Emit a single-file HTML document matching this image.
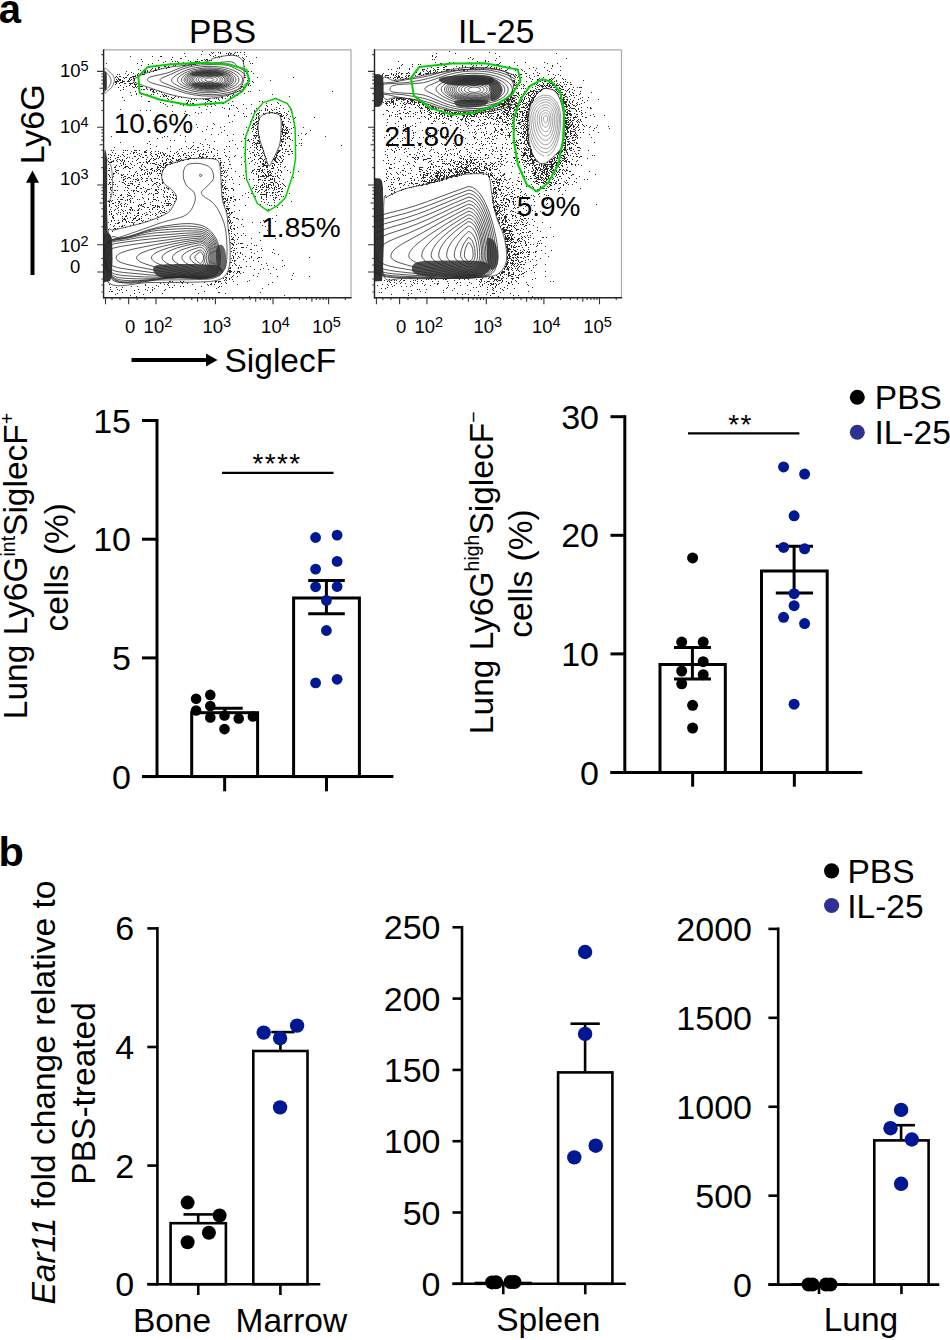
<!DOCTYPE html>
<html><head><meta charset="utf-8"><style>
html,body{margin:0;padding:0;background:#fff;}
body{width:950px;height:1340px;overflow:hidden;}
svg{display:block;font-family:"Liberation Sans", sans-serif;}
</style></head><body>
<svg width="950" height="1340" viewBox="0 0 950 1340">
<rect width="950" height="1340" fill="#fff"/>
<clipPath id="clipL"><rect x="103.6" y="49.8" width="247.4" height="248.0"/></clipPath>
<g clip-path="url(#clipL)">
<path d="M103.0,233.0L108.5,232.5L111.0,236.0L112.3,245.0L112.5,260.0L111.8,276.0L110.0,281.0L103.0,282.5Z" fill="#333" fill-opacity="1.0"/>
<path d="M104.3,73.0C104.7,70.2 106.1,71.7 106.5,73.0C106.9,74.3 106.8,78.2 106.8,81.0C106.8,83.8 106.9,88.1 106.5,89.5C106.1,90.9 104.7,92.2 104.3,89.5C103.9,86.8 103.9,75.8 104.3,73.0Z" fill="#333" fill-opacity="1.0"/>
<path d="M104.3,156.0C104.7,143.3 106.3,153.0 106.8,157.0C107.3,161.0 107.2,172.0 107.2,180.0C107.2,188.0 107.0,196.3 107.0,205.0C107.0,213.7 108.0,227.3 107.5,232.0C107.0,236.7 104.8,245.7 104.3,233.0C103.8,220.3 103.9,168.7 104.3,156.0Z" fill="#333" fill-opacity="1.0"/>
<path d="M192.0,72.5C194.3,72.0 200.7,71.6 205.0,71.5C209.3,71.4 214.8,71.6 218.0,72.0C221.2,72.4 223.7,73.3 224.0,74.0C224.3,74.7 222.7,75.8 220.0,76.2C217.3,76.6 212.0,76.5 208.0,76.5C204.0,76.5 198.8,76.5 196.0,76.2C193.2,75.9 191.7,75.1 191.0,74.5C190.3,73.9 189.7,73.0 192.0,72.5Z" fill="#333" fill-opacity="0.6"/>
<path d="M194.0,83.0C196.7,82.6 203.5,82.5 208.0,82.6C212.5,82.7 219.0,82.8 221.0,83.5C223.0,84.2 222.2,85.8 220.0,86.5C217.8,87.2 212.0,87.6 208.0,87.6C204.0,87.6 198.7,87.0 196.0,86.6C193.3,86.2 192.3,85.6 192.0,85.0C191.7,84.4 191.3,83.4 194.0,83.0Z" fill="#333" fill-opacity="0.6"/>
<path d="M155.0,266.0C159.2,263.8 176.7,264.2 185.0,264.0C193.3,263.8 199.5,264.2 205.0,264.5C210.5,264.8 215.0,264.8 218.0,266.0C221.0,267.2 223.5,270.2 223.0,272.0C222.5,273.8 220.5,276.0 215.0,277.0C209.5,278.0 199.2,277.8 190.0,277.8C180.8,277.8 165.8,279.0 160.0,277.0C154.2,275.0 150.8,268.2 155.0,266.0Z" fill="#333" fill-opacity="0.85"/>
<path d="M217.0,247.0C218.0,244.8 220.6,244.2 222.0,245.0C223.4,245.8 224.8,248.5 225.5,252.0C226.2,255.5 226.6,262.7 226.0,266.0C225.4,269.3 223.3,271.7 222.0,272.0C220.7,272.3 219.0,270.3 218.0,268.0C217.0,265.7 216.2,261.5 216.0,258.0C215.8,254.5 216.0,249.2 217.0,247.0Z" fill="#333" fill-opacity="0.75"/>
<path d="M210.9,81.3L208.4,81.4L206.4,81.0L205.1,80.3L204.9,79.8L204.9,79.3L205.4,78.8L206.5,78.3L207.9,78.0L209.4,77.9L210.9,78.0L212.3,78.3L213.3,78.8L213.8,79.3L213.9,79.8L213.4,80.4L212.4,81.0L210.9,81.3M213.4,82.4L211.4,82.7L209.4,82.8L207.4,82.7L205.0,82.3L203.4,81.7L201.9,80.8L201.5,80.3L201.4,79.8L201.4,79.3L202.2,78.3L203.0,77.8L204.1,77.3L206.1,76.8L209.9,76.5L211.9,76.7L213.9,77.0L215.4,77.6L216.6,78.3L217.0,78.8L217.3,79.8L216.9,80.7L216.1,81.3L215.2,81.8L213.4,82.4M211.9,83.8L209.4,83.9L206.5,83.8L203.9,83.4L201.9,82.8L200.4,82.1L199.2,81.3L198.5,80.3L198.4,79.3L198.9,78.5L199.5,77.8L201.4,76.8L204.6,75.8L208.4,75.4L211.9,75.5L215.4,76.0L217.9,76.9L218.9,77.5L219.7,78.3L220.2,79.3L220.1,80.3L219.4,81.3L218.8,81.8L217.4,82.5L215.9,83.1L211.9,83.8M210.4,84.8L207.4,84.8L204.4,84.4L201.4,83.8L199.4,83.0L197.9,82.3L196.8,81.3L196.2,80.3L196.1,79.8L196.3,78.8L197.1,77.8L197.9,77.2L199.4,76.3L200.9,75.7L204.9,74.8L209.4,74.5L213.9,74.8L217.9,75.7L219.4,76.3L220.9,77.2L221.6,77.8L222.3,78.8L222.4,79.8L222.1,80.8L221.3,81.8L219.7,82.8L217.9,83.6L215.4,84.2L212.9,84.6L210.4,84.8M214.9,85.3L211.4,85.6L207.4,85.6L203.9,85.3L200.4,84.6L197.4,83.5L195.3,82.3L194.8,81.8L194.0,80.8L193.9,80.3L193.8,79.3L194.3,78.3L195.2,77.3L196.6,76.3L198.4,75.4L202.4,74.3L207.4,73.6L212.4,73.7L214.9,74.0L217.4,74.4L219.4,75.0L221.3,75.8L222.9,76.8L224.0,77.8L224.5,78.8L224.7,79.3L224.6,80.3L224.1,81.3L223.1,82.3L221.6,83.3L219.9,84.0L217.4,84.8L214.9,85.3M215.4,85.9L211.4,86.2L207.4,86.2L203.4,85.9L199.4,85.0L196.0,83.8L193.6,82.3L192.4,80.8L192.3,80.3L192.3,79.3L192.7,78.3L193.5,77.3L194.8,76.3L196.9,75.2L198.9,74.5L201.4,73.8L203.9,73.4L206.9,73.1L212.4,73.1L215.4,73.4L217.9,73.9L220.4,74.6L222.1,75.3L223.9,76.3L225.1,77.3L225.8,78.3L226.2,79.8L225.6,81.3L224.8,82.3L223.4,83.3L220.9,84.5L218.4,85.3L215.4,85.9M211.9,86.8L207.4,86.8L203.4,86.5L199.6,85.8L196.3,84.8L193.2,83.3L191.4,81.8L190.7,80.3L190.8,78.8L191.8,77.3L193.0,76.3L194.7,75.3L196.9,74.4L199.4,73.6L202.4,73.0L205.4,72.6L208.4,72.4L211.4,72.4L214.4,72.6L217.4,73.1L220.3,73.8L222.4,74.5L224.4,75.5L225.9,76.5L227.1,77.8L227.6,79.3L227.4,80.8L226.4,82.3L224.4,83.8L221.9,84.9L218.9,85.8L215.4,86.5L211.9,86.8M213.4,87.3L208.9,87.5L203.9,87.2L199.4,86.4L195.4,85.3L192.2,83.8L190.2,82.3L189.2,80.8L189.0,79.8L189.2,78.8L190.2,77.3L191.3,76.3L193.4,75.0L195.9,73.9L198.9,73.0L201.9,72.4L204.9,72.0L208.4,71.8L211.9,71.8L215.4,72.1L218.4,72.6L221.4,73.4L223.9,74.3L225.9,75.3L227.4,76.4L228.6,77.8L229.1,79.3L228.9,80.8L228.0,82.3L226.1,83.8L223.9,85.0L220.9,86.0L217.4,86.8L213.4,87.3M214.4,87.8L209.4,88.1L204.4,87.8L199.4,87.1L194.9,85.9L191.4,84.4L189.0,82.8L188.1,81.8L187.5,80.8L187.4,79.8L187.6,78.8L188.5,77.3L189.9,76.1L191.9,74.8L194.4,73.7L197.4,72.7L200.4,72.0L203.9,71.5L207.9,71.2L211.4,71.2L214.9,71.5L218.4,72.0L221.4,72.6L224.4,73.6L226.8,74.8L228.4,75.8L229.8,77.3L230.5,78.8L230.6,79.8L230.4,80.8L229.6,82.3L227.9,83.8L225.4,85.2L222.4,86.3L218.9,87.2L214.4,87.8M215.4,88.3L209.9,88.7L204.4,88.4L198.9,87.7L194.4,86.5L190.2,84.8L188.5,83.8L187.2,82.8L186.4,81.8L185.9,80.8L185.7,79.8L185.9,78.8L186.8,77.3L188.5,75.8L190.9,74.3L193.4,73.2L196.4,72.3L199.9,71.4L203.9,70.9L207.9,70.6L211.9,70.6L215.4,70.9L218.9,71.4L222.4,72.2L225.4,73.2L227.9,74.3L230.0,75.8L231.4,77.3L232.0,78.8L232.1,79.8L232.0,80.8L231.5,81.8L230.7,82.8L228.9,84.3L226.0,85.8L222.9,86.9L219.4,87.7L215.4,88.3M216.4,88.8L210.4,89.2L204.4,89.0L198.4,88.2L193.4,87.0L189.2,85.3L187.4,84.3L186.0,83.3L185.0,82.3L184.3,81.3L184.0,80.3L184.2,78.8L185.1,77.3L186.7,75.8L189.0,74.3L191.9,73.0L194.9,71.9L198.9,71.0L202.9,70.4L206.9,70.0L210.9,70.0L214.9,70.2L218.9,70.7L222.9,71.6L225.9,72.5L228.7,73.8L231.1,75.3L232.6,76.8L233.2,77.8L233.6,78.8L233.6,79.8L233.5,80.8L233.0,81.8L232.3,82.8L230.6,84.3L228.0,85.8L224.9,87.0L220.9,88.1L216.4,88.8M215.9,89.8L209.9,90.1L203.4,89.9L197.4,89.0L191.9,87.6L189.4,86.7L186.9,85.6L184.9,84.5L183.2,83.3L182.3,82.3L181.6,81.3L181.3,80.3L181.6,78.8L182.5,77.3L184.7,75.3L187.4,73.7L190.9,72.1L194.4,71.0L198.4,70.1L202.9,69.4L207.4,69.1L211.9,69.1L216.9,69.5L220.9,70.1L224.9,71.0L227.9,72.0L230.9,73.4L233.4,75.1L234.9,76.8L235.5,77.8L235.8,78.8L235.9,79.8L235.7,80.8L235.3,81.8L234.7,82.8L233.7,83.8L232.4,84.9L229.4,86.5L225.4,88.0L220.9,89.1L215.9,89.8M211.9,91.3L205.4,91.2L199.4,90.6L193.4,89.5L188.4,88.0L183.4,85.9L179.9,83.8L178.4,82.3L177.7,81.3L177.4,80.3L177.5,79.3L178.0,78.3L178.7,77.3L181.0,75.3L184.4,73.2L188.4,71.4L192.9,70.0L197.4,69.0L202.4,68.3L207.4,67.9L212.9,68.0L217.9,68.3L222.4,69.0L226.9,70.1L230.9,71.6L234.2,73.3L236.8,75.3L238.3,77.3L238.7,78.3L238.9,79.8L238.6,81.3L238.1,82.3L237.0,83.8L235.9,84.8L232.9,86.7L228.4,88.6L223.4,90.0L217.4,90.9L211.9,91.3M211.4,92.8L204.4,92.7L197.9,92.0L191.9,90.9L185.9,89.1L182.9,88.0L179.4,86.5L174.5,83.8L172.6,82.3L171.8,81.3L171.5,80.3L171.7,79.3L172.3,78.3L173.3,77.3L176.9,74.8L181.9,72.0L186.4,70.1L191.4,68.6L195.9,67.6L200.9,66.9L206.9,66.4L213.4,66.4L219.4,66.9L223.9,67.5L228.4,68.6L233.4,70.4L237.1,72.3L239.8,74.3L240.9,75.4L241.9,76.8L242.3,77.8L242.6,79.3L242.5,80.8L241.9,82.3L240.9,83.8L239.4,85.3L237.9,86.4L235.9,87.6L231.4,89.5L225.4,91.2L218.4,92.3L211.4,92.8M245.9,83.5L244.8,84.8L243.8,85.8L242.4,86.9L240.4,88.2L236.4,90.1L230.9,92.0L225.9,93.1L218.9,94.2L212.4,94.6L205.4,94.5L199.4,94.1L193.4,93.2L188.4,92.1L183.4,90.7L177.4,88.5L163.4,82.8L160.8,81.3L160.1,80.3L160.1,79.8L160.3,79.3L160.7,78.8L162.3,77.8L170.9,74.3L180.4,69.9L185.4,68.1L190.9,66.6L195.4,65.7L200.4,65.0L205.9,64.7L212.4,64.5L220.9,64.7L225.4,65.1L228.4,65.6L230.9,66.5L234.4,68.0L240.4,71.0L243.6,73.3L244.9,74.5L245.9,75.8M245.9,87.5L242.4,89.6L237.9,91.6L233.4,93.1L227.4,94.5L220.9,95.5L214.9,96.0L208.4,96.1L202.4,95.9L197.9,95.4L192.4,94.6L187.4,93.6L183.4,92.5L167.7,87.3L156.2,84.3L152.4,83.1L150.3,82.3L148.5,81.3L147.5,80.3L147.3,79.8L147.3,79.3L147.6,78.8L148.0,78.3L149.4,77.5L151.0,76.8L154.6,75.8L164.2,73.8L167.8,72.8L171.9,71.3L179.9,68.0L184.4,66.5L187.9,65.6L192.4,64.6L196.4,64.0L201.4,63.4L206.4,63.1L217.0,62.8L227.4,61.7L229.4,61.7L231.4,61.9L233.0,62.3L234.4,63.0L235.2,63.8L236.8,65.8L237.9,66.8L245.9,71.7" fill="none" stroke="#2a2a2a" stroke-width="0.8" stroke-linejoin="round"/>
<path d="M200.7,263.3L200.2,263.4L199.7,263.3L198.0,262.2L196.8,261.2L195.5,259.7L195.1,258.7L194.9,257.7L195.2,256.2L196.3,254.7L198.1,253.2L199.7,252.1L200.2,252.0L201.5,252.7L202.4,253.7L203.2,255.2L203.6,257.2L203.4,259.2L202.8,261.2L201.7,262.6L200.7,263.3M200.7,265.7L199.7,265.7L198.2,265.1L195.4,263.7L193.0,262.2L191.9,261.2L191.0,260.2L190.4,259.2L190.0,257.7L190.2,256.7L190.6,255.7L191.4,254.7L192.5,253.7L195.7,251.7L199.1,250.2L200.2,249.9L201.2,250.2L202.1,250.7L203.5,252.2L204.2,253.4L204.7,254.7L205.1,257.2L204.8,260.2L203.9,262.7L203.2,263.8L202.5,264.7L201.7,265.2L200.7,265.7M201.7,268.2L200.7,268.5L199.7,268.6L195.2,267.2L189.7,265.0L187.1,263.7L185.5,262.7L183.2,260.7L182.5,259.7L182.1,258.7L181.9,257.7L182.1,256.7L182.8,255.2L184.3,253.7L186.5,252.2L189.4,250.7L193.2,249.2L199.7,247.2L200.2,247.2L201.2,247.4L202.7,248.1L204.4,249.7L205.2,250.9L205.9,252.2L206.7,255.2L206.9,258.2L206.4,261.7L205.3,264.7L203.7,266.8L202.7,267.6L201.7,268.2M201.7,270.7L200.7,271.0L199.7,271.0L192.0,269.2L185.2,267.0L179.5,264.7L175.7,262.4L174.2,261.2L173.4,260.2L172.8,259.2L172.5,258.2L172.5,257.2L172.7,256.2L173.3,255.2L174.2,254.2L177.0,252.2L180.7,250.2L184.8,248.7L191.5,246.7L199.7,244.8L201.2,245.0L202.7,245.6L204.2,246.6L205.2,247.6L206.2,248.9L207.2,250.7L207.7,252.2L208.2,254.2L208.5,256.2L208.6,258.2L208.3,260.7L207.9,262.7L207.3,264.7L206.6,266.2L205.7,267.7L204.3,269.2L203.2,270.0L201.7,270.7M201.7,272.7L199.7,272.9L187.7,270.5L179.1,268.2L172.1,265.7L166.9,263.2L164.6,261.7L163.5,260.7L162.7,259.7L162.2,258.7L162.1,257.2L162.4,256.2L163.0,255.2L164.0,254.2L166.9,252.2L171.1,250.2L177.2,247.9L184.7,245.8L193.2,243.9L199.7,242.8L200.7,242.8L202.2,243.3L203.7,244.0L205.2,245.2L206.7,246.9L207.8,248.7L208.7,250.7L209.5,253.2L209.8,255.7L209.9,258.2L209.7,260.7L209.3,263.2L208.5,265.7L207.5,267.7L206.2,269.6L204.7,271.1L203.2,272.1L201.7,272.7M200.2,274.2L190.2,272.7L180.7,270.8L171.2,268.4L163.2,265.8L158.0,263.7L155.2,262.2L153.7,261.2L152.6,260.2L151.9,259.2L151.5,258.2L151.7,256.7L152.2,255.7L153.1,254.7L154.4,253.7L157.0,252.2L162.2,249.9L169.2,247.6L179.2,244.9L189.2,242.8L199.7,241.2L200.7,241.3L202.2,241.7L204.2,242.7L206.0,244.2L207.7,246.2L208.9,248.2L209.9,250.7L210.5,253.2L210.9,256.2L210.9,259.2L210.5,262.2L209.8,265.2L208.7,267.9L207.4,270.2L205.7,272.0L204.2,273.0L202.2,273.8L200.2,274.2M201.2,275.2L199.7,275.2L192.2,274.4L178.7,272.3L166.7,269.9L155.2,267.0L146.0,264.2L142.2,262.7L140.2,261.7L137.9,260.2L137.0,259.2L136.6,258.2L136.6,257.2L137.1,256.2L138.0,255.2L139.3,254.2L142.1,252.7L148.6,250.2L157.1,247.7L170.2,244.5L183.7,241.8L190.7,240.7L199.7,239.7L201.7,240.0L203.7,240.8L205.8,242.2L207.7,244.2L209.2,246.4L210.5,249.2L211.4,252.2L211.9,255.2L212.0,258.2L211.7,261.7L211.1,264.7L210.1,267.7L208.8,270.2L207.3,272.2L205.5,273.7L203.5,274.7L201.2,275.2M203.2,275.7L200.2,276.1L197.2,275.9L184.9,274.7L172.9,273.2L157.7,270.8L136.8,266.7L126.3,264.2L123.1,263.2L120.5,262.2L118.6,261.2L116.8,259.7L116.2,258.7L116.2,257.2L116.9,255.7L117.9,254.7L119.3,253.7L121.3,252.7L127.0,250.7L135.0,248.7L154.2,244.8L179.7,240.4L192.2,238.7L199.7,238.1L201.2,238.2L203.7,239.1L205.7,240.3L207.7,242.2L209.3,244.2L210.7,246.7L211.8,249.7L212.6,252.7L213.0,256.2L213.0,259.7L212.5,263.2L211.6,266.7L210.4,269.7L208.9,272.2L207.5,273.7L205.7,274.8L203.2,275.7M202.2,276.7L199.7,276.8L194.2,276.4L158.7,273.4L127.7,269.3L121.7,268.4L117.2,267.5L114.2,266.6L112.2,265.7L110.7,264.6L109.5,263.2L108.4,261.2L107.7,259.1L107.5,256.7L107.7,254.0L108.2,252.5L109.0,251.2L109.9,250.2L111.2,249.1L112.7,248.4L114.2,247.9L120.7,246.4L135.7,244.1L182.7,237.8L190.2,237.0L197.2,236.5L200.2,236.4L201.7,236.7L204.2,237.7L206.5,239.2L208.6,241.2L210.4,243.7L211.9,246.7L213.0,249.7L213.8,253.7L214.1,257.2L213.9,261.2L213.2,265.2L212.1,268.7L210.7,271.7L209.2,273.7L207.3,275.2L205.0,276.2L202.2,276.7M203.2,277.2L199.7,277.3L177.2,276.0L159.2,275.5L151.7,275.1L124.2,272.5L118.7,271.8L115.2,271.1L112.2,269.9L110.2,268.4L108.7,266.6L107.2,263.8L106.2,260.7L105.6,257.2L105.6,253.7L106.2,250.7L106.7,249.1L107.7,247.3L108.7,246.2L109.7,245.4L111.2,244.7L112.6,244.2L117.2,243.2L140.7,240.0L181.7,235.7L188.2,235.2L194.7,234.8L199.7,234.7L201.7,235.0L204.2,236.0L206.7,237.5L209.0,239.7L210.9,242.2L212.5,245.2L213.8,248.7L214.7,252.2L215.1,256.2L215.0,260.7L214.4,264.7L213.5,268.2L212.0,271.7L210.7,273.7L209.7,274.7L208.7,275.4L206.2,276.6L203.2,277.2M202.2,277.7L199.2,277.7L182.7,276.9L174.7,276.6L167.2,276.7L153.7,277.1L144.7,276.9L135.2,276.4L124.2,275.6L119.2,275.0L115.7,274.3L113.2,273.4L111.7,272.4L110.7,271.6L108.7,269.2L107.7,267.5L106.7,265.3L105.3,260.7L104.7,256.7L104.7,252.7L105.4,249.2L106.2,246.9L107.7,244.7L109.6,243.2L111.7,242.2L116.2,241.2L125.7,239.9L139.7,237.4L150.7,236.0L184.2,233.3L191.2,233.0L198.2,232.9L200.2,233.0L202.2,233.4L205.2,234.7L207.7,236.5L210.2,239.1L212.3,242.2L214.0,245.7L215.1,249.2L216.0,253.7L216.2,257.7L215.9,262.2L215.1,266.7L214.0,270.2L212.5,273.2L210.7,275.2L208.7,276.4L206.2,277.2L202.2,277.7M149.7,278.7L143.2,278.9L136.7,278.8L128.2,278.5L122.2,278.0L118.7,277.6L116.2,277.0L114.2,276.2L112.2,274.9L110.7,273.5L109.7,272.3L107.7,269.2L106.7,267.0L105.7,264.3L104.6,259.7L104.2,255.2L104.3,251.2L104.7,249.0L105.2,247.4L106.0,245.7L107.0,244.2L108.2,242.9L109.3,242.2L110.7,241.4L113.0,240.7L116.2,240.0L126.7,238.4L140.7,235.2L146.2,234.1L151.2,233.4L157.7,232.7L185.7,230.9L192.2,230.9L199.7,231.1L202.7,231.8L205.7,233.2L208.2,235.0L210.7,237.6L212.9,240.7L214.0,242.7L215.0,245.2L216.4,249.7L217.1,254.7L217.2,260.2L216.4,265.7L215.8,268.2L215.0,270.7L214.1,272.7L213.1,274.2L212.2,275.2L210.9,276.2L209.2,276.9L207.7,277.4L205.7,277.7L202.7,277.9L199.2,278.0L181.2,277.2L173.7,277.2L165.7,277.5L149.7,278.7M137.2,280.7L131.7,280.7L125.7,280.5L121.2,280.0L118.2,279.4L115.7,278.6L113.2,277.2L111.2,275.4L109.7,273.6L107.7,270.3L105.7,265.4L104.8,262.2L104.3,259.7L103.9,255.2L104.0,251.2L104.7,247.5L105.5,245.7L106.2,244.3L107.2,243.0L108.2,242.1L110.2,240.9L113.2,239.9L127.7,237.5L132.2,236.3L144.7,232.7L151.7,231.2L157.7,230.4L164.7,229.7L177.7,228.9L186.2,228.6L192.7,228.7L199.7,229.2L202.2,229.8L204.2,230.5L207.2,232.3L210.0,234.7L212.5,237.7L214.6,241.2L216.4,245.7L217.7,250.7L218.1,253.2L218.3,256.2L218.1,261.7L217.6,265.2L217.1,267.7L215.8,271.7L215.1,273.2L214.1,274.7L213.1,275.7L211.6,276.7L210.2,277.2L208.2,277.7L205.7,278.0L202.7,278.2L199.2,278.2L180.2,277.5L169.7,277.7L162.2,278.3L146.2,280.1L137.2,280.7M132.2,282.2L127.2,282.1L122.7,281.8L119.7,281.2L116.7,280.3L114.2,279.0L112.2,277.4L110.2,275.2L108.2,272.0L106.2,267.6L104.7,262.7L104.2,260.2L103.8,257.2L103.6,252.7L104.2,248.7L105.2,245.5L106.7,243.1L107.7,242.1L109.2,241.0L111.2,240.1L114.7,239.2L123.7,237.8L129.7,236.5L134.7,235.0L146.5,231.2L154.7,229.1L161.2,228.0L168.7,227.1L178.2,226.4L185.7,226.1L192.2,226.3L198.7,227.0L201.2,227.5L204.2,228.6L207.2,230.3L208.7,231.4L210.6,233.2L213.0,236.2L215.4,240.2L216.6,242.7L217.5,245.2L218.6,249.7L219.3,255.2L219.2,260.7L219.0,263.7L218.5,266.7L217.9,269.2L217.0,271.7L216.3,273.2L215.4,274.7L214.5,275.7L213.1,276.7L211.7,277.2L209.7,277.8L207.2,278.1L204.2,278.3L198.2,278.3L179.7,277.7L174.2,277.8L169.2,278.0L161.2,278.8L142.7,281.4L137.2,281.9L132.2,282.2M131.2,283.2L126.7,283.1L122.7,282.8L119.7,282.2L116.7,281.1L114.2,279.7L112.2,278.1L110.2,275.7L108.2,272.5L106.2,268.1L104.6,262.7L103.6,257.2L103.5,252.7L103.6,250.7L104.1,248.2L105.2,245.2L106.8,242.7L108.2,241.4L109.3,240.7L111.2,239.8L113.4,239.2L124.7,237.3L130.2,236.0L135.2,234.4L147.7,230.1L152.6,228.7L157.2,227.5L164.2,226.1L171.7,225.0L180.7,223.9L186.7,223.6L191.7,223.7L197.2,224.4L201.2,225.3L204.7,226.7L208.2,228.9L211.2,231.7L214.0,235.2L216.1,238.7L218.0,243.2L219.5,248.7L220.3,254.2L220.4,259.7L220.1,263.2L219.7,266.2L219.0,269.2L218.4,271.2L217.6,273.2L216.6,274.7L215.8,275.7L214.4,276.7L212.7,277.4L210.7,277.9L208.2,278.2L205.2,278.4L197.2,278.4L185.7,278.0L178.7,277.9L173.7,278.0L168.2,278.3L160.2,279.3L141.2,282.3L135.7,282.9L131.2,283.2" fill="none" stroke="#2a2a2a" stroke-width="0.8" stroke-linejoin="round"/>
<path d="M104.3,69.5C105.1,66.1 107.5,70.4 109.0,71.5C110.5,72.6 112.6,74.4 113.5,76.0C114.4,77.6 114.5,79.2 114.3,81.0C114.0,82.8 113.0,85.4 112.0,87.0C111.0,88.6 109.3,89.7 108.0,90.5C106.7,91.3 104.9,95.3 104.3,91.8C103.7,88.3 103.5,72.9 104.3,69.5Z" fill="none" stroke="#555" stroke-width="0.8"/>
<path d="M104.3,72.0C104.8,69.5 106.5,73.0 107.5,74.0C108.5,75.0 109.9,76.7 110.5,78.0C111.1,79.3 111.2,80.6 111.0,82.0C110.8,83.4 110.1,85.3 109.0,86.5C107.9,87.7 105.1,91.4 104.3,89.0C103.5,86.6 103.8,74.5 104.3,72.0Z" fill="none" stroke="#555" stroke-width="0.8"/>
<path d="M104.3,159.0C104.9,152.2 106.8,159.5 108.0,161.0C109.2,162.5 110.8,164.0 111.5,168.0C112.2,172.0 112.6,180.0 112.5,185.0C112.4,190.0 111.9,195.2 111.0,198.0C110.1,200.8 108.1,200.8 107.0,201.5C105.9,202.2 104.8,209.1 104.3,202.0C103.8,194.9 103.7,165.8 104.3,159.0Z" fill="none" stroke="#555" stroke-width="0.8"/>
<path d="M133.9,79.4C135.5,77.8 140.2,75.2 145.5,73.3C150.8,71.4 159.2,69.2 166.0,67.8C172.8,66.4 179.8,66.1 186.6,65.1C193.4,64.1 202.5,62.8 207.1,61.6C211.7,60.5 210.5,59.2 213.9,58.2C217.3,57.2 223.7,55.8 227.6,55.5C231.5,55.2 234.7,55.3 237.2,56.2C239.7,57.1 241.6,59.0 242.7,60.9C243.8,62.8 243.8,65.0 244.0,67.8C244.2,70.5 244.4,74.4 244.0,77.4C243.6,80.4 243.4,82.9 241.3,85.6C239.2,88.3 236.3,91.8 231.7,93.8C227.1,95.8 220.3,97.1 213.9,97.9C207.5,98.7 200.2,99.0 193.4,98.6C186.6,98.1 178.6,96.5 172.9,95.2C167.2,93.9 163.8,92.5 159.2,91.0C154.6,89.5 149.4,87.7 145.5,86.3C141.6,84.9 137.9,83.9 136.0,82.8C134.1,81.7 132.3,81.0 133.9,79.4Z" fill="none" stroke="#333" stroke-width="0.8"/>
<path d="M259.0,119.5C260.0,117.0 262.1,115.3 264.2,114.2C266.3,113.1 269.2,112.6 271.6,112.7C274.1,112.8 277.3,113.7 278.9,114.8C280.5,115.9 280.6,116.6 281.0,119.5C281.4,122.4 281.2,128.0 281.0,132.0C280.8,136.0 280.6,140.2 279.9,143.5C279.2,146.8 277.9,149.2 276.8,151.8C275.7,154.4 274.3,156.8 273.1,159.2C271.9,161.6 270.6,165.8 269.5,166.0C268.4,166.2 267.4,162.9 266.3,160.2C265.2,157.5 264.3,153.3 263.2,149.8C262.1,146.3 260.4,142.8 259.5,139.3C258.6,135.8 258.1,132.2 258.0,128.9C257.9,125.6 258.0,122.0 259.0,119.5Z" fill="none" stroke="#333" stroke-width="0.9"/>
<path d="M108.0,282.0C115.0,290.2 134.7,282.5 150.0,282.5C165.3,282.5 188.7,282.4 200.0,282.0C211.3,281.6 213.7,281.2 218.0,280.0C222.3,278.8 224.1,277.2 226.0,274.5C227.9,271.8 229.0,268.9 229.7,264.0C230.4,259.1 230.2,250.9 230.0,245.0C229.8,239.1 228.8,233.6 228.2,228.4C227.6,223.2 227.7,218.6 226.7,213.7C225.7,208.8 223.3,205.2 222.3,199.0C221.3,192.8 221.3,182.6 220.8,176.8C220.3,171.0 220.5,166.9 219.5,164.0C218.5,161.1 218.2,160.1 214.9,159.2C211.7,158.2 204.4,158.4 200.0,158.3C195.6,158.2 192.3,158.3 188.4,158.9C184.5,159.5 180.3,160.9 176.6,162.1C172.9,163.2 168.8,163.8 166.3,165.8C163.9,167.8 162.4,171.1 161.9,173.9C161.4,176.7 161.7,180.0 163.4,182.7C165.1,185.4 169.8,187.6 172.0,190.0C174.2,192.4 176.4,194.3 176.6,197.0C176.8,199.7 174.7,203.2 173.0,206.0C171.3,208.8 171.1,210.9 166.3,213.7C161.5,216.4 152.8,219.8 144.2,222.5C135.6,225.2 120.7,228.2 114.7,229.9C108.7,231.7 109.1,224.3 108.0,233.0C106.9,241.7 101.0,273.8 108.0,282.0Z" fill="none" stroke="#333" stroke-width="0.8"/>
<path d="M184.0,169.5C184.8,167.2 185.7,165.3 188.4,164.3C191.1,163.3 196.5,163.0 200.2,163.6C203.9,164.2 208.3,165.6 210.5,168.0C212.7,170.4 214.2,175.1 213.5,178.3C212.8,181.5 208.1,185.0 206.1,187.2C204.1,189.4 202.2,190.1 201.7,191.6C201.2,193.1 201.0,193.8 203.2,196.0C205.4,198.2 211.5,200.4 214.9,204.8C218.3,209.2 221.8,216.6 223.8,222.5C225.8,228.4 226.2,233.6 226.7,240.2C227.1,246.8 227.3,256.5 226.5,262.0C225.7,267.5 224.1,270.3 222.0,273.0C219.9,275.7 217.7,276.9 214.0,278.0C210.3,279.1 210.7,279.2 200.0,279.5C189.3,279.8 164.7,280.0 150.0,280.0C135.3,280.0 118.5,286.2 112.0,279.5C105.5,272.8 109.8,247.0 111.0,240.0C112.2,233.0 114.9,238.7 119.2,237.3C123.5,235.9 129.7,233.9 136.8,231.4C143.9,228.9 153.8,225.2 161.9,222.5C170.0,219.8 180.1,218.4 185.5,215.2C190.9,212.0 192.8,207.1 194.3,203.4C195.8,199.7 195.5,195.9 194.3,193.0C193.1,190.1 188.8,188.5 187.0,186.0C185.2,183.5 184.0,180.8 183.5,178.0C183.0,175.2 183.2,171.8 184.0,169.5Z" fill="none" stroke="#333" stroke-width="0.8"/>
<path d="M200.0,174.2C200.4,174.2 202.2,175.0 202.2,175.4C202.2,175.8 200.4,176.6 200.0,176.6C199.6,176.6 199.6,175.8 199.6,175.4C199.6,175.0 199.6,174.2 200.0,174.2Z" fill="none" stroke="#333" stroke-width="0.8"/>
<path fill="#2a2a2a" d="M113,215h1.0v1.0h-1.0zM170,205h1.0v1.0h-1.0zM301,133h1.0v1.0h-1.0zM147,89h1.0v1.0h-1.0zM110,224h1.0v1.0h-1.0zM229,233h1.0v1.0h-1.0zM212,53h1.0v1.0h-1.0zM162,182h1.0v1.0h-1.0zM257,149h1.0v1.0h-1.0zM121,209h1.0v1.0h-1.0zM226,277h1.0v1.0h-1.0zM137,86h1.0v1.0h-1.0zM221,283h1.0v1.0h-1.0zM172,111h1.0v1.0h-1.0zM281,162h1.0v1.0h-1.0zM232,121h1.0v1.0h-1.0zM182,151h1.0v1.0h-1.0zM132,83h1.0v1.0h-1.0zM263,153h1.0v1.0h-1.0zM218,281h1.0v1.0h-1.0zM126,216h1.0v1.0h-1.0zM229,271h1.0v1.0h-1.0zM230,197h1.0v1.0h-1.0zM227,199h1.0v1.0h-1.0zM141,89h1.0v1.0h-1.0zM230,53h1.0v1.0h-1.0zM256,145h1.0v1.0h-1.0zM136,160h1.0v1.0h-1.0zM257,128h1.0v1.0h-1.0zM180,156h1.0v1.0h-1.0zM127,154h1.0v1.0h-1.0zM257,143h1.0v1.0h-1.0zM263,175h1.0v1.0h-1.0zM161,215h1.0v1.0h-1.0zM115,81h1.0v1.0h-1.0zM148,218h1.0v1.0h-1.0zM272,94h1.0v1.0h-1.0zM259,142h1.0v1.0h-1.0zM114,190h1.0v1.0h-1.0zM268,176h1.0v1.0h-1.0zM255,125h1.0v1.0h-1.0zM233,134h1.0v1.0h-1.0zM260,194h1.0v1.0h-1.0zM182,160h1.0v1.0h-1.0zM291,133h1.0v1.0h-1.0zM255,191h1.0v1.0h-1.0zM145,167h1.0v1.0h-1.0zM277,192h1.0v1.0h-1.0zM234,261h1.0v1.0h-1.0zM161,65h1.0v1.0h-1.0zM115,190h1.0v1.0h-1.0zM287,114h1.0v1.0h-1.0zM152,201h1.0v1.0h-1.0zM276,195h1.0v1.0h-1.0zM225,188h1.0v1.0h-1.0zM243,58h1.0v1.0h-1.0zM229,161h1.0v1.0h-1.0zM114,228h1.0v1.0h-1.0zM149,211h1.0v1.0h-1.0zM253,117h1.0v1.0h-1.0zM250,147h1.0v1.0h-1.0zM197,59h1.0v1.0h-1.0zM289,145h1.0v1.0h-1.0zM125,187h1.0v1.0h-1.0zM281,196h1.0v1.0h-1.0zM157,155h1.0v1.0h-1.0zM245,193h1.0v1.0h-1.0zM210,104h1.0v1.0h-1.0zM265,226h1.0v1.0h-1.0zM256,124h1.0v1.0h-1.0zM283,132h1.0v1.0h-1.0zM122,199h1.0v1.0h-1.0zM232,222h1.0v1.0h-1.0zM152,170h1.0v1.0h-1.0zM127,194h1.0v1.0h-1.0zM113,218h1.0v1.0h-1.0zM245,171h1.0v1.0h-1.0zM114,155h1.0v1.0h-1.0zM223,192h1.0v1.0h-1.0zM257,77h1.0v1.0h-1.0zM265,178h1.0v1.0h-1.0zM156,146h1.0v1.0h-1.0zM235,155h1.0v1.0h-1.0zM125,178h1.0v1.0h-1.0zM191,62h1.0v1.0h-1.0zM263,151h1.0v1.0h-1.0zM124,218h1.0v1.0h-1.0zM243,134h1.0v1.0h-1.0zM172,287h1.0v1.0h-1.0zM253,82h1.0v1.0h-1.0zM256,118h1.0v1.0h-1.0zM276,157h1.0v1.0h-1.0zM129,81h1.0v1.0h-1.0zM144,89h1.0v1.0h-1.0zM149,189h1.0v1.0h-1.0zM250,91h1.0v1.0h-1.0zM113,150h1.0v1.0h-1.0zM230,96h1.0v1.0h-1.0zM138,73h1.0v1.0h-1.0zM257,152h1.0v1.0h-1.0zM230,220h1.0v1.0h-1.0zM156,200h1.0v1.0h-1.0zM152,63h1.0v1.0h-1.0zM135,218h1.0v1.0h-1.0zM250,157h1.0v1.0h-1.0zM224,176h1.0v1.0h-1.0zM160,184h1.0v1.0h-1.0zM267,192h1.0v1.0h-1.0zM199,154h1.0v1.0h-1.0zM165,165h1.0v1.0h-1.0zM172,158h1.0v1.0h-1.0zM171,97h1.0v1.0h-1.0zM110,162h1.0v1.0h-1.0zM242,57h1.0v1.0h-1.0zM206,152h1.0v1.0h-1.0zM210,101h1.0v1.0h-1.0zM258,120h1.0v1.0h-1.0zM248,197h1.0v1.0h-1.0zM267,165h1.0v1.0h-1.0zM275,197h1.0v1.0h-1.0zM262,189h1.0v1.0h-1.0zM145,289h1.0v1.0h-1.0zM247,80h1.0v1.0h-1.0zM197,61h1.0v1.0h-1.0zM228,229h1.0v1.0h-1.0zM125,83h1.0v1.0h-1.0zM136,84h1.0v1.0h-1.0zM144,174h1.0v1.0h-1.0zM157,197h1.0v1.0h-1.0zM180,158h1.0v1.0h-1.0zM265,162h1.0v1.0h-1.0zM163,165h1.0v1.0h-1.0zM157,168h1.0v1.0h-1.0zM203,99h1.0v1.0h-1.0zM228,217h1.0v1.0h-1.0zM265,109h1.0v1.0h-1.0zM160,173h1.0v1.0h-1.0zM131,208h1.0v1.0h-1.0zM170,146h1.0v1.0h-1.0zM216,288h1.0v1.0h-1.0zM118,203h1.0v1.0h-1.0zM234,248h1.0v1.0h-1.0zM214,141h1.0v1.0h-1.0zM158,200h1.0v1.0h-1.0zM231,53h1.0v1.0h-1.0zM180,135h1.0v1.0h-1.0zM224,201h1.0v1.0h-1.0zM279,108h1.0v1.0h-1.0zM260,157h1.0v1.0h-1.0zM130,217h1.0v1.0h-1.0zM233,54h1.0v1.0h-1.0zM269,172h1.0v1.0h-1.0zM127,150h1.0v1.0h-1.0zM175,96h1.0v1.0h-1.0zM158,158h1.0v1.0h-1.0zM261,153h1.0v1.0h-1.0zM177,130h1.0v1.0h-1.0zM221,97h1.0v1.0h-1.0zM157,186h1.0v1.0h-1.0zM175,198h1.0v1.0h-1.0zM224,202h1.0v1.0h-1.0zM271,182h1.0v1.0h-1.0zM238,268h1.0v1.0h-1.0zM279,150h1.0v1.0h-1.0zM193,154h1.0v1.0h-1.0zM231,239h1.0v1.0h-1.0zM285,134h1.0v1.0h-1.0zM231,243h1.0v1.0h-1.0zM165,166h1.0v1.0h-1.0zM284,145h1.0v1.0h-1.0zM218,52h1.0v1.0h-1.0zM263,113h1.0v1.0h-1.0zM232,101h1.0v1.0h-1.0zM169,156h1.0v1.0h-1.0zM176,282h1.0v1.0h-1.0zM258,182h1.0v1.0h-1.0zM188,100h1.0v1.0h-1.0zM248,140h1.0v1.0h-1.0zM164,192h1.0v1.0h-1.0zM182,282h1.0v1.0h-1.0zM257,126h1.0v1.0h-1.0zM254,159h1.0v1.0h-1.0zM219,100h1.0v1.0h-1.0zM267,110h1.0v1.0h-1.0zM254,169h1.0v1.0h-1.0zM262,101h1.0v1.0h-1.0zM228,100h1.0v1.0h-1.0zM260,158h1.0v1.0h-1.0zM217,150h1.0v1.0h-1.0zM283,126h1.0v1.0h-1.0zM131,79h1.0v1.0h-1.0zM205,102h1.0v1.0h-1.0zM118,210h1.0v1.0h-1.0zM220,52h1.0v1.0h-1.0zM261,198h1.0v1.0h-1.0zM129,83h1.0v1.0h-1.0zM130,77h1.0v1.0h-1.0zM233,190h1.0v1.0h-1.0zM226,210h1.0v1.0h-1.0zM290,109h1.0v1.0h-1.0zM116,165h1.0v1.0h-1.0zM274,188h1.0v1.0h-1.0zM269,175h1.0v1.0h-1.0zM127,174h1.0v1.0h-1.0zM118,173h1.0v1.0h-1.0zM271,173h1.0v1.0h-1.0zM228,159h1.0v1.0h-1.0zM232,265h1.0v1.0h-1.0zM237,284h1.0v1.0h-1.0zM260,146h1.0v1.0h-1.0zM126,222h1.0v1.0h-1.0zM164,66h1.0v1.0h-1.0zM251,139h1.0v1.0h-1.0zM278,152h1.0v1.0h-1.0zM128,161h1.0v1.0h-1.0zM278,188h1.0v1.0h-1.0zM165,200h1.0v1.0h-1.0zM215,281h1.0v1.0h-1.0zM213,52h1.0v1.0h-1.0zM207,150h1.0v1.0h-1.0zM263,165h1.0v1.0h-1.0zM126,166h1.0v1.0h-1.0zM210,112h1.0v1.0h-1.0zM120,212h1.0v1.0h-1.0zM123,77h1.0v1.0h-1.0zM271,179h1.0v1.0h-1.0zM272,179h1.0v1.0h-1.0zM130,202h1.0v1.0h-1.0zM131,77h1.0v1.0h-1.0zM279,188h1.0v1.0h-1.0zM136,171h1.0v1.0h-1.0zM235,264h1.0v1.0h-1.0zM287,170h1.0v1.0h-1.0zM282,128h1.0v1.0h-1.0zM158,286h1.0v1.0h-1.0zM129,85h1.0v1.0h-1.0zM281,146h1.0v1.0h-1.0zM217,153h1.0v1.0h-1.0zM118,79h1.0v1.0h-1.0zM159,91h1.0v1.0h-1.0zM136,93h1.0v1.0h-1.0zM197,147h1.0v1.0h-1.0zM156,131h1.0v1.0h-1.0zM150,204h1.0v1.0h-1.0zM112,203h1.0v1.0h-1.0zM151,151h1.0v1.0h-1.0zM282,161h1.0v1.0h-1.0zM231,277h1.0v1.0h-1.0zM188,159h1.0v1.0h-1.0zM193,158h1.0v1.0h-1.0zM150,219h1.0v1.0h-1.0zM240,88h1.0v1.0h-1.0zM243,63h1.0v1.0h-1.0zM274,181h1.0v1.0h-1.0zM163,182h1.0v1.0h-1.0zM262,185h1.0v1.0h-1.0zM271,175h1.0v1.0h-1.0zM266,177h1.0v1.0h-1.0zM266,175h1.0v1.0h-1.0zM176,63h1.0v1.0h-1.0zM178,97h1.0v1.0h-1.0zM150,66h1.0v1.0h-1.0zM134,196h1.0v1.0h-1.0zM245,77h1.0v1.0h-1.0zM120,142h1.0v1.0h-1.0zM280,184h1.0v1.0h-1.0zM117,170h1.0v1.0h-1.0zM259,136h1.0v1.0h-1.0zM131,286h1.0v1.0h-1.0zM126,158h1.0v1.0h-1.0zM130,209h1.0v1.0h-1.0zM263,160h1.0v1.0h-1.0zM196,100h1.0v1.0h-1.0zM155,215h1.0v1.0h-1.0zM160,102h1.0v1.0h-1.0zM263,164h1.0v1.0h-1.0zM256,108h1.0v1.0h-1.0zM122,154h1.0v1.0h-1.0zM166,187h1.0v1.0h-1.0zM275,221h1.0v1.0h-1.0zM252,63h1.0v1.0h-1.0zM256,148h1.0v1.0h-1.0zM277,155h1.0v1.0h-1.0zM267,167h1.0v1.0h-1.0zM211,106h1.0v1.0h-1.0zM133,202h1.0v1.0h-1.0zM138,191h1.0v1.0h-1.0zM268,269h1.0v1.0h-1.0zM124,160h1.0v1.0h-1.0zM289,96h1.0v1.0h-1.0zM261,172h1.0v1.0h-1.0zM138,210h1.0v1.0h-1.0zM108,201h1.0v1.0h-1.0zM115,223h1.0v1.0h-1.0zM220,163h1.0v1.0h-1.0zM219,292h1.0v1.0h-1.0zM179,159h1.0v1.0h-1.0zM124,167h1.0v1.0h-1.0zM111,136h1.0v1.0h-1.0zM118,223h1.0v1.0h-1.0zM290,139h1.0v1.0h-1.0zM232,260h1.0v1.0h-1.0zM259,119h1.0v1.0h-1.0zM150,215h1.0v1.0h-1.0zM167,284h1.0v1.0h-1.0zM275,160h1.0v1.0h-1.0zM124,83h1.0v1.0h-1.0zM262,176h1.0v1.0h-1.0zM124,225h1.0v1.0h-1.0zM223,198h1.0v1.0h-1.0zM110,154h1.0v1.0h-1.0zM274,187h1.0v1.0h-1.0zM230,268h1.0v1.0h-1.0zM232,212h1.0v1.0h-1.0zM119,181h1.0v1.0h-1.0zM127,75h1.0v1.0h-1.0zM125,210h1.0v1.0h-1.0zM226,176h1.0v1.0h-1.0zM227,170h1.0v1.0h-1.0zM193,149h1.0v1.0h-1.0zM283,124h1.0v1.0h-1.0zM135,86h1.0v1.0h-1.0zM264,176h1.0v1.0h-1.0zM283,127h1.0v1.0h-1.0zM163,163h1.0v1.0h-1.0zM190,148h1.0v1.0h-1.0zM135,217h1.0v1.0h-1.0zM191,152h1.0v1.0h-1.0zM213,103h1.0v1.0h-1.0zM252,131h1.0v1.0h-1.0zM212,158h1.0v1.0h-1.0zM238,243h1.0v1.0h-1.0zM278,170h1.0v1.0h-1.0zM114,147h1.0v1.0h-1.0zM145,155h1.0v1.0h-1.0zM157,191h1.0v1.0h-1.0zM255,162h1.0v1.0h-1.0zM187,63h1.0v1.0h-1.0zM228,213h1.0v1.0h-1.0zM116,81h1.0v1.0h-1.0zM129,199h1.0v1.0h-1.0zM218,98h1.0v1.0h-1.0zM168,283h1.0v1.0h-1.0zM216,98h1.0v1.0h-1.0zM164,203h1.0v1.0h-1.0zM240,91h1.0v1.0h-1.0zM273,190h1.0v1.0h-1.0zM168,66h1.0v1.0h-1.0zM264,191h1.0v1.0h-1.0zM155,183h1.0v1.0h-1.0zM172,192h1.0v1.0h-1.0zM137,199h1.0v1.0h-1.0zM246,116h1.0v1.0h-1.0zM177,162h1.0v1.0h-1.0zM154,171h1.0v1.0h-1.0zM115,202h1.0v1.0h-1.0zM286,132h1.0v1.0h-1.0zM110,188h1.0v1.0h-1.0zM123,163h1.0v1.0h-1.0zM137,154h1.0v1.0h-1.0zM273,163h1.0v1.0h-1.0zM251,256h1.0v1.0h-1.0zM147,173h1.0v1.0h-1.0zM263,194h1.0v1.0h-1.0zM277,158h1.0v1.0h-1.0zM286,127h1.0v1.0h-1.0zM167,98h1.0v1.0h-1.0zM222,98h1.0v1.0h-1.0zM151,172h1.0v1.0h-1.0zM152,156h1.0v1.0h-1.0zM213,56h1.0v1.0h-1.0zM258,118h1.0v1.0h-1.0zM117,77h1.0v1.0h-1.0zM256,147h1.0v1.0h-1.0zM230,242h1.0v1.0h-1.0zM219,286h1.0v1.0h-1.0zM237,239h1.0v1.0h-1.0zM173,198h1.0v1.0h-1.0zM230,228h1.0v1.0h-1.0zM260,179h1.0v1.0h-1.0zM116,170h1.0v1.0h-1.0zM132,220h1.0v1.0h-1.0zM241,141h1.0v1.0h-1.0zM162,180h1.0v1.0h-1.0zM229,208h1.0v1.0h-1.0zM309,276h1.0v1.0h-1.0zM252,188h1.0v1.0h-1.0zM109,192h1.0v1.0h-1.0zM156,65h1.0v1.0h-1.0zM132,76h1.0v1.0h-1.0zM195,149h1.0v1.0h-1.0zM194,105h1.0v1.0h-1.0zM255,143h1.0v1.0h-1.0zM264,184h1.0v1.0h-1.0zM167,148h1.0v1.0h-1.0zM131,83h1.0v1.0h-1.0zM149,209h1.0v1.0h-1.0zM110,189h1.0v1.0h-1.0zM153,160h1.0v1.0h-1.0zM144,173h1.0v1.0h-1.0zM260,145h1.0v1.0h-1.0zM122,287h1.0v1.0h-1.0zM248,84h1.0v1.0h-1.0zM215,282h1.0v1.0h-1.0zM145,181h1.0v1.0h-1.0zM155,213h1.0v1.0h-1.0zM167,197h1.0v1.0h-1.0zM262,180h1.0v1.0h-1.0zM254,185h1.0v1.0h-1.0zM246,266h1.0v1.0h-1.0zM223,193h1.0v1.0h-1.0zM277,162h1.0v1.0h-1.0zM252,127h1.0v1.0h-1.0zM170,203h1.0v1.0h-1.0zM134,78h1.0v1.0h-1.0zM237,218h1.0v1.0h-1.0zM195,64h1.0v1.0h-1.0zM229,108h1.0v1.0h-1.0zM195,61h1.0v1.0h-1.0zM259,169h1.0v1.0h-1.0zM130,153h1.0v1.0h-1.0zM221,183h1.0v1.0h-1.0zM162,160h1.0v1.0h-1.0zM233,228h1.0v1.0h-1.0zM262,187h1.0v1.0h-1.0zM264,164h1.0v1.0h-1.0zM183,105h1.0v1.0h-1.0zM117,214h1.0v1.0h-1.0zM258,176h1.0v1.0h-1.0zM133,87h1.0v1.0h-1.0zM180,281h1.0v1.0h-1.0zM256,114h1.0v1.0h-1.0zM168,204h1.0v1.0h-1.0zM138,205h1.0v1.0h-1.0zM256,154h1.0v1.0h-1.0zM108,164h1.0v1.0h-1.0zM125,227h1.0v1.0h-1.0zM208,100h1.0v1.0h-1.0zM259,150h1.0v1.0h-1.0zM154,89h1.0v1.0h-1.0zM139,208h1.0v1.0h-1.0zM152,289h1.0v1.0h-1.0zM256,131h1.0v1.0h-1.0zM225,279h1.0v1.0h-1.0zM124,176h1.0v1.0h-1.0zM109,201h1.0v1.0h-1.0zM235,144h1.0v1.0h-1.0zM169,203h1.0v1.0h-1.0zM249,61h1.0v1.0h-1.0zM269,170h1.0v1.0h-1.0zM293,77h1.0v1.0h-1.0zM184,153h1.0v1.0h-1.0zM125,77h1.0v1.0h-1.0zM109,202h1.0v1.0h-1.0zM154,70h1.0v1.0h-1.0zM186,155h1.0v1.0h-1.0zM253,179h1.0v1.0h-1.0zM256,143h1.0v1.0h-1.0zM222,179h1.0v1.0h-1.0zM254,136h1.0v1.0h-1.0zM257,251h1.0v1.0h-1.0zM207,60h1.0v1.0h-1.0zM138,212h1.0v1.0h-1.0zM125,167h1.0v1.0h-1.0zM257,146h1.0v1.0h-1.0zM139,199h1.0v1.0h-1.0zM237,91h1.0v1.0h-1.0zM150,169h1.0v1.0h-1.0zM292,140h1.0v1.0h-1.0zM289,136h1.0v1.0h-1.0zM243,175h1.0v1.0h-1.0zM232,244h1.0v1.0h-1.0zM224,162h1.0v1.0h-1.0zM231,271h1.0v1.0h-1.0zM291,151h1.0v1.0h-1.0zM272,165h1.0v1.0h-1.0zM139,219h1.0v1.0h-1.0zM138,215h1.0v1.0h-1.0zM148,194h1.0v1.0h-1.0zM233,244h1.0v1.0h-1.0zM253,260h1.0v1.0h-1.0zM117,159h1.0v1.0h-1.0zM233,245h1.0v1.0h-1.0zM279,181h1.0v1.0h-1.0zM214,98h1.0v1.0h-1.0zM223,173h1.0v1.0h-1.0zM264,155h1.0v1.0h-1.0zM260,187h1.0v1.0h-1.0zM124,179h1.0v1.0h-1.0zM148,64h1.0v1.0h-1.0zM141,177h1.0v1.0h-1.0zM139,153h1.0v1.0h-1.0zM170,94h1.0v1.0h-1.0zM172,163h1.0v1.0h-1.0zM264,180h1.0v1.0h-1.0zM230,271h1.0v1.0h-1.0zM111,211h1.0v1.0h-1.0zM177,151h1.0v1.0h-1.0zM122,182h1.0v1.0h-1.0zM135,181h1.0v1.0h-1.0zM133,176h1.0v1.0h-1.0zM124,190h1.0v1.0h-1.0zM289,138h1.0v1.0h-1.0zM153,195h1.0v1.0h-1.0zM144,201h1.0v1.0h-1.0zM164,136h1.0v1.0h-1.0zM140,86h1.0v1.0h-1.0zM147,189h1.0v1.0h-1.0zM272,163h1.0v1.0h-1.0zM265,161h1.0v1.0h-1.0zM117,199h1.0v1.0h-1.0zM128,74h1.0v1.0h-1.0zM139,150h1.0v1.0h-1.0zM146,152h1.0v1.0h-1.0zM272,171h1.0v1.0h-1.0zM229,268h1.0v1.0h-1.0zM285,166h1.0v1.0h-1.0zM134,83h1.0v1.0h-1.0zM287,129h1.0v1.0h-1.0zM277,276h1.0v1.0h-1.0zM188,64h1.0v1.0h-1.0zM275,176h1.0v1.0h-1.0zM276,189h1.0v1.0h-1.0zM223,103h1.0v1.0h-1.0zM115,82h1.0v1.0h-1.0zM127,200h1.0v1.0h-1.0zM153,207h1.0v1.0h-1.0zM265,175h1.0v1.0h-1.0zM253,187h1.0v1.0h-1.0zM273,168h1.0v1.0h-1.0zM289,146h1.0v1.0h-1.0zM249,78h1.0v1.0h-1.0zM123,162h1.0v1.0h-1.0zM209,54h1.0v1.0h-1.0zM296,145h1.0v1.0h-1.0zM127,185h1.0v1.0h-1.0zM287,138h1.0v1.0h-1.0zM149,173h1.0v1.0h-1.0zM253,129h1.0v1.0h-1.0zM291,112h1.0v1.0h-1.0zM244,66h1.0v1.0h-1.0zM253,138h1.0v1.0h-1.0zM122,160h1.0v1.0h-1.0zM168,101h1.0v1.0h-1.0zM170,197h1.0v1.0h-1.0zM228,221h1.0v1.0h-1.0zM160,167h1.0v1.0h-1.0zM150,174h1.0v1.0h-1.0zM242,195h1.0v1.0h-1.0zM111,179h1.0v1.0h-1.0zM163,212h1.0v1.0h-1.0zM153,184h1.0v1.0h-1.0zM284,295h1.0v1.0h-1.0zM289,154h1.0v1.0h-1.0zM237,276h1.0v1.0h-1.0zM158,175h1.0v1.0h-1.0zM156,214h1.0v1.0h-1.0zM211,152h1.0v1.0h-1.0zM253,142h1.0v1.0h-1.0zM266,165h1.0v1.0h-1.0zM170,194h1.0v1.0h-1.0zM252,222h1.0v1.0h-1.0zM263,161h1.0v1.0h-1.0zM234,250h1.0v1.0h-1.0zM165,163h1.0v1.0h-1.0zM160,96h1.0v1.0h-1.0zM137,178h1.0v1.0h-1.0zM150,70h1.0v1.0h-1.0zM151,193h1.0v1.0h-1.0zM194,63h1.0v1.0h-1.0zM109,162h1.0v1.0h-1.0zM110,159h1.0v1.0h-1.0zM162,167h1.0v1.0h-1.0zM203,153h1.0v1.0h-1.0zM120,204h1.0v1.0h-1.0zM219,57h1.0v1.0h-1.0zM226,211h1.0v1.0h-1.0zM109,183h1.0v1.0h-1.0zM231,258h1.0v1.0h-1.0zM292,151h1.0v1.0h-1.0zM152,290h1.0v1.0h-1.0zM278,103h1.0v1.0h-1.0zM283,136h1.0v1.0h-1.0zM148,161h1.0v1.0h-1.0zM139,167h1.0v1.0h-1.0zM224,187h1.0v1.0h-1.0zM244,54h1.0v1.0h-1.0zM150,90h1.0v1.0h-1.0zM228,54h1.0v1.0h-1.0zM125,181h1.0v1.0h-1.0zM211,284h1.0v1.0h-1.0zM150,154h1.0v1.0h-1.0zM254,110h1.0v1.0h-1.0zM282,139h1.0v1.0h-1.0zM224,198h1.0v1.0h-1.0zM274,205h1.0v1.0h-1.0zM133,153h1.0v1.0h-1.0zM137,159h1.0v1.0h-1.0zM220,162h1.0v1.0h-1.0zM281,131h1.0v1.0h-1.0zM193,145h1.0v1.0h-1.0zM145,70h1.0v1.0h-1.0zM147,169h1.0v1.0h-1.0zM243,87h1.0v1.0h-1.0zM139,223h1.0v1.0h-1.0zM269,188h1.0v1.0h-1.0zM221,173h1.0v1.0h-1.0zM143,220h1.0v1.0h-1.0zM153,197h1.0v1.0h-1.0zM271,185h1.0v1.0h-1.0zM274,178h1.0v1.0h-1.0zM134,193h1.0v1.0h-1.0zM261,257h1.0v1.0h-1.0zM258,177h1.0v1.0h-1.0zM219,158h1.0v1.0h-1.0zM121,205h1.0v1.0h-1.0zM117,208h1.0v1.0h-1.0zM235,171h1.0v1.0h-1.0zM108,170h1.0v1.0h-1.0zM150,178h1.0v1.0h-1.0zM134,290h1.0v1.0h-1.0zM262,171h1.0v1.0h-1.0zM159,185h1.0v1.0h-1.0zM332,91h1.0v1.0h-1.0zM231,177h1.0v1.0h-1.0zM246,135h1.0v1.0h-1.0zM151,94h1.0v1.0h-1.0zM229,141h1.0v1.0h-1.0zM171,162h1.0v1.0h-1.0zM131,95h1.0v1.0h-1.0zM238,55h1.0v1.0h-1.0zM226,188h1.0v1.0h-1.0zM232,179h1.0v1.0h-1.0zM141,154h1.0v1.0h-1.0zM146,87h1.0v1.0h-1.0zM270,174h1.0v1.0h-1.0zM273,199h1.0v1.0h-1.0zM158,217h1.0v1.0h-1.0zM274,253h1.0v1.0h-1.0zM251,257h1.0v1.0h-1.0zM173,195h1.0v1.0h-1.0zM169,209h1.0v1.0h-1.0zM266,189h1.0v1.0h-1.0zM184,113h1.0v1.0h-1.0zM121,82h1.0v1.0h-1.0zM224,130h1.0v1.0h-1.0zM248,91h1.0v1.0h-1.0zM140,73h1.0v1.0h-1.0zM141,218h1.0v1.0h-1.0zM178,153h1.0v1.0h-1.0zM170,140h1.0v1.0h-1.0zM130,195h1.0v1.0h-1.0zM121,194h1.0v1.0h-1.0zM173,158h1.0v1.0h-1.0zM140,70h1.0v1.0h-1.0zM184,65h1.0v1.0h-1.0zM242,90h1.0v1.0h-1.0zM281,145h1.0v1.0h-1.0zM120,82h1.0v1.0h-1.0zM250,85h1.0v1.0h-1.0zM150,95h1.0v1.0h-1.0zM161,211h1.0v1.0h-1.0zM153,199h1.0v1.0h-1.0zM135,84h1.0v1.0h-1.0zM145,188h1.0v1.0h-1.0zM188,158h1.0v1.0h-1.0zM224,280h1.0v1.0h-1.0zM129,171h1.0v1.0h-1.0zM285,132h1.0v1.0h-1.0zM282,125h1.0v1.0h-1.0zM137,191h1.0v1.0h-1.0zM176,199h1.0v1.0h-1.0zM116,213h1.0v1.0h-1.0zM145,71h1.0v1.0h-1.0zM251,252h1.0v1.0h-1.0zM255,196h1.0v1.0h-1.0zM178,156h1.0v1.0h-1.0zM116,82h1.0v1.0h-1.0zM119,83h1.0v1.0h-1.0zM236,107h1.0v1.0h-1.0zM281,140h1.0v1.0h-1.0zM189,115h1.0v1.0h-1.0zM137,75h1.0v1.0h-1.0zM142,181h1.0v1.0h-1.0zM219,281h1.0v1.0h-1.0zM274,109h1.0v1.0h-1.0zM242,254h1.0v1.0h-1.0zM279,113h1.0v1.0h-1.0zM144,151h1.0v1.0h-1.0zM135,82h1.0v1.0h-1.0zM222,175h1.0v1.0h-1.0zM285,133h1.0v1.0h-1.0zM140,223h1.0v1.0h-1.0zM191,155h1.0v1.0h-1.0zM284,135h1.0v1.0h-1.0zM233,256h1.0v1.0h-1.0zM233,183h1.0v1.0h-1.0zM124,219h1.0v1.0h-1.0zM122,226h1.0v1.0h-1.0zM269,184h1.0v1.0h-1.0zM260,162h1.0v1.0h-1.0zM245,235h1.0v1.0h-1.0zM261,170h1.0v1.0h-1.0zM283,125h1.0v1.0h-1.0zM261,110h1.0v1.0h-1.0zM109,212h1.0v1.0h-1.0zM112,152h1.0v1.0h-1.0zM110,194h1.0v1.0h-1.0zM240,252h1.0v1.0h-1.0zM284,153h1.0v1.0h-1.0zM282,155h1.0v1.0h-1.0zM127,218h1.0v1.0h-1.0zM268,173h1.0v1.0h-1.0zM230,164h1.0v1.0h-1.0zM267,169h1.0v1.0h-1.0zM141,179h1.0v1.0h-1.0zM274,200h1.0v1.0h-1.0zM234,242h1.0v1.0h-1.0zM266,162h1.0v1.0h-1.0zM266,166h1.0v1.0h-1.0zM168,205h1.0v1.0h-1.0zM283,156h1.0v1.0h-1.0zM137,215h1.0v1.0h-1.0zM155,190h1.0v1.0h-1.0zM145,285h1.0v1.0h-1.0zM190,158h1.0v1.0h-1.0zM139,162h1.0v1.0h-1.0zM128,80h1.0v1.0h-1.0zM281,141h1.0v1.0h-1.0zM185,141h1.0v1.0h-1.0zM156,182h1.0v1.0h-1.0zM159,165h1.0v1.0h-1.0zM172,61h1.0v1.0h-1.0zM116,83h1.0v1.0h-1.0zM210,55h1.0v1.0h-1.0zM225,177h1.0v1.0h-1.0zM229,217h1.0v1.0h-1.0zM279,160h1.0v1.0h-1.0zM111,150h1.0v1.0h-1.0zM240,267h1.0v1.0h-1.0zM117,190h1.0v1.0h-1.0zM229,274h1.0v1.0h-1.0zM156,158h1.0v1.0h-1.0zM133,77h1.0v1.0h-1.0zM254,124h1.0v1.0h-1.0zM186,146h1.0v1.0h-1.0zM268,209h1.0v1.0h-1.0zM133,179h1.0v1.0h-1.0zM120,199h1.0v1.0h-1.0zM280,164h1.0v1.0h-1.0zM180,58h1.0v1.0h-1.0zM284,117h1.0v1.0h-1.0zM161,68h1.0v1.0h-1.0zM281,172h1.0v1.0h-1.0zM117,81h1.0v1.0h-1.0zM135,91h1.0v1.0h-1.0zM166,96h1.0v1.0h-1.0zM278,254h1.0v1.0h-1.0zM130,295h1.0v1.0h-1.0zM226,206h1.0v1.0h-1.0zM196,61h1.0v1.0h-1.0zM118,87h1.0v1.0h-1.0zM119,80h1.0v1.0h-1.0zM158,206h1.0v1.0h-1.0zM223,199h1.0v1.0h-1.0zM181,282h1.0v1.0h-1.0zM231,105h1.0v1.0h-1.0zM172,105h1.0v1.0h-1.0zM175,61h1.0v1.0h-1.0zM276,161h1.0v1.0h-1.0zM119,290h1.0v1.0h-1.0zM274,189h1.0v1.0h-1.0zM207,101h1.0v1.0h-1.0zM247,74h1.0v1.0h-1.0zM259,141h1.0v1.0h-1.0zM239,271h1.0v1.0h-1.0zM152,205h1.0v1.0h-1.0zM126,215h1.0v1.0h-1.0zM109,176h1.0v1.0h-1.0zM115,205h1.0v1.0h-1.0zM260,240h1.0v1.0h-1.0zM130,198h1.0v1.0h-1.0zM147,70h1.0v1.0h-1.0zM278,184h1.0v1.0h-1.0zM244,93h1.0v1.0h-1.0zM223,189h1.0v1.0h-1.0zM167,158h1.0v1.0h-1.0zM221,167h1.0v1.0h-1.0zM206,59h1.0v1.0h-1.0zM229,179h1.0v1.0h-1.0zM131,151h1.0v1.0h-1.0zM280,170h1.0v1.0h-1.0zM257,258h1.0v1.0h-1.0zM141,65h1.0v1.0h-1.0zM160,152h1.0v1.0h-1.0zM260,204h1.0v1.0h-1.0zM230,226h1.0v1.0h-1.0zM113,226h1.0v1.0h-1.0zM182,283h1.0v1.0h-1.0zM226,146h1.0v1.0h-1.0zM275,161h1.0v1.0h-1.0zM129,222h1.0v1.0h-1.0zM201,286h1.0v1.0h-1.0zM252,143h1.0v1.0h-1.0zM115,228h1.0v1.0h-1.0zM261,176h1.0v1.0h-1.0zM275,159h1.0v1.0h-1.0zM133,218h1.0v1.0h-1.0zM265,163h1.0v1.0h-1.0zM282,134h1.0v1.0h-1.0zM123,152h1.0v1.0h-1.0zM239,265h1.0v1.0h-1.0zM262,159h1.0v1.0h-1.0zM246,83h1.0v1.0h-1.0zM131,183h1.0v1.0h-1.0zM235,200h1.0v1.0h-1.0zM166,203h1.0v1.0h-1.0zM222,197h1.0v1.0h-1.0zM122,210h1.0v1.0h-1.0zM236,244h1.0v1.0h-1.0zM150,163h1.0v1.0h-1.0zM266,221h1.0v1.0h-1.0zM154,163h1.0v1.0h-1.0zM175,162h1.0v1.0h-1.0zM110,287h1.0v1.0h-1.0zM164,212h1.0v1.0h-1.0zM291,201h1.0v1.0h-1.0zM156,193h1.0v1.0h-1.0zM262,225h1.0v1.0h-1.0zM262,288h1.0v1.0h-1.0zM224,184h1.0v1.0h-1.0zM131,164h1.0v1.0h-1.0zM284,167h1.0v1.0h-1.0zM162,205h1.0v1.0h-1.0zM266,192h1.0v1.0h-1.0zM165,201h1.0v1.0h-1.0zM229,212h1.0v1.0h-1.0zM142,61h1.0v1.0h-1.0zM253,194h1.0v1.0h-1.0zM249,179h1.0v1.0h-1.0zM247,71h1.0v1.0h-1.0zM141,94h1.0v1.0h-1.0zM276,197h1.0v1.0h-1.0zM148,207h1.0v1.0h-1.0zM224,152h1.0v1.0h-1.0zM225,182h1.0v1.0h-1.0zM117,80h1.0v1.0h-1.0zM280,115h1.0v1.0h-1.0zM122,218h1.0v1.0h-1.0zM134,150h1.0v1.0h-1.0zM139,204h1.0v1.0h-1.0zM135,179h1.0v1.0h-1.0zM237,52h1.0v1.0h-1.0zM215,101h1.0v1.0h-1.0zM257,169h1.0v1.0h-1.0zM228,95h1.0v1.0h-1.0zM117,289h1.0v1.0h-1.0zM123,197h1.0v1.0h-1.0zM122,97h1.0v1.0h-1.0zM288,121h1.0v1.0h-1.0zM247,281h1.0v1.0h-1.0zM162,137h1.0v1.0h-1.0zM132,209h1.0v1.0h-1.0zM205,60h1.0v1.0h-1.0zM201,60h1.0v1.0h-1.0zM136,150h1.0v1.0h-1.0zM280,150h1.0v1.0h-1.0zM207,99h1.0v1.0h-1.0zM148,198h1.0v1.0h-1.0zM262,147h1.0v1.0h-1.0zM118,201h1.0v1.0h-1.0zM227,188h1.0v1.0h-1.0zM162,179h1.0v1.0h-1.0zM230,200h1.0v1.0h-1.0zM262,169h1.0v1.0h-1.0zM259,158h1.0v1.0h-1.0zM164,284h1.0v1.0h-1.0zM257,123h1.0v1.0h-1.0zM285,149h1.0v1.0h-1.0zM198,62h1.0v1.0h-1.0zM253,124h1.0v1.0h-1.0zM253,275h1.0v1.0h-1.0zM190,101h1.0v1.0h-1.0zM265,165h1.0v1.0h-1.0zM134,84h1.0v1.0h-1.0zM153,91h1.0v1.0h-1.0zM282,160h1.0v1.0h-1.0zM205,154h1.0v1.0h-1.0zM153,120h1.0v1.0h-1.0zM221,184h1.0v1.0h-1.0zM116,79h1.0v1.0h-1.0zM251,172h1.0v1.0h-1.0zM252,191h1.0v1.0h-1.0zM280,145h1.0v1.0h-1.0zM282,132h1.0v1.0h-1.0zM257,142h1.0v1.0h-1.0zM234,55h1.0v1.0h-1.0zM187,159h1.0v1.0h-1.0zM260,186h1.0v1.0h-1.0zM119,202h1.0v1.0h-1.0zM145,151h1.0v1.0h-1.0zM162,171h1.0v1.0h-1.0zM223,165h1.0v1.0h-1.0zM262,250h1.0v1.0h-1.0zM194,99h1.0v1.0h-1.0zM199,107h1.0v1.0h-1.0zM130,210h1.0v1.0h-1.0zM258,186h1.0v1.0h-1.0zM273,185h1.0v1.0h-1.0zM131,207h1.0v1.0h-1.0zM149,72h1.0v1.0h-1.0zM169,196h1.0v1.0h-1.0zM220,281h1.0v1.0h-1.0zM282,129h1.0v1.0h-1.0zM113,160h1.0v1.0h-1.0zM252,81h1.0v1.0h-1.0zM228,53h1.0v1.0h-1.0zM165,95h1.0v1.0h-1.0zM163,153h1.0v1.0h-1.0zM258,140h1.0v1.0h-1.0zM225,199h1.0v1.0h-1.0zM252,125h1.0v1.0h-1.0zM235,254h1.0v1.0h-1.0zM254,144h1.0v1.0h-1.0zM222,171h1.0v1.0h-1.0zM142,214h1.0v1.0h-1.0zM232,239h1.0v1.0h-1.0zM259,90h1.0v1.0h-1.0zM164,290h1.0v1.0h-1.0zM266,190h1.0v1.0h-1.0zM149,161h1.0v1.0h-1.0zM124,206h1.0v1.0h-1.0zM224,172h1.0v1.0h-1.0zM259,115h1.0v1.0h-1.0zM235,52h1.0v1.0h-1.0zM234,260h1.0v1.0h-1.0zM188,152h1.0v1.0h-1.0zM264,178h1.0v1.0h-1.0zM123,174h1.0v1.0h-1.0zM249,163h1.0v1.0h-1.0zM112,231h1.0v1.0h-1.0zM272,110h1.0v1.0h-1.0zM266,186h1.0v1.0h-1.0zM183,281h1.0v1.0h-1.0zM130,213h1.0v1.0h-1.0zM225,192h1.0v1.0h-1.0zM160,171h1.0v1.0h-1.0zM163,169h1.0v1.0h-1.0zM130,84h1.0v1.0h-1.0zM174,140h1.0v1.0h-1.0zM133,146h1.0v1.0h-1.0zM257,113h1.0v1.0h-1.0zM251,113h1.0v1.0h-1.0zM230,222h1.0v1.0h-1.0zM295,140h1.0v1.0h-1.0zM141,165h1.0v1.0h-1.0zM156,189h1.0v1.0h-1.0zM220,158h1.0v1.0h-1.0zM271,104h1.0v1.0h-1.0zM109,291h1.0v1.0h-1.0zM164,96h1.0v1.0h-1.0zM282,205h1.0v1.0h-1.0zM171,59h1.0v1.0h-1.0zM231,225h1.0v1.0h-1.0zM161,175h1.0v1.0h-1.0zM202,60h1.0v1.0h-1.0zM264,183h1.0v1.0h-1.0zM275,194h1.0v1.0h-1.0zM112,177h1.0v1.0h-1.0zM121,226h1.0v1.0h-1.0zM113,161h1.0v1.0h-1.0zM178,62h1.0v1.0h-1.0zM123,87h1.0v1.0h-1.0zM188,148h1.0v1.0h-1.0zM167,67h1.0v1.0h-1.0zM250,153h1.0v1.0h-1.0zM231,248h1.0v1.0h-1.0zM157,99h1.0v1.0h-1.0zM263,176h1.0v1.0h-1.0zM151,188h1.0v1.0h-1.0zM232,140h1.0v1.0h-1.0zM147,95h1.0v1.0h-1.0zM241,267h1.0v1.0h-1.0zM234,217h1.0v1.0h-1.0zM283,138h1.0v1.0h-1.0zM172,98h1.0v1.0h-1.0zM266,185h1.0v1.0h-1.0zM146,150h1.0v1.0h-1.0zM293,121h1.0v1.0h-1.0zM115,294h1.0v1.0h-1.0zM258,169h1.0v1.0h-1.0zM225,186h1.0v1.0h-1.0zM229,219h1.0v1.0h-1.0zM252,171h1.0v1.0h-1.0zM191,147h1.0v1.0h-1.0zM188,60h1.0v1.0h-1.0zM209,147h1.0v1.0h-1.0zM152,168h1.0v1.0h-1.0zM237,252h1.0v1.0h-1.0zM157,170h1.0v1.0h-1.0zM256,121h1.0v1.0h-1.0zM246,73h1.0v1.0h-1.0zM221,132h1.0v1.0h-1.0zM286,113h1.0v1.0h-1.0zM224,205h1.0v1.0h-1.0zM170,161h1.0v1.0h-1.0zM209,100h1.0v1.0h-1.0zM218,56h1.0v1.0h-1.0zM251,104h1.0v1.0h-1.0zM125,73h1.0v1.0h-1.0zM176,159h1.0v1.0h-1.0zM223,167h1.0v1.0h-1.0zM169,67h1.0v1.0h-1.0zM146,155h1.0v1.0h-1.0zM188,155h1.0v1.0h-1.0zM261,192h1.0v1.0h-1.0zM205,139h1.0v1.0h-1.0zM144,74h1.0v1.0h-1.0zM229,55h1.0v1.0h-1.0zM221,175h1.0v1.0h-1.0zM183,65h1.0v1.0h-1.0zM111,291h1.0v1.0h-1.0zM120,80h1.0v1.0h-1.0zM282,116h1.0v1.0h-1.0zM111,213h1.0v1.0h-1.0zM134,210h1.0v1.0h-1.0zM282,133h1.0v1.0h-1.0zM270,273h1.0v1.0h-1.0zM191,99h1.0v1.0h-1.0zM261,189h1.0v1.0h-1.0zM164,210h1.0v1.0h-1.0zM200,143h1.0v1.0h-1.0zM260,292h1.0v1.0h-1.0zM265,194h1.0v1.0h-1.0zM227,206h1.0v1.0h-1.0zM270,182h1.0v1.0h-1.0zM271,112h1.0v1.0h-1.0zM166,95h1.0v1.0h-1.0zM243,113h1.0v1.0h-1.0zM227,198h1.0v1.0h-1.0zM278,164h1.0v1.0h-1.0zM301,145h1.0v1.0h-1.0zM125,166h1.0v1.0h-1.0zM133,223h1.0v1.0h-1.0zM232,238h1.0v1.0h-1.0zM192,103h1.0v1.0h-1.0zM206,129h1.0v1.0h-1.0zM146,190h1.0v1.0h-1.0zM228,210h1.0v1.0h-1.0zM154,183h1.0v1.0h-1.0zM127,190h1.0v1.0h-1.0zM164,94h1.0v1.0h-1.0zM144,207h1.0v1.0h-1.0zM150,144h1.0v1.0h-1.0zM281,114h1.0v1.0h-1.0zM117,223h1.0v1.0h-1.0zM295,117h1.0v1.0h-1.0zM142,169h1.0v1.0h-1.0zM228,115h1.0v1.0h-1.0zM128,183h1.0v1.0h-1.0zM274,202h1.0v1.0h-1.0zM128,195h1.0v1.0h-1.0zM141,220h1.0v1.0h-1.0zM138,69h1.0v1.0h-1.0zM287,127h1.0v1.0h-1.0zM230,198h1.0v1.0h-1.0zM253,170h1.0v1.0h-1.0zM243,233h1.0v1.0h-1.0zM123,168h1.0v1.0h-1.0zM187,103h1.0v1.0h-1.0zM150,202h1.0v1.0h-1.0zM138,85h1.0v1.0h-1.0zM249,296h1.0v1.0h-1.0zM157,178h1.0v1.0h-1.0zM136,179h1.0v1.0h-1.0zM152,89h1.0v1.0h-1.0zM197,127h1.0v1.0h-1.0zM159,69h1.0v1.0h-1.0zM244,138h1.0v1.0h-1.0zM196,158h1.0v1.0h-1.0zM237,271h1.0v1.0h-1.0zM121,175h1.0v1.0h-1.0zM282,142h1.0v1.0h-1.0zM113,229h1.0v1.0h-1.0zM258,191h1.0v1.0h-1.0zM134,190h1.0v1.0h-1.0zM229,230h1.0v1.0h-1.0zM224,126h1.0v1.0h-1.0zM274,165h1.0v1.0h-1.0zM168,67h1.0v1.0h-1.0zM163,190h1.0v1.0h-1.0zM144,152h1.0v1.0h-1.0zM146,178h1.0v1.0h-1.0zM129,177h1.0v1.0h-1.0zM256,133h1.0v1.0h-1.0zM279,178h1.0v1.0h-1.0zM130,200h1.0v1.0h-1.0zM256,174h1.0v1.0h-1.0zM163,194h1.0v1.0h-1.0zM229,52h1.0v1.0h-1.0zM191,63h1.0v1.0h-1.0zM146,169h1.0v1.0h-1.0zM138,158h1.0v1.0h-1.0zM288,111h1.0v1.0h-1.0zM165,61h1.0v1.0h-1.0zM259,101h1.0v1.0h-1.0zM134,156h1.0v1.0h-1.0zM202,156h1.0v1.0h-1.0zM263,268h1.0v1.0h-1.0zM245,256h1.0v1.0h-1.0zM266,158h1.0v1.0h-1.0zM164,197h1.0v1.0h-1.0zM229,213h1.0v1.0h-1.0zM227,274h1.0v1.0h-1.0zM256,189h1.0v1.0h-1.0zM109,206h1.0v1.0h-1.0zM193,103h1.0v1.0h-1.0zM263,150h1.0v1.0h-1.0zM261,197h1.0v1.0h-1.0zM113,184h1.0v1.0h-1.0zM165,289h1.0v1.0h-1.0zM211,283h1.0v1.0h-1.0zM277,112h1.0v1.0h-1.0zM243,60h1.0v1.0h-1.0zM231,251h1.0v1.0h-1.0zM235,199h1.0v1.0h-1.0zM218,103h1.0v1.0h-1.0zM277,152h1.0v1.0h-1.0zM231,236h1.0v1.0h-1.0zM155,178h1.0v1.0h-1.0zM123,177h1.0v1.0h-1.0zM256,144h1.0v1.0h-1.0zM272,176h1.0v1.0h-1.0zM255,122h1.0v1.0h-1.0zM229,164h1.0v1.0h-1.0zM239,184h1.0v1.0h-1.0zM205,99h1.0v1.0h-1.0zM121,289h1.0v1.0h-1.0zM292,275h1.0v1.0h-1.0zM269,235h1.0v1.0h-1.0zM108,229h1.0v1.0h-1.0zM253,120h1.0v1.0h-1.0zM256,185h1.0v1.0h-1.0zM275,198h1.0v1.0h-1.0zM265,174h1.0v1.0h-1.0zM254,155h1.0v1.0h-1.0zM121,195h1.0v1.0h-1.0zM165,213h1.0v1.0h-1.0zM126,221h1.0v1.0h-1.0zM120,76h1.0v1.0h-1.0zM158,67h1.0v1.0h-1.0zM272,252h1.0v1.0h-1.0zM211,151h1.0v1.0h-1.0zM141,188h1.0v1.0h-1.0zM141,216h1.0v1.0h-1.0zM116,206h1.0v1.0h-1.0zM272,193h1.0v1.0h-1.0zM244,75h1.0v1.0h-1.0zM228,216h1.0v1.0h-1.0zM172,157h1.0v1.0h-1.0zM265,110h1.0v1.0h-1.0zM163,96h1.0v1.0h-1.0zM147,178h1.0v1.0h-1.0zM223,202h1.0v1.0h-1.0zM273,159h1.0v1.0h-1.0zM140,93h1.0v1.0h-1.0zM165,153h1.0v1.0h-1.0zM284,132h1.0v1.0h-1.0zM227,208h1.0v1.0h-1.0zM134,79h1.0v1.0h-1.0zM167,196h1.0v1.0h-1.0zM115,77h1.0v1.0h-1.0zM165,66h1.0v1.0h-1.0zM135,85h1.0v1.0h-1.0zM267,176h1.0v1.0h-1.0zM240,273h1.0v1.0h-1.0zM163,154h1.0v1.0h-1.0zM293,273h1.0v1.0h-1.0zM279,151h1.0v1.0h-1.0zM148,189h1.0v1.0h-1.0zM141,170h1.0v1.0h-1.0zM138,289h1.0v1.0h-1.0zM117,74h1.0v1.0h-1.0zM285,186h1.0v1.0h-1.0zM266,193h1.0v1.0h-1.0zM325,136h1.0v1.0h-1.0zM282,183h1.0v1.0h-1.0zM284,185h1.0v1.0h-1.0zM282,260h1.0v1.0h-1.0zM286,128h1.0v1.0h-1.0zM118,157h1.0v1.0h-1.0zM196,63h1.0v1.0h-1.0zM214,284h1.0v1.0h-1.0zM151,179h1.0v1.0h-1.0zM162,114h1.0v1.0h-1.0zM225,189h1.0v1.0h-1.0zM234,156h1.0v1.0h-1.0zM115,167h1.0v1.0h-1.0zM150,110h1.0v1.0h-1.0zM261,201h1.0v1.0h-1.0zM237,148h1.0v1.0h-1.0zM133,219h1.0v1.0h-1.0zM223,185h1.0v1.0h-1.0zM281,191h1.0v1.0h-1.0zM274,180h1.0v1.0h-1.0zM173,64h1.0v1.0h-1.0zM263,182h1.0v1.0h-1.0zM277,183h1.0v1.0h-1.0zM185,111h1.0v1.0h-1.0zM268,174h1.0v1.0h-1.0zM227,175h1.0v1.0h-1.0zM224,203h1.0v1.0h-1.0zM255,128h1.0v1.0h-1.0zM120,109h1.0v1.0h-1.0zM165,104h1.0v1.0h-1.0zM231,233h1.0v1.0h-1.0zM254,245h1.0v1.0h-1.0zM226,280h1.0v1.0h-1.0zM163,282h1.0v1.0h-1.0zM168,201h1.0v1.0h-1.0zM173,98h1.0v1.0h-1.0zM166,159h1.0v1.0h-1.0zM270,175h1.0v1.0h-1.0zM133,175h1.0v1.0h-1.0zM145,172h1.0v1.0h-1.0zM267,204h1.0v1.0h-1.0zM167,136h1.0v1.0h-1.0zM220,102h1.0v1.0h-1.0zM283,115h1.0v1.0h-1.0zM158,151h1.0v1.0h-1.0zM156,70h1.0v1.0h-1.0zM138,184h1.0v1.0h-1.0zM155,154h1.0v1.0h-1.0zM125,220h1.0v1.0h-1.0zM183,62h1.0v1.0h-1.0zM241,86h1.0v1.0h-1.0zM241,224h1.0v1.0h-1.0zM267,109h1.0v1.0h-1.0zM146,161h1.0v1.0h-1.0zM190,157h1.0v1.0h-1.0zM146,212h1.0v1.0h-1.0zM175,65h1.0v1.0h-1.0zM285,142h1.0v1.0h-1.0zM265,190h1.0v1.0h-1.0zM248,192h1.0v1.0h-1.0zM154,199h1.0v1.0h-1.0zM192,284h1.0v1.0h-1.0zM282,131h1.0v1.0h-1.0zM163,206h1.0v1.0h-1.0zM119,222h1.0v1.0h-1.0zM209,145h1.0v1.0h-1.0zM190,61h1.0v1.0h-1.0zM138,179h1.0v1.0h-1.0zM124,204h1.0v1.0h-1.0zM214,124h1.0v1.0h-1.0zM239,90h1.0v1.0h-1.0zM254,111h1.0v1.0h-1.0zM248,71h1.0v1.0h-1.0zM261,194h1.0v1.0h-1.0zM167,188h1.0v1.0h-1.0zM233,189h1.0v1.0h-1.0zM263,199h1.0v1.0h-1.0zM203,149h1.0v1.0h-1.0zM165,167h1.0v1.0h-1.0zM237,95h1.0v1.0h-1.0zM232,279h1.0v1.0h-1.0zM283,196h1.0v1.0h-1.0zM282,149h1.0v1.0h-1.0zM271,205h1.0v1.0h-1.0zM234,199h1.0v1.0h-1.0zM233,281h1.0v1.0h-1.0zM152,68h1.0v1.0h-1.0zM136,187h1.0v1.0h-1.0zM226,208h1.0v1.0h-1.0zM166,211h1.0v1.0h-1.0zM213,156h1.0v1.0h-1.0zM163,164h1.0v1.0h-1.0zM208,285h1.0v1.0h-1.0zM240,52h1.0v1.0h-1.0zM170,151h1.0v1.0h-1.0zM231,213h1.0v1.0h-1.0zM118,205h1.0v1.0h-1.0zM135,76h1.0v1.0h-1.0zM146,191h1.0v1.0h-1.0zM141,166h1.0v1.0h-1.0zM259,170h1.0v1.0h-1.0zM277,102h1.0v1.0h-1.0zM144,72h1.0v1.0h-1.0zM275,157h1.0v1.0h-1.0zM124,100h1.0v1.0h-1.0zM234,95h1.0v1.0h-1.0zM183,155h1.0v1.0h-1.0zM152,209h1.0v1.0h-1.0zM140,110h1.0v1.0h-1.0zM267,106h1.0v1.0h-1.0zM142,174h1.0v1.0h-1.0zM228,208h1.0v1.0h-1.0zM207,284h1.0v1.0h-1.0zM282,152h1.0v1.0h-1.0zM156,285h1.0v1.0h-1.0zM169,162h1.0v1.0h-1.0zM266,183h1.0v1.0h-1.0zM240,253h1.0v1.0h-1.0zM115,171h1.0v1.0h-1.0zM124,156h1.0v1.0h-1.0zM138,213h1.0v1.0h-1.0zM225,293h1.0v1.0h-1.0zM228,209h1.0v1.0h-1.0zM258,153h1.0v1.0h-1.0zM282,191h1.0v1.0h-1.0zM132,184h1.0v1.0h-1.0zM166,196h1.0v1.0h-1.0zM284,130h1.0v1.0h-1.0zM257,121h1.0v1.0h-1.0zM272,182h1.0v1.0h-1.0zM110,200h1.0v1.0h-1.0zM158,192h1.0v1.0h-1.0zM183,160h1.0v1.0h-1.0zM258,180h1.0v1.0h-1.0zM267,171h1.0v1.0h-1.0zM158,189h1.0v1.0h-1.0zM140,175h1.0v1.0h-1.0zM133,191h1.0v1.0h-1.0zM230,97h1.0v1.0h-1.0zM234,53h1.0v1.0h-1.0zM264,159h1.0v1.0h-1.0zM276,156h1.0v1.0h-1.0zM254,147h1.0v1.0h-1.0zM111,187h1.0v1.0h-1.0zM282,130h1.0v1.0h-1.0zM310,130h1.0v1.0h-1.0zM178,159h1.0v1.0h-1.0zM148,199h1.0v1.0h-1.0zM229,157h1.0v1.0h-1.0zM236,55h1.0v1.0h-1.0zM109,284h1.0v1.0h-1.0zM168,99h1.0v1.0h-1.0zM222,187h1.0v1.0h-1.0zM275,158h1.0v1.0h-1.0zM218,134h1.0v1.0h-1.0zM141,192h1.0v1.0h-1.0zM273,184h1.0v1.0h-1.0zM148,184h1.0v1.0h-1.0zM172,161h1.0v1.0h-1.0zM257,129h1.0v1.0h-1.0zM235,260h1.0v1.0h-1.0zM152,181h1.0v1.0h-1.0zM153,205h1.0v1.0h-1.0zM181,58h1.0v1.0h-1.0zM262,164h1.0v1.0h-1.0zM305,134h1.0v1.0h-1.0zM177,160h1.0v1.0h-1.0zM138,206h1.0v1.0h-1.0zM127,196h1.0v1.0h-1.0zM277,153h1.0v1.0h-1.0zM268,185h1.0v1.0h-1.0zM163,95h1.0v1.0h-1.0zM259,257h1.0v1.0h-1.0zM130,178h1.0v1.0h-1.0zM162,170h1.0v1.0h-1.0zM143,206h1.0v1.0h-1.0zM110,184h1.0v1.0h-1.0zM266,103h1.0v1.0h-1.0zM163,196h1.0v1.0h-1.0zM155,68h1.0v1.0h-1.0zM277,207h1.0v1.0h-1.0zM228,204h1.0v1.0h-1.0zM282,121h1.0v1.0h-1.0zM161,202h1.0v1.0h-1.0zM253,126h1.0v1.0h-1.0zM258,141h1.0v1.0h-1.0zM264,169h1.0v1.0h-1.0zM205,105h1.0v1.0h-1.0zM158,68h1.0v1.0h-1.0zM112,217h1.0v1.0h-1.0zM257,192h1.0v1.0h-1.0zM168,159h1.0v1.0h-1.0zM274,113h1.0v1.0h-1.0zM181,64h1.0v1.0h-1.0zM141,204h1.0v1.0h-1.0zM241,87h1.0v1.0h-1.0zM231,168h1.0v1.0h-1.0zM269,113h1.0v1.0h-1.0zM129,195h1.0v1.0h-1.0zM198,113h1.0v1.0h-1.0zM147,171h1.0v1.0h-1.0zM154,159h1.0v1.0h-1.0zM253,173h1.0v1.0h-1.0zM220,53h1.0v1.0h-1.0zM225,282h1.0v1.0h-1.0zM199,61h1.0v1.0h-1.0zM160,210h1.0v1.0h-1.0zM157,205h1.0v1.0h-1.0zM185,56h1.0v1.0h-1.0zM268,225h1.0v1.0h-1.0zM147,207h1.0v1.0h-1.0zM152,214h1.0v1.0h-1.0zM252,170h1.0v1.0h-1.0zM233,239h1.0v1.0h-1.0zM123,164h1.0v1.0h-1.0zM229,151h1.0v1.0h-1.0zM211,134h1.0v1.0h-1.0zM144,69h1.0v1.0h-1.0zM137,213h1.0v1.0h-1.0zM125,219h1.0v1.0h-1.0zM130,163h1.0v1.0h-1.0zM233,217h1.0v1.0h-1.0zM168,189h1.0v1.0h-1.0zM223,170h1.0v1.0h-1.0zM195,289h1.0v1.0h-1.0zM224,171h1.0v1.0h-1.0zM157,138h1.0v1.0h-1.0zM166,164h1.0v1.0h-1.0zM213,148h1.0v1.0h-1.0zM136,188h1.0v1.0h-1.0zM267,172h1.0v1.0h-1.0zM132,86h1.0v1.0h-1.0zM262,163h1.0v1.0h-1.0zM158,212h1.0v1.0h-1.0zM303,127h1.0v1.0h-1.0zM113,182h1.0v1.0h-1.0zM122,292h1.0v1.0h-1.0zM159,169h1.0v1.0h-1.0zM229,270h1.0v1.0h-1.0zM164,208h1.0v1.0h-1.0zM172,57h1.0v1.0h-1.0zM228,220h1.0v1.0h-1.0zM268,202h1.0v1.0h-1.0zM114,167h1.0v1.0h-1.0zM165,162h1.0v1.0h-1.0zM255,137h1.0v1.0h-1.0zM234,234h1.0v1.0h-1.0zM284,124h1.0v1.0h-1.0zM136,296h1.0v1.0h-1.0zM142,74h1.0v1.0h-1.0zM130,201h1.0v1.0h-1.0zM218,158h1.0v1.0h-1.0zM233,93h1.0v1.0h-1.0zM110,157h1.0v1.0h-1.0zM288,154h1.0v1.0h-1.0zM144,71h1.0v1.0h-1.0zM286,234h1.0v1.0h-1.0zM137,63h1.0v1.0h-1.0zM134,80h1.0v1.0h-1.0zM160,163h1.0v1.0h-1.0zM151,89h1.0v1.0h-1.0zM254,164h1.0v1.0h-1.0zM266,194h1.0v1.0h-1.0zM243,147h1.0v1.0h-1.0zM171,160h1.0v1.0h-1.0zM201,150h1.0v1.0h-1.0zM242,84h1.0v1.0h-1.0zM160,153h1.0v1.0h-1.0zM147,157h1.0v1.0h-1.0zM159,157h1.0v1.0h-1.0zM257,135h1.0v1.0h-1.0zM199,155h1.0v1.0h-1.0zM111,161h1.0v1.0h-1.0zM258,273h1.0v1.0h-1.0zM139,184h1.0v1.0h-1.0zM193,142h1.0v1.0h-1.0zM258,171h1.0v1.0h-1.0zM273,167h1.0v1.0h-1.0zM290,172h1.0v1.0h-1.0zM121,203h1.0v1.0h-1.0zM274,160h1.0v1.0h-1.0zM140,156h1.0v1.0h-1.0zM231,223h1.0v1.0h-1.0zM149,160h1.0v1.0h-1.0zM268,180h1.0v1.0h-1.0zM128,167h1.0v1.0h-1.0zM145,192h1.0v1.0h-1.0zM150,152h1.0v1.0h-1.0zM278,186h1.0v1.0h-1.0zM143,198h1.0v1.0h-1.0zM284,265h1.0v1.0h-1.0zM111,201h1.0v1.0h-1.0zM152,219h1.0v1.0h-1.0zM109,170h1.0v1.0h-1.0zM144,170h1.0v1.0h-1.0zM134,174h1.0v1.0h-1.0zM134,76h1.0v1.0h-1.0zM147,163h1.0v1.0h-1.0zM198,157h1.0v1.0h-1.0zM261,158h1.0v1.0h-1.0zM206,109h1.0v1.0h-1.0zM148,176h1.0v1.0h-1.0zM207,156h1.0v1.0h-1.0zM243,104h1.0v1.0h-1.0zM223,278h1.0v1.0h-1.0zM137,175h1.0v1.0h-1.0zM233,275h1.0v1.0h-1.0zM129,78h1.0v1.0h-1.0zM145,72h1.0v1.0h-1.0zM238,219h1.0v1.0h-1.0zM140,188h1.0v1.0h-1.0zM221,162h1.0v1.0h-1.0zM260,222h1.0v1.0h-1.0zM134,152h1.0v1.0h-1.0zM120,160h1.0v1.0h-1.0zM156,184h1.0v1.0h-1.0zM170,63h1.0v1.0h-1.0zM154,170h1.0v1.0h-1.0zM242,243h1.0v1.0h-1.0zM148,287h1.0v1.0h-1.0zM222,196h1.0v1.0h-1.0zM270,195h1.0v1.0h-1.0zM129,168h1.0v1.0h-1.0zM260,149h1.0v1.0h-1.0zM127,178h1.0v1.0h-1.0zM142,206h1.0v1.0h-1.0zM132,161h1.0v1.0h-1.0zM150,148h1.0v1.0h-1.0zM287,130h1.0v1.0h-1.0zM118,81h1.0v1.0h-1.0zM136,216h1.0v1.0h-1.0zM156,154h1.0v1.0h-1.0zM258,116h1.0v1.0h-1.0zM279,199h1.0v1.0h-1.0zM241,247h1.0v1.0h-1.0zM142,197h1.0v1.0h-1.0zM121,174h1.0v1.0h-1.0zM198,293h1.0v1.0h-1.0zM118,78h1.0v1.0h-1.0zM158,164h1.0v1.0h-1.0zM168,188h1.0v1.0h-1.0zM238,256h1.0v1.0h-1.0zM256,245h1.0v1.0h-1.0zM123,213h1.0v1.0h-1.0zM271,187h1.0v1.0h-1.0zM237,258h1.0v1.0h-1.0zM218,287h1.0v1.0h-1.0zM146,180h1.0v1.0h-1.0zM248,158h1.0v1.0h-1.0zM258,117h1.0v1.0h-1.0zM220,165h1.0v1.0h-1.0zM158,153h1.0v1.0h-1.0zM269,111h1.0v1.0h-1.0zM273,267h1.0v1.0h-1.0zM254,269h1.0v1.0h-1.0zM281,136h1.0v1.0h-1.0zM215,57h1.0v1.0h-1.0zM115,169h1.0v1.0h-1.0zM164,191h1.0v1.0h-1.0zM231,231h1.0v1.0h-1.0zM278,159h1.0v1.0h-1.0zM255,135h1.0v1.0h-1.0zM280,187h1.0v1.0h-1.0zM258,143h1.0v1.0h-1.0zM152,56h1.0v1.0h-1.0zM115,195h1.0v1.0h-1.0zM108,184h1.0v1.0h-1.0zM222,182h1.0v1.0h-1.0zM286,115h1.0v1.0h-1.0zM242,247h1.0v1.0h-1.0zM230,272h1.0v1.0h-1.0zM137,173h1.0v1.0h-1.0zM218,99h1.0v1.0h-1.0zM225,201h1.0v1.0h-1.0zM270,178h1.0v1.0h-1.0zM143,294h1.0v1.0h-1.0zM232,276h1.0v1.0h-1.0zM209,98h1.0v1.0h-1.0zM116,287h1.0v1.0h-1.0zM185,64h1.0v1.0h-1.0zM111,214h1.0v1.0h-1.0zM253,73h1.0v1.0h-1.0zM158,167h1.0v1.0h-1.0zM147,143h1.0v1.0h-1.0zM146,110h1.0v1.0h-1.0zM159,206h1.0v1.0h-1.0zM278,151h1.0v1.0h-1.0zM124,78h1.0v1.0h-1.0zM155,70h1.0v1.0h-1.0zM113,174h1.0v1.0h-1.0zM272,168h1.0v1.0h-1.0zM120,85h1.0v1.0h-1.0zM214,149h1.0v1.0h-1.0zM129,212h1.0v1.0h-1.0zM231,262h1.0v1.0h-1.0zM144,191h1.0v1.0h-1.0zM137,286h1.0v1.0h-1.0zM231,212h1.0v1.0h-1.0zM283,179h1.0v1.0h-1.0zM259,179h1.0v1.0h-1.0zM278,195h1.0v1.0h-1.0zM152,163h1.0v1.0h-1.0zM159,211h1.0v1.0h-1.0zM109,214h1.0v1.0h-1.0zM120,163h1.0v1.0h-1.0zM147,162h1.0v1.0h-1.0zM108,158h1.0v1.0h-1.0zM156,169h1.0v1.0h-1.0zM115,153h1.0v1.0h-1.0zM141,96h1.0v1.0h-1.0zM162,293h1.0v1.0h-1.0zM266,263h1.0v1.0h-1.0zM129,79h1.0v1.0h-1.0zM247,140h1.0v1.0h-1.0zM282,122h1.0v1.0h-1.0zM160,133h1.0v1.0h-1.0zM222,186h1.0v1.0h-1.0zM161,155h1.0v1.0h-1.0zM213,123h1.0v1.0h-1.0zM276,269h1.0v1.0h-1.0zM276,155h1.0v1.0h-1.0zM262,184h1.0v1.0h-1.0zM262,194h1.0v1.0h-1.0zM168,203h1.0v1.0h-1.0zM266,195h1.0v1.0h-1.0zM132,198h1.0v1.0h-1.0zM270,80h1.0v1.0h-1.0zM153,194h1.0v1.0h-1.0zM159,183h1.0v1.0h-1.0zM218,282h1.0v1.0h-1.0zM132,222h1.0v1.0h-1.0zM115,166h1.0v1.0h-1.0zM119,201h1.0v1.0h-1.0zM244,77h1.0v1.0h-1.0zM244,59h1.0v1.0h-1.0zM245,205h1.0v1.0h-1.0zM211,101h1.0v1.0h-1.0zM119,79h1.0v1.0h-1.0zM155,69h1.0v1.0h-1.0zM267,265h1.0v1.0h-1.0zM177,103h1.0v1.0h-1.0zM276,162h1.0v1.0h-1.0zM125,150h1.0v1.0h-1.0zM272,195h1.0v1.0h-1.0zM278,185h1.0v1.0h-1.0zM256,171h1.0v1.0h-1.0zM135,156h1.0v1.0h-1.0zM161,189h1.0v1.0h-1.0zM207,126h1.0v1.0h-1.0zM274,164h1.0v1.0h-1.0zM256,122h1.0v1.0h-1.0zM133,190h1.0v1.0h-1.0zM223,196h1.0v1.0h-1.0zM130,92h1.0v1.0h-1.0zM121,206h1.0v1.0h-1.0zM280,175h1.0v1.0h-1.0zM180,286h1.0v1.0h-1.0zM281,158h1.0v1.0h-1.0zM157,167h1.0v1.0h-1.0zM117,161h1.0v1.0h-1.0zM251,161h1.0v1.0h-1.0zM248,130h1.0v1.0h-1.0zM201,112h1.0v1.0h-1.0zM218,292h1.0v1.0h-1.0zM123,81h1.0v1.0h-1.0zM241,157h1.0v1.0h-1.0zM229,222h1.0v1.0h-1.0zM155,159h1.0v1.0h-1.0zM278,191h1.0v1.0h-1.0zM152,287h1.0v1.0h-1.0zM166,165h1.0v1.0h-1.0zM228,271h1.0v1.0h-1.0zM272,192h1.0v1.0h-1.0zM268,171h1.0v1.0h-1.0zM271,109h1.0v1.0h-1.0zM280,166h1.0v1.0h-1.0zM256,135h1.0v1.0h-1.0zM118,207h1.0v1.0h-1.0zM163,103h1.0v1.0h-1.0zM162,152h1.0v1.0h-1.0zM156,171h1.0v1.0h-1.0zM259,190h1.0v1.0h-1.0zM234,228h1.0v1.0h-1.0zM120,79h1.0v1.0h-1.0zM126,86h1.0v1.0h-1.0zM247,149h1.0v1.0h-1.0zM155,193h1.0v1.0h-1.0zM270,179h1.0v1.0h-1.0zM222,97h1.0v1.0h-1.0zM141,73h1.0v1.0h-1.0zM200,156h1.0v1.0h-1.0zM139,182h1.0v1.0h-1.0zM113,217h1.0v1.0h-1.0zM131,222h1.0v1.0h-1.0zM262,155h1.0v1.0h-1.0zM150,159h1.0v1.0h-1.0zM258,166h1.0v1.0h-1.0zM252,152h1.0v1.0h-1.0zM185,157h1.0v1.0h-1.0zM301,143h1.0v1.0h-1.0zM253,140h1.0v1.0h-1.0zM226,283h1.0v1.0h-1.0zM159,67h1.0v1.0h-1.0zM266,167h1.0v1.0h-1.0zM153,158h1.0v1.0h-1.0zM141,59h1.0v1.0h-1.0zM129,209h1.0v1.0h-1.0zM273,192h1.0v1.0h-1.0zM274,179h1.0v1.0h-1.0zM166,156h1.0v1.0h-1.0zM259,155h1.0v1.0h-1.0zM259,232h1.0v1.0h-1.0zM255,156h1.0v1.0h-1.0zM154,207h1.0v1.0h-1.0zM166,68h1.0v1.0h-1.0zM125,216h1.0v1.0h-1.0zM153,71h1.0v1.0h-1.0zM146,214h1.0v1.0h-1.0zM255,111h1.0v1.0h-1.0zM156,190h1.0v1.0h-1.0zM154,288h1.0v1.0h-1.0zM129,185h1.0v1.0h-1.0zM117,293h1.0v1.0h-1.0zM265,156h1.0v1.0h-1.0zM137,74h1.0v1.0h-1.0zM144,166h1.0v1.0h-1.0zM189,158h1.0v1.0h-1.0zM157,173h1.0v1.0h-1.0zM151,155h1.0v1.0h-1.0zM234,225h1.0v1.0h-1.0zM135,172h1.0v1.0h-1.0zM267,163h1.0v1.0h-1.0zM283,184h1.0v1.0h-1.0zM266,199h1.0v1.0h-1.0zM258,137h1.0v1.0h-1.0zM153,94h1.0v1.0h-1.0zM111,190h1.0v1.0h-1.0zM160,213h1.0v1.0h-1.0zM222,192h1.0v1.0h-1.0zM251,243h1.0v1.0h-1.0zM228,103h1.0v1.0h-1.0zM202,51h1.0v1.0h-1.0zM230,270h1.0v1.0h-1.0zM150,89h1.0v1.0h-1.0zM253,135h1.0v1.0h-1.0zM152,91h1.0v1.0h-1.0zM147,221h1.0v1.0h-1.0zM179,161h1.0v1.0h-1.0zM125,203h1.0v1.0h-1.0zM144,203h1.0v1.0h-1.0zM285,136h1.0v1.0h-1.0zM128,188h1.0v1.0h-1.0zM111,220h1.0v1.0h-1.0zM236,94h1.0v1.0h-1.0zM276,109h1.0v1.0h-1.0zM228,168h1.0v1.0h-1.0zM136,152h1.0v1.0h-1.0zM250,121h1.0v1.0h-1.0zM260,161h1.0v1.0h-1.0zM255,138h1.0v1.0h-1.0zM280,157h1.0v1.0h-1.0zM145,152h1.0v1.0h-1.0zM272,218h1.0v1.0h-1.0zM134,293h1.0v1.0h-1.0zM258,133h1.0v1.0h-1.0zM225,98h1.0v1.0h-1.0zM141,209h1.0v1.0h-1.0zM250,63h1.0v1.0h-1.0zM147,71h1.0v1.0h-1.0zM108,222h1.0v1.0h-1.0zM239,176h1.0v1.0h-1.0zM211,52h1.0v1.0h-1.0zM142,194h1.0v1.0h-1.0zM220,160h1.0v1.0h-1.0zM157,209h1.0v1.0h-1.0zM206,99h1.0v1.0h-1.0zM167,203h1.0v1.0h-1.0zM162,183h1.0v1.0h-1.0zM231,229h1.0v1.0h-1.0zM164,155h1.0v1.0h-1.0zM231,198h1.0v1.0h-1.0zM221,56h1.0v1.0h-1.0zM133,76h1.0v1.0h-1.0zM233,105h1.0v1.0h-1.0zM241,243h1.0v1.0h-1.0zM249,280h1.0v1.0h-1.0zM207,106h1.0v1.0h-1.0zM162,94h1.0v1.0h-1.0zM306,133h1.0v1.0h-1.0zM281,189h1.0v1.0h-1.0zM123,155h1.0v1.0h-1.0zM142,86h1.0v1.0h-1.0zM122,159h1.0v1.0h-1.0zM114,210h1.0v1.0h-1.0zM267,187h1.0v1.0h-1.0zM258,113h1.0v1.0h-1.0zM259,112h1.0v1.0h-1.0zM188,101h1.0v1.0h-1.0zM268,175h1.0v1.0h-1.0zM277,175h1.0v1.0h-1.0zM115,229h1.0v1.0h-1.0zM233,196h1.0v1.0h-1.0zM261,147h1.0v1.0h-1.0zM154,92h1.0v1.0h-1.0zM283,159h1.0v1.0h-1.0zM130,225h1.0v1.0h-1.0zM181,148h1.0v1.0h-1.0zM134,185h1.0v1.0h-1.0zM185,153h1.0v1.0h-1.0zM185,136h1.0v1.0h-1.0zM143,204h1.0v1.0h-1.0zM227,135h1.0v1.0h-1.0zM264,173h1.0v1.0h-1.0zM293,177h1.0v1.0h-1.0zM170,156h1.0v1.0h-1.0zM260,176h1.0v1.0h-1.0zM309,257h1.0v1.0h-1.0zM183,286h1.0v1.0h-1.0zM109,205h1.0v1.0h-1.0zM230,221h1.0v1.0h-1.0zM151,168h1.0v1.0h-1.0zM229,223h1.0v1.0h-1.0zM278,150h1.0v1.0h-1.0zM233,272h1.0v1.0h-1.0zM266,187h1.0v1.0h-1.0zM277,176h1.0v1.0h-1.0zM250,249h1.0v1.0h-1.0zM231,197h1.0v1.0h-1.0zM118,222h1.0v1.0h-1.0zM187,283h1.0v1.0h-1.0zM171,163h1.0v1.0h-1.0zM235,235h1.0v1.0h-1.0zM237,233h1.0v1.0h-1.0zM132,183h1.0v1.0h-1.0zM155,199h1.0v1.0h-1.0zM166,162h1.0v1.0h-1.0zM160,170h1.0v1.0h-1.0zM258,179h1.0v1.0h-1.0zM258,114h1.0v1.0h-1.0zM233,257h1.0v1.0h-1.0zM287,151h1.0v1.0h-1.0zM232,243h1.0v1.0h-1.0zM294,122h1.0v1.0h-1.0zM232,255h1.0v1.0h-1.0zM131,72h1.0v1.0h-1.0zM289,129h1.0v1.0h-1.0zM264,194h1.0v1.0h-1.0zM108,282h1.0v1.0h-1.0zM167,164h1.0v1.0h-1.0zM242,219h1.0v1.0h-1.0zM109,182h1.0v1.0h-1.0zM268,186h1.0v1.0h-1.0zM208,99h1.0v1.0h-1.0zM135,75h1.0v1.0h-1.0zM125,164h1.0v1.0h-1.0zM277,172h1.0v1.0h-1.0zM236,218h1.0v1.0h-1.0zM228,116h1.0v1.0h-1.0zM183,154h1.0v1.0h-1.0zM204,282h1.0v1.0h-1.0zM156,91h1.0v1.0h-1.0zM200,153h1.0v1.0h-1.0zM117,157h1.0v1.0h-1.0zM132,181h1.0v1.0h-1.0zM226,194h1.0v1.0h-1.0zM161,92h1.0v1.0h-1.0zM164,188h1.0v1.0h-1.0zM161,166h1.0v1.0h-1.0zM141,205h1.0v1.0h-1.0zM176,152h1.0v1.0h-1.0zM278,169h1.0v1.0h-1.0zM264,165h1.0v1.0h-1.0zM170,164h1.0v1.0h-1.0zM224,149h1.0v1.0h-1.0zM127,157h1.0v1.0h-1.0zM266,176h1.0v1.0h-1.0zM291,279h1.0v1.0h-1.0zM221,171h1.0v1.0h-1.0zM237,227h1.0v1.0h-1.0zM163,167h1.0v1.0h-1.0zM280,116h1.0v1.0h-1.0zM282,123h1.0v1.0h-1.0zM152,185h1.0v1.0h-1.0zM136,190h1.0v1.0h-1.0zM163,62h1.0v1.0h-1.0zM117,228h1.0v1.0h-1.0zM239,272h1.0v1.0h-1.0zM227,213h1.0v1.0h-1.0zM290,122h1.0v1.0h-1.0zM256,173h1.0v1.0h-1.0zM258,155h1.0v1.0h-1.0zM149,193h1.0v1.0h-1.0zM145,203h1.0v1.0h-1.0zM130,80h1.0v1.0h-1.0zM285,151h1.0v1.0h-1.0zM110,187h1.0v1.0h-1.0zM149,67h1.0v1.0h-1.0zM255,189h1.0v1.0h-1.0zM116,76h1.0v1.0h-1.0zM280,105h1.0v1.0h-1.0zM206,156h1.0v1.0h-1.0zM256,117h1.0v1.0h-1.0zM228,196h1.0v1.0h-1.0zM261,248h1.0v1.0h-1.0zM234,263h1.0v1.0h-1.0zM279,156h1.0v1.0h-1.0zM272,188h1.0v1.0h-1.0zM259,171h1.0v1.0h-1.0zM123,89h1.0v1.0h-1.0zM266,197h1.0v1.0h-1.0zM120,156h1.0v1.0h-1.0zM254,253h1.0v1.0h-1.0zM242,86h1.0v1.0h-1.0zM179,149h1.0v1.0h-1.0zM208,152h1.0v1.0h-1.0zM225,180h1.0v1.0h-1.0zM111,207h1.0v1.0h-1.0zM285,139h1.0v1.0h-1.0zM145,215h1.0v1.0h-1.0zM256,115h1.0v1.0h-1.0zM133,152h1.0v1.0h-1.0zM137,163h1.0v1.0h-1.0zM220,164h1.0v1.0h-1.0zM138,209h1.0v1.0h-1.0zM128,221h1.0v1.0h-1.0zM246,261h1.0v1.0h-1.0zM121,165h1.0v1.0h-1.0zM267,166h1.0v1.0h-1.0zM276,154h1.0v1.0h-1.0zM129,157h1.0v1.0h-1.0zM116,172h1.0v1.0h-1.0zM235,253h1.0v1.0h-1.0zM246,127h1.0v1.0h-1.0zM186,157h1.0v1.0h-1.0zM130,168h1.0v1.0h-1.0zM118,220h1.0v1.0h-1.0zM243,259h1.0v1.0h-1.0zM229,202h1.0v1.0h-1.0zM126,71h1.0v1.0h-1.0zM145,284h1.0v1.0h-1.0zM257,276h1.0v1.0h-1.0zM136,87h1.0v1.0h-1.0zM134,87h1.0v1.0h-1.0zM249,258h1.0v1.0h-1.0zM203,146h1.0v1.0h-1.0zM249,141h1.0v1.0h-1.0zM254,123h1.0v1.0h-1.0zM226,200h1.0v1.0h-1.0zM170,159h1.0v1.0h-1.0zM150,212h1.0v1.0h-1.0zM239,257h1.0v1.0h-1.0zM236,248h1.0v1.0h-1.0zM259,137h1.0v1.0h-1.0zM272,282h1.0v1.0h-1.0zM137,210h1.0v1.0h-1.0zM122,80h1.0v1.0h-1.0zM283,135h1.0v1.0h-1.0zM177,154h1.0v1.0h-1.0zM276,206h1.0v1.0h-1.0zM180,160h1.0v1.0h-1.0zM155,189h1.0v1.0h-1.0zM266,105h1.0v1.0h-1.0zM261,264h1.0v1.0h-1.0zM211,60h1.0v1.0h-1.0zM196,124h1.0v1.0h-1.0zM157,207h1.0v1.0h-1.0zM268,184h1.0v1.0h-1.0zM263,220h1.0v1.0h-1.0zM238,111h1.0v1.0h-1.0zM227,209h1.0v1.0h-1.0zM248,139h1.0v1.0h-1.0zM245,137h1.0v1.0h-1.0zM246,247h1.0v1.0h-1.0zM275,173h1.0v1.0h-1.0zM281,119h1.0v1.0h-1.0zM157,206h1.0v1.0h-1.0zM247,245h1.0v1.0h-1.0zM164,154h1.0v1.0h-1.0zM288,131h1.0v1.0h-1.0zM123,150h1.0v1.0h-1.0zM280,194h1.0v1.0h-1.0zM286,149h1.0v1.0h-1.0zM229,122h1.0v1.0h-1.0zM230,267h1.0v1.0h-1.0zM174,97h1.0v1.0h-1.0zM136,220h1.0v1.0h-1.0zM113,173h1.0v1.0h-1.0zM112,200h1.0v1.0h-1.0zM121,177h1.0v1.0h-1.0zM278,113h1.0v1.0h-1.0zM118,197h1.0v1.0h-1.0zM158,169h1.0v1.0h-1.0zM276,112h1.0v1.0h-1.0zM137,180h1.0v1.0h-1.0zM295,153h1.0v1.0h-1.0zM127,187h1.0v1.0h-1.0zM133,82h1.0v1.0h-1.0zM149,172h1.0v1.0h-1.0zM131,196h1.0v1.0h-1.0zM272,178h1.0v1.0h-1.0zM268,189h1.0v1.0h-1.0zM202,144h1.0v1.0h-1.0zM109,179h1.0v1.0h-1.0zM114,225h1.0v1.0h-1.0zM124,161h1.0v1.0h-1.0zM276,182h1.0v1.0h-1.0zM164,187h1.0v1.0h-1.0zM119,74h1.0v1.0h-1.0zM285,126h1.0v1.0h-1.0zM223,180h1.0v1.0h-1.0zM134,165h1.0v1.0h-1.0zM139,218h1.0v1.0h-1.0zM123,219h1.0v1.0h-1.0zM266,196h1.0v1.0h-1.0zM135,150h1.0v1.0h-1.0zM138,180h1.0v1.0h-1.0zM201,157h1.0v1.0h-1.0zM139,292h1.0v1.0h-1.0zM193,64h1.0v1.0h-1.0zM121,161h1.0v1.0h-1.0zM142,72h1.0v1.0h-1.0zM123,180h1.0v1.0h-1.0zM289,193h1.0v1.0h-1.0zM155,205h1.0v1.0h-1.0zM241,164h1.0v1.0h-1.0zM258,159h1.0v1.0h-1.0zM155,164h1.0v1.0h-1.0zM282,141h1.0v1.0h-1.0zM207,144h1.0v1.0h-1.0zM256,187h1.0v1.0h-1.0zM131,175h1.0v1.0h-1.0zM281,115h1.0v1.0h-1.0zM258,131h1.0v1.0h-1.0zM287,133h1.0v1.0h-1.0zM127,81h1.0v1.0h-1.0zM238,267h1.0v1.0h-1.0zM234,115h1.0v1.0h-1.0zM176,160h1.0v1.0h-1.0zM238,271h1.0v1.0h-1.0zM109,175h1.0v1.0h-1.0zM244,178h1.0v1.0h-1.0zM140,162h1.0v1.0h-1.0zM151,69h1.0v1.0h-1.0zM314,117h1.0v1.0h-1.0zM232,247h1.0v1.0h-1.0zM280,156h1.0v1.0h-1.0zM258,134h1.0v1.0h-1.0zM270,171h1.0v1.0h-1.0zM293,127h1.0v1.0h-1.0zM226,156h1.0v1.0h-1.0zM225,170h1.0v1.0h-1.0zM225,277h1.0v1.0h-1.0zM108,174h1.0v1.0h-1.0zM112,161h1.0v1.0h-1.0zM123,179h1.0v1.0h-1.0zM130,183h1.0v1.0h-1.0zM162,161h1.0v1.0h-1.0zM123,182h1.0v1.0h-1.0zM269,205h1.0v1.0h-1.0zM232,95h1.0v1.0h-1.0zM151,153h1.0v1.0h-1.0zM113,176h1.0v1.0h-1.0zM281,171h1.0v1.0h-1.0zM119,76h1.0v1.0h-1.0zM202,154h1.0v1.0h-1.0zM162,207h1.0v1.0h-1.0zM181,159h1.0v1.0h-1.0zM198,150h1.0v1.0h-1.0zM220,127h1.0v1.0h-1.0zM294,118h1.0v1.0h-1.0zM160,56h1.0v1.0h-1.0zM273,197h1.0v1.0h-1.0zM202,157h1.0v1.0h-1.0zM191,65h1.0v1.0h-1.0zM166,205h1.0v1.0h-1.0zM159,156h1.0v1.0h-1.0zM146,162h1.0v1.0h-1.0zM261,196h1.0v1.0h-1.0zM283,139h1.0v1.0h-1.0zM186,103h1.0v1.0h-1.0zM146,159h1.0v1.0h-1.0zM122,220h1.0v1.0h-1.0zM115,209h1.0v1.0h-1.0zM121,199h1.0v1.0h-1.0zM120,195h1.0v1.0h-1.0zM143,187h1.0v1.0h-1.0zM148,101h1.0v1.0h-1.0zM127,166h1.0v1.0h-1.0zM252,160h1.0v1.0h-1.0zM277,167h1.0v1.0h-1.0zM169,281h1.0v1.0h-1.0zM269,112h1.0v1.0h-1.0zM175,195h1.0v1.0h-1.0zM215,158h1.0v1.0h-1.0zM171,204h1.0v1.0h-1.0zM246,108h1.0v1.0h-1.0zM115,84h1.0v1.0h-1.0zM147,214h1.0v1.0h-1.0zM147,94h1.0v1.0h-1.0zM251,71h1.0v1.0h-1.0zM125,200h1.0v1.0h-1.0zM113,203h1.0v1.0h-1.0zM160,283h1.0v1.0h-1.0zM245,71h1.0v1.0h-1.0zM257,163h1.0v1.0h-1.0zM262,166h1.0v1.0h-1.0zM269,192h1.0v1.0h-1.0zM144,213h1.0v1.0h-1.0zM278,177h1.0v1.0h-1.0zM155,206h1.0v1.0h-1.0zM178,160h1.0v1.0h-1.0zM228,230h1.0v1.0h-1.0zM216,281h1.0v1.0h-1.0zM253,127h1.0v1.0h-1.0zM140,205h1.0v1.0h-1.0zM112,216h1.0v1.0h-1.0zM153,92h1.0v1.0h-1.0zM198,147h1.0v1.0h-1.0zM268,284h1.0v1.0h-1.0zM156,164h1.0v1.0h-1.0zM110,177h1.0v1.0h-1.0zM142,178h1.0v1.0h-1.0zM275,113h1.0v1.0h-1.0zM204,59h1.0v1.0h-1.0zM195,104h1.0v1.0h-1.0zM244,153h1.0v1.0h-1.0zM215,105h1.0v1.0h-1.0zM236,265h1.0v1.0h-1.0zM120,214h1.0v1.0h-1.0zM133,73h1.0v1.0h-1.0zM230,227h1.0v1.0h-1.0zM264,114h1.0v1.0h-1.0zM168,96h1.0v1.0h-1.0zM230,214h1.0v1.0h-1.0zM288,118h1.0v1.0h-1.0zM291,128h1.0v1.0h-1.0zM122,221h1.0v1.0h-1.0zM229,146h1.0v1.0h-1.0zM254,154h1.0v1.0h-1.0zM290,149h1.0v1.0h-1.0zM275,186h1.0v1.0h-1.0zM166,160h1.0v1.0h-1.0zM164,163h1.0v1.0h-1.0zM253,123h1.0v1.0h-1.0zM174,285h1.0v1.0h-1.0zM127,199h1.0v1.0h-1.0zM153,163h1.0v1.0h-1.0zM259,143h1.0v1.0h-1.0zM174,153h1.0v1.0h-1.0zM132,167h1.0v1.0h-1.0zM201,54h1.0v1.0h-1.0zM111,155h1.0v1.0h-1.0zM224,108h1.0v1.0h-1.0zM147,290h1.0v1.0h-1.0zM197,151h1.0v1.0h-1.0zM260,147h1.0v1.0h-1.0zM243,247h1.0v1.0h-1.0zM118,155h1.0v1.0h-1.0zM139,155h1.0v1.0h-1.0zM217,155h1.0v1.0h-1.0zM237,108h1.0v1.0h-1.0zM169,199h1.0v1.0h-1.0zM199,156h1.0v1.0h-1.0zM171,99h1.0v1.0h-1.0zM260,168h1.0v1.0h-1.0zM256,129h1.0v1.0h-1.0zM281,139h1.0v1.0h-1.0zM157,166h1.0v1.0h-1.0zM209,158h1.0v1.0h-1.0zM265,180h1.0v1.0h-1.0zM195,112h1.0v1.0h-1.0zM272,112h1.0v1.0h-1.0zM285,129h1.0v1.0h-1.0zM234,205h1.0v1.0h-1.0zM201,158h1.0v1.0h-1.0zM230,262h1.0v1.0h-1.0zM106,63h1.0v1.0h-1.0zM234,211h1.0v1.0h-1.0zM226,172h1.0v1.0h-1.0zM249,151h1.0v1.0h-1.0zM222,107h1.0v1.0h-1.0zM142,221h1.0v1.0h-1.0zM341,145h1.0v1.0h-1.0zM127,212h1.0v1.0h-1.0zM133,78h1.0v1.0h-1.0zM127,204h1.0v1.0h-1.0zM264,202h1.0v1.0h-1.0zM138,88h1.0v1.0h-1.0zM174,201h1.0v1.0h-1.0zM136,94h1.0v1.0h-1.0zM229,278h1.0v1.0h-1.0zM273,176h1.0v1.0h-1.0zM229,272h1.0v1.0h-1.0zM149,141h1.0v1.0h-1.0zM233,258h1.0v1.0h-1.0zM243,226h1.0v1.0h-1.0zM260,269h1.0v1.0h-1.0zM109,168h1.0v1.0h-1.0zM202,131h1.0v1.0h-1.0zM271,168h1.0v1.0h-1.0zM151,173h1.0v1.0h-1.0zM134,215h1.0v1.0h-1.0zM298,135h1.0v1.0h-1.0zM250,266h1.0v1.0h-1.0zM233,252h1.0v1.0h-1.0zM230,54h1.0v1.0h-1.0zM239,199h1.0v1.0h-1.0zM115,158h1.0v1.0h-1.0zM255,119h1.0v1.0h-1.0zM257,140h1.0v1.0h-1.0zM157,193h1.0v1.0h-1.0zM149,101h1.0v1.0h-1.0zM270,184h1.0v1.0h-1.0zM285,143h1.0v1.0h-1.0zM232,188h1.0v1.0h-1.0zM113,194h1.0v1.0h-1.0zM192,146h1.0v1.0h-1.0zM157,182h1.0v1.0h-1.0zM237,272h1.0v1.0h-1.0zM207,59h1.0v1.0h-1.0zM143,89h1.0v1.0h-1.0zM125,176h1.0v1.0h-1.0zM252,145h1.0v1.0h-1.0zM179,155h1.0v1.0h-1.0zM263,187h1.0v1.0h-1.0zM113,192h1.0v1.0h-1.0zM226,278h1.0v1.0h-1.0zM125,184h1.0v1.0h-1.0zM214,155h1.0v1.0h-1.0zM283,121h1.0v1.0h-1.0zM140,168h1.0v1.0h-1.0zM286,130h1.0v1.0h-1.0zM283,141h1.0v1.0h-1.0zM275,182h1.0v1.0h-1.0zM204,291h1.0v1.0h-1.0zM142,157h1.0v1.0h-1.0zM221,168h1.0v1.0h-1.0zM267,230h1.0v1.0h-1.0zM261,156h1.0v1.0h-1.0zM127,213h1.0v1.0h-1.0zM186,100h1.0v1.0h-1.0zM274,158h1.0v1.0h-1.0zM151,169h1.0v1.0h-1.0zM298,171h1.0v1.0h-1.0zM301,139h1.0v1.0h-1.0zM172,197h1.0v1.0h-1.0zM222,103h1.0v1.0h-1.0zM287,137h1.0v1.0h-1.0zM128,185h1.0v1.0h-1.0zM170,162h1.0v1.0h-1.0zM246,56h1.0v1.0h-1.0zM262,175h1.0v1.0h-1.0zM292,153h1.0v1.0h-1.0zM137,186h1.0v1.0h-1.0zM258,257h1.0v1.0h-1.0zM234,271h1.0v1.0h-1.0zM262,170h1.0v1.0h-1.0zM258,123h1.0v1.0h-1.0zM264,186h1.0v1.0h-1.0zM240,243h1.0v1.0h-1.0zM231,188h1.0v1.0h-1.0zM251,249h1.0v1.0h-1.0zM110,209h1.0v1.0h-1.0zM282,188h1.0v1.0h-1.0zM114,173h1.0v1.0h-1.0zM161,56h1.0v1.0h-1.0zM262,207h1.0v1.0h-1.0zM243,61h1.0v1.0h-1.0zM157,156h1.0v1.0h-1.0zM253,152h1.0v1.0h-1.0zM124,81h1.0v1.0h-1.0zM270,172h1.0v1.0h-1.0zM119,166h1.0v1.0h-1.0zM286,133h1.0v1.0h-1.0zM158,60h1.0v1.0h-1.0zM162,157h1.0v1.0h-1.0zM146,88h1.0v1.0h-1.0zM282,266h1.0v1.0h-1.0zM167,205h1.0v1.0h-1.0zM145,221h1.0v1.0h-1.0zM262,148h1.0v1.0h-1.0zM167,199h1.0v1.0h-1.0zM130,207h1.0v1.0h-1.0zM111,221h1.0v1.0h-1.0zM122,81h1.0v1.0h-1.0zM227,96h1.0v1.0h-1.0zM280,113h1.0v1.0h-1.0zM143,162h1.0v1.0h-1.0zM177,61h1.0v1.0h-1.0zM279,111h1.0v1.0h-1.0zM109,211h1.0v1.0h-1.0zM221,286h1.0v1.0h-1.0zM263,163h1.0v1.0h-1.0zM133,224h1.0v1.0h-1.0zM126,290h1.0v1.0h-1.0zM284,112h1.0v1.0h-1.0zM222,180h1.0v1.0h-1.0zM249,83h1.0v1.0h-1.0zM275,192h1.0v1.0h-1.0zM288,136h1.0v1.0h-1.0zM128,81h1.0v1.0h-1.0zM138,186h1.0v1.0h-1.0zM194,158h1.0v1.0h-1.0zM209,60h1.0v1.0h-1.0zM110,182h1.0v1.0h-1.0zM214,104h1.0v1.0h-1.0zM172,281h1.0v1.0h-1.0zM143,74h1.0v1.0h-1.0zM154,178h1.0v1.0h-1.0zM167,155h1.0v1.0h-1.0zM188,129h1.0v1.0h-1.0zM299,143h1.0v1.0h-1.0zM213,158h1.0v1.0h-1.0zM185,104h1.0v1.0h-1.0zM143,157h1.0v1.0h-1.0zM126,206h1.0v1.0h-1.0zM259,166h1.0v1.0h-1.0zM256,57h1.0v1.0h-1.0zM282,148h1.0v1.0h-1.0zM227,200h1.0v1.0h-1.0zM123,211h1.0v1.0h-1.0zM141,86h1.0v1.0h-1.0zM130,56h1.0v1.0h-1.0zM159,173h1.0v1.0h-1.0zM111,162h1.0v1.0h-1.0zM251,193h1.0v1.0h-1.0zM288,151h1.0v1.0h-1.0zM131,190h1.0v1.0h-1.0zM157,219h1.0v1.0h-1.0zM263,172h1.0v1.0h-1.0zM129,193h1.0v1.0h-1.0zM272,166h1.0v1.0h-1.0zM187,102h1.0v1.0h-1.0zM254,135h1.0v1.0h-1.0zM128,177h1.0v1.0h-1.0zM150,292h1.0v1.0h-1.0zM120,90h1.0v1.0h-1.0zM225,155h1.0v1.0h-1.0zM157,93h1.0v1.0h-1.0zM194,152h1.0v1.0h-1.0zM173,65h1.0v1.0h-1.0zM276,187h1.0v1.0h-1.0zM244,161h1.0v1.0h-1.0zM118,170h1.0v1.0h-1.0zM259,110h1.0v1.0h-1.0zM173,155h1.0v1.0h-1.0zM257,127h1.0v1.0h-1.0zM273,249h1.0v1.0h-1.0zM169,287h1.0v1.0h-1.0zM226,53h1.0v1.0h-1.0zM126,77h1.0v1.0h-1.0zM290,116h1.0v1.0h-1.0zM243,272h1.0v1.0h-1.0zM128,192h1.0v1.0h-1.0zM222,185h1.0v1.0h-1.0zM281,116h1.0v1.0h-1.0zM167,106h1.0v1.0h-1.0zM234,240h1.0v1.0h-1.0zM189,156h1.0v1.0h-1.0zM142,73h1.0v1.0h-1.0zM122,175h1.0v1.0h-1.0zM233,94h1.0v1.0h-1.0zM229,279h1.0v1.0h-1.0zM151,158h1.0v1.0h-1.0zM275,238h1.0v1.0h-1.0zM130,181h1.0v1.0h-1.0zM157,216h1.0v1.0h-1.0zM283,129h1.0v1.0h-1.0zM151,180h1.0v1.0h-1.0zM119,226h1.0v1.0h-1.0zM162,212h1.0v1.0h-1.0zM280,162h1.0v1.0h-1.0zM229,215h1.0v1.0h-1.0zM138,219h1.0v1.0h-1.0zM233,237h1.0v1.0h-1.0zM248,85h1.0v1.0h-1.0zM228,190h1.0v1.0h-1.0zM238,237h1.0v1.0h-1.0zM225,198h1.0v1.0h-1.0zM132,210h1.0v1.0h-1.0zM227,273h1.0v1.0h-1.0zM112,291h1.0v1.0h-1.0zM119,159h1.0v1.0h-1.0zM147,180h1.0v1.0h-1.0zM224,188h1.0v1.0h-1.0zM258,261h1.0v1.0h-1.0zM155,151h1.0v1.0h-1.0zM180,104h1.0v1.0h-1.0zM109,204h1.0v1.0h-1.0zM116,160h1.0v1.0h-1.0zM156,162h1.0v1.0h-1.0zM132,158h1.0v1.0h-1.0zM137,220h1.0v1.0h-1.0zM122,216h1.0v1.0h-1.0zM211,104h1.0v1.0h-1.0zM233,250h1.0v1.0h-1.0zM254,150h1.0v1.0h-1.0zM173,194h1.0v1.0h-1.0zM261,185h1.0v1.0h-1.0zM233,201h1.0v1.0h-1.0zM114,220h1.0v1.0h-1.0zM258,175h1.0v1.0h-1.0zM212,128h1.0v1.0h-1.0zM117,186h1.0v1.0h-1.0zM161,174h1.0v1.0h-1.0zM169,155h1.0v1.0h-1.0zM263,166h1.0v1.0h-1.0zM110,196h1.0v1.0h-1.0zM288,132h1.0v1.0h-1.0zM153,90h1.0v1.0h-1.0zM108,154h1.0v1.0h-1.0zM170,281h1.0v1.0h-1.0zM134,222h1.0v1.0h-1.0zM141,169h1.0v1.0h-1.0zM190,103h1.0v1.0h-1.0zM227,202h1.0v1.0h-1.0zM292,116h1.0v1.0h-1.0zM115,184h1.0v1.0h-1.0zM124,183h1.0v1.0h-1.0zM265,113h1.0v1.0h-1.0zM284,118h1.0v1.0h-1.0zM255,132h1.0v1.0h-1.0zM130,83h1.0v1.0h-1.0zM282,124h1.0v1.0h-1.0zM269,180h1.0v1.0h-1.0zM276,107h1.0v1.0h-1.0zM268,187h1.0v1.0h-1.0zM122,225h1.0v1.0h-1.0zM244,116h1.0v1.0h-1.0zM152,208h1.0v1.0h-1.0zM181,97h1.0v1.0h-1.0zM279,191h1.0v1.0h-1.0zM159,179h1.0v1.0h-1.0zM210,284h1.0v1.0h-1.0zM241,235h1.0v1.0h-1.0zM276,215h1.0v1.0h-1.0zM236,273h1.0v1.0h-1.0zM251,238h1.0v1.0h-1.0zM122,82h1.0v1.0h-1.0zM142,164h1.0v1.0h-1.0zM158,187h1.0v1.0h-1.0zM160,165h1.0v1.0h-1.0zM254,142h1.0v1.0h-1.0zM108,161h1.0v1.0h-1.0zM265,108h1.0v1.0h-1.0zM251,128h1.0v1.0h-1.0zM234,229h1.0v1.0h-1.0zM134,218h1.0v1.0h-1.0zM215,55h1.0v1.0h-1.0zM110,289h1.0v1.0h-1.0zM168,285h1.0v1.0h-1.0zM203,157h1.0v1.0h-1.0zM256,136h1.0v1.0h-1.0zM239,210h1.0v1.0h-1.0zM274,159h1.0v1.0h-1.0zM206,157h1.0v1.0h-1.0zM147,174h1.0v1.0h-1.0zM262,152h1.0v1.0h-1.0zM229,109h1.0v1.0h-1.0zM273,183h1.0v1.0h-1.0zM281,144h1.0v1.0h-1.0zM268,220h1.0v1.0h-1.0zM184,53h1.0v1.0h-1.0zM159,207h1.0v1.0h-1.0zM167,192h1.0v1.0h-1.0zM203,154h1.0v1.0h-1.0zM244,52h1.0v1.0h-1.0zM159,99h1.0v1.0h-1.0zM289,119h1.0v1.0h-1.0zM283,108h1.0v1.0h-1.0zM118,212h1.0v1.0h-1.0z"/>
</g>
<clipPath id="clipR"><rect x="374.5" y="49.8" width="247.0" height="248.0"/></clipPath>
<g clip-path="url(#clipR)">
<path d="M374.0,74.0L379.5,74.3L381.8,75.5L383.0,78.0L383.6,84.0L383.6,96.0L382.8,102.0L381.5,105.0L379.0,106.8L374.0,107.0Z" fill="#333" fill-opacity="1.0"/>
<path d="M374.0,178.0L380.0,178.5L382.0,181.0L383.0,188.0L383.3,230.0L383.0,270.0L382.0,281.0L374.0,281.5Z" fill="#333" fill-opacity="1.0"/>
<path d="M440.0,78.0C442.3,76.9 449.2,76.0 455.0,75.5C460.8,75.0 469.2,74.8 475.0,75.0C480.8,75.2 486.8,75.7 490.0,76.5C493.2,77.3 494.3,78.7 494.0,80.0C493.7,81.3 492.0,83.6 488.0,84.5C484.0,85.4 476.0,85.4 470.0,85.5C464.0,85.6 456.8,85.6 452.0,85.0C447.2,84.4 443.0,83.2 441.0,82.0C439.0,80.8 437.7,79.1 440.0,78.0Z" fill="#333" fill-opacity="0.85"/>
<path d="M455.0,101.0C457.0,99.9 464.7,100.1 470.0,100.0C475.3,99.9 484.5,99.7 487.0,100.5C489.5,101.3 487.5,103.8 485.0,105.0C482.5,106.2 476.5,107.2 472.0,107.5C467.5,107.8 460.8,107.6 458.0,106.5C455.2,105.4 453.0,102.1 455.0,101.0Z" fill="#333" fill-opacity="0.8"/>
<path d="M489.0,79.0C490.2,77.3 494.8,78.5 497.0,80.0C499.2,81.5 501.5,85.2 502.0,88.0C502.5,90.8 501.7,94.8 500.0,97.0C498.3,99.2 493.7,102.2 492.0,101.0C490.3,99.8 490.5,93.7 490.0,90.0C489.5,86.3 487.8,80.7 489.0,79.0Z" fill="#333" fill-opacity="0.7"/>
<path d="M418.0,262.0C424.3,260.4 440.0,260.7 450.0,260.5C460.0,260.3 471.7,260.4 478.0,261.0C484.3,261.6 486.2,262.3 488.0,264.0C489.8,265.7 491.0,268.9 489.0,271.0C487.0,273.1 484.2,275.3 476.0,276.3C467.8,277.3 449.3,276.9 440.0,276.8C430.7,276.7 424.7,276.6 420.0,275.5C415.3,274.4 412.3,272.2 412.0,270.0C411.7,267.8 411.7,263.6 418.0,262.0Z" fill="#333" fill-opacity="0.85"/>
<path d="M488.0,238.0C489.2,236.8 492.3,238.7 494.0,241.0C495.7,243.3 497.4,248.2 498.0,252.0C498.6,255.8 498.5,261.0 497.5,264.0C496.5,267.0 493.7,270.2 492.0,270.0C490.3,269.8 488.3,266.7 487.5,263.0C486.7,259.3 486.9,252.2 487.0,248.0C487.1,243.8 486.8,239.2 488.0,238.0Z" fill="#333" fill-opacity="0.8"/>
<path d="M476.6,92.2L475.1,92.4L473.1,92.3L471.6,92.1L470.1,91.7L469.0,91.2L468.5,90.7L468.1,90.1L468.0,89.7L468.1,89.2L469.1,88.2L470.2,87.7L472.1,87.2L473.6,87.0L475.6,87.1L477.6,87.4L479.1,88.0L480.0,88.7L480.4,89.2L480.5,89.7L480.5,90.2L480.2,90.7L479.6,91.2L478.6,91.7L476.6,92.2M477.6,93.7L475.1,93.9L472.6,93.8L470.1,93.5L468.1,92.9L466.4,92.2L465.1,91.2L464.5,90.2L464.5,89.2L465.1,88.2L465.7,87.7L467.5,86.7L470.1,85.9L473.1,85.5L476.6,85.6L479.5,86.2L482.0,87.2L483.3,88.2L483.7,88.7L484.0,89.7L483.8,90.7L483.1,91.5L482.3,92.2L481.1,92.7L479.6,93.2L477.6,93.7M477.1,95.2L473.6,95.3L470.6,95.0L467.6,94.4L465.2,93.7L463.3,92.7L461.7,91.2L461.3,90.2L461.3,89.2L461.4,88.7L462.1,87.7L462.6,87.2L464.1,86.2L465.6,85.5L469.1,84.6L473.6,84.2L477.6,84.3L481.7,85.2L483.6,85.9L485.1,86.7L486.7,88.2L487.1,89.2L487.1,90.2L487.0,90.7L486.4,91.7L485.3,92.7L483.6,93.6L482.1,94.2L479.6,94.8L477.1,95.2M477.6,96.2L473.6,96.3L470.1,96.1L466.6,95.4L463.6,94.4L461.1,93.2L459.4,91.7L458.7,90.2L458.8,88.7L459.4,87.7L460.4,86.7L461.9,85.7L463.6,84.9L465.9,84.2L468.1,83.6L473.1,83.1L478.1,83.3L482.6,84.2L484.6,84.8L486.4,85.7L487.9,86.7L488.9,87.7L489.6,89.2L489.5,90.7L488.6,92.1L487.4,93.2L485.6,94.2L483.2,95.2L480.6,95.8L477.6,96.2M479.1,97.2L475.1,97.4L470.6,97.2L466.6,96.6L462.6,95.5L459.6,94.1L458.2,93.2L457.1,92.2L456.2,90.7L456.0,89.7L456.2,88.7L457.0,87.2L458.1,86.2L459.6,85.2L461.7,84.2L464.1,83.4L466.6,82.8L469.6,82.3L472.6,82.1L478.1,82.2L481.1,82.6L483.6,83.2L486.1,84.0L488.1,84.9L490.1,86.2L491.1,87.2L491.9,88.7L492.1,90.2L491.5,91.7L490.3,93.2L488.1,94.6L485.7,95.7L482.6,96.6L479.1,97.2M475.1,98.2L470.6,98.0L466.6,97.4L462.6,96.4L459.4,95.2L456.9,93.7L455.7,92.7L454.9,91.7L454.4,90.7L454.2,89.7L454.5,88.2L455.6,86.7L456.7,85.7L458.6,84.5L461.1,83.4L464.1,82.5L467.1,81.9L470.1,81.5L473.6,81.3L477.1,81.4L480.1,81.7L483.1,82.2L486.1,83.0L488.6,84.0L490.7,85.2L492.1,86.3L493.2,87.7L493.7,89.2L493.7,90.2L493.5,91.2L493.0,92.2L492.1,93.2L490.1,94.7L487.1,96.1L483.6,97.2L479.6,97.9L475.1,98.2M479.1,98.7L474.1,98.9L468.6,98.5L463.9,97.7L459.6,96.3L456.3,94.7L454.9,93.7L453.8,92.7L453.1,91.7L452.5,90.2L452.4,89.2L452.7,88.2L453.6,86.7L455.1,85.3L457.0,84.2L459.6,83.0L462.6,82.0L465.6,81.4L469.1,80.9L472.6,80.6L476.1,80.6L479.6,80.9L482.6,81.3L485.6,82.0L488.6,83.0L491.1,84.2L492.6,85.2L494.2,86.7L494.9,87.7L495.3,88.7L495.4,89.7L495.3,90.7L495.0,91.7L494.3,92.7L492.8,94.2L490.5,95.7L487.1,97.0L483.1,98.1L479.1,98.7M481.1,99.2L475.6,99.6L469.6,99.4L464.1,98.5L459.3,97.2L456.9,96.2L455.1,95.2L453.6,94.2L452.1,92.9L451.2,91.7L450.7,90.7L450.5,89.2L450.8,88.2L451.7,86.7L453.3,85.2L455.6,83.7L458.1,82.6L461.1,81.6L464.6,80.8L468.1,80.2L472.1,79.9L475.6,79.9L479.1,80.1L482.6,80.5L486.1,81.3L489.1,82.2L491.6,83.3L493.9,84.7L495.6,86.2L496.3,87.2L496.8,88.2L497.1,89.2L497.1,90.2L496.9,91.2L496.4,92.2L495.7,93.2L494.7,94.2L492.1,95.9L489.1,97.3L485.1,98.5L481.1,99.2M479.1,100.2L473.6,100.4L467.6,99.9L462.1,98.9L457.6,97.5L453.6,95.6L452.1,94.6L450.4,93.2L449.3,91.7L448.8,90.7L448.6,89.2L448.8,88.2L449.7,86.7L451.6,84.8L454.1,83.3L457.1,82.0L460.6,80.9L464.6,80.0L468.6,79.4L472.6,79.1L476.6,79.2L480.6,79.5L484.6,80.1L488.1,80.9L491.5,82.2L494.1,83.5L496.4,85.2L497.8,86.7L498.3,87.7L498.7,88.7L498.8,90.2L498.6,91.2L498.2,92.2L497.5,93.2L495.4,95.2L492.6,96.8L488.6,98.4L484.1,99.5L479.1,100.2M481.6,100.7L475.6,101.1L469.1,100.9L465.6,100.4L462.6,99.8L457.1,98.3L454.4,97.2L452.1,95.9L450.2,94.7L448.5,93.2L447.3,91.7L446.8,90.7L446.6,89.2L446.8,88.2L447.3,87.2L448.0,86.2L449.7,84.7L452.1,83.2L455.4,81.7L459.1,80.4L463.1,79.5L467.1,78.8L471.6,78.5L476.1,78.4L480.1,78.7L484.1,79.2L488.1,80.1L491.6,81.2L494.6,82.5L497.1,84.1L498.8,85.7L500.1,87.7L500.4,88.7L500.5,90.2L500.3,91.2L499.6,92.7L497.9,94.7L495.1,96.7L491.1,98.5L486.6,99.8L481.6,100.7M479.1,101.7L472.6,101.8L466.1,101.3L460.1,100.1L454.6,98.3L452.1,97.2L450.1,96.0L448.1,94.7L446.4,93.2L445.2,91.7L444.6,90.2L444.6,89.2L444.9,87.7L445.5,86.7L446.4,85.7L448.2,84.2L451.6,82.2L455.1,80.8L459.1,79.5L463.6,78.6L468.1,78.0L472.6,77.7L477.1,77.7L481.6,78.1L486.1,78.8L490.1,79.8L493.6,81.0L496.9,82.7L499.1,84.2L501.0,86.2L501.6,87.2L502.1,88.7L502.2,89.7L502.0,91.2L501.4,92.7L500.7,93.7L499.2,95.2L498.0,96.2L496.1,97.3L494.1,98.3L489.6,99.9L484.6,101.0L479.1,101.7M480.6,102.7L473.6,103.0L466.6,102.5L460.1,101.4L456.6,100.4L453.6,99.4L450.6,98.1L447.9,96.7L445.6,95.2L443.3,93.2L442.0,91.7L441.3,90.2L441.3,88.7L441.6,87.7L442.1,86.7L443.0,85.7L445.1,84.0L448.6,82.0L453.1,80.0L458.1,78.5L462.6,77.6L467.1,76.9L472.1,76.6L477.1,76.6L482.1,77.0L487.1,77.8L491.6,78.9L495.6,80.3L498.6,81.8L501.3,83.7L503.3,85.7L503.9,86.7L504.5,88.2L504.7,89.7L504.6,91.2L504.0,92.7L503.4,93.7L502.0,95.2L500.6,96.4L498.7,97.7L496.8,98.7L492.1,100.5L486.6,101.9L480.6,102.7M481.1,104.2L473.6,104.4L466.1,104.0L459.1,102.8L452.6,101.0L449.1,99.6L445.6,97.9L442.7,96.2L439.2,93.7L437.5,92.2L436.4,90.7L436.0,89.2L436.1,88.2L436.6,87.2L437.4,86.2L439.9,84.2L444.6,81.5L449.6,79.4L454.6,77.7L460.1,76.4L465.6,75.6L471.1,75.2L476.6,75.1L482.1,75.5L487.6,76.2L492.6,77.4L497.1,78.9L501.1,80.8L504.1,82.8L506.5,85.2L507.4,86.7L508.0,88.2L508.1,89.7L508.0,91.2L507.4,92.7L506.5,94.2L505.2,95.7L503.5,97.2L501.6,98.4L499.1,99.7L496.6,100.8L493.6,101.8L487.6,103.3L481.1,104.2M479.6,106.2L472.6,106.3L465.1,105.8L458.6,104.8L451.6,103.0L447.6,101.5L443.6,99.8L439.4,97.7L433.3,94.2L427.6,91.7L425.5,90.2L424.9,89.2L424.9,88.7L425.0,88.2L426.0,87.2L428.4,85.7L434.6,83.1L442.6,79.5L448.1,77.5L453.6,75.8L459.6,74.5L465.1,73.7L471.1,73.3L477.6,73.3L484.1,73.8L490.6,74.8L495.6,76.0L500.6,77.8L505.1,80.0L506.9,81.2L508.6,82.5L509.8,83.7L511.0,85.2L511.8,86.7L512.3,88.7L512.3,90.7L512.0,92.2L511.0,94.2L509.8,95.7L508.3,97.2L506.1,98.8L503.6,100.3L501.1,101.5L497.6,102.9L494.6,103.8L490.6,104.7L487.1,105.4L479.6,106.2M515.6,95.2L514.4,96.7L512.9,98.2L511.1,99.5L509.1,100.8L504.1,103.4L498.1,105.5L492.1,106.9L485.1,108.0L477.6,108.5L470.1,108.5L464.6,108.0L460.1,107.4L455.1,106.5L450.6,105.4L443.6,103.0L429.6,97.0L425.6,95.6L422.2,94.7L416.6,93.9L399.1,92.8L393.9,92.2L391.9,91.7L390.9,91.2L390.4,90.7L390.1,90.2L390.0,89.2L390.4,87.7L391.1,86.7L391.7,86.2L392.7,85.7L394.4,85.2L399.1,84.5L417.1,83.4L423.5,82.7L429.1,81.2L444.1,75.9L451.6,73.8L456.1,72.8L461.1,71.9L465.6,71.4L470.6,71.1L477.6,71.0L484.6,71.5L491.1,72.4L498.1,74.1L503.6,75.9L508.6,78.3L510.8,79.7L512.8,81.2L514.4,82.7L515.6,84.1M379.6,85.0L381.1,84.6L385.1,84.0L405.1,82.7L409.7,82.2L412.7,81.7L423.1,79.7L427.6,78.6L433.0,77.2L445.1,73.3L452.6,71.4L457.6,70.5L461.6,69.9L470.1,69.2L476.6,69.2L483.1,69.5L490.1,70.3L496.1,71.4L501.6,72.9L507.1,74.8L511.6,77.0L515.6,79.5M515.6,99.9L511.6,102.5L506.6,104.9L501.1,106.8L495.6,108.3L489.6,109.4L483.1,110.1L476.1,110.4L469.1,110.3L464.1,109.9L459.6,109.3L454.6,108.5L450.1,107.4L443.1,105.2L432.7,101.2L428.6,99.7L425.0,98.7L420.6,97.7L403.2,94.7L385.1,93.2L379.6,92.3M379.6,83.3L393.8,82.2L405.1,79.9L422.4,77.2L429.4,75.7L444.1,71.4L450.6,69.8L459.1,68.3L468.6,67.4L475.1,67.3L481.6,67.5L487.6,68.0L494.1,69.0L500.6,70.4L505.6,71.8L511.1,73.9L515.6,76.2M515.6,103.3L510.6,105.8L505.1,107.9L499.6,109.4L493.1,110.8L486.1,111.7L479.6,112.2L473.1,112.3L466.6,112.0L461.1,111.5L457.1,110.9L449.1,109.3L441.1,106.9L429.5,102.7L426.2,101.7L422.1,100.7L417.6,99.9L400.6,97.6L395.1,96.5L390.1,95.2L387.3,94.7L379.6,93.9" fill="none" stroke="#2a2a2a" stroke-width="0.8" stroke-linejoin="round"/>
<path d="M546.3,122.9L545.8,123.0L545.3,122.9L544.5,122.2L543.8,120.7L543.6,119.2L543.6,117.7L544.0,116.7L544.8,115.8L545.8,115.5L546.3,115.6L547.0,116.2L547.5,117.2L547.6,118.2L547.3,121.0L546.8,122.3L546.3,122.9M546.3,127.3L545.3,127.3L544.3,126.9L543.6,126.2L542.9,125.2L542.3,123.9L541.8,122.3L541.4,119.2L541.6,116.7L541.9,115.7L542.5,114.7L543.8,113.4L544.8,113.0L545.8,112.8L546.8,113.1L547.3,113.4L548.3,114.4L549.1,116.2L549.4,118.2L549.2,121.2L548.5,124.2L547.6,126.2L546.8,127.0L546.3,127.3M545.8,131.7L544.3,131.4L543.3,130.7L542.3,129.7L541.1,127.7L540.3,125.7L539.7,123.2L539.4,120.7L539.3,118.2L539.4,116.7L539.8,115.0L540.4,113.7L541.3,112.4L542.3,111.4L543.3,110.8L544.3,110.4L545.8,110.1L546.8,110.3L547.8,110.8L548.8,111.6L549.7,112.7L550.7,115.2L551.1,118.2L550.8,123.2L550.3,125.4L549.6,127.7L548.8,129.4L547.8,130.7L546.8,131.5L545.8,131.7M546.8,135.9L545.3,136.0L544.3,135.8L543.3,135.3L541.8,134.1L540.3,132.1L539.2,129.7L538.2,126.7L537.5,123.7L537.2,120.2L537.2,117.7L537.4,115.7L538.0,113.7L538.9,111.7L540.3,109.9L541.8,108.7L543.3,107.9L545.3,107.5L546.8,107.6L548.3,108.2L549.3,108.9L550.5,110.2L551.4,111.7L552.2,113.7L552.7,115.7L552.9,117.7L552.8,121.2L552.5,124.2L551.9,127.2L551.2,129.7L550.3,132.0L549.3,133.7L548.3,134.9L546.8,135.9M546.8,140.3L545.8,140.4L544.8,140.3L542.8,139.6L540.8,137.9L538.8,135.2L537.3,132.0L536.1,128.2L535.4,124.2L535.0,120.2L535.0,117.2L535.4,114.7L536.2,112.2L537.5,109.7L539.1,107.7L540.8,106.3L542.8,105.3L545.3,104.8L547.3,105.0L548.8,105.6L550.3,106.7L551.7,108.2L552.8,110.2L553.7,112.2L554.3,114.7L554.6,117.7L554.5,121.7L554.1,125.7L553.5,129.2L552.5,132.7L551.3,135.5L549.8,138.0L548.3,139.5L546.8,140.3M545.8,144.8L544.3,144.6L543.3,144.3L541.8,143.5L540.8,142.7L538.6,140.2L536.5,136.7L535.0,132.7L533.8,128.2L533.1,123.2L532.9,118.2L533.2,114.7L534.0,111.7L535.1,109.2L536.8,106.7L538.7,104.7L540.8,103.3L543.3,102.4L545.8,102.1L547.8,102.4L549.8,103.3L551.6,104.7L553.2,106.7L554.5,109.2L555.6,112.2L556.1,115.2L556.3,118.2L556.2,123.2L555.6,128.2L554.6,132.7L553.3,136.8L551.7,140.2L549.8,142.7L548.8,143.6L547.8,144.3L546.8,144.6L545.8,144.8M546.3,148.8L544.8,148.7L543.3,148.4L542.3,147.9L540.8,147.0L539.3,145.8L538.0,144.2L535.7,140.7L533.7,136.2L532.2,130.7L531.2,124.7L530.9,119.2L531.1,115.2L531.9,111.7L533.3,108.2L535.2,105.2L537.3,102.9L539.8,101.2L541.3,100.4L542.8,100.0L545.8,99.6L548.3,100.0L550.3,100.9L552.5,102.7L554.5,105.2L556.0,108.2L557.0,111.2L557.7,114.7L558.0,118.2L557.7,124.2L557.1,129.7L556.1,134.7L554.7,139.2L552.8,143.2L550.8,146.1L548.8,147.8L547.8,148.4L546.3,148.8M547.3,152.3L545.8,152.5L544.3,152.4L542.8,152.0L540.8,151.0L539.3,149.8L537.7,148.2L536.3,146.5L534.9,144.2L533.6,141.7L532.6,139.2L531.0,134.2L529.7,127.7L529.1,120.7L529.2,116.2L529.5,113.7L529.9,111.7L531.1,108.2L533.1,104.7L535.5,101.7L538.3,99.5L540.3,98.4L541.8,97.9L543.3,97.5L545.3,97.3L547.8,97.5L550.3,98.5L552.8,100.3L554.9,102.7L556.7,105.7L558.1,109.2L559.0,113.2L559.4,117.2L559.3,123.7L558.7,129.7L557.6,135.7L556.1,140.7L554.2,145.2L552.0,148.7L549.8,151.0L548.3,151.9L547.3,152.3M544.0,155.7L542.3,155.2L540.8,154.5L538.8,153.1L537.3,151.7L536.1,150.2L534.6,148.2L533.2,145.7L532.0,143.2L530.0,137.7L528.5,131.2L527.6,124.2L527.4,117.2L528.0,112.7L529.1,108.7L530.6,105.2L533.0,101.7L535.8,98.9L538.8,96.9L540.8,96.0L542.3,95.6L543.8,95.3L545.8,95.2L548.3,95.5L549.8,96.0L551.3,96.8L553.8,98.8L556.3,101.7L558.2,105.2L559.6,109.2L560.5,113.7L560.8,117.7L560.6,124.2L560.0,130.7L558.7,137.7L557.1,143.2L555.2,147.7L554.1,149.7L552.7,151.7L551.3,153.3L549.8,154.5L548.3,155.4L547.3,155.7" fill="none" stroke="#808080" stroke-width="0.75" stroke-linejoin="round"/>
<path d="M468.5,261.6L468.0,261.4L467.1,260.6L465.5,258.6L464.7,257.1L464.3,255.1L464.7,251.6L465.4,248.6L467.1,244.6L468.0,243.0L468.5,242.6L469.5,243.0L470.5,244.1L471.9,246.6L472.5,248.6L472.9,250.6L473.2,255.1L472.8,257.6L471.8,259.6L471.0,260.5L470.1,261.1L468.5,261.6M468.5,264.2L467.4,263.6L465.2,262.1L462.5,259.6L461.2,257.6L460.8,256.6L460.6,255.1L460.7,253.1L461.2,250.6L461.8,248.6L462.8,246.1L464.0,243.6L465.6,241.1L468.0,237.9L468.5,237.6L470.0,238.3L471.0,239.2L472.1,240.6L473.2,243.1L474.0,245.7L474.7,248.6L475.0,251.8L475.2,255.1L474.8,258.1L474.3,259.6L473.4,261.1L472.5,262.2L471.0,263.4L470.0,263.9L468.5,264.2M469.5,267.1L468.5,267.3L468.0,267.2L465.0,265.8L461.0,263.6L458.2,261.6L456.5,260.1L455.4,258.6L454.6,257.1L454.2,255.1L454.5,252.6L455.1,249.6L456.3,246.6L457.9,243.6L459.9,240.6L462.7,237.1L466.6,233.1L468.0,231.8L468.5,231.5L469.5,231.8L470.5,232.3L472.0,233.6L473.5,235.8L474.7,238.1L475.9,241.6L476.7,245.1L477.3,249.1L477.6,253.6L477.6,256.1L477.2,258.6L476.6,260.6L475.6,262.6L474.5,264.1L473.0,265.5L471.5,266.5L469.5,267.1M470.5,269.6L468.5,270.0L465.5,269.0L459.0,266.4L453.6,263.6L450.7,261.6L448.5,259.6L447.2,257.6L446.7,255.6L446.7,254.1L447.0,252.1L448.0,248.6L449.7,245.1L452.0,241.6L455.3,237.6L459.3,233.6L464.4,229.1L468.0,226.3L468.5,226.1L469.5,226.3L470.5,226.7L471.5,227.4L472.5,228.3L474.5,231.0L476.0,234.0L477.3,237.6L478.5,242.1L479.3,247.1L479.7,252.1L479.8,255.6L479.5,258.6L478.8,261.1L477.7,263.6L476.4,265.6L474.5,267.6L472.5,268.9L470.5,269.6M471.0,271.6L468.5,272.0L464.0,270.9L455.8,268.1L448.8,265.1L444.3,262.6L441.1,260.1L439.5,258.1L439.1,257.1L438.7,255.6L438.8,254.1L439.1,252.1L439.7,250.1L440.5,248.1L442.9,244.1L446.4,239.6L450.8,235.1L455.9,230.6L463.2,225.1L468.0,221.8L468.5,221.6L470.0,221.9L471.0,222.4L473.0,224.0L475.1,226.6L477.2,230.6L478.8,235.1L480.2,240.6L481.0,246.1L481.5,251.6L481.6,255.6L481.3,258.6L480.6,261.6L479.4,264.6L477.8,267.1L475.9,269.1L473.5,270.7L471.0,271.6M470.5,273.2L468.0,273.4L459.0,271.3L450.6,268.6L443.0,265.6L438.0,263.1L434.3,260.6L432.8,259.1L432.0,258.1L431.6,257.1L431.2,255.6L431.4,253.6L431.9,251.6L432.6,249.6L433.7,247.6L436.4,243.6L440.4,239.1L445.8,234.1L453.0,228.4L461.5,222.5L468.0,218.4L468.5,218.2L470.0,218.5L471.0,218.9L472.5,219.9L473.5,220.8L474.7,222.1L476.0,224.1L478.1,228.1L479.9,233.1L481.4,239.1L482.4,245.6L482.9,252.1L483.0,256.1L482.6,259.6L481.6,263.1L480.2,266.1L478.5,268.6L477.5,269.7L476.0,270.9L473.5,272.3L470.5,273.2M472.0,274.2L470.0,274.5L468.0,274.6L459.0,273.0L448.5,270.4L438.0,266.9L431.2,264.1L428.2,262.6L425.7,261.1L423.8,259.6L422.9,258.6L422.0,257.1L421.8,255.6L422.0,253.6L422.6,251.6L423.6,249.6L424.8,247.6L428.1,243.6L433.3,238.6L440.7,232.6L449.8,226.1L460.0,219.6L467.0,215.5L468.5,214.8L470.0,215.0L471.5,215.7L472.9,216.6L474.0,217.6L475.3,219.1L476.5,220.9L478.8,225.1L480.8,230.6L482.4,236.6L483.6,243.6L484.3,250.1L484.4,255.6L484.1,259.1L483.4,262.6L481.9,266.1L480.0,269.2L478.7,270.6L477.6,271.6L475.0,273.2L472.0,274.2M472.5,275.1L470.0,275.5L468.0,275.6L460.5,274.8L453.5,273.6L446.8,272.1L439.5,270.3L431.8,268.1L425.0,266.0L420.0,264.1L416.4,262.6L413.4,261.1L411.1,259.6L409.6,258.1L409.1,257.1L408.8,255.6L409.2,253.6L410.1,251.6L411.5,249.6L413.2,247.6L415.2,245.6L421.3,240.6L430.4,234.1L445.5,224.3L459.5,216.0L468.0,211.4L469.0,211.3L470.5,211.7L472.0,212.4L473.5,213.5L476.0,216.2L478.5,220.2L480.9,225.6L482.8,231.6L484.4,238.6L485.4,245.6L485.9,252.6L485.8,257.1L485.3,261.1L484.3,264.6L482.6,268.1L480.8,270.6L478.5,272.7L475.9,274.1L472.5,275.1M471.0,276.2L468.0,276.4L460.0,275.8L453.5,275.1L446.0,274.0L438.0,272.4L428.5,270.4L417.0,267.6L407.2,265.1L399.1,262.6L396.0,261.4L393.7,260.1L392.4,259.1L391.2,257.6L390.9,256.1L391.1,254.6L391.7,253.1L392.5,251.8L394.9,249.1L398.1,246.6L402.8,243.6L423.5,232.2L446.0,219.4L455.5,214.3L468.0,207.9L468.5,207.8L470.0,208.0L472.0,208.8L473.5,209.8L475.0,211.2L476.5,213.0L478.0,215.2L479.4,217.6L481.8,223.1L484.2,230.6L485.8,238.1L486.9,246.1L487.4,254.1L487.2,258.6L486.4,263.1L484.9,267.1L483.0,270.2L480.8,272.6L478.5,274.2L477.0,274.9L475.0,275.5L471.0,276.2M472.0,276.7L468.0,276.9L459.4,276.6L451.5,276.1L443.0,275.1L431.0,273.4L405.4,269.1L396.9,267.6L391.0,266.4L387.0,265.3L383.8,264.1L380.9,262.6L378.9,261.1L377.5,259.6L377.0,258.6L376.6,257.6L376.5,255.6L376.8,253.6L377.5,251.6L378.2,250.1L379.2,248.6L380.5,247.1L382.1,245.6L384.0,244.1L388.0,241.7L393.5,239.2L409.5,232.8L420.0,228.1L430.0,223.3L454.5,210.8L468.0,204.4L468.5,204.3L470.0,204.5L472.0,205.2L473.5,206.2L475.0,207.4L476.6,209.1L478.4,211.6L479.9,214.1L481.3,217.1L482.6,220.1L483.9,223.6L485.2,228.1L487.2,236.6L488.4,244.6L488.9,253.1L488.9,258.1L488.1,262.6L487.4,265.1L486.6,267.1L484.7,270.6L483.4,272.1L482.4,273.1L480.0,274.7L478.5,275.3L476.5,275.9L472.0,276.7M471.5,277.2L468.0,277.4L456.5,277.2L448.0,276.8L439.5,276.1L397.0,271.5L389.5,270.4L384.0,269.2L380.0,268.0L376.5,266.3L373.5,264.2L371.5,262.1L369.8,259.6L368.9,257.1L368.6,254.1L368.8,252.1L369.0,250.6L369.7,248.6L370.6,246.6L371.9,244.6L373.5,242.6L375.1,241.1L377.0,239.6L379.3,238.1L382.0,236.6L388.5,233.9L406.5,228.0L417.0,224.0L428.5,219.1L453.5,207.3L466.5,201.5L468.5,200.7L470.0,200.9L471.5,201.4L473.5,202.5L475.5,204.2L477.3,206.1L479.0,208.6L480.8,211.6L482.3,214.6L483.7,218.1L486.4,226.1L487.8,231.6L488.7,236.1L490.0,244.6L490.4,249.1L490.6,254.1L490.4,259.1L490.0,261.6L489.4,264.1L488.8,266.1L487.7,268.6L486.9,270.1L485.5,272.0L484.4,273.1L483.2,274.1L481.5,275.1L480.1,275.6L476.0,276.6L471.5,277.2M468.5,277.7L459.5,277.7L450.5,277.6L440.5,277.2L430.0,276.5L394.0,273.9L387.0,273.0L381.5,271.7L377.5,270.1L375.5,269.1L373.5,267.7L371.6,266.1L370.0,264.5L367.5,261.1L366.5,259.3L365.6,257.1L364.6,253.1L364.3,249.1L364.5,247.1L364.9,245.1L365.7,243.1L366.8,241.1L368.3,239.1L370.0,237.3L371.9,235.6L374.0,234.1L376.5,232.6L379.5,231.2L386.5,228.6L405.0,223.1L415.4,219.6L429.2,214.1L454.5,203.0L468.0,197.3L469.0,197.2L471.0,197.6L473.0,198.6L475.0,200.0L476.8,201.6L478.5,203.8L480.4,206.6L482.0,209.6L483.7,213.1L485.3,217.1L486.8,221.6L488.4,227.1L489.7,232.6L490.6,237.6L491.3,242.1L491.9,247.1L492.2,252.1L492.3,256.6L491.8,261.6L491.2,264.1L490.4,266.6L489.3,269.1L488.5,270.6L487.4,272.1L485.9,273.6L483.6,275.1L480.0,276.3L475.4,277.1L468.5,277.7M472.5,277.6L460.5,278.0L446.0,278.0L434.5,277.6L399.4,276.1L392.5,275.7L388.0,275.2L385.0,274.6L381.5,273.6L378.9,272.6L376.5,271.5L374.4,270.1L372.5,268.7L370.5,266.9L368.5,264.6L367.0,262.6L365.5,260.1L364.1,257.1L363.0,254.2L361.8,249.1L361.6,246.6L361.6,244.1L361.9,241.6L362.4,239.6L363.3,237.6L364.5,235.6L366.0,233.7L367.5,232.3L369.5,230.7L372.0,229.0L374.5,227.6L377.5,226.3L384.5,223.8L405.2,218.1L417.4,214.1L429.2,209.6L455.0,198.9L468.0,193.7L469.5,193.7L471.5,194.2L473.5,195.2L475.5,196.7L477.5,198.7L479.5,201.1L481.1,203.6L482.8,206.6L484.4,210.1L486.2,214.6L487.8,219.1L489.3,224.1L490.7,229.6L491.9,235.1L492.8,240.1L493.5,245.1L493.9,250.1L494.1,255.1L493.9,260.1L493.4,262.6L492.8,265.1L491.9,267.6L491.0,269.6L489.8,271.6L488.5,273.1L487.3,274.1L486.0,275.0L483.1,276.1L478.5,277.1L472.5,277.6M464.5,278.2L452.5,278.3L441.0,278.3L395.5,277.1L390.5,276.7L386.5,276.1L382.5,275.1L379.5,274.0L377.0,272.8L374.5,271.3L372.4,269.6L370.3,267.6L368.5,265.6L366.5,263.0L365.0,260.6L363.5,257.6L362.0,253.9L361.0,250.7L360.5,248.1L359.9,244.6L359.7,241.1L359.8,238.6L360.2,236.1L361.0,233.6L362.0,231.7L363.1,230.1L364.5,228.6L366.5,226.8L368.5,225.4L371.0,223.9L376.5,221.4L380.5,220.0L384.5,218.8L406.2,213.1L417.2,209.6L428.1,205.6L454.0,195.5L468.0,190.2L468.5,190.1L470.0,190.2L472.0,190.8L474.0,191.9L476.5,193.8L478.7,196.1L480.9,199.1L482.7,202.1L484.7,206.1L486.4,210.1L488.3,215.1L490.2,221.1L491.7,226.6L493.3,233.1L494.3,238.6L495.3,244.6L495.8,249.6L496.0,255.1L495.9,259.1L495.5,262.1L494.9,264.6L494.3,266.6L493.2,269.1L491.4,272.1L490.0,273.6L488.7,274.6L487.0,275.5L485.2,276.1L480.5,277.1L474.0,277.7L464.5,278.2M468.0,278.2L454.0,278.5L442.5,278.6L395.5,277.8L390.5,277.4L386.0,276.7L382.0,275.7L379.4,274.6L376.5,273.2L374.2,271.6L372.0,269.9L369.5,267.5L367.5,265.1L365.5,262.2L364.0,259.6L362.5,256.5L361.1,252.6L360.0,249.1L359.0,244.6L358.5,240.7L358.4,237.6L358.5,234.1L359.0,231.2L360.0,228.3L361.0,226.5L362.1,225.1L363.5,223.6L365.5,222.0L367.5,220.6L370.0,219.3L375.5,216.9L383.5,214.4L404.3,209.1L415.8,205.6L427.3,201.6L453.5,191.8L468.0,186.6L468.5,186.5L470.0,186.7L472.5,187.4L475.0,188.9L477.0,190.5L479.0,192.7L481.3,195.6L483.4,199.1L485.2,202.6L487.2,207.1L488.9,211.6L490.8,217.1L492.9,224.1L494.4,230.1L495.8,236.6L496.9,242.6L497.6,248.6L497.9,253.6L497.9,258.1L497.7,260.6L497.3,263.1L496.6,265.6L495.7,268.1L494.8,270.1L493.4,272.1L492.0,273.6L490.6,274.6L489.0,275.5L487.5,276.0L483.5,276.9L475.5,277.8L468.0,278.2" fill="none" stroke="#2a2a2a" stroke-width="0.8" stroke-linejoin="round"/>
<path d="M383.9,77.1C385.8,75.5 389.3,80.3 393.7,80.4C398.1,80.5 403.8,79.0 410.1,77.9C416.4,76.8 423.8,75.0 431.5,73.8C439.2,72.6 447.9,71.3 456.1,70.5C464.3,69.7 473.6,69.0 480.7,68.9C487.8,68.8 494.1,68.8 498.8,69.7C503.5,70.7 506.1,71.9 508.6,74.6C511.1,77.3 513.6,82.5 513.6,86.1C513.6,89.7 511.6,93.0 508.6,96.0C505.6,99.0 501.5,101.7 495.5,104.2C489.5,106.7 480.4,109.8 472.5,110.8C464.6,111.8 455.3,111.1 447.9,110.0C440.5,108.9 434.2,106.0 428.2,104.2C422.2,102.4 417.3,100.4 411.8,99.3C406.3,98.2 399.7,97.6 395.3,97.6C390.9,97.6 387.7,100.6 385.5,99.3C383.3,98.0 382.3,93.7 382.0,90.0C381.7,86.3 381.9,78.7 383.9,77.1Z" fill="none" stroke="#333" stroke-width="0.8"/>
<path d="M546.3,88.4C548.6,88.6 552.4,89.2 554.7,91.0C557.0,92.8 558.6,96.0 560.0,99.5C561.4,103.0 562.5,107.4 563.2,112.1C563.9,116.8 564.2,122.6 564.2,127.9C564.2,133.2 564.1,139.8 563.2,143.7C562.3,147.5 561.1,148.4 559.0,151.0C556.9,153.6 553.0,157.4 550.5,159.5C548.0,161.6 546.1,163.2 544.2,163.7C542.3,164.2 540.9,164.2 539.0,162.6C537.1,161.0 534.4,158.2 532.6,154.2C530.8,150.2 529.2,144.0 528.4,138.4C527.6,132.8 527.5,126.1 527.9,120.5C528.2,114.9 529.2,108.9 530.5,104.7C531.8,100.5 534.0,97.8 535.8,95.3C537.6,92.8 539.4,91.2 541.1,90.0C542.9,88.8 544.0,88.2 546.3,88.4Z" fill="none" stroke="#333" stroke-width="0.9"/>
<path d="M384.0,200.0C384.6,192.8 384.1,198.5 387.3,196.7C390.6,194.9 397.1,191.4 403.5,189.3C409.9,187.2 418.2,186.0 425.6,184.2C433.0,182.4 441.6,179.9 447.7,178.3C453.8,176.7 456.5,175.3 462.4,174.6C468.3,173.8 478.6,173.4 483.0,173.8C487.4,174.2 487.5,173.4 489.0,176.8C490.5,180.2 490.7,187.9 491.9,194.5C493.1,201.1 494.3,209.7 496.3,216.6C498.3,223.5 502.0,229.6 503.7,235.7C505.4,241.8 506.4,248.5 506.6,253.4C506.9,258.3 506.7,261.8 505.2,265.2C503.7,268.6 501.2,272.0 497.8,274.0C494.4,276.0 492.9,276.2 484.5,277.0C476.1,277.8 461.2,278.2 447.7,278.5C434.2,278.8 414.1,278.8 403.5,278.5C392.9,278.2 387.6,283.4 384.3,277.0C381.0,270.6 383.6,252.8 383.5,240.0C383.4,227.2 383.4,207.2 384.0,200.0Z" fill="none" stroke="#333" stroke-width="0.8"/>
<path fill="#2a2a2a" d="M498,126h1.0v1.0h-1.0zM566,105h1.0v1.0h-1.0zM450,176h1.0v1.0h-1.0zM492,149h1.0v1.0h-1.0zM460,285h1.0v1.0h-1.0zM509,109h1.0v1.0h-1.0zM476,113h1.0v1.0h-1.0zM494,157h1.0v1.0h-1.0zM517,114h1.0v1.0h-1.0zM486,116h1.0v1.0h-1.0zM518,188h1.0v1.0h-1.0zM411,104h1.0v1.0h-1.0zM514,98h1.0v1.0h-1.0zM531,171h1.0v1.0h-1.0zM565,101h1.0v1.0h-1.0zM517,249h1.0v1.0h-1.0zM429,110h1.0v1.0h-1.0zM556,85h1.0v1.0h-1.0zM393,187h1.0v1.0h-1.0zM538,85h1.0v1.0h-1.0zM464,169h1.0v1.0h-1.0zM529,156h1.0v1.0h-1.0zM495,119h1.0v1.0h-1.0zM514,158h1.0v1.0h-1.0zM534,173h1.0v1.0h-1.0zM512,238h1.0v1.0h-1.0zM536,164h1.0v1.0h-1.0zM553,169h1.0v1.0h-1.0zM425,117h1.0v1.0h-1.0zM570,99h1.0v1.0h-1.0zM397,146h1.0v1.0h-1.0zM449,112h1.0v1.0h-1.0zM412,102h1.0v1.0h-1.0zM507,222h1.0v1.0h-1.0zM519,238h1.0v1.0h-1.0zM549,86h1.0v1.0h-1.0zM502,210h1.0v1.0h-1.0zM529,92h1.0v1.0h-1.0zM494,106h1.0v1.0h-1.0zM572,108h1.0v1.0h-1.0zM506,237h1.0v1.0h-1.0zM522,253h1.0v1.0h-1.0zM525,115h1.0v1.0h-1.0zM446,110h1.0v1.0h-1.0zM432,108h1.0v1.0h-1.0zM506,238h1.0v1.0h-1.0zM442,163h1.0v1.0h-1.0zM511,259h1.0v1.0h-1.0zM445,136h1.0v1.0h-1.0zM518,140h1.0v1.0h-1.0zM404,280h1.0v1.0h-1.0zM511,242h1.0v1.0h-1.0zM418,102h1.0v1.0h-1.0zM516,230h1.0v1.0h-1.0zM524,71h1.0v1.0h-1.0zM478,166h1.0v1.0h-1.0zM528,120h1.0v1.0h-1.0zM524,176h1.0v1.0h-1.0zM533,95h1.0v1.0h-1.0zM393,104h1.0v1.0h-1.0zM500,159h1.0v1.0h-1.0zM567,127h1.0v1.0h-1.0zM499,218h1.0v1.0h-1.0zM565,79h1.0v1.0h-1.0zM512,126h1.0v1.0h-1.0zM399,281h1.0v1.0h-1.0zM529,95h1.0v1.0h-1.0zM497,208h1.0v1.0h-1.0zM506,269h1.0v1.0h-1.0zM567,136h1.0v1.0h-1.0zM497,212h1.0v1.0h-1.0zM513,123h1.0v1.0h-1.0zM488,115h1.0v1.0h-1.0zM518,222h1.0v1.0h-1.0zM507,99h1.0v1.0h-1.0zM532,155h1.0v1.0h-1.0zM532,91h1.0v1.0h-1.0zM429,161h1.0v1.0h-1.0zM523,128h1.0v1.0h-1.0zM514,107h1.0v1.0h-1.0zM478,67h1.0v1.0h-1.0zM517,116h1.0v1.0h-1.0zM488,107h1.0v1.0h-1.0zM509,99h1.0v1.0h-1.0zM487,168h1.0v1.0h-1.0zM392,99h1.0v1.0h-1.0zM388,111h1.0v1.0h-1.0zM428,72h1.0v1.0h-1.0zM538,173h1.0v1.0h-1.0zM512,239h1.0v1.0h-1.0zM522,224h1.0v1.0h-1.0zM452,290h1.0v1.0h-1.0zM517,123h1.0v1.0h-1.0zM422,177h1.0v1.0h-1.0zM565,135h1.0v1.0h-1.0zM492,277h1.0v1.0h-1.0zM428,119h1.0v1.0h-1.0zM465,144h1.0v1.0h-1.0zM563,184h1.0v1.0h-1.0zM519,162h1.0v1.0h-1.0zM517,253h1.0v1.0h-1.0zM423,69h1.0v1.0h-1.0zM486,148h1.0v1.0h-1.0zM399,113h1.0v1.0h-1.0zM496,106h1.0v1.0h-1.0zM524,201h1.0v1.0h-1.0zM577,156h1.0v1.0h-1.0zM494,187h1.0v1.0h-1.0zM402,99h1.0v1.0h-1.0zM506,139h1.0v1.0h-1.0zM392,143h1.0v1.0h-1.0zM446,175h1.0v1.0h-1.0zM527,199h1.0v1.0h-1.0zM530,237h1.0v1.0h-1.0zM543,178h1.0v1.0h-1.0zM388,77h1.0v1.0h-1.0zM530,160h1.0v1.0h-1.0zM558,180h1.0v1.0h-1.0zM394,179h1.0v1.0h-1.0zM520,136h1.0v1.0h-1.0zM386,75h1.0v1.0h-1.0zM539,165h1.0v1.0h-1.0zM570,82h1.0v1.0h-1.0zM441,65h1.0v1.0h-1.0zM523,148h1.0v1.0h-1.0zM522,117h1.0v1.0h-1.0zM416,155h1.0v1.0h-1.0zM438,161h1.0v1.0h-1.0zM495,192h1.0v1.0h-1.0zM495,187h1.0v1.0h-1.0zM413,113h1.0v1.0h-1.0zM500,194h1.0v1.0h-1.0zM527,107h1.0v1.0h-1.0zM553,163h1.0v1.0h-1.0zM487,287h1.0v1.0h-1.0zM476,67h1.0v1.0h-1.0zM563,160h1.0v1.0h-1.0zM559,170h1.0v1.0h-1.0zM512,216h1.0v1.0h-1.0zM470,173h1.0v1.0h-1.0zM556,183h1.0v1.0h-1.0zM507,226h1.0v1.0h-1.0zM524,110h1.0v1.0h-1.0zM381,292h1.0v1.0h-1.0zM534,178h1.0v1.0h-1.0zM501,107h1.0v1.0h-1.0zM532,167h1.0v1.0h-1.0zM396,100h1.0v1.0h-1.0zM526,244h1.0v1.0h-1.0zM509,66h1.0v1.0h-1.0zM466,124h1.0v1.0h-1.0zM432,123h1.0v1.0h-1.0zM514,76h1.0v1.0h-1.0zM424,110h1.0v1.0h-1.0zM545,164h1.0v1.0h-1.0zM486,133h1.0v1.0h-1.0zM517,96h1.0v1.0h-1.0zM428,104h1.0v1.0h-1.0zM525,73h1.0v1.0h-1.0zM530,159h1.0v1.0h-1.0zM389,105h1.0v1.0h-1.0zM528,152h1.0v1.0h-1.0zM436,108h1.0v1.0h-1.0zM556,163h1.0v1.0h-1.0zM507,250h1.0v1.0h-1.0zM480,116h1.0v1.0h-1.0zM566,123h1.0v1.0h-1.0zM515,255h1.0v1.0h-1.0zM517,134h1.0v1.0h-1.0zM540,231h1.0v1.0h-1.0zM387,281h1.0v1.0h-1.0zM462,66h1.0v1.0h-1.0zM432,281h1.0v1.0h-1.0zM465,121h1.0v1.0h-1.0zM447,154h1.0v1.0h-1.0zM436,173h1.0v1.0h-1.0zM548,175h1.0v1.0h-1.0zM496,202h1.0v1.0h-1.0zM531,149h1.0v1.0h-1.0zM419,169h1.0v1.0h-1.0zM415,123h1.0v1.0h-1.0zM487,158h1.0v1.0h-1.0zM514,140h1.0v1.0h-1.0zM444,65h1.0v1.0h-1.0zM412,66h1.0v1.0h-1.0zM510,75h1.0v1.0h-1.0zM490,175h1.0v1.0h-1.0zM414,104h1.0v1.0h-1.0zM510,293h1.0v1.0h-1.0zM401,282h1.0v1.0h-1.0zM565,106h1.0v1.0h-1.0zM471,170h1.0v1.0h-1.0zM495,193h1.0v1.0h-1.0zM481,166h1.0v1.0h-1.0zM451,160h1.0v1.0h-1.0zM526,205h1.0v1.0h-1.0zM515,254h1.0v1.0h-1.0zM397,114h1.0v1.0h-1.0zM456,166h1.0v1.0h-1.0zM424,177h1.0v1.0h-1.0zM501,110h1.0v1.0h-1.0zM539,78h1.0v1.0h-1.0zM506,117h1.0v1.0h-1.0zM540,187h1.0v1.0h-1.0zM496,178h1.0v1.0h-1.0zM514,147h1.0v1.0h-1.0zM519,234h1.0v1.0h-1.0zM504,173h1.0v1.0h-1.0zM562,86h1.0v1.0h-1.0zM449,111h1.0v1.0h-1.0zM528,144h1.0v1.0h-1.0zM509,232h1.0v1.0h-1.0zM565,125h1.0v1.0h-1.0zM399,110h1.0v1.0h-1.0zM483,172h1.0v1.0h-1.0zM550,166h1.0v1.0h-1.0zM516,158h1.0v1.0h-1.0zM475,68h1.0v1.0h-1.0zM532,259h1.0v1.0h-1.0zM492,284h1.0v1.0h-1.0zM541,187h1.0v1.0h-1.0zM404,104h1.0v1.0h-1.0zM474,159h1.0v1.0h-1.0zM508,248h1.0v1.0h-1.0zM387,110h1.0v1.0h-1.0zM498,276h1.0v1.0h-1.0zM459,170h1.0v1.0h-1.0zM393,182h1.0v1.0h-1.0zM461,69h1.0v1.0h-1.0zM470,155h1.0v1.0h-1.0zM495,169h1.0v1.0h-1.0zM512,260h1.0v1.0h-1.0zM511,246h1.0v1.0h-1.0zM455,172h1.0v1.0h-1.0zM525,237h1.0v1.0h-1.0zM497,218h1.0v1.0h-1.0zM496,64h1.0v1.0h-1.0zM518,120h1.0v1.0h-1.0zM430,117h1.0v1.0h-1.0zM491,146h1.0v1.0h-1.0zM526,214h1.0v1.0h-1.0zM563,101h1.0v1.0h-1.0zM507,285h1.0v1.0h-1.0zM411,100h1.0v1.0h-1.0zM505,222h1.0v1.0h-1.0zM537,181h1.0v1.0h-1.0zM527,284h1.0v1.0h-1.0zM487,138h1.0v1.0h-1.0zM396,98h1.0v1.0h-1.0zM485,119h1.0v1.0h-1.0zM566,129h1.0v1.0h-1.0zM566,118h1.0v1.0h-1.0zM439,178h1.0v1.0h-1.0zM498,217h1.0v1.0h-1.0zM435,114h1.0v1.0h-1.0zM439,179h1.0v1.0h-1.0zM523,86h1.0v1.0h-1.0zM568,125h1.0v1.0h-1.0zM455,146h1.0v1.0h-1.0zM510,76h1.0v1.0h-1.0zM470,159h1.0v1.0h-1.0zM439,159h1.0v1.0h-1.0zM523,268h1.0v1.0h-1.0zM525,160h1.0v1.0h-1.0zM564,170h1.0v1.0h-1.0zM569,124h1.0v1.0h-1.0zM515,215h1.0v1.0h-1.0zM496,213h1.0v1.0h-1.0zM558,171h1.0v1.0h-1.0zM469,114h1.0v1.0h-1.0zM504,109h1.0v1.0h-1.0zM423,281h1.0v1.0h-1.0zM570,133h1.0v1.0h-1.0zM511,97h1.0v1.0h-1.0zM449,113h1.0v1.0h-1.0zM551,189h1.0v1.0h-1.0zM494,280h1.0v1.0h-1.0zM469,62h1.0v1.0h-1.0zM461,158h1.0v1.0h-1.0zM554,157h1.0v1.0h-1.0zM500,118h1.0v1.0h-1.0zM468,112h1.0v1.0h-1.0zM496,130h1.0v1.0h-1.0zM528,218h1.0v1.0h-1.0zM561,99h1.0v1.0h-1.0zM499,217h1.0v1.0h-1.0zM502,130h1.0v1.0h-1.0zM502,281h1.0v1.0h-1.0zM520,262h1.0v1.0h-1.0zM502,144h1.0v1.0h-1.0zM392,184h1.0v1.0h-1.0zM507,263h1.0v1.0h-1.0zM563,149h1.0v1.0h-1.0zM459,152h1.0v1.0h-1.0zM572,122h1.0v1.0h-1.0zM477,157h1.0v1.0h-1.0zM395,157h1.0v1.0h-1.0zM479,150h1.0v1.0h-1.0zM524,264h1.0v1.0h-1.0zM517,142h1.0v1.0h-1.0zM400,141h1.0v1.0h-1.0zM494,194h1.0v1.0h-1.0zM410,278h1.0v1.0h-1.0zM530,155h1.0v1.0h-1.0zM484,168h1.0v1.0h-1.0zM512,99h1.0v1.0h-1.0zM492,278h1.0v1.0h-1.0zM502,148h1.0v1.0h-1.0zM574,105h1.0v1.0h-1.0zM501,279h1.0v1.0h-1.0zM525,153h1.0v1.0h-1.0zM515,85h1.0v1.0h-1.0zM475,131h1.0v1.0h-1.0zM545,165h1.0v1.0h-1.0zM530,78h1.0v1.0h-1.0zM448,119h1.0v1.0h-1.0zM517,145h1.0v1.0h-1.0zM460,169h1.0v1.0h-1.0zM456,174h1.0v1.0h-1.0zM495,106h1.0v1.0h-1.0zM500,133h1.0v1.0h-1.0zM563,107h1.0v1.0h-1.0zM493,193h1.0v1.0h-1.0zM490,169h1.0v1.0h-1.0zM543,188h1.0v1.0h-1.0zM527,116h1.0v1.0h-1.0zM508,269h1.0v1.0h-1.0zM563,158h1.0v1.0h-1.0zM514,109h1.0v1.0h-1.0zM562,160h1.0v1.0h-1.0zM534,165h1.0v1.0h-1.0zM518,239h1.0v1.0h-1.0zM518,123h1.0v1.0h-1.0zM413,132h1.0v1.0h-1.0zM565,149h1.0v1.0h-1.0zM400,103h1.0v1.0h-1.0zM441,110h1.0v1.0h-1.0zM530,151h1.0v1.0h-1.0zM428,118h1.0v1.0h-1.0zM514,125h1.0v1.0h-1.0zM511,237h1.0v1.0h-1.0zM486,164h1.0v1.0h-1.0zM515,251h1.0v1.0h-1.0zM559,88h1.0v1.0h-1.0zM384,137h1.0v1.0h-1.0zM507,246h1.0v1.0h-1.0zM493,278h1.0v1.0h-1.0zM512,234h1.0v1.0h-1.0zM593,114h1.0v1.0h-1.0zM501,116h1.0v1.0h-1.0zM548,256h1.0v1.0h-1.0zM476,65h1.0v1.0h-1.0zM495,128h1.0v1.0h-1.0zM509,273h1.0v1.0h-1.0zM472,112h1.0v1.0h-1.0zM465,159h1.0v1.0h-1.0zM528,150h1.0v1.0h-1.0zM520,111h1.0v1.0h-1.0zM544,171h1.0v1.0h-1.0zM503,220h1.0v1.0h-1.0zM515,220h1.0v1.0h-1.0zM531,184h1.0v1.0h-1.0zM518,241h1.0v1.0h-1.0zM424,180h1.0v1.0h-1.0zM568,105h1.0v1.0h-1.0zM569,88h1.0v1.0h-1.0zM516,103h1.0v1.0h-1.0zM476,116h1.0v1.0h-1.0zM508,273h1.0v1.0h-1.0zM383,102h1.0v1.0h-1.0zM408,72h1.0v1.0h-1.0zM566,101h1.0v1.0h-1.0zM567,144h1.0v1.0h-1.0zM494,67h1.0v1.0h-1.0zM435,180h1.0v1.0h-1.0zM525,88h1.0v1.0h-1.0zM527,136h1.0v1.0h-1.0zM533,238h1.0v1.0h-1.0zM492,200h1.0v1.0h-1.0zM457,176h1.0v1.0h-1.0zM427,175h1.0v1.0h-1.0zM487,289h1.0v1.0h-1.0zM458,117h1.0v1.0h-1.0zM499,210h1.0v1.0h-1.0zM522,111h1.0v1.0h-1.0zM567,106h1.0v1.0h-1.0zM420,151h1.0v1.0h-1.0zM534,175h1.0v1.0h-1.0zM438,281h1.0v1.0h-1.0zM535,278h1.0v1.0h-1.0zM479,112h1.0v1.0h-1.0zM391,73h1.0v1.0h-1.0zM563,109h1.0v1.0h-1.0zM555,91h1.0v1.0h-1.0zM460,282h1.0v1.0h-1.0zM456,171h1.0v1.0h-1.0zM474,63h1.0v1.0h-1.0zM501,200h1.0v1.0h-1.0zM524,153h1.0v1.0h-1.0zM382,75h1.0v1.0h-1.0zM526,144h1.0v1.0h-1.0zM425,103h1.0v1.0h-1.0zM424,285h1.0v1.0h-1.0zM451,115h1.0v1.0h-1.0zM531,94h1.0v1.0h-1.0zM538,194h1.0v1.0h-1.0zM503,113h1.0v1.0h-1.0zM528,97h1.0v1.0h-1.0zM542,89h1.0v1.0h-1.0zM545,166h1.0v1.0h-1.0zM439,181h1.0v1.0h-1.0zM441,157h1.0v1.0h-1.0zM435,179h1.0v1.0h-1.0zM498,173h1.0v1.0h-1.0zM457,172h1.0v1.0h-1.0zM521,77h1.0v1.0h-1.0zM514,288h1.0v1.0h-1.0zM420,291h1.0v1.0h-1.0zM461,161h1.0v1.0h-1.0zM397,98h1.0v1.0h-1.0zM511,131h1.0v1.0h-1.0zM500,213h1.0v1.0h-1.0zM524,112h1.0v1.0h-1.0zM567,152h1.0v1.0h-1.0zM562,155h1.0v1.0h-1.0zM447,113h1.0v1.0h-1.0zM465,112h1.0v1.0h-1.0zM514,197h1.0v1.0h-1.0zM554,174h1.0v1.0h-1.0zM517,113h1.0v1.0h-1.0zM559,152h1.0v1.0h-1.0zM454,70h1.0v1.0h-1.0zM394,106h1.0v1.0h-1.0zM546,179h1.0v1.0h-1.0zM408,116h1.0v1.0h-1.0zM495,162h1.0v1.0h-1.0zM527,138h1.0v1.0h-1.0zM575,116h1.0v1.0h-1.0zM488,111h1.0v1.0h-1.0zM405,171h1.0v1.0h-1.0zM397,77h1.0v1.0h-1.0zM535,91h1.0v1.0h-1.0zM442,156h1.0v1.0h-1.0zM479,110h1.0v1.0h-1.0zM530,235h1.0v1.0h-1.0zM404,149h1.0v1.0h-1.0zM435,144h1.0v1.0h-1.0zM499,219h1.0v1.0h-1.0zM577,87h1.0v1.0h-1.0zM547,169h1.0v1.0h-1.0zM457,164h1.0v1.0h-1.0zM564,111h1.0v1.0h-1.0zM495,179h1.0v1.0h-1.0zM385,77h1.0v1.0h-1.0zM558,152h1.0v1.0h-1.0zM395,148h1.0v1.0h-1.0zM548,176h1.0v1.0h-1.0zM508,200h1.0v1.0h-1.0zM515,116h1.0v1.0h-1.0zM465,63h1.0v1.0h-1.0zM519,240h1.0v1.0h-1.0zM429,106h1.0v1.0h-1.0zM556,53h1.0v1.0h-1.0zM407,112h1.0v1.0h-1.0zM492,293h1.0v1.0h-1.0zM443,177h1.0v1.0h-1.0zM455,112h1.0v1.0h-1.0zM432,109h1.0v1.0h-1.0zM446,178h1.0v1.0h-1.0zM541,171h1.0v1.0h-1.0zM594,128h1.0v1.0h-1.0zM462,168h1.0v1.0h-1.0zM540,90h1.0v1.0h-1.0zM525,121h1.0v1.0h-1.0zM442,115h1.0v1.0h-1.0zM514,80h1.0v1.0h-1.0zM506,214h1.0v1.0h-1.0zM565,118h1.0v1.0h-1.0zM439,169h1.0v1.0h-1.0zM511,251h1.0v1.0h-1.0zM508,258h1.0v1.0h-1.0zM498,186h1.0v1.0h-1.0zM534,196h1.0v1.0h-1.0zM417,283h1.0v1.0h-1.0zM444,112h1.0v1.0h-1.0zM529,100h1.0v1.0h-1.0zM422,104h1.0v1.0h-1.0zM564,150h1.0v1.0h-1.0zM492,151h1.0v1.0h-1.0zM513,208h1.0v1.0h-1.0zM444,117h1.0v1.0h-1.0zM513,91h1.0v1.0h-1.0zM442,123h1.0v1.0h-1.0zM518,207h1.0v1.0h-1.0zM528,128h1.0v1.0h-1.0zM417,279h1.0v1.0h-1.0zM451,177h1.0v1.0h-1.0zM393,102h1.0v1.0h-1.0zM496,279h1.0v1.0h-1.0zM425,292h1.0v1.0h-1.0zM555,176h1.0v1.0h-1.0zM467,169h1.0v1.0h-1.0zM524,107h1.0v1.0h-1.0zM408,75h1.0v1.0h-1.0zM514,152h1.0v1.0h-1.0zM455,168h1.0v1.0h-1.0zM426,107h1.0v1.0h-1.0zM409,107h1.0v1.0h-1.0zM444,67h1.0v1.0h-1.0zM483,116h1.0v1.0h-1.0zM494,132h1.0v1.0h-1.0zM446,127h1.0v1.0h-1.0zM470,57h1.0v1.0h-1.0zM510,196h1.0v1.0h-1.0zM465,164h1.0v1.0h-1.0zM500,280h1.0v1.0h-1.0zM572,104h1.0v1.0h-1.0zM526,112h1.0v1.0h-1.0zM567,112h1.0v1.0h-1.0zM489,169h1.0v1.0h-1.0zM490,174h1.0v1.0h-1.0zM525,180h1.0v1.0h-1.0zM556,89h1.0v1.0h-1.0zM598,99h1.0v1.0h-1.0zM530,90h1.0v1.0h-1.0zM444,154h1.0v1.0h-1.0zM512,117h1.0v1.0h-1.0zM570,148h1.0v1.0h-1.0zM564,115h1.0v1.0h-1.0zM551,168h1.0v1.0h-1.0zM514,118h1.0v1.0h-1.0zM429,158h1.0v1.0h-1.0zM462,114h1.0v1.0h-1.0zM398,126h1.0v1.0h-1.0zM553,158h1.0v1.0h-1.0zM542,86h1.0v1.0h-1.0zM493,203h1.0v1.0h-1.0zM522,247h1.0v1.0h-1.0zM522,121h1.0v1.0h-1.0zM503,181h1.0v1.0h-1.0zM493,183h1.0v1.0h-1.0zM562,165h1.0v1.0h-1.0zM484,135h1.0v1.0h-1.0zM427,173h1.0v1.0h-1.0zM516,270h1.0v1.0h-1.0zM540,85h1.0v1.0h-1.0zM512,278h1.0v1.0h-1.0zM501,273h1.0v1.0h-1.0zM482,170h1.0v1.0h-1.0zM453,173h1.0v1.0h-1.0zM455,161h1.0v1.0h-1.0zM553,83h1.0v1.0h-1.0zM542,85h1.0v1.0h-1.0zM552,167h1.0v1.0h-1.0zM518,134h1.0v1.0h-1.0zM524,117h1.0v1.0h-1.0zM473,168h1.0v1.0h-1.0zM567,145h1.0v1.0h-1.0zM433,108h1.0v1.0h-1.0zM463,115h1.0v1.0h-1.0zM437,176h1.0v1.0h-1.0zM460,125h1.0v1.0h-1.0zM516,130h1.0v1.0h-1.0zM513,80h1.0v1.0h-1.0zM524,152h1.0v1.0h-1.0zM524,127h1.0v1.0h-1.0zM435,108h1.0v1.0h-1.0zM487,141h1.0v1.0h-1.0zM535,86h1.0v1.0h-1.0zM490,134h1.0v1.0h-1.0zM510,94h1.0v1.0h-1.0zM566,157h1.0v1.0h-1.0zM462,136h1.0v1.0h-1.0zM495,201h1.0v1.0h-1.0zM496,68h1.0v1.0h-1.0zM388,163h1.0v1.0h-1.0zM420,167h1.0v1.0h-1.0zM478,295h1.0v1.0h-1.0zM518,84h1.0v1.0h-1.0zM528,249h1.0v1.0h-1.0zM444,176h1.0v1.0h-1.0zM510,109h1.0v1.0h-1.0zM449,169h1.0v1.0h-1.0zM524,143h1.0v1.0h-1.0zM485,111h1.0v1.0h-1.0zM528,101h1.0v1.0h-1.0zM559,188h1.0v1.0h-1.0zM564,147h1.0v1.0h-1.0zM509,237h1.0v1.0h-1.0zM538,179h1.0v1.0h-1.0zM570,107h1.0v1.0h-1.0zM491,118h1.0v1.0h-1.0zM502,207h1.0v1.0h-1.0zM509,230h1.0v1.0h-1.0zM561,148h1.0v1.0h-1.0zM569,120h1.0v1.0h-1.0zM429,183h1.0v1.0h-1.0zM521,84h1.0v1.0h-1.0zM546,175h1.0v1.0h-1.0zM533,100h1.0v1.0h-1.0zM490,107h1.0v1.0h-1.0zM527,150h1.0v1.0h-1.0zM505,218h1.0v1.0h-1.0zM404,184h1.0v1.0h-1.0zM502,276h1.0v1.0h-1.0zM463,162h1.0v1.0h-1.0zM566,137h1.0v1.0h-1.0zM580,98h1.0v1.0h-1.0zM506,281h1.0v1.0h-1.0zM442,178h1.0v1.0h-1.0zM563,108h1.0v1.0h-1.0zM433,113h1.0v1.0h-1.0zM447,112h1.0v1.0h-1.0zM498,213h1.0v1.0h-1.0zM465,167h1.0v1.0h-1.0zM571,95h1.0v1.0h-1.0zM573,149h1.0v1.0h-1.0zM496,215h1.0v1.0h-1.0zM488,65h1.0v1.0h-1.0zM467,172h1.0v1.0h-1.0zM492,176h1.0v1.0h-1.0zM496,169h1.0v1.0h-1.0zM454,139h1.0v1.0h-1.0zM433,167h1.0v1.0h-1.0zM541,165h1.0v1.0h-1.0zM572,124h1.0v1.0h-1.0zM564,103h1.0v1.0h-1.0zM523,160h1.0v1.0h-1.0zM503,231h1.0v1.0h-1.0zM503,199h1.0v1.0h-1.0zM571,84h1.0v1.0h-1.0zM556,168h1.0v1.0h-1.0zM451,112h1.0v1.0h-1.0zM476,279h1.0v1.0h-1.0zM435,112h1.0v1.0h-1.0zM496,138h1.0v1.0h-1.0zM523,106h1.0v1.0h-1.0zM549,184h1.0v1.0h-1.0zM532,160h1.0v1.0h-1.0zM401,147h1.0v1.0h-1.0zM563,156h1.0v1.0h-1.0zM537,93h1.0v1.0h-1.0zM458,113h1.0v1.0h-1.0zM447,115h1.0v1.0h-1.0zM484,166h1.0v1.0h-1.0zM574,129h1.0v1.0h-1.0zM540,186h1.0v1.0h-1.0zM409,111h1.0v1.0h-1.0zM577,102h1.0v1.0h-1.0zM464,173h1.0v1.0h-1.0zM492,173h1.0v1.0h-1.0zM579,157h1.0v1.0h-1.0zM573,131h1.0v1.0h-1.0zM448,174h1.0v1.0h-1.0zM537,243h1.0v1.0h-1.0zM562,103h1.0v1.0h-1.0zM389,168h1.0v1.0h-1.0zM474,129h1.0v1.0h-1.0zM499,189h1.0v1.0h-1.0zM526,149h1.0v1.0h-1.0zM518,181h1.0v1.0h-1.0zM468,119h1.0v1.0h-1.0zM511,223h1.0v1.0h-1.0zM504,274h1.0v1.0h-1.0zM497,185h1.0v1.0h-1.0zM464,116h1.0v1.0h-1.0zM521,69h1.0v1.0h-1.0zM492,163h1.0v1.0h-1.0zM454,162h1.0v1.0h-1.0zM478,150h1.0v1.0h-1.0zM514,129h1.0v1.0h-1.0zM460,172h1.0v1.0h-1.0zM573,126h1.0v1.0h-1.0zM401,65h1.0v1.0h-1.0zM416,72h1.0v1.0h-1.0zM559,183h1.0v1.0h-1.0zM451,116h1.0v1.0h-1.0zM473,172h1.0v1.0h-1.0zM576,121h1.0v1.0h-1.0zM474,132h1.0v1.0h-1.0zM496,275h1.0v1.0h-1.0zM409,75h1.0v1.0h-1.0zM516,113h1.0v1.0h-1.0zM533,195h1.0v1.0h-1.0zM505,104h1.0v1.0h-1.0zM589,127h1.0v1.0h-1.0zM588,150h1.0v1.0h-1.0zM508,225h1.0v1.0h-1.0zM497,214h1.0v1.0h-1.0zM426,183h1.0v1.0h-1.0zM431,116h1.0v1.0h-1.0zM414,154h1.0v1.0h-1.0zM465,293h1.0v1.0h-1.0zM407,102h1.0v1.0h-1.0zM398,73h1.0v1.0h-1.0zM510,135h1.0v1.0h-1.0zM497,118h1.0v1.0h-1.0zM427,139h1.0v1.0h-1.0zM532,79h1.0v1.0h-1.0zM525,105h1.0v1.0h-1.0zM443,113h1.0v1.0h-1.0zM502,175h1.0v1.0h-1.0zM561,94h1.0v1.0h-1.0zM476,162h1.0v1.0h-1.0zM539,89h1.0v1.0h-1.0zM508,111h1.0v1.0h-1.0zM523,113h1.0v1.0h-1.0zM552,66h1.0v1.0h-1.0zM565,141h1.0v1.0h-1.0zM520,250h1.0v1.0h-1.0zM501,128h1.0v1.0h-1.0zM516,260h1.0v1.0h-1.0zM566,121h1.0v1.0h-1.0zM498,188h1.0v1.0h-1.0zM512,262h1.0v1.0h-1.0zM446,163h1.0v1.0h-1.0zM482,284h1.0v1.0h-1.0zM464,171h1.0v1.0h-1.0zM428,108h1.0v1.0h-1.0zM460,162h1.0v1.0h-1.0zM521,148h1.0v1.0h-1.0zM441,63h1.0v1.0h-1.0zM514,157h1.0v1.0h-1.0zM579,87h1.0v1.0h-1.0zM587,179h1.0v1.0h-1.0zM426,129h1.0v1.0h-1.0zM552,89h1.0v1.0h-1.0zM557,158h1.0v1.0h-1.0zM534,201h1.0v1.0h-1.0zM531,151h1.0v1.0h-1.0zM594,155h1.0v1.0h-1.0zM489,138h1.0v1.0h-1.0zM547,171h1.0v1.0h-1.0zM501,202h1.0v1.0h-1.0zM377,285h1.0v1.0h-1.0zM505,112h1.0v1.0h-1.0zM535,178h1.0v1.0h-1.0zM512,93h1.0v1.0h-1.0zM564,110h1.0v1.0h-1.0zM448,168h1.0v1.0h-1.0zM508,105h1.0v1.0h-1.0zM444,161h1.0v1.0h-1.0zM536,172h1.0v1.0h-1.0zM507,125h1.0v1.0h-1.0zM455,123h1.0v1.0h-1.0zM468,170h1.0v1.0h-1.0zM458,69h1.0v1.0h-1.0zM527,112h1.0v1.0h-1.0zM452,175h1.0v1.0h-1.0zM496,124h1.0v1.0h-1.0zM510,99h1.0v1.0h-1.0zM418,149h1.0v1.0h-1.0zM511,118h1.0v1.0h-1.0zM576,182h1.0v1.0h-1.0zM538,182h1.0v1.0h-1.0zM473,114h1.0v1.0h-1.0zM488,281h1.0v1.0h-1.0zM524,150h1.0v1.0h-1.0zM443,69h1.0v1.0h-1.0zM515,160h1.0v1.0h-1.0zM513,273h1.0v1.0h-1.0zM402,77h1.0v1.0h-1.0zM506,266h1.0v1.0h-1.0zM534,97h1.0v1.0h-1.0zM537,245h1.0v1.0h-1.0zM571,147h1.0v1.0h-1.0zM486,168h1.0v1.0h-1.0zM569,108h1.0v1.0h-1.0zM406,113h1.0v1.0h-1.0zM578,147h1.0v1.0h-1.0zM496,147h1.0v1.0h-1.0zM433,149h1.0v1.0h-1.0zM450,171h1.0v1.0h-1.0zM499,184h1.0v1.0h-1.0zM575,124h1.0v1.0h-1.0zM450,177h1.0v1.0h-1.0zM497,112h1.0v1.0h-1.0zM581,107h1.0v1.0h-1.0zM520,97h1.0v1.0h-1.0zM535,256h1.0v1.0h-1.0zM505,220h1.0v1.0h-1.0zM501,156h1.0v1.0h-1.0zM550,161h1.0v1.0h-1.0zM466,117h1.0v1.0h-1.0zM386,163h1.0v1.0h-1.0zM493,111h1.0v1.0h-1.0zM524,155h1.0v1.0h-1.0zM546,172h1.0v1.0h-1.0zM479,172h1.0v1.0h-1.0zM564,152h1.0v1.0h-1.0zM549,170h1.0v1.0h-1.0zM483,110h1.0v1.0h-1.0zM511,225h1.0v1.0h-1.0zM438,113h1.0v1.0h-1.0zM498,280h1.0v1.0h-1.0zM494,192h1.0v1.0h-1.0zM411,99h1.0v1.0h-1.0zM420,110h1.0v1.0h-1.0zM510,258h1.0v1.0h-1.0zM567,153h1.0v1.0h-1.0zM430,285h1.0v1.0h-1.0zM509,255h1.0v1.0h-1.0zM523,136h1.0v1.0h-1.0zM526,252h1.0v1.0h-1.0zM387,155h1.0v1.0h-1.0zM402,79h1.0v1.0h-1.0zM416,174h1.0v1.0h-1.0zM410,168h1.0v1.0h-1.0zM574,134h1.0v1.0h-1.0zM406,98h1.0v1.0h-1.0zM511,93h1.0v1.0h-1.0zM565,158h1.0v1.0h-1.0zM569,126h1.0v1.0h-1.0zM470,169h1.0v1.0h-1.0zM496,105h1.0v1.0h-1.0zM522,251h1.0v1.0h-1.0zM608,126h1.0v1.0h-1.0zM559,172h1.0v1.0h-1.0zM462,164h1.0v1.0h-1.0zM420,74h1.0v1.0h-1.0zM429,112h1.0v1.0h-1.0zM578,108h1.0v1.0h-1.0zM570,114h1.0v1.0h-1.0zM541,90h1.0v1.0h-1.0zM448,118h1.0v1.0h-1.0zM565,117h1.0v1.0h-1.0zM511,229h1.0v1.0h-1.0zM566,164h1.0v1.0h-1.0zM527,142h1.0v1.0h-1.0zM514,254h1.0v1.0h-1.0zM529,268h1.0v1.0h-1.0zM529,77h1.0v1.0h-1.0zM511,214h1.0v1.0h-1.0zM553,281h1.0v1.0h-1.0zM530,96h1.0v1.0h-1.0zM511,74h1.0v1.0h-1.0zM456,176h1.0v1.0h-1.0zM506,114h1.0v1.0h-1.0zM518,246h1.0v1.0h-1.0zM504,224h1.0v1.0h-1.0zM510,132h1.0v1.0h-1.0zM535,172h1.0v1.0h-1.0zM480,279h1.0v1.0h-1.0zM436,139h1.0v1.0h-1.0zM509,179h1.0v1.0h-1.0zM532,102h1.0v1.0h-1.0zM536,92h1.0v1.0h-1.0zM527,141h1.0v1.0h-1.0zM514,190h1.0v1.0h-1.0zM509,202h1.0v1.0h-1.0zM508,102h1.0v1.0h-1.0zM527,143h1.0v1.0h-1.0zM388,69h1.0v1.0h-1.0zM510,211h1.0v1.0h-1.0zM556,174h1.0v1.0h-1.0zM513,272h1.0v1.0h-1.0zM433,70h1.0v1.0h-1.0zM521,128h1.0v1.0h-1.0zM557,172h1.0v1.0h-1.0zM498,221h1.0v1.0h-1.0zM442,166h1.0v1.0h-1.0zM576,136h1.0v1.0h-1.0zM578,109h1.0v1.0h-1.0zM548,195h1.0v1.0h-1.0zM391,174h1.0v1.0h-1.0zM408,101h1.0v1.0h-1.0zM403,165h1.0v1.0h-1.0zM413,186h1.0v1.0h-1.0zM443,178h1.0v1.0h-1.0zM532,156h1.0v1.0h-1.0zM505,122h1.0v1.0h-1.0zM411,101h1.0v1.0h-1.0zM502,272h1.0v1.0h-1.0zM507,98h1.0v1.0h-1.0zM482,148h1.0v1.0h-1.0zM391,193h1.0v1.0h-1.0zM523,164h1.0v1.0h-1.0zM594,116h1.0v1.0h-1.0zM519,114h1.0v1.0h-1.0zM562,89h1.0v1.0h-1.0zM463,130h1.0v1.0h-1.0zM523,264h1.0v1.0h-1.0zM527,130h1.0v1.0h-1.0zM507,108h1.0v1.0h-1.0zM513,95h1.0v1.0h-1.0zM415,107h1.0v1.0h-1.0zM469,112h1.0v1.0h-1.0zM395,116h1.0v1.0h-1.0zM532,168h1.0v1.0h-1.0zM386,125h1.0v1.0h-1.0zM494,68h1.0v1.0h-1.0zM507,214h1.0v1.0h-1.0zM496,117h1.0v1.0h-1.0zM440,175h1.0v1.0h-1.0zM419,171h1.0v1.0h-1.0zM466,170h1.0v1.0h-1.0zM515,157h1.0v1.0h-1.0zM466,162h1.0v1.0h-1.0zM507,239h1.0v1.0h-1.0zM578,121h1.0v1.0h-1.0zM460,166h1.0v1.0h-1.0zM527,140h1.0v1.0h-1.0zM509,245h1.0v1.0h-1.0zM448,175h1.0v1.0h-1.0zM530,176h1.0v1.0h-1.0zM527,131h1.0v1.0h-1.0zM536,180h1.0v1.0h-1.0zM565,147h1.0v1.0h-1.0zM474,295h1.0v1.0h-1.0zM527,114h1.0v1.0h-1.0zM462,115h1.0v1.0h-1.0zM521,121h1.0v1.0h-1.0zM567,167h1.0v1.0h-1.0zM485,110h1.0v1.0h-1.0zM435,175h1.0v1.0h-1.0zM503,271h1.0v1.0h-1.0zM545,169h1.0v1.0h-1.0zM551,182h1.0v1.0h-1.0zM498,161h1.0v1.0h-1.0zM387,105h1.0v1.0h-1.0zM481,163h1.0v1.0h-1.0zM479,171h1.0v1.0h-1.0zM389,115h1.0v1.0h-1.0zM479,281h1.0v1.0h-1.0zM442,121h1.0v1.0h-1.0zM539,164h1.0v1.0h-1.0zM570,142h1.0v1.0h-1.0zM564,102h1.0v1.0h-1.0zM450,165h1.0v1.0h-1.0zM461,167h1.0v1.0h-1.0zM491,278h1.0v1.0h-1.0zM527,103h1.0v1.0h-1.0zM529,160h1.0v1.0h-1.0zM509,194h1.0v1.0h-1.0zM511,276h1.0v1.0h-1.0zM401,97h1.0v1.0h-1.0zM511,252h1.0v1.0h-1.0zM482,145h1.0v1.0h-1.0zM564,84h1.0v1.0h-1.0zM512,276h1.0v1.0h-1.0zM549,162h1.0v1.0h-1.0zM414,180h1.0v1.0h-1.0zM467,285h1.0v1.0h-1.0zM500,189h1.0v1.0h-1.0zM488,174h1.0v1.0h-1.0zM445,111h1.0v1.0h-1.0zM528,116h1.0v1.0h-1.0zM530,102h1.0v1.0h-1.0zM550,79h1.0v1.0h-1.0zM418,106h1.0v1.0h-1.0zM545,253h1.0v1.0h-1.0zM516,141h1.0v1.0h-1.0zM508,235h1.0v1.0h-1.0zM522,232h1.0v1.0h-1.0zM519,262h1.0v1.0h-1.0zM431,160h1.0v1.0h-1.0zM489,277h1.0v1.0h-1.0zM421,116h1.0v1.0h-1.0zM383,160h1.0v1.0h-1.0zM561,178h1.0v1.0h-1.0zM519,149h1.0v1.0h-1.0zM501,176h1.0v1.0h-1.0zM508,135h1.0v1.0h-1.0zM556,158h1.0v1.0h-1.0zM476,149h1.0v1.0h-1.0zM530,86h1.0v1.0h-1.0zM550,162h1.0v1.0h-1.0zM516,254h1.0v1.0h-1.0zM452,112h1.0v1.0h-1.0zM534,174h1.0v1.0h-1.0zM476,169h1.0v1.0h-1.0zM389,279h1.0v1.0h-1.0zM515,201h1.0v1.0h-1.0zM508,103h1.0v1.0h-1.0zM526,140h1.0v1.0h-1.0zM424,181h1.0v1.0h-1.0zM546,166h1.0v1.0h-1.0zM507,112h1.0v1.0h-1.0zM483,132h1.0v1.0h-1.0zM483,170h1.0v1.0h-1.0zM417,177h1.0v1.0h-1.0zM429,180h1.0v1.0h-1.0zM501,151h1.0v1.0h-1.0zM449,176h1.0v1.0h-1.0zM513,198h1.0v1.0h-1.0zM485,116h1.0v1.0h-1.0zM559,169h1.0v1.0h-1.0zM551,169h1.0v1.0h-1.0zM522,70h1.0v1.0h-1.0zM433,166h1.0v1.0h-1.0zM519,266h1.0v1.0h-1.0zM470,157h1.0v1.0h-1.0zM403,170h1.0v1.0h-1.0zM517,131h1.0v1.0h-1.0zM579,147h1.0v1.0h-1.0zM554,83h1.0v1.0h-1.0zM526,232h1.0v1.0h-1.0zM546,180h1.0v1.0h-1.0zM541,173h1.0v1.0h-1.0zM387,122h1.0v1.0h-1.0zM506,107h1.0v1.0h-1.0zM528,92h1.0v1.0h-1.0zM524,138h1.0v1.0h-1.0zM391,101h1.0v1.0h-1.0zM532,154h1.0v1.0h-1.0zM509,267h1.0v1.0h-1.0zM539,167h1.0v1.0h-1.0zM430,161h1.0v1.0h-1.0zM386,180h1.0v1.0h-1.0zM578,164h1.0v1.0h-1.0zM563,185h1.0v1.0h-1.0zM459,70h1.0v1.0h-1.0zM456,164h1.0v1.0h-1.0zM503,232h1.0v1.0h-1.0zM506,113h1.0v1.0h-1.0zM570,120h1.0v1.0h-1.0zM423,174h1.0v1.0h-1.0zM490,283h1.0v1.0h-1.0zM465,169h1.0v1.0h-1.0zM521,184h1.0v1.0h-1.0zM429,109h1.0v1.0h-1.0zM506,221h1.0v1.0h-1.0zM442,144h1.0v1.0h-1.0zM490,285h1.0v1.0h-1.0zM496,58h1.0v1.0h-1.0zM392,286h1.0v1.0h-1.0zM469,161h1.0v1.0h-1.0zM554,81h1.0v1.0h-1.0zM543,166h1.0v1.0h-1.0zM609,128h1.0v1.0h-1.0zM516,69h1.0v1.0h-1.0zM535,191h1.0v1.0h-1.0zM431,279h1.0v1.0h-1.0zM428,110h1.0v1.0h-1.0zM504,174h1.0v1.0h-1.0zM471,162h1.0v1.0h-1.0zM465,119h1.0v1.0h-1.0zM515,142h1.0v1.0h-1.0zM495,135h1.0v1.0h-1.0zM434,180h1.0v1.0h-1.0zM529,254h1.0v1.0h-1.0zM509,254h1.0v1.0h-1.0zM526,104h1.0v1.0h-1.0zM434,178h1.0v1.0h-1.0zM507,100h1.0v1.0h-1.0zM533,160h1.0v1.0h-1.0zM527,155h1.0v1.0h-1.0zM569,92h1.0v1.0h-1.0zM517,188h1.0v1.0h-1.0zM400,78h1.0v1.0h-1.0zM475,164h1.0v1.0h-1.0zM506,99h1.0v1.0h-1.0zM516,102h1.0v1.0h-1.0zM497,104h1.0v1.0h-1.0zM534,162h1.0v1.0h-1.0zM502,186h1.0v1.0h-1.0zM523,208h1.0v1.0h-1.0zM538,184h1.0v1.0h-1.0zM394,282h1.0v1.0h-1.0zM515,197h1.0v1.0h-1.0zM423,74h1.0v1.0h-1.0zM456,112h1.0v1.0h-1.0zM490,116h1.0v1.0h-1.0zM390,168h1.0v1.0h-1.0zM512,270h1.0v1.0h-1.0zM418,101h1.0v1.0h-1.0zM442,159h1.0v1.0h-1.0zM422,130h1.0v1.0h-1.0zM447,155h1.0v1.0h-1.0zM577,143h1.0v1.0h-1.0zM399,178h1.0v1.0h-1.0zM506,233h1.0v1.0h-1.0zM525,132h1.0v1.0h-1.0zM533,175h1.0v1.0h-1.0zM445,138h1.0v1.0h-1.0zM433,68h1.0v1.0h-1.0zM507,236h1.0v1.0h-1.0zM517,239h1.0v1.0h-1.0zM502,205h1.0v1.0h-1.0zM474,163h1.0v1.0h-1.0zM527,156h1.0v1.0h-1.0zM431,179h1.0v1.0h-1.0zM562,194h1.0v1.0h-1.0zM567,124h1.0v1.0h-1.0zM536,178h1.0v1.0h-1.0zM524,135h1.0v1.0h-1.0zM545,190h1.0v1.0h-1.0zM412,157h1.0v1.0h-1.0zM555,173h1.0v1.0h-1.0zM514,81h1.0v1.0h-1.0zM542,213h1.0v1.0h-1.0zM443,67h1.0v1.0h-1.0zM493,206h1.0v1.0h-1.0zM521,159h1.0v1.0h-1.0zM466,167h1.0v1.0h-1.0zM492,68h1.0v1.0h-1.0zM583,129h1.0v1.0h-1.0zM499,179h1.0v1.0h-1.0zM574,108h1.0v1.0h-1.0zM457,174h1.0v1.0h-1.0zM491,174h1.0v1.0h-1.0zM497,115h1.0v1.0h-1.0zM487,281h1.0v1.0h-1.0zM496,195h1.0v1.0h-1.0zM430,169h1.0v1.0h-1.0zM449,172h1.0v1.0h-1.0zM569,105h1.0v1.0h-1.0zM533,173h1.0v1.0h-1.0zM511,124h1.0v1.0h-1.0zM518,257h1.0v1.0h-1.0zM434,72h1.0v1.0h-1.0zM403,112h1.0v1.0h-1.0zM387,103h1.0v1.0h-1.0zM562,92h1.0v1.0h-1.0zM402,105h1.0v1.0h-1.0zM403,189h1.0v1.0h-1.0zM511,210h1.0v1.0h-1.0zM539,86h1.0v1.0h-1.0zM576,111h1.0v1.0h-1.0zM543,86h1.0v1.0h-1.0zM480,282h1.0v1.0h-1.0zM576,178h1.0v1.0h-1.0zM509,244h1.0v1.0h-1.0zM565,121h1.0v1.0h-1.0zM513,295h1.0v1.0h-1.0zM519,122h1.0v1.0h-1.0zM485,67h1.0v1.0h-1.0zM550,227h1.0v1.0h-1.0zM542,173h1.0v1.0h-1.0zM504,196h1.0v1.0h-1.0zM531,163h1.0v1.0h-1.0zM532,93h1.0v1.0h-1.0zM494,293h1.0v1.0h-1.0zM568,177h1.0v1.0h-1.0zM498,204h1.0v1.0h-1.0zM469,282h1.0v1.0h-1.0zM432,106h1.0v1.0h-1.0zM420,64h1.0v1.0h-1.0zM413,100h1.0v1.0h-1.0zM522,102h1.0v1.0h-1.0zM503,290h1.0v1.0h-1.0zM533,90h1.0v1.0h-1.0zM454,112h1.0v1.0h-1.0zM401,118h1.0v1.0h-1.0zM506,220h1.0v1.0h-1.0zM554,163h1.0v1.0h-1.0zM524,103h1.0v1.0h-1.0zM541,169h1.0v1.0h-1.0zM510,234h1.0v1.0h-1.0zM396,74h1.0v1.0h-1.0zM408,162h1.0v1.0h-1.0zM515,263h1.0v1.0h-1.0zM524,141h1.0v1.0h-1.0zM564,101h1.0v1.0h-1.0zM499,222h1.0v1.0h-1.0zM541,177h1.0v1.0h-1.0zM516,229h1.0v1.0h-1.0zM507,261h1.0v1.0h-1.0zM492,109h1.0v1.0h-1.0zM566,127h1.0v1.0h-1.0zM483,112h1.0v1.0h-1.0zM484,119h1.0v1.0h-1.0zM499,273h1.0v1.0h-1.0zM527,118h1.0v1.0h-1.0zM506,195h1.0v1.0h-1.0zM465,66h1.0v1.0h-1.0zM536,177h1.0v1.0h-1.0zM515,88h1.0v1.0h-1.0zM564,145h1.0v1.0h-1.0zM526,119h1.0v1.0h-1.0zM456,124h1.0v1.0h-1.0zM481,111h1.0v1.0h-1.0zM536,84h1.0v1.0h-1.0zM518,109h1.0v1.0h-1.0zM498,277h1.0v1.0h-1.0zM428,158h1.0v1.0h-1.0zM583,80h1.0v1.0h-1.0zM543,180h1.0v1.0h-1.0zM506,129h1.0v1.0h-1.0zM550,182h1.0v1.0h-1.0zM505,101h1.0v1.0h-1.0zM570,103h1.0v1.0h-1.0zM561,96h1.0v1.0h-1.0zM522,96h1.0v1.0h-1.0zM402,133h1.0v1.0h-1.0zM535,160h1.0v1.0h-1.0zM522,113h1.0v1.0h-1.0zM454,145h1.0v1.0h-1.0zM534,205h1.0v1.0h-1.0zM398,76h1.0v1.0h-1.0zM509,108h1.0v1.0h-1.0zM568,121h1.0v1.0h-1.0zM524,250h1.0v1.0h-1.0zM568,119h1.0v1.0h-1.0zM419,102h1.0v1.0h-1.0zM494,206h1.0v1.0h-1.0zM568,104h1.0v1.0h-1.0zM428,106h1.0v1.0h-1.0zM505,233h1.0v1.0h-1.0zM571,124h1.0v1.0h-1.0zM547,83h1.0v1.0h-1.0zM450,149h1.0v1.0h-1.0zM565,133h1.0v1.0h-1.0zM406,103h1.0v1.0h-1.0zM509,238h1.0v1.0h-1.0zM556,171h1.0v1.0h-1.0zM528,104h1.0v1.0h-1.0zM489,110h1.0v1.0h-1.0zM417,118h1.0v1.0h-1.0zM470,68h1.0v1.0h-1.0zM419,107h1.0v1.0h-1.0zM488,165h1.0v1.0h-1.0zM551,163h1.0v1.0h-1.0zM481,137h1.0v1.0h-1.0zM529,148h1.0v1.0h-1.0zM565,81h1.0v1.0h-1.0zM506,187h1.0v1.0h-1.0zM439,118h1.0v1.0h-1.0zM563,174h1.0v1.0h-1.0zM393,279h1.0v1.0h-1.0zM468,166h1.0v1.0h-1.0zM509,101h1.0v1.0h-1.0zM559,84h1.0v1.0h-1.0zM415,102h1.0v1.0h-1.0zM552,179h1.0v1.0h-1.0zM456,175h1.0v1.0h-1.0zM571,150h1.0v1.0h-1.0zM404,109h1.0v1.0h-1.0zM395,77h1.0v1.0h-1.0zM471,157h1.0v1.0h-1.0zM426,73h1.0v1.0h-1.0zM476,142h1.0v1.0h-1.0zM497,182h1.0v1.0h-1.0zM564,142h1.0v1.0h-1.0zM511,126h1.0v1.0h-1.0zM507,135h1.0v1.0h-1.0zM435,109h1.0v1.0h-1.0zM498,197h1.0v1.0h-1.0zM511,226h1.0v1.0h-1.0zM540,211h1.0v1.0h-1.0zM507,97h1.0v1.0h-1.0zM452,115h1.0v1.0h-1.0zM507,257h1.0v1.0h-1.0zM522,155h1.0v1.0h-1.0zM480,125h1.0v1.0h-1.0zM558,85h1.0v1.0h-1.0zM457,166h1.0v1.0h-1.0zM515,115h1.0v1.0h-1.0zM532,162h1.0v1.0h-1.0zM407,101h1.0v1.0h-1.0zM503,198h1.0v1.0h-1.0zM430,172h1.0v1.0h-1.0zM417,157h1.0v1.0h-1.0zM517,197h1.0v1.0h-1.0zM465,67h1.0v1.0h-1.0zM464,69h1.0v1.0h-1.0zM443,123h1.0v1.0h-1.0zM476,159h1.0v1.0h-1.0zM485,112h1.0v1.0h-1.0zM546,87h1.0v1.0h-1.0zM566,183h1.0v1.0h-1.0zM571,115h1.0v1.0h-1.0zM504,231h1.0v1.0h-1.0zM550,184h1.0v1.0h-1.0zM516,258h1.0v1.0h-1.0zM554,85h1.0v1.0h-1.0zM531,195h1.0v1.0h-1.0zM510,108h1.0v1.0h-1.0zM437,174h1.0v1.0h-1.0zM533,163h1.0v1.0h-1.0zM450,111h1.0v1.0h-1.0zM559,161h1.0v1.0h-1.0zM507,258h1.0v1.0h-1.0zM556,167h1.0v1.0h-1.0zM525,125h1.0v1.0h-1.0zM443,163h1.0v1.0h-1.0zM505,121h1.0v1.0h-1.0zM422,70h1.0v1.0h-1.0zM524,160h1.0v1.0h-1.0zM485,114h1.0v1.0h-1.0zM478,122h1.0v1.0h-1.0zM390,144h1.0v1.0h-1.0zM498,206h1.0v1.0h-1.0zM403,125h1.0v1.0h-1.0zM428,73h1.0v1.0h-1.0zM547,88h1.0v1.0h-1.0zM445,66h1.0v1.0h-1.0zM546,176h1.0v1.0h-1.0zM519,220h1.0v1.0h-1.0zM411,290h1.0v1.0h-1.0zM465,173h1.0v1.0h-1.0zM525,260h1.0v1.0h-1.0zM512,191h1.0v1.0h-1.0zM524,134h1.0v1.0h-1.0zM563,102h1.0v1.0h-1.0zM396,99h1.0v1.0h-1.0zM511,282h1.0v1.0h-1.0zM395,104h1.0v1.0h-1.0zM461,175h1.0v1.0h-1.0zM527,157h1.0v1.0h-1.0zM408,293h1.0v1.0h-1.0zM543,237h1.0v1.0h-1.0zM528,237h1.0v1.0h-1.0zM495,209h1.0v1.0h-1.0zM440,170h1.0v1.0h-1.0zM493,119h1.0v1.0h-1.0zM514,90h1.0v1.0h-1.0zM504,177h1.0v1.0h-1.0zM570,126h1.0v1.0h-1.0zM491,133h1.0v1.0h-1.0zM485,61h1.0v1.0h-1.0zM485,167h1.0v1.0h-1.0zM507,113h1.0v1.0h-1.0zM486,172h1.0v1.0h-1.0zM493,277h1.0v1.0h-1.0zM557,156h1.0v1.0h-1.0zM560,160h1.0v1.0h-1.0zM532,165h1.0v1.0h-1.0zM410,102h1.0v1.0h-1.0zM518,277h1.0v1.0h-1.0zM420,73h1.0v1.0h-1.0zM533,252h1.0v1.0h-1.0zM566,134h1.0v1.0h-1.0zM525,110h1.0v1.0h-1.0zM506,278h1.0v1.0h-1.0zM509,251h1.0v1.0h-1.0zM516,281h1.0v1.0h-1.0zM524,218h1.0v1.0h-1.0zM454,174h1.0v1.0h-1.0zM472,132h1.0v1.0h-1.0zM513,257h1.0v1.0h-1.0zM581,156h1.0v1.0h-1.0zM576,142h1.0v1.0h-1.0zM563,99h1.0v1.0h-1.0zM500,129h1.0v1.0h-1.0zM513,111h1.0v1.0h-1.0zM511,265h1.0v1.0h-1.0zM542,222h1.0v1.0h-1.0zM422,69h1.0v1.0h-1.0zM518,93h1.0v1.0h-1.0zM553,170h1.0v1.0h-1.0zM496,181h1.0v1.0h-1.0zM561,157h1.0v1.0h-1.0zM431,180h1.0v1.0h-1.0zM469,132h1.0v1.0h-1.0zM451,120h1.0v1.0h-1.0zM398,174h1.0v1.0h-1.0zM517,147h1.0v1.0h-1.0zM501,106h1.0v1.0h-1.0zM533,170h1.0v1.0h-1.0zM560,82h1.0v1.0h-1.0zM526,129h1.0v1.0h-1.0zM532,161h1.0v1.0h-1.0zM558,74h1.0v1.0h-1.0zM570,132h1.0v1.0h-1.0zM453,114h1.0v1.0h-1.0zM528,163h1.0v1.0h-1.0zM477,111h1.0v1.0h-1.0zM432,180h1.0v1.0h-1.0zM438,108h1.0v1.0h-1.0zM502,121h1.0v1.0h-1.0zM408,99h1.0v1.0h-1.0zM518,132h1.0v1.0h-1.0zM563,89h1.0v1.0h-1.0zM568,113h1.0v1.0h-1.0zM516,99h1.0v1.0h-1.0zM508,132h1.0v1.0h-1.0zM397,68h1.0v1.0h-1.0zM420,169h1.0v1.0h-1.0zM512,251h1.0v1.0h-1.0zM564,114h1.0v1.0h-1.0zM500,178h1.0v1.0h-1.0zM459,151h1.0v1.0h-1.0zM520,139h1.0v1.0h-1.0zM576,143h1.0v1.0h-1.0zM405,283h1.0v1.0h-1.0zM435,176h1.0v1.0h-1.0zM474,172h1.0v1.0h-1.0zM528,140h1.0v1.0h-1.0zM512,268h1.0v1.0h-1.0zM408,148h1.0v1.0h-1.0zM512,274h1.0v1.0h-1.0zM500,274h1.0v1.0h-1.0zM528,285h1.0v1.0h-1.0zM551,172h1.0v1.0h-1.0zM537,85h1.0v1.0h-1.0zM410,116h1.0v1.0h-1.0zM501,164h1.0v1.0h-1.0zM545,177h1.0v1.0h-1.0zM491,175h1.0v1.0h-1.0zM529,164h1.0v1.0h-1.0zM435,62h1.0v1.0h-1.0zM409,183h1.0v1.0h-1.0zM562,172h1.0v1.0h-1.0zM564,157h1.0v1.0h-1.0zM544,181h1.0v1.0h-1.0zM503,204h1.0v1.0h-1.0zM508,97h1.0v1.0h-1.0zM437,152h1.0v1.0h-1.0zM389,195h1.0v1.0h-1.0zM467,159h1.0v1.0h-1.0zM509,225h1.0v1.0h-1.0zM465,168h1.0v1.0h-1.0zM436,112h1.0v1.0h-1.0zM556,160h1.0v1.0h-1.0zM421,113h1.0v1.0h-1.0zM413,116h1.0v1.0h-1.0zM510,111h1.0v1.0h-1.0zM387,119h1.0v1.0h-1.0zM392,194h1.0v1.0h-1.0zM552,161h1.0v1.0h-1.0zM572,153h1.0v1.0h-1.0zM519,75h1.0v1.0h-1.0zM493,185h1.0v1.0h-1.0zM537,72h1.0v1.0h-1.0zM552,168h1.0v1.0h-1.0zM467,170h1.0v1.0h-1.0zM566,99h1.0v1.0h-1.0zM385,288h1.0v1.0h-1.0zM488,175h1.0v1.0h-1.0zM454,113h1.0v1.0h-1.0zM502,103h1.0v1.0h-1.0zM508,260h1.0v1.0h-1.0zM482,123h1.0v1.0h-1.0zM535,168h1.0v1.0h-1.0zM548,187h1.0v1.0h-1.0zM522,99h1.0v1.0h-1.0zM543,88h1.0v1.0h-1.0zM523,258h1.0v1.0h-1.0zM496,205h1.0v1.0h-1.0zM560,93h1.0v1.0h-1.0zM427,158h1.0v1.0h-1.0zM519,139h1.0v1.0h-1.0zM545,81h1.0v1.0h-1.0zM540,179h1.0v1.0h-1.0zM594,142h1.0v1.0h-1.0zM441,113h1.0v1.0h-1.0zM515,257h1.0v1.0h-1.0zM503,103h1.0v1.0h-1.0zM520,102h1.0v1.0h-1.0zM383,114h1.0v1.0h-1.0zM389,167h1.0v1.0h-1.0zM498,211h1.0v1.0h-1.0zM525,128h1.0v1.0h-1.0zM570,130h1.0v1.0h-1.0zM429,182h1.0v1.0h-1.0zM569,91h1.0v1.0h-1.0zM565,90h1.0v1.0h-1.0zM438,171h1.0v1.0h-1.0zM490,123h1.0v1.0h-1.0zM544,188h1.0v1.0h-1.0zM532,101h1.0v1.0h-1.0zM392,101h1.0v1.0h-1.0zM513,215h1.0v1.0h-1.0zM438,178h1.0v1.0h-1.0zM537,189h1.0v1.0h-1.0zM505,217h1.0v1.0h-1.0zM587,107h1.0v1.0h-1.0zM521,238h1.0v1.0h-1.0zM545,271h1.0v1.0h-1.0zM461,166h1.0v1.0h-1.0zM554,159h1.0v1.0h-1.0zM528,252h1.0v1.0h-1.0zM445,279h1.0v1.0h-1.0zM462,167h1.0v1.0h-1.0zM514,225h1.0v1.0h-1.0zM511,113h1.0v1.0h-1.0zM412,101h1.0v1.0h-1.0zM439,112h1.0v1.0h-1.0zM418,68h1.0v1.0h-1.0zM493,150h1.0v1.0h-1.0zM550,167h1.0v1.0h-1.0zM528,139h1.0v1.0h-1.0zM426,181h1.0v1.0h-1.0zM439,111h1.0v1.0h-1.0zM539,179h1.0v1.0h-1.0zM574,90h1.0v1.0h-1.0zM499,212h1.0v1.0h-1.0zM455,171h1.0v1.0h-1.0zM500,106h1.0v1.0h-1.0zM524,162h1.0v1.0h-1.0zM424,69h1.0v1.0h-1.0zM517,240h1.0v1.0h-1.0zM459,113h1.0v1.0h-1.0zM566,106h1.0v1.0h-1.0zM443,128h1.0v1.0h-1.0zM408,103h1.0v1.0h-1.0zM517,268h1.0v1.0h-1.0zM430,166h1.0v1.0h-1.0zM437,71h1.0v1.0h-1.0zM438,119h1.0v1.0h-1.0zM575,128h1.0v1.0h-1.0zM565,139h1.0v1.0h-1.0zM566,133h1.0v1.0h-1.0zM514,84h1.0v1.0h-1.0zM455,175h1.0v1.0h-1.0zM514,242h1.0v1.0h-1.0zM544,194h1.0v1.0h-1.0zM446,66h1.0v1.0h-1.0zM508,268h1.0v1.0h-1.0zM535,174h1.0v1.0h-1.0zM533,225h1.0v1.0h-1.0zM389,281h1.0v1.0h-1.0zM459,162h1.0v1.0h-1.0zM476,168h1.0v1.0h-1.0zM574,151h1.0v1.0h-1.0zM437,181h1.0v1.0h-1.0zM519,199h1.0v1.0h-1.0zM574,135h1.0v1.0h-1.0zM518,92h1.0v1.0h-1.0zM566,170h1.0v1.0h-1.0zM413,282h1.0v1.0h-1.0zM528,239h1.0v1.0h-1.0zM483,123h1.0v1.0h-1.0zM506,180h1.0v1.0h-1.0zM494,208h1.0v1.0h-1.0zM573,125h1.0v1.0h-1.0zM485,144h1.0v1.0h-1.0zM467,143h1.0v1.0h-1.0zM564,159h1.0v1.0h-1.0zM414,161h1.0v1.0h-1.0zM528,135h1.0v1.0h-1.0zM430,115h1.0v1.0h-1.0zM468,114h1.0v1.0h-1.0zM470,170h1.0v1.0h-1.0zM504,114h1.0v1.0h-1.0zM560,98h1.0v1.0h-1.0zM499,283h1.0v1.0h-1.0zM565,94h1.0v1.0h-1.0zM492,175h1.0v1.0h-1.0zM394,192h1.0v1.0h-1.0zM548,168h1.0v1.0h-1.0zM507,103h1.0v1.0h-1.0zM499,278h1.0v1.0h-1.0zM572,164h1.0v1.0h-1.0zM504,287h1.0v1.0h-1.0zM497,120h1.0v1.0h-1.0zM526,126h1.0v1.0h-1.0zM529,251h1.0v1.0h-1.0zM505,70h1.0v1.0h-1.0zM484,124h1.0v1.0h-1.0zM480,63h1.0v1.0h-1.0zM552,160h1.0v1.0h-1.0zM507,230h1.0v1.0h-1.0zM509,201h1.0v1.0h-1.0zM394,191h1.0v1.0h-1.0zM513,107h1.0v1.0h-1.0zM518,267h1.0v1.0h-1.0zM422,108h1.0v1.0h-1.0zM385,75h1.0v1.0h-1.0zM565,86h1.0v1.0h-1.0zM430,113h1.0v1.0h-1.0zM428,167h1.0v1.0h-1.0zM532,219h1.0v1.0h-1.0zM525,152h1.0v1.0h-1.0zM464,167h1.0v1.0h-1.0zM450,153h1.0v1.0h-1.0zM542,169h1.0v1.0h-1.0zM581,165h1.0v1.0h-1.0zM413,157h1.0v1.0h-1.0zM511,231h1.0v1.0h-1.0zM508,249h1.0v1.0h-1.0zM566,115h1.0v1.0h-1.0zM553,236h1.0v1.0h-1.0zM442,161h1.0v1.0h-1.0zM568,131h1.0v1.0h-1.0zM512,211h1.0v1.0h-1.0zM585,117h1.0v1.0h-1.0zM526,105h1.0v1.0h-1.0zM433,107h1.0v1.0h-1.0zM502,215h1.0v1.0h-1.0zM436,117h1.0v1.0h-1.0zM526,197h1.0v1.0h-1.0zM405,126h1.0v1.0h-1.0zM535,167h1.0v1.0h-1.0zM527,158h1.0v1.0h-1.0zM456,283h1.0v1.0h-1.0zM518,238h1.0v1.0h-1.0zM513,260h1.0v1.0h-1.0zM524,154h1.0v1.0h-1.0zM423,177h1.0v1.0h-1.0zM515,95h1.0v1.0h-1.0zM407,100h1.0v1.0h-1.0zM478,161h1.0v1.0h-1.0zM536,91h1.0v1.0h-1.0zM518,260h1.0v1.0h-1.0zM458,144h1.0v1.0h-1.0zM503,228h1.0v1.0h-1.0zM504,234h1.0v1.0h-1.0zM565,102h1.0v1.0h-1.0zM508,274h1.0v1.0h-1.0zM492,196h1.0v1.0h-1.0zM514,130h1.0v1.0h-1.0zM405,113h1.0v1.0h-1.0zM516,116h1.0v1.0h-1.0zM489,143h1.0v1.0h-1.0zM581,114h1.0v1.0h-1.0zM562,150h1.0v1.0h-1.0zM549,175h1.0v1.0h-1.0zM568,132h1.0v1.0h-1.0zM423,184h1.0v1.0h-1.0zM523,203h1.0v1.0h-1.0zM442,113h1.0v1.0h-1.0zM502,147h1.0v1.0h-1.0zM479,165h1.0v1.0h-1.0zM498,219h1.0v1.0h-1.0zM413,133h1.0v1.0h-1.0zM440,130h1.0v1.0h-1.0zM515,89h1.0v1.0h-1.0zM510,235h1.0v1.0h-1.0zM505,221h1.0v1.0h-1.0zM475,170h1.0v1.0h-1.0zM427,182h1.0v1.0h-1.0zM573,174h1.0v1.0h-1.0zM505,216h1.0v1.0h-1.0zM452,172h1.0v1.0h-1.0zM563,113h1.0v1.0h-1.0zM569,101h1.0v1.0h-1.0zM516,128h1.0v1.0h-1.0zM504,103h1.0v1.0h-1.0zM390,282h1.0v1.0h-1.0zM491,109h1.0v1.0h-1.0zM486,131h1.0v1.0h-1.0zM408,295h1.0v1.0h-1.0zM436,172h1.0v1.0h-1.0zM546,174h1.0v1.0h-1.0zM520,124h1.0v1.0h-1.0zM518,97h1.0v1.0h-1.0zM545,79h1.0v1.0h-1.0zM520,216h1.0v1.0h-1.0zM508,107h1.0v1.0h-1.0zM515,70h1.0v1.0h-1.0zM459,161h1.0v1.0h-1.0zM458,112h1.0v1.0h-1.0zM506,100h1.0v1.0h-1.0zM410,286h1.0v1.0h-1.0zM552,172h1.0v1.0h-1.0zM552,177h1.0v1.0h-1.0zM469,152h1.0v1.0h-1.0zM449,51h1.0v1.0h-1.0zM505,151h1.0v1.0h-1.0zM540,81h1.0v1.0h-1.0zM527,109h1.0v1.0h-1.0zM590,115h1.0v1.0h-1.0zM472,116h1.0v1.0h-1.0zM447,111h1.0v1.0h-1.0zM441,172h1.0v1.0h-1.0zM495,130h1.0v1.0h-1.0zM524,99h1.0v1.0h-1.0zM483,113h1.0v1.0h-1.0zM491,277h1.0v1.0h-1.0zM524,168h1.0v1.0h-1.0zM508,188h1.0v1.0h-1.0zM532,210h1.0v1.0h-1.0zM511,162h1.0v1.0h-1.0zM499,118h1.0v1.0h-1.0zM501,103h1.0v1.0h-1.0zM437,177h1.0v1.0h-1.0zM536,251h1.0v1.0h-1.0zM421,107h1.0v1.0h-1.0zM459,173h1.0v1.0h-1.0zM390,164h1.0v1.0h-1.0zM506,67h1.0v1.0h-1.0zM566,104h1.0v1.0h-1.0zM536,260h1.0v1.0h-1.0zM534,76h1.0v1.0h-1.0zM571,108h1.0v1.0h-1.0zM388,75h1.0v1.0h-1.0zM514,104h1.0v1.0h-1.0zM507,120h1.0v1.0h-1.0zM574,142h1.0v1.0h-1.0zM446,279h1.0v1.0h-1.0zM496,193h1.0v1.0h-1.0zM500,150h1.0v1.0h-1.0zM504,230h1.0v1.0h-1.0zM507,227h1.0v1.0h-1.0zM440,133h1.0v1.0h-1.0zM481,279h1.0v1.0h-1.0zM559,90h1.0v1.0h-1.0zM582,116h1.0v1.0h-1.0zM573,87h1.0v1.0h-1.0zM537,75h1.0v1.0h-1.0zM518,229h1.0v1.0h-1.0zM481,170h1.0v1.0h-1.0zM483,144h1.0v1.0h-1.0zM443,118h1.0v1.0h-1.0zM526,136h1.0v1.0h-1.0zM496,196h1.0v1.0h-1.0zM577,126h1.0v1.0h-1.0zM391,179h1.0v1.0h-1.0zM525,133h1.0v1.0h-1.0zM504,268h1.0v1.0h-1.0zM422,283h1.0v1.0h-1.0zM519,161h1.0v1.0h-1.0zM516,126h1.0v1.0h-1.0zM564,156h1.0v1.0h-1.0zM573,117h1.0v1.0h-1.0zM454,155h1.0v1.0h-1.0zM452,113h1.0v1.0h-1.0zM547,63h1.0v1.0h-1.0zM530,103h1.0v1.0h-1.0zM533,199h1.0v1.0h-1.0zM549,82h1.0v1.0h-1.0zM521,155h1.0v1.0h-1.0zM415,75h1.0v1.0h-1.0zM517,277h1.0v1.0h-1.0zM394,167h1.0v1.0h-1.0zM403,280h1.0v1.0h-1.0zM536,169h1.0v1.0h-1.0zM557,153h1.0v1.0h-1.0zM502,280h1.0v1.0h-1.0zM388,101h1.0v1.0h-1.0zM521,221h1.0v1.0h-1.0zM504,116h1.0v1.0h-1.0zM484,161h1.0v1.0h-1.0zM528,138h1.0v1.0h-1.0zM522,120h1.0v1.0h-1.0zM546,167h1.0v1.0h-1.0zM515,77h1.0v1.0h-1.0zM530,149h1.0v1.0h-1.0zM566,136h1.0v1.0h-1.0zM575,165h1.0v1.0h-1.0zM476,112h1.0v1.0h-1.0zM525,225h1.0v1.0h-1.0zM392,102h1.0v1.0h-1.0zM399,77h1.0v1.0h-1.0zM569,161h1.0v1.0h-1.0zM435,70h1.0v1.0h-1.0zM568,124h1.0v1.0h-1.0zM574,131h1.0v1.0h-1.0zM506,116h1.0v1.0h-1.0zM447,177h1.0v1.0h-1.0zM521,107h1.0v1.0h-1.0zM448,177h1.0v1.0h-1.0zM436,175h1.0v1.0h-1.0zM561,95h1.0v1.0h-1.0zM491,115h1.0v1.0h-1.0zM387,171h1.0v1.0h-1.0zM517,257h1.0v1.0h-1.0zM507,240h1.0v1.0h-1.0zM430,173h1.0v1.0h-1.0zM528,109h1.0v1.0h-1.0zM575,133h1.0v1.0h-1.0zM569,147h1.0v1.0h-1.0zM453,162h1.0v1.0h-1.0zM556,165h1.0v1.0h-1.0zM435,141h1.0v1.0h-1.0zM523,216h1.0v1.0h-1.0zM519,105h1.0v1.0h-1.0zM460,132h1.0v1.0h-1.0zM430,72h1.0v1.0h-1.0zM560,162h1.0v1.0h-1.0zM575,139h1.0v1.0h-1.0zM494,279h1.0v1.0h-1.0zM444,169h1.0v1.0h-1.0zM517,109h1.0v1.0h-1.0zM572,123h1.0v1.0h-1.0zM450,125h1.0v1.0h-1.0zM416,183h1.0v1.0h-1.0zM483,68h1.0v1.0h-1.0zM577,122h1.0v1.0h-1.0zM522,119h1.0v1.0h-1.0zM510,243h1.0v1.0h-1.0zM511,245h1.0v1.0h-1.0zM391,74h1.0v1.0h-1.0zM505,109h1.0v1.0h-1.0zM554,162h1.0v1.0h-1.0zM557,155h1.0v1.0h-1.0zM492,165h1.0v1.0h-1.0zM572,102h1.0v1.0h-1.0zM400,159h1.0v1.0h-1.0zM516,75h1.0v1.0h-1.0zM486,163h1.0v1.0h-1.0zM500,190h1.0v1.0h-1.0zM520,143h1.0v1.0h-1.0zM462,67h1.0v1.0h-1.0zM519,102h1.0v1.0h-1.0zM489,113h1.0v1.0h-1.0zM425,159h1.0v1.0h-1.0zM405,138h1.0v1.0h-1.0zM439,172h1.0v1.0h-1.0zM533,92h1.0v1.0h-1.0zM503,107h1.0v1.0h-1.0zM443,179h1.0v1.0h-1.0zM523,133h1.0v1.0h-1.0zM504,229h1.0v1.0h-1.0zM478,112h1.0v1.0h-1.0zM575,153h1.0v1.0h-1.0zM478,154h1.0v1.0h-1.0zM397,138h1.0v1.0h-1.0zM515,102h1.0v1.0h-1.0zM454,133h1.0v1.0h-1.0zM468,294h1.0v1.0h-1.0zM526,139h1.0v1.0h-1.0zM508,254h1.0v1.0h-1.0zM450,116h1.0v1.0h-1.0zM517,148h1.0v1.0h-1.0zM515,97h1.0v1.0h-1.0zM520,112h1.0v1.0h-1.0zM521,98h1.0v1.0h-1.0zM568,110h1.0v1.0h-1.0zM487,169h1.0v1.0h-1.0zM521,142h1.0v1.0h-1.0zM533,187h1.0v1.0h-1.0zM386,110h1.0v1.0h-1.0zM561,100h1.0v1.0h-1.0zM580,156h1.0v1.0h-1.0zM509,110h1.0v1.0h-1.0zM432,107h1.0v1.0h-1.0zM520,74h1.0v1.0h-1.0zM544,186h1.0v1.0h-1.0zM527,129h1.0v1.0h-1.0zM495,60h1.0v1.0h-1.0zM563,100h1.0v1.0h-1.0zM468,58h1.0v1.0h-1.0zM565,120h1.0v1.0h-1.0zM438,166h1.0v1.0h-1.0zM527,163h1.0v1.0h-1.0zM544,164h1.0v1.0h-1.0zM502,119h1.0v1.0h-1.0zM480,152h1.0v1.0h-1.0zM566,91h1.0v1.0h-1.0zM505,230h1.0v1.0h-1.0zM513,81h1.0v1.0h-1.0zM539,73h1.0v1.0h-1.0zM556,90h1.0v1.0h-1.0zM475,167h1.0v1.0h-1.0zM491,68h1.0v1.0h-1.0zM485,155h1.0v1.0h-1.0zM537,170h1.0v1.0h-1.0zM496,104h1.0v1.0h-1.0zM402,170h1.0v1.0h-1.0zM505,231h1.0v1.0h-1.0zM477,166h1.0v1.0h-1.0zM527,160h1.0v1.0h-1.0zM575,164h1.0v1.0h-1.0zM508,230h1.0v1.0h-1.0zM523,229h1.0v1.0h-1.0zM426,104h1.0v1.0h-1.0zM473,113h1.0v1.0h-1.0zM509,275h1.0v1.0h-1.0zM560,149h1.0v1.0h-1.0zM569,113h1.0v1.0h-1.0zM572,131h1.0v1.0h-1.0zM408,78h1.0v1.0h-1.0zM421,75h1.0v1.0h-1.0zM511,189h1.0v1.0h-1.0zM581,112h1.0v1.0h-1.0zM525,161h1.0v1.0h-1.0zM529,165h1.0v1.0h-1.0zM391,100h1.0v1.0h-1.0zM511,260h1.0v1.0h-1.0zM514,245h1.0v1.0h-1.0zM489,281h1.0v1.0h-1.0zM485,163h1.0v1.0h-1.0zM571,133h1.0v1.0h-1.0zM463,117h1.0v1.0h-1.0zM459,279h1.0v1.0h-1.0zM427,111h1.0v1.0h-1.0zM591,108h1.0v1.0h-1.0zM573,127h1.0v1.0h-1.0zM433,121h1.0v1.0h-1.0zM388,176h1.0v1.0h-1.0zM532,159h1.0v1.0h-1.0zM568,139h1.0v1.0h-1.0zM493,190h1.0v1.0h-1.0zM495,129h1.0v1.0h-1.0zM433,174h1.0v1.0h-1.0zM505,239h1.0v1.0h-1.0zM569,114h1.0v1.0h-1.0zM568,142h1.0v1.0h-1.0zM560,157h1.0v1.0h-1.0zM496,67h1.0v1.0h-1.0zM487,123h1.0v1.0h-1.0zM529,109h1.0v1.0h-1.0zM516,222h1.0v1.0h-1.0zM388,146h1.0v1.0h-1.0zM522,104h1.0v1.0h-1.0zM444,174h1.0v1.0h-1.0zM578,119h1.0v1.0h-1.0zM528,145h1.0v1.0h-1.0zM518,275h1.0v1.0h-1.0zM569,123h1.0v1.0h-1.0zM504,198h1.0v1.0h-1.0zM518,143h1.0v1.0h-1.0zM542,177h1.0v1.0h-1.0zM403,175h1.0v1.0h-1.0zM578,124h1.0v1.0h-1.0zM506,265h1.0v1.0h-1.0zM513,187h1.0v1.0h-1.0zM505,195h1.0v1.0h-1.0zM499,182h1.0v1.0h-1.0zM553,164h1.0v1.0h-1.0zM572,137h1.0v1.0h-1.0zM545,174h1.0v1.0h-1.0zM501,158h1.0v1.0h-1.0zM431,112h1.0v1.0h-1.0zM565,142h1.0v1.0h-1.0zM489,177h1.0v1.0h-1.0zM506,103h1.0v1.0h-1.0zM459,175h1.0v1.0h-1.0zM391,284h1.0v1.0h-1.0zM389,102h1.0v1.0h-1.0zM415,157h1.0v1.0h-1.0zM530,244h1.0v1.0h-1.0zM565,171h1.0v1.0h-1.0zM418,158h1.0v1.0h-1.0zM504,100h1.0v1.0h-1.0zM459,67h1.0v1.0h-1.0zM501,211h1.0v1.0h-1.0zM494,110h1.0v1.0h-1.0zM515,104h1.0v1.0h-1.0zM445,123h1.0v1.0h-1.0zM411,284h1.0v1.0h-1.0zM570,94h1.0v1.0h-1.0zM404,102h1.0v1.0h-1.0zM567,141h1.0v1.0h-1.0zM526,81h1.0v1.0h-1.0zM523,101h1.0v1.0h-1.0zM496,118h1.0v1.0h-1.0zM490,67h1.0v1.0h-1.0zM516,107h1.0v1.0h-1.0zM513,204h1.0v1.0h-1.0zM504,165h1.0v1.0h-1.0zM507,251h1.0v1.0h-1.0zM492,139h1.0v1.0h-1.0zM513,239h1.0v1.0h-1.0zM433,162h1.0v1.0h-1.0zM550,83h1.0v1.0h-1.0zM512,263h1.0v1.0h-1.0zM506,264h1.0v1.0h-1.0zM504,102h1.0v1.0h-1.0zM574,97h1.0v1.0h-1.0zM451,175h1.0v1.0h-1.0zM565,160h1.0v1.0h-1.0zM511,236h1.0v1.0h-1.0zM508,250h1.0v1.0h-1.0zM550,169h1.0v1.0h-1.0zM503,174h1.0v1.0h-1.0zM444,163h1.0v1.0h-1.0zM512,101h1.0v1.0h-1.0zM467,165h1.0v1.0h-1.0zM457,135h1.0v1.0h-1.0zM442,180h1.0v1.0h-1.0zM497,64h1.0v1.0h-1.0zM412,100h1.0v1.0h-1.0zM379,292h1.0v1.0h-1.0zM472,66h1.0v1.0h-1.0zM476,287h1.0v1.0h-1.0zM482,110h1.0v1.0h-1.0zM535,83h1.0v1.0h-1.0zM571,135h1.0v1.0h-1.0zM394,159h1.0v1.0h-1.0zM502,289h1.0v1.0h-1.0zM553,166h1.0v1.0h-1.0zM385,154h1.0v1.0h-1.0zM399,98h1.0v1.0h-1.0zM399,67h1.0v1.0h-1.0zM478,125h1.0v1.0h-1.0zM508,275h1.0v1.0h-1.0zM502,273h1.0v1.0h-1.0zM507,118h1.0v1.0h-1.0zM422,170h1.0v1.0h-1.0zM537,183h1.0v1.0h-1.0zM526,153h1.0v1.0h-1.0zM540,168h1.0v1.0h-1.0zM501,180h1.0v1.0h-1.0zM531,100h1.0v1.0h-1.0zM499,190h1.0v1.0h-1.0zM382,76h1.0v1.0h-1.0zM484,110h1.0v1.0h-1.0zM494,178h1.0v1.0h-1.0zM475,143h1.0v1.0h-1.0zM556,80h1.0v1.0h-1.0zM548,172h1.0v1.0h-1.0zM537,161h1.0v1.0h-1.0zM525,118h1.0v1.0h-1.0zM567,111h1.0v1.0h-1.0zM494,188h1.0v1.0h-1.0zM557,91h1.0v1.0h-1.0zM469,144h1.0v1.0h-1.0zM538,75h1.0v1.0h-1.0zM528,259h1.0v1.0h-1.0zM501,196h1.0v1.0h-1.0zM479,62h1.0v1.0h-1.0zM397,100h1.0v1.0h-1.0zM577,135h1.0v1.0h-1.0zM512,97h1.0v1.0h-1.0zM447,164h1.0v1.0h-1.0zM432,182h1.0v1.0h-1.0zM494,64h1.0v1.0h-1.0zM547,166h1.0v1.0h-1.0zM431,163h1.0v1.0h-1.0zM451,70h1.0v1.0h-1.0zM518,278h1.0v1.0h-1.0zM391,182h1.0v1.0h-1.0zM419,104h1.0v1.0h-1.0zM529,108h1.0v1.0h-1.0zM508,192h1.0v1.0h-1.0zM597,125h1.0v1.0h-1.0zM499,56h1.0v1.0h-1.0zM569,149h1.0v1.0h-1.0zM479,163h1.0v1.0h-1.0zM520,218h1.0v1.0h-1.0zM513,98h1.0v1.0h-1.0zM527,133h1.0v1.0h-1.0zM497,211h1.0v1.0h-1.0zM471,283h1.0v1.0h-1.0zM508,104h1.0v1.0h-1.0zM573,108h1.0v1.0h-1.0zM481,141h1.0v1.0h-1.0zM541,250h1.0v1.0h-1.0zM493,201h1.0v1.0h-1.0zM532,233h1.0v1.0h-1.0zM555,162h1.0v1.0h-1.0zM517,254h1.0v1.0h-1.0zM540,177h1.0v1.0h-1.0zM566,152h1.0v1.0h-1.0zM495,211h1.0v1.0h-1.0zM555,165h1.0v1.0h-1.0zM559,92h1.0v1.0h-1.0zM515,280h1.0v1.0h-1.0zM421,185h1.0v1.0h-1.0zM398,147h1.0v1.0h-1.0zM564,95h1.0v1.0h-1.0zM438,69h1.0v1.0h-1.0zM500,226h1.0v1.0h-1.0zM460,129h1.0v1.0h-1.0zM497,103h1.0v1.0h-1.0zM560,94h1.0v1.0h-1.0zM521,100h1.0v1.0h-1.0zM466,161h1.0v1.0h-1.0zM532,287h1.0v1.0h-1.0zM523,154h1.0v1.0h-1.0zM541,178h1.0v1.0h-1.0zM504,212h1.0v1.0h-1.0zM522,222h1.0v1.0h-1.0zM444,115h1.0v1.0h-1.0zM405,188h1.0v1.0h-1.0zM555,167h1.0v1.0h-1.0zM515,223h1.0v1.0h-1.0zM493,293h1.0v1.0h-1.0zM386,169h1.0v1.0h-1.0zM567,99h1.0v1.0h-1.0zM508,255h1.0v1.0h-1.0zM383,73h1.0v1.0h-1.0zM563,145h1.0v1.0h-1.0zM480,157h1.0v1.0h-1.0zM571,175h1.0v1.0h-1.0zM516,106h1.0v1.0h-1.0zM511,116h1.0v1.0h-1.0zM506,230h1.0v1.0h-1.0zM478,110h1.0v1.0h-1.0zM580,119h1.0v1.0h-1.0zM405,148h1.0v1.0h-1.0zM517,180h1.0v1.0h-1.0zM492,287h1.0v1.0h-1.0zM432,56h1.0v1.0h-1.0zM512,231h1.0v1.0h-1.0zM525,242h1.0v1.0h-1.0zM514,138h1.0v1.0h-1.0zM468,279h1.0v1.0h-1.0zM531,102h1.0v1.0h-1.0zM409,69h1.0v1.0h-1.0zM470,63h1.0v1.0h-1.0zM502,156h1.0v1.0h-1.0zM527,135h1.0v1.0h-1.0zM493,113h1.0v1.0h-1.0zM527,204h1.0v1.0h-1.0zM530,146h1.0v1.0h-1.0zM517,196h1.0v1.0h-1.0zM534,172h1.0v1.0h-1.0zM398,168h1.0v1.0h-1.0zM502,134h1.0v1.0h-1.0zM396,76h1.0v1.0h-1.0zM453,160h1.0v1.0h-1.0zM405,125h1.0v1.0h-1.0zM427,71h1.0v1.0h-1.0zM481,281h1.0v1.0h-1.0zM511,148h1.0v1.0h-1.0zM471,64h1.0v1.0h-1.0zM511,274h1.0v1.0h-1.0zM505,202h1.0v1.0h-1.0zM565,123h1.0v1.0h-1.0zM526,138h1.0v1.0h-1.0zM515,106h1.0v1.0h-1.0zM526,130h1.0v1.0h-1.0zM501,222h1.0v1.0h-1.0zM566,102h1.0v1.0h-1.0zM556,164h1.0v1.0h-1.0zM522,136h1.0v1.0h-1.0zM440,63h1.0v1.0h-1.0zM572,184h1.0v1.0h-1.0zM502,129h1.0v1.0h-1.0zM432,138h1.0v1.0h-1.0zM543,175h1.0v1.0h-1.0zM502,220h1.0v1.0h-1.0zM557,83h1.0v1.0h-1.0zM494,207h1.0v1.0h-1.0zM549,79h1.0v1.0h-1.0zM503,111h1.0v1.0h-1.0zM560,183h1.0v1.0h-1.0zM567,154h1.0v1.0h-1.0zM493,191h1.0v1.0h-1.0zM553,85h1.0v1.0h-1.0zM535,88h1.0v1.0h-1.0zM580,137h1.0v1.0h-1.0zM431,181h1.0v1.0h-1.0zM530,178h1.0v1.0h-1.0zM496,206h1.0v1.0h-1.0zM390,186h1.0v1.0h-1.0zM511,198h1.0v1.0h-1.0zM555,89h1.0v1.0h-1.0zM528,232h1.0v1.0h-1.0zM507,144h1.0v1.0h-1.0zM476,133h1.0v1.0h-1.0zM507,268h1.0v1.0h-1.0zM517,153h1.0v1.0h-1.0zM498,64h1.0v1.0h-1.0zM389,116h1.0v1.0h-1.0zM409,73h1.0v1.0h-1.0zM556,166h1.0v1.0h-1.0zM513,211h1.0v1.0h-1.0zM396,71h1.0v1.0h-1.0zM547,186h1.0v1.0h-1.0zM473,65h1.0v1.0h-1.0zM565,144h1.0v1.0h-1.0zM518,122h1.0v1.0h-1.0zM571,125h1.0v1.0h-1.0zM472,68h1.0v1.0h-1.0zM534,93h1.0v1.0h-1.0zM468,171h1.0v1.0h-1.0zM427,171h1.0v1.0h-1.0zM581,103h1.0v1.0h-1.0zM509,187h1.0v1.0h-1.0zM553,173h1.0v1.0h-1.0zM474,114h1.0v1.0h-1.0zM516,217h1.0v1.0h-1.0zM494,143h1.0v1.0h-1.0zM573,95h1.0v1.0h-1.0zM421,280h1.0v1.0h-1.0zM512,142h1.0v1.0h-1.0zM469,116h1.0v1.0h-1.0zM525,131h1.0v1.0h-1.0zM568,117h1.0v1.0h-1.0zM393,107h1.0v1.0h-1.0zM513,108h1.0v1.0h-1.0zM527,222h1.0v1.0h-1.0zM565,161h1.0v1.0h-1.0zM447,176h1.0v1.0h-1.0zM456,66h1.0v1.0h-1.0zM417,281h1.0v1.0h-1.0zM516,266h1.0v1.0h-1.0zM513,234h1.0v1.0h-1.0zM498,185h1.0v1.0h-1.0zM573,144h1.0v1.0h-1.0zM430,128h1.0v1.0h-1.0zM504,179h1.0v1.0h-1.0zM550,281h1.0v1.0h-1.0zM429,169h1.0v1.0h-1.0zM491,284h1.0v1.0h-1.0zM511,100h1.0v1.0h-1.0zM572,208h1.0v1.0h-1.0zM425,175h1.0v1.0h-1.0zM423,137h1.0v1.0h-1.0zM534,90h1.0v1.0h-1.0zM437,171h1.0v1.0h-1.0zM522,134h1.0v1.0h-1.0zM566,112h1.0v1.0h-1.0zM425,106h1.0v1.0h-1.0zM503,229h1.0v1.0h-1.0zM527,134h1.0v1.0h-1.0zM539,190h1.0v1.0h-1.0zM498,124h1.0v1.0h-1.0zM512,215h1.0v1.0h-1.0zM426,170h1.0v1.0h-1.0zM517,207h1.0v1.0h-1.0zM525,241h1.0v1.0h-1.0zM541,164h1.0v1.0h-1.0zM526,210h1.0v1.0h-1.0zM541,89h1.0v1.0h-1.0zM508,238h1.0v1.0h-1.0zM446,134h1.0v1.0h-1.0zM437,67h1.0v1.0h-1.0zM454,153h1.0v1.0h-1.0zM470,166h1.0v1.0h-1.0zM566,109h1.0v1.0h-1.0zM540,91h1.0v1.0h-1.0zM427,73h1.0v1.0h-1.0zM522,115h1.0v1.0h-1.0zM396,283h1.0v1.0h-1.0zM451,171h1.0v1.0h-1.0zM530,153h1.0v1.0h-1.0zM458,172h1.0v1.0h-1.0zM593,130h1.0v1.0h-1.0zM524,236h1.0v1.0h-1.0zM506,239h1.0v1.0h-1.0zM389,101h1.0v1.0h-1.0zM527,214h1.0v1.0h-1.0zM486,124h1.0v1.0h-1.0zM598,132h1.0v1.0h-1.0zM528,113h1.0v1.0h-1.0zM470,163h1.0v1.0h-1.0zM490,167h1.0v1.0h-1.0zM473,287h1.0v1.0h-1.0zM560,75h1.0v1.0h-1.0zM480,148h1.0v1.0h-1.0zM493,198h1.0v1.0h-1.0zM517,263h1.0v1.0h-1.0zM508,182h1.0v1.0h-1.0zM403,185h1.0v1.0h-1.0zM535,170h1.0v1.0h-1.0zM513,121h1.0v1.0h-1.0zM576,103h1.0v1.0h-1.0zM564,139h1.0v1.0h-1.0zM392,128h1.0v1.0h-1.0zM570,115h1.0v1.0h-1.0zM488,284h1.0v1.0h-1.0zM467,118h1.0v1.0h-1.0zM576,127h1.0v1.0h-1.0zM526,178h1.0v1.0h-1.0zM525,103h1.0v1.0h-1.0zM571,131h1.0v1.0h-1.0zM525,148h1.0v1.0h-1.0zM548,164h1.0v1.0h-1.0zM493,284h1.0v1.0h-1.0zM505,229h1.0v1.0h-1.0zM509,253h1.0v1.0h-1.0zM527,132h1.0v1.0h-1.0zM401,107h1.0v1.0h-1.0zM571,128h1.0v1.0h-1.0zM530,157h1.0v1.0h-1.0zM471,168h1.0v1.0h-1.0zM387,287h1.0v1.0h-1.0zM510,249h1.0v1.0h-1.0zM508,128h1.0v1.0h-1.0zM520,211h1.0v1.0h-1.0zM493,200h1.0v1.0h-1.0zM530,156h1.0v1.0h-1.0zM511,101h1.0v1.0h-1.0zM432,179h1.0v1.0h-1.0zM524,85h1.0v1.0h-1.0zM531,81h1.0v1.0h-1.0zM565,150h1.0v1.0h-1.0zM565,114h1.0v1.0h-1.0zM558,92h1.0v1.0h-1.0zM423,160h1.0v1.0h-1.0zM408,113h1.0v1.0h-1.0zM539,172h1.0v1.0h-1.0zM486,167h1.0v1.0h-1.0zM459,167h1.0v1.0h-1.0zM489,170h1.0v1.0h-1.0zM513,157h1.0v1.0h-1.0zM471,173h1.0v1.0h-1.0zM569,96h1.0v1.0h-1.0zM463,164h1.0v1.0h-1.0zM507,110h1.0v1.0h-1.0zM514,95h1.0v1.0h-1.0zM473,163h1.0v1.0h-1.0zM436,177h1.0v1.0h-1.0zM531,156h1.0v1.0h-1.0zM484,170h1.0v1.0h-1.0zM569,138h1.0v1.0h-1.0zM520,257h1.0v1.0h-1.0zM502,228h1.0v1.0h-1.0zM491,283h1.0v1.0h-1.0zM481,172h1.0v1.0h-1.0zM474,171h1.0v1.0h-1.0zM394,280h1.0v1.0h-1.0zM450,120h1.0v1.0h-1.0zM426,279h1.0v1.0h-1.0zM528,142h1.0v1.0h-1.0zM473,165h1.0v1.0h-1.0zM518,128h1.0v1.0h-1.0zM531,159h1.0v1.0h-1.0zM573,129h1.0v1.0h-1.0zM482,172h1.0v1.0h-1.0zM514,119h1.0v1.0h-1.0zM526,124h1.0v1.0h-1.0zM555,183h1.0v1.0h-1.0zM536,68h1.0v1.0h-1.0zM507,183h1.0v1.0h-1.0zM551,164h1.0v1.0h-1.0zM484,122h1.0v1.0h-1.0zM509,272h1.0v1.0h-1.0zM542,174h1.0v1.0h-1.0zM508,237h1.0v1.0h-1.0zM493,124h1.0v1.0h-1.0zM522,159h1.0v1.0h-1.0zM442,116h1.0v1.0h-1.0zM520,192h1.0v1.0h-1.0zM502,120h1.0v1.0h-1.0zM512,255h1.0v1.0h-1.0zM525,203h1.0v1.0h-1.0zM539,182h1.0v1.0h-1.0zM502,224h1.0v1.0h-1.0zM462,173h1.0v1.0h-1.0zM489,117h1.0v1.0h-1.0zM528,254h1.0v1.0h-1.0zM502,229h1.0v1.0h-1.0zM506,124h1.0v1.0h-1.0zM574,181h1.0v1.0h-1.0zM523,249h1.0v1.0h-1.0zM541,166h1.0v1.0h-1.0zM566,150h1.0v1.0h-1.0zM422,185h1.0v1.0h-1.0zM557,63h1.0v1.0h-1.0zM515,128h1.0v1.0h-1.0zM476,69h1.0v1.0h-1.0zM439,110h1.0v1.0h-1.0zM504,104h1.0v1.0h-1.0zM567,182h1.0v1.0h-1.0zM577,138h1.0v1.0h-1.0zM559,190h1.0v1.0h-1.0zM503,277h1.0v1.0h-1.0zM510,105h1.0v1.0h-1.0zM476,115h1.0v1.0h-1.0zM433,72h1.0v1.0h-1.0zM533,162h1.0v1.0h-1.0zM428,182h1.0v1.0h-1.0zM486,67h1.0v1.0h-1.0zM510,95h1.0v1.0h-1.0zM500,117h1.0v1.0h-1.0zM439,72h1.0v1.0h-1.0zM518,69h1.0v1.0h-1.0zM442,136h1.0v1.0h-1.0zM506,274h1.0v1.0h-1.0zM536,264h1.0v1.0h-1.0zM508,241h1.0v1.0h-1.0zM398,77h1.0v1.0h-1.0zM445,170h1.0v1.0h-1.0zM515,109h1.0v1.0h-1.0zM557,162h1.0v1.0h-1.0zM419,73h1.0v1.0h-1.0zM506,227h1.0v1.0h-1.0zM509,256h1.0v1.0h-1.0zM455,169h1.0v1.0h-1.0zM562,101h1.0v1.0h-1.0zM571,163h1.0v1.0h-1.0zM524,272h1.0v1.0h-1.0zM501,113h1.0v1.0h-1.0zM399,68h1.0v1.0h-1.0zM472,170h1.0v1.0h-1.0zM422,103h1.0v1.0h-1.0zM467,151h1.0v1.0h-1.0zM473,120h1.0v1.0h-1.0zM567,82h1.0v1.0h-1.0zM557,166h1.0v1.0h-1.0zM484,134h1.0v1.0h-1.0zM582,97h1.0v1.0h-1.0zM574,126h1.0v1.0h-1.0zM458,123h1.0v1.0h-1.0zM575,132h1.0v1.0h-1.0zM510,123h1.0v1.0h-1.0zM513,115h1.0v1.0h-1.0zM426,175h1.0v1.0h-1.0zM563,95h1.0v1.0h-1.0zM466,168h1.0v1.0h-1.0zM441,71h1.0v1.0h-1.0zM508,67h1.0v1.0h-1.0zM534,166h1.0v1.0h-1.0zM508,270h1.0v1.0h-1.0zM580,120h1.0v1.0h-1.0zM563,98h1.0v1.0h-1.0zM525,92h1.0v1.0h-1.0zM572,140h1.0v1.0h-1.0zM414,73h1.0v1.0h-1.0zM485,128h1.0v1.0h-1.0zM494,123h1.0v1.0h-1.0zM388,186h1.0v1.0h-1.0zM406,151h1.0v1.0h-1.0zM410,126h1.0v1.0h-1.0zM458,167h1.0v1.0h-1.0zM526,102h1.0v1.0h-1.0zM446,64h1.0v1.0h-1.0zM403,79h1.0v1.0h-1.0zM422,151h1.0v1.0h-1.0zM456,116h1.0v1.0h-1.0zM574,119h1.0v1.0h-1.0zM386,103h1.0v1.0h-1.0zM477,168h1.0v1.0h-1.0zM412,125h1.0v1.0h-1.0zM565,140h1.0v1.0h-1.0zM453,70h1.0v1.0h-1.0zM546,200h1.0v1.0h-1.0zM542,237h1.0v1.0h-1.0zM434,283h1.0v1.0h-1.0zM547,84h1.0v1.0h-1.0zM499,105h1.0v1.0h-1.0zM432,170h1.0v1.0h-1.0zM528,158h1.0v1.0h-1.0zM504,271h1.0v1.0h-1.0zM526,114h1.0v1.0h-1.0zM537,169h1.0v1.0h-1.0zM420,174h1.0v1.0h-1.0zM552,165h1.0v1.0h-1.0zM531,153h1.0v1.0h-1.0zM517,233h1.0v1.0h-1.0zM386,173h1.0v1.0h-1.0zM564,121h1.0v1.0h-1.0zM540,169h1.0v1.0h-1.0zM556,175h1.0v1.0h-1.0zM509,115h1.0v1.0h-1.0zM507,114h1.0v1.0h-1.0zM562,151h1.0v1.0h-1.0zM516,105h1.0v1.0h-1.0zM492,181h1.0v1.0h-1.0zM457,113h1.0v1.0h-1.0zM533,98h1.0v1.0h-1.0zM497,281h1.0v1.0h-1.0zM386,104h1.0v1.0h-1.0zM488,176h1.0v1.0h-1.0zM485,165h1.0v1.0h-1.0zM499,104h1.0v1.0h-1.0zM491,153h1.0v1.0h-1.0zM556,170h1.0v1.0h-1.0zM575,145h1.0v1.0h-1.0zM552,85h1.0v1.0h-1.0zM507,228h1.0v1.0h-1.0zM507,106h1.0v1.0h-1.0zM523,121h1.0v1.0h-1.0zM520,224h1.0v1.0h-1.0zM546,171h1.0v1.0h-1.0zM397,111h1.0v1.0h-1.0zM499,111h1.0v1.0h-1.0zM524,132h1.0v1.0h-1.0zM467,149h1.0v1.0h-1.0zM473,162h1.0v1.0h-1.0zM493,281h1.0v1.0h-1.0zM520,241h1.0v1.0h-1.0zM420,122h1.0v1.0h-1.0zM503,160h1.0v1.0h-1.0zM544,165h1.0v1.0h-1.0zM475,168h1.0v1.0h-1.0zM502,104h1.0v1.0h-1.0zM504,101h1.0v1.0h-1.0zM541,180h1.0v1.0h-1.0zM570,122h1.0v1.0h-1.0zM494,210h1.0v1.0h-1.0zM486,174h1.0v1.0h-1.0zM476,170h1.0v1.0h-1.0zM499,109h1.0v1.0h-1.0zM571,114h1.0v1.0h-1.0zM420,144h1.0v1.0h-1.0zM537,91h1.0v1.0h-1.0zM562,158h1.0v1.0h-1.0zM537,81h1.0v1.0h-1.0zM561,152h1.0v1.0h-1.0zM525,117h1.0v1.0h-1.0zM560,88h1.0v1.0h-1.0zM518,104h1.0v1.0h-1.0zM474,116h1.0v1.0h-1.0zM512,122h1.0v1.0h-1.0zM441,128h1.0v1.0h-1.0zM480,286h1.0v1.0h-1.0zM430,176h1.0v1.0h-1.0zM582,124h1.0v1.0h-1.0zM439,113h1.0v1.0h-1.0zM575,130h1.0v1.0h-1.0zM520,252h1.0v1.0h-1.0zM554,184h1.0v1.0h-1.0zM504,205h1.0v1.0h-1.0zM463,159h1.0v1.0h-1.0zM572,89h1.0v1.0h-1.0zM405,175h1.0v1.0h-1.0zM391,188h1.0v1.0h-1.0zM459,171h1.0v1.0h-1.0zM402,138h1.0v1.0h-1.0zM525,245h1.0v1.0h-1.0zM566,180h1.0v1.0h-1.0zM565,136h1.0v1.0h-1.0zM565,143h1.0v1.0h-1.0zM480,113h1.0v1.0h-1.0zM507,244h1.0v1.0h-1.0zM423,159h1.0v1.0h-1.0zM511,107h1.0v1.0h-1.0zM513,246h1.0v1.0h-1.0zM491,111h1.0v1.0h-1.0zM566,96h1.0v1.0h-1.0zM499,63h1.0v1.0h-1.0zM392,150h1.0v1.0h-1.0zM422,146h1.0v1.0h-1.0zM497,203h1.0v1.0h-1.0zM542,182h1.0v1.0h-1.0zM521,271h1.0v1.0h-1.0zM536,167h1.0v1.0h-1.0zM568,161h1.0v1.0h-1.0zM582,113h1.0v1.0h-1.0zM551,167h1.0v1.0h-1.0zM508,205h1.0v1.0h-1.0zM511,94h1.0v1.0h-1.0zM485,154h1.0v1.0h-1.0zM561,149h1.0v1.0h-1.0zM587,158h1.0v1.0h-1.0zM526,121h1.0v1.0h-1.0zM555,86h1.0v1.0h-1.0zM488,112h1.0v1.0h-1.0zM510,275h1.0v1.0h-1.0zM555,161h1.0v1.0h-1.0zM439,177h1.0v1.0h-1.0zM436,170h1.0v1.0h-1.0zM427,184h1.0v1.0h-1.0zM534,159h1.0v1.0h-1.0zM528,247h1.0v1.0h-1.0zM390,103h1.0v1.0h-1.0zM485,60h1.0v1.0h-1.0zM503,108h1.0v1.0h-1.0zM493,181h1.0v1.0h-1.0zM516,251h1.0v1.0h-1.0zM529,252h1.0v1.0h-1.0zM525,140h1.0v1.0h-1.0zM559,167h1.0v1.0h-1.0zM488,118h1.0v1.0h-1.0zM578,130h1.0v1.0h-1.0zM549,166h1.0v1.0h-1.0zM496,182h1.0v1.0h-1.0zM535,159h1.0v1.0h-1.0zM519,274h1.0v1.0h-1.0zM467,162h1.0v1.0h-1.0zM403,127h1.0v1.0h-1.0zM572,101h1.0v1.0h-1.0zM454,132h1.0v1.0h-1.0zM444,110h1.0v1.0h-1.0zM513,199h1.0v1.0h-1.0zM497,114h1.0v1.0h-1.0zM467,116h1.0v1.0h-1.0zM570,136h1.0v1.0h-1.0zM512,279h1.0v1.0h-1.0zM528,94h1.0v1.0h-1.0zM409,103h1.0v1.0h-1.0zM438,153h1.0v1.0h-1.0zM528,149h1.0v1.0h-1.0zM498,114h1.0v1.0h-1.0zM544,85h1.0v1.0h-1.0zM421,143h1.0v1.0h-1.0zM427,68h1.0v1.0h-1.0zM539,170h1.0v1.0h-1.0zM429,133h1.0v1.0h-1.0zM404,99h1.0v1.0h-1.0zM531,158h1.0v1.0h-1.0zM471,120h1.0v1.0h-1.0zM479,284h1.0v1.0h-1.0zM461,142h1.0v1.0h-1.0zM534,96h1.0v1.0h-1.0zM498,105h1.0v1.0h-1.0zM512,185h1.0v1.0h-1.0zM507,69h1.0v1.0h-1.0zM512,242h1.0v1.0h-1.0zM441,143h1.0v1.0h-1.0zM580,91h1.0v1.0h-1.0zM567,122h1.0v1.0h-1.0zM520,233h1.0v1.0h-1.0zM528,242h1.0v1.0h-1.0zM528,137h1.0v1.0h-1.0zM559,157h1.0v1.0h-1.0zM449,163h1.0v1.0h-1.0zM519,111h1.0v1.0h-1.0zM560,70h1.0v1.0h-1.0zM544,79h1.0v1.0h-1.0zM513,249h1.0v1.0h-1.0zM503,114h1.0v1.0h-1.0zM504,119h1.0v1.0h-1.0zM508,233h1.0v1.0h-1.0zM488,157h1.0v1.0h-1.0zM537,227h1.0v1.0h-1.0zM526,223h1.0v1.0h-1.0zM464,156h1.0v1.0h-1.0zM395,75h1.0v1.0h-1.0zM457,282h1.0v1.0h-1.0zM517,256h1.0v1.0h-1.0zM496,187h1.0v1.0h-1.0zM513,241h1.0v1.0h-1.0zM457,118h1.0v1.0h-1.0zM446,70h1.0v1.0h-1.0zM519,116h1.0v1.0h-1.0zM506,198h1.0v1.0h-1.0zM501,70h1.0v1.0h-1.0zM443,173h1.0v1.0h-1.0zM507,104h1.0v1.0h-1.0zM560,97h1.0v1.0h-1.0zM534,94h1.0v1.0h-1.0zM448,141h1.0v1.0h-1.0zM558,191h1.0v1.0h-1.0zM564,124h1.0v1.0h-1.0zM509,249h1.0v1.0h-1.0zM442,129h1.0v1.0h-1.0zM497,277h1.0v1.0h-1.0zM511,172h1.0v1.0h-1.0zM508,224h1.0v1.0h-1.0zM499,183h1.0v1.0h-1.0zM501,218h1.0v1.0h-1.0zM531,270h1.0v1.0h-1.0zM532,98h1.0v1.0h-1.0zM441,154h1.0v1.0h-1.0zM418,74h1.0v1.0h-1.0zM490,108h1.0v1.0h-1.0zM559,160h1.0v1.0h-1.0zM493,197h1.0v1.0h-1.0zM521,183h1.0v1.0h-1.0zM525,108h1.0v1.0h-1.0zM553,87h1.0v1.0h-1.0zM422,184h1.0v1.0h-1.0zM425,104h1.0v1.0h-1.0zM406,131h1.0v1.0h-1.0zM514,253h1.0v1.0h-1.0zM500,275h1.0v1.0h-1.0zM522,239h1.0v1.0h-1.0zM414,179h1.0v1.0h-1.0zM447,69h1.0v1.0h-1.0zM530,95h1.0v1.0h-1.0zM536,183h1.0v1.0h-1.0zM519,95h1.0v1.0h-1.0zM549,84h1.0v1.0h-1.0zM518,253h1.0v1.0h-1.0zM575,137h1.0v1.0h-1.0zM492,168h1.0v1.0h-1.0zM519,109h1.0v1.0h-1.0zM417,159h1.0v1.0h-1.0zM561,98h1.0v1.0h-1.0zM512,114h1.0v1.0h-1.0zM439,116h1.0v1.0h-1.0zM497,132h1.0v1.0h-1.0zM527,111h1.0v1.0h-1.0zM479,144h1.0v1.0h-1.0zM477,162h1.0v1.0h-1.0zM521,274h1.0v1.0h-1.0zM454,163h1.0v1.0h-1.0zM555,85h1.0v1.0h-1.0zM411,293h1.0v1.0h-1.0zM504,218h1.0v1.0h-1.0zM492,182h1.0v1.0h-1.0zM401,286h1.0v1.0h-1.0zM535,251h1.0v1.0h-1.0zM407,181h1.0v1.0h-1.0zM471,160h1.0v1.0h-1.0zM388,160h1.0v1.0h-1.0zM549,161h1.0v1.0h-1.0zM506,202h1.0v1.0h-1.0zM546,237h1.0v1.0h-1.0zM517,86h1.0v1.0h-1.0zM524,256h1.0v1.0h-1.0zM514,163h1.0v1.0h-1.0zM511,281h1.0v1.0h-1.0zM497,158h1.0v1.0h-1.0zM473,169h1.0v1.0h-1.0zM472,144h1.0v1.0h-1.0zM516,92h1.0v1.0h-1.0zM517,65h1.0v1.0h-1.0zM485,158h1.0v1.0h-1.0zM560,85h1.0v1.0h-1.0zM523,100h1.0v1.0h-1.0zM473,136h1.0v1.0h-1.0zM401,77h1.0v1.0h-1.0zM531,152h1.0v1.0h-1.0zM424,172h1.0v1.0h-1.0zM470,115h1.0v1.0h-1.0zM500,103h1.0v1.0h-1.0zM461,163h1.0v1.0h-1.0zM431,106h1.0v1.0h-1.0zM546,182h1.0v1.0h-1.0zM513,247h1.0v1.0h-1.0zM577,104h1.0v1.0h-1.0zM469,164h1.0v1.0h-1.0zM448,283h1.0v1.0h-1.0zM506,263h1.0v1.0h-1.0zM564,154h1.0v1.0h-1.0zM489,168h1.0v1.0h-1.0zM567,100h1.0v1.0h-1.0zM494,202h1.0v1.0h-1.0zM405,124h1.0v1.0h-1.0zM528,105h1.0v1.0h-1.0zM510,96h1.0v1.0h-1.0zM410,178h1.0v1.0h-1.0zM405,182h1.0v1.0h-1.0zM433,106h1.0v1.0h-1.0zM497,207h1.0v1.0h-1.0zM427,127h1.0v1.0h-1.0zM430,158h1.0v1.0h-1.0zM406,73h1.0v1.0h-1.0zM453,149h1.0v1.0h-1.0zM502,164h1.0v1.0h-1.0zM537,230h1.0v1.0h-1.0zM419,168h1.0v1.0h-1.0zM498,109h1.0v1.0h-1.0zM409,68h1.0v1.0h-1.0zM491,172h1.0v1.0h-1.0zM515,154h1.0v1.0h-1.0zM566,107h1.0v1.0h-1.0zM496,284h1.0v1.0h-1.0zM514,101h1.0v1.0h-1.0zM445,110h1.0v1.0h-1.0zM525,96h1.0v1.0h-1.0zM536,181h1.0v1.0h-1.0zM552,79h1.0v1.0h-1.0zM514,250h1.0v1.0h-1.0zM492,118h1.0v1.0h-1.0zM526,186h1.0v1.0h-1.0zM529,185h1.0v1.0h-1.0zM423,175h1.0v1.0h-1.0zM569,171h1.0v1.0h-1.0zM423,176h1.0v1.0h-1.0zM411,140h1.0v1.0h-1.0zM412,64h1.0v1.0h-1.0zM519,83h1.0v1.0h-1.0zM393,78h1.0v1.0h-1.0zM405,116h1.0v1.0h-1.0zM496,280h1.0v1.0h-1.0zM516,140h1.0v1.0h-1.0zM449,114h1.0v1.0h-1.0zM397,178h1.0v1.0h-1.0zM399,161h1.0v1.0h-1.0zM541,85h1.0v1.0h-1.0zM575,106h1.0v1.0h-1.0zM589,171h1.0v1.0h-1.0zM499,170h1.0v1.0h-1.0zM386,177h1.0v1.0h-1.0zM407,73h1.0v1.0h-1.0zM547,203h1.0v1.0h-1.0zM454,280h1.0v1.0h-1.0zM529,104h1.0v1.0h-1.0zM408,142h1.0v1.0h-1.0zM552,164h1.0v1.0h-1.0zM475,113h1.0v1.0h-1.0zM478,170h1.0v1.0h-1.0zM565,190h1.0v1.0h-1.0zM577,116h1.0v1.0h-1.0zM503,272h1.0v1.0h-1.0zM565,96h1.0v1.0h-1.0zM424,159h1.0v1.0h-1.0zM461,120h1.0v1.0h-1.0zM445,164h1.0v1.0h-1.0zM522,196h1.0v1.0h-1.0zM498,296h1.0v1.0h-1.0zM495,210h1.0v1.0h-1.0zM524,149h1.0v1.0h-1.0zM472,147h1.0v1.0h-1.0zM506,247h1.0v1.0h-1.0zM537,175h1.0v1.0h-1.0zM505,179h1.0v1.0h-1.0zM399,183h1.0v1.0h-1.0zM400,187h1.0v1.0h-1.0zM442,172h1.0v1.0h-1.0zM583,125h1.0v1.0h-1.0zM576,110h1.0v1.0h-1.0zM569,102h1.0v1.0h-1.0zM591,137h1.0v1.0h-1.0zM414,101h1.0v1.0h-1.0zM387,284h1.0v1.0h-1.0zM507,264h1.0v1.0h-1.0zM439,115h1.0v1.0h-1.0zM532,186h1.0v1.0h-1.0zM579,94h1.0v1.0h-1.0zM551,68h1.0v1.0h-1.0zM544,170h1.0v1.0h-1.0zM548,178h1.0v1.0h-1.0zM472,59h1.0v1.0h-1.0zM431,156h1.0v1.0h-1.0zM507,124h1.0v1.0h-1.0zM437,69h1.0v1.0h-1.0zM522,261h1.0v1.0h-1.0zM473,68h1.0v1.0h-1.0zM538,175h1.0v1.0h-1.0zM454,169h1.0v1.0h-1.0zM510,225h1.0v1.0h-1.0zM523,84h1.0v1.0h-1.0zM466,166h1.0v1.0h-1.0zM544,88h1.0v1.0h-1.0zM450,115h1.0v1.0h-1.0zM461,63h1.0v1.0h-1.0zM507,248h1.0v1.0h-1.0zM440,114h1.0v1.0h-1.0zM520,195h1.0v1.0h-1.0zM434,152h1.0v1.0h-1.0zM529,99h1.0v1.0h-1.0zM385,195h1.0v1.0h-1.0zM530,261h1.0v1.0h-1.0zM566,122h1.0v1.0h-1.0zM523,107h1.0v1.0h-1.0zM428,183h1.0v1.0h-1.0zM572,138h1.0v1.0h-1.0zM500,207h1.0v1.0h-1.0zM500,66h1.0v1.0h-1.0zM568,127h1.0v1.0h-1.0zM386,102h1.0v1.0h-1.0zM547,174h1.0v1.0h-1.0zM423,172h1.0v1.0h-1.0zM526,94h1.0v1.0h-1.0zM467,167h1.0v1.0h-1.0zM387,77h1.0v1.0h-1.0zM518,177h1.0v1.0h-1.0zM561,151h1.0v1.0h-1.0zM573,137h1.0v1.0h-1.0zM500,154h1.0v1.0h-1.0zM476,111h1.0v1.0h-1.0zM409,154h1.0v1.0h-1.0zM548,83h1.0v1.0h-1.0zM507,259h1.0v1.0h-1.0zM526,176h1.0v1.0h-1.0zM389,135h1.0v1.0h-1.0zM448,172h1.0v1.0h-1.0zM476,126h1.0v1.0h-1.0zM444,172h1.0v1.0h-1.0zM542,179h1.0v1.0h-1.0zM550,87h1.0v1.0h-1.0zM529,106h1.0v1.0h-1.0zM541,174h1.0v1.0h-1.0zM390,77h1.0v1.0h-1.0zM576,117h1.0v1.0h-1.0zM504,209h1.0v1.0h-1.0zM402,189h1.0v1.0h-1.0zM590,107h1.0v1.0h-1.0zM526,146h1.0v1.0h-1.0zM512,284h1.0v1.0h-1.0zM507,267h1.0v1.0h-1.0zM530,150h1.0v1.0h-1.0zM497,180h1.0v1.0h-1.0zM558,94h1.0v1.0h-1.0zM509,231h1.0v1.0h-1.0zM520,140h1.0v1.0h-1.0zM503,214h1.0v1.0h-1.0zM491,163h1.0v1.0h-1.0zM425,284h1.0v1.0h-1.0zM488,155h1.0v1.0h-1.0zM526,115h1.0v1.0h-1.0zM554,172h1.0v1.0h-1.0zM511,196h1.0v1.0h-1.0zM461,156h1.0v1.0h-1.0zM493,290h1.0v1.0h-1.0zM399,149h1.0v1.0h-1.0zM450,170h1.0v1.0h-1.0zM435,279h1.0v1.0h-1.0zM437,173h1.0v1.0h-1.0zM506,190h1.0v1.0h-1.0zM494,127h1.0v1.0h-1.0zM557,85h1.0v1.0h-1.0zM560,90h1.0v1.0h-1.0zM457,161h1.0v1.0h-1.0zM506,206h1.0v1.0h-1.0zM548,74h1.0v1.0h-1.0zM539,243h1.0v1.0h-1.0zM510,97h1.0v1.0h-1.0zM563,169h1.0v1.0h-1.0zM535,173h1.0v1.0h-1.0zM503,227h1.0v1.0h-1.0zM448,136h1.0v1.0h-1.0zM385,151h1.0v1.0h-1.0zM526,98h1.0v1.0h-1.0zM595,174h1.0v1.0h-1.0zM497,109h1.0v1.0h-1.0zM535,165h1.0v1.0h-1.0zM400,183h1.0v1.0h-1.0zM448,110h1.0v1.0h-1.0zM501,214h1.0v1.0h-1.0zM526,195h1.0v1.0h-1.0zM398,75h1.0v1.0h-1.0zM500,175h1.0v1.0h-1.0zM493,107h1.0v1.0h-1.0zM477,113h1.0v1.0h-1.0zM453,113h1.0v1.0h-1.0zM572,143h1.0v1.0h-1.0zM469,123h1.0v1.0h-1.0zM470,69h1.0v1.0h-1.0zM499,205h1.0v1.0h-1.0zM577,147h1.0v1.0h-1.0zM507,288h1.0v1.0h-1.0zM516,246h1.0v1.0h-1.0zM545,181h1.0v1.0h-1.0zM488,114h1.0v1.0h-1.0zM536,93h1.0v1.0h-1.0zM527,235h1.0v1.0h-1.0zM549,85h1.0v1.0h-1.0zM562,173h1.0v1.0h-1.0zM450,137h1.0v1.0h-1.0zM396,280h1.0v1.0h-1.0zM440,174h1.0v1.0h-1.0zM422,156h1.0v1.0h-1.0zM566,162h1.0v1.0h-1.0zM460,158h1.0v1.0h-1.0zM537,177h1.0v1.0h-1.0zM382,74h1.0v1.0h-1.0zM494,209h1.0v1.0h-1.0zM417,289h1.0v1.0h-1.0zM517,259h1.0v1.0h-1.0zM533,73h1.0v1.0h-1.0zM412,285h1.0v1.0h-1.0zM551,87h1.0v1.0h-1.0zM549,178h1.0v1.0h-1.0zM404,107h1.0v1.0h-1.0zM497,151h1.0v1.0h-1.0zM407,156h1.0v1.0h-1.0zM452,165h1.0v1.0h-1.0zM475,114h1.0v1.0h-1.0zM580,188h1.0v1.0h-1.0zM564,148h1.0v1.0h-1.0zM568,155h1.0v1.0h-1.0zM589,134h1.0v1.0h-1.0zM443,170h1.0v1.0h-1.0zM543,170h1.0v1.0h-1.0zM543,83h1.0v1.0h-1.0zM526,167h1.0v1.0h-1.0zM566,173h1.0v1.0h-1.0zM473,111h1.0v1.0h-1.0zM393,75h1.0v1.0h-1.0zM500,172h1.0v1.0h-1.0zM481,113h1.0v1.0h-1.0zM505,241h1.0v1.0h-1.0zM480,172h1.0v1.0h-1.0zM484,281h1.0v1.0h-1.0zM413,184h1.0v1.0h-1.0zM579,129h1.0v1.0h-1.0zM510,263h1.0v1.0h-1.0zM539,196h1.0v1.0h-1.0zM437,175h1.0v1.0h-1.0zM398,99h1.0v1.0h-1.0zM528,198h1.0v1.0h-1.0zM519,108h1.0v1.0h-1.0zM401,99h1.0v1.0h-1.0zM483,174h1.0v1.0h-1.0zM498,284h1.0v1.0h-1.0zM521,132h1.0v1.0h-1.0zM558,162h1.0v1.0h-1.0zM562,147h1.0v1.0h-1.0zM576,114h1.0v1.0h-1.0zM567,139h1.0v1.0h-1.0zM516,111h1.0v1.0h-1.0zM467,115h1.0v1.0h-1.0zM449,170h1.0v1.0h-1.0zM510,239h1.0v1.0h-1.0zM465,172h1.0v1.0h-1.0zM509,149h1.0v1.0h-1.0zM512,92h1.0v1.0h-1.0zM523,125h1.0v1.0h-1.0zM467,154h1.0v1.0h-1.0zM444,177h1.0v1.0h-1.0zM503,175h1.0v1.0h-1.0zM527,117h1.0v1.0h-1.0zM463,168h1.0v1.0h-1.0zM399,184h1.0v1.0h-1.0zM514,266h1.0v1.0h-1.0zM578,99h1.0v1.0h-1.0zM466,172h1.0v1.0h-1.0zM521,267h1.0v1.0h-1.0zM398,98h1.0v1.0h-1.0zM537,179h1.0v1.0h-1.0zM573,100h1.0v1.0h-1.0zM445,153h1.0v1.0h-1.0zM403,103h1.0v1.0h-1.0zM551,162h1.0v1.0h-1.0zM439,176h1.0v1.0h-1.0zM578,153h1.0v1.0h-1.0zM530,163h1.0v1.0h-1.0zM493,106h1.0v1.0h-1.0zM526,116h1.0v1.0h-1.0zM554,90h1.0v1.0h-1.0zM569,110h1.0v1.0h-1.0zM505,238h1.0v1.0h-1.0zM556,84h1.0v1.0h-1.0zM461,165h1.0v1.0h-1.0zM448,63h1.0v1.0h-1.0zM401,74h1.0v1.0h-1.0zM566,84h1.0v1.0h-1.0zM485,127h1.0v1.0h-1.0zM533,189h1.0v1.0h-1.0zM413,137h1.0v1.0h-1.0zM447,116h1.0v1.0h-1.0zM515,242h1.0v1.0h-1.0zM453,166h1.0v1.0h-1.0zM400,172h1.0v1.0h-1.0zM526,225h1.0v1.0h-1.0zM497,177h1.0v1.0h-1.0zM429,181h1.0v1.0h-1.0zM508,73h1.0v1.0h-1.0zM523,103h1.0v1.0h-1.0zM451,176h1.0v1.0h-1.0zM521,228h1.0v1.0h-1.0zM535,171h1.0v1.0h-1.0zM550,185h1.0v1.0h-1.0zM478,117h1.0v1.0h-1.0zM564,117h1.0v1.0h-1.0zM430,150h1.0v1.0h-1.0zM495,207h1.0v1.0h-1.0zM398,180h1.0v1.0h-1.0zM564,113h1.0v1.0h-1.0zM410,281h1.0v1.0h-1.0zM567,126h1.0v1.0h-1.0zM451,154h1.0v1.0h-1.0zM573,120h1.0v1.0h-1.0zM520,119h1.0v1.0h-1.0zM566,169h1.0v1.0h-1.0zM401,190h1.0v1.0h-1.0zM567,97h1.0v1.0h-1.0zM455,141h1.0v1.0h-1.0zM394,77h1.0v1.0h-1.0zM450,161h1.0v1.0h-1.0zM481,114h1.0v1.0h-1.0zM565,110h1.0v1.0h-1.0zM391,149h1.0v1.0h-1.0zM556,181h1.0v1.0h-1.0zM504,122h1.0v1.0h-1.0zM513,278h1.0v1.0h-1.0zM556,154h1.0v1.0h-1.0zM444,175h1.0v1.0h-1.0zM518,264h1.0v1.0h-1.0zM546,178h1.0v1.0h-1.0zM475,134h1.0v1.0h-1.0zM457,153h1.0v1.0h-1.0zM521,241h1.0v1.0h-1.0zM439,166h1.0v1.0h-1.0zM461,170h1.0v1.0h-1.0zM449,62h1.0v1.0h-1.0zM490,173h1.0v1.0h-1.0zM528,134h1.0v1.0h-1.0zM507,247h1.0v1.0h-1.0zM426,184h1.0v1.0h-1.0zM445,148h1.0v1.0h-1.0zM538,89h1.0v1.0h-1.0zM565,132h1.0v1.0h-1.0zM573,105h1.0v1.0h-1.0zM468,122h1.0v1.0h-1.0zM512,218h1.0v1.0h-1.0zM437,110h1.0v1.0h-1.0zM445,149h1.0v1.0h-1.0zM527,256h1.0v1.0h-1.0zM443,176h1.0v1.0h-1.0zM542,82h1.0v1.0h-1.0zM463,116h1.0v1.0h-1.0zM473,58h1.0v1.0h-1.0zM435,71h1.0v1.0h-1.0zM405,104h1.0v1.0h-1.0zM385,101h1.0v1.0h-1.0zM511,104h1.0v1.0h-1.0zM515,105h1.0v1.0h-1.0zM565,134h1.0v1.0h-1.0zM518,196h1.0v1.0h-1.0zM509,233h1.0v1.0h-1.0zM391,280h1.0v1.0h-1.0zM435,57h1.0v1.0h-1.0zM552,166h1.0v1.0h-1.0zM466,160h1.0v1.0h-1.0zM577,114h1.0v1.0h-1.0zM547,179h1.0v1.0h-1.0zM526,161h1.0v1.0h-1.0zM403,98h1.0v1.0h-1.0zM489,165h1.0v1.0h-1.0zM570,125h1.0v1.0h-1.0zM570,111h1.0v1.0h-1.0zM474,168h1.0v1.0h-1.0zM530,104h1.0v1.0h-1.0zM430,167h1.0v1.0h-1.0zM432,164h1.0v1.0h-1.0zM488,173h1.0v1.0h-1.0zM511,239h1.0v1.0h-1.0zM500,292h1.0v1.0h-1.0zM428,173h1.0v1.0h-1.0zM547,176h1.0v1.0h-1.0zM412,130h1.0v1.0h-1.0zM436,116h1.0v1.0h-1.0zM433,182h1.0v1.0h-1.0zM448,116h1.0v1.0h-1.0zM524,240h1.0v1.0h-1.0zM538,176h1.0v1.0h-1.0zM497,194h1.0v1.0h-1.0zM498,104h1.0v1.0h-1.0zM508,266h1.0v1.0h-1.0zM497,116h1.0v1.0h-1.0zM512,257h1.0v1.0h-1.0zM384,280h1.0v1.0h-1.0zM419,105h1.0v1.0h-1.0zM559,162h1.0v1.0h-1.0zM546,85h1.0v1.0h-1.0zM563,79h1.0v1.0h-1.0zM568,136h1.0v1.0h-1.0zM485,138h1.0v1.0h-1.0zM525,243h1.0v1.0h-1.0zM475,159h1.0v1.0h-1.0zM500,163h1.0v1.0h-1.0zM522,215h1.0v1.0h-1.0zM505,110h1.0v1.0h-1.0zM500,200h1.0v1.0h-1.0zM510,178h1.0v1.0h-1.0zM556,81h1.0v1.0h-1.0zM453,68h1.0v1.0h-1.0zM509,135h1.0v1.0h-1.0zM541,182h1.0v1.0h-1.0zM495,112h1.0v1.0h-1.0zM521,252h1.0v1.0h-1.0zM528,115h1.0v1.0h-1.0zM521,264h1.0v1.0h-1.0zM524,147h1.0v1.0h-1.0zM523,224h1.0v1.0h-1.0zM500,166h1.0v1.0h-1.0zM519,124h1.0v1.0h-1.0zM566,151h1.0v1.0h-1.0zM516,120h1.0v1.0h-1.0zM421,66h1.0v1.0h-1.0zM400,97h1.0v1.0h-1.0zM535,181h1.0v1.0h-1.0zM428,132h1.0v1.0h-1.0zM504,227h1.0v1.0h-1.0zM512,182h1.0v1.0h-1.0zM533,99h1.0v1.0h-1.0zM523,220h1.0v1.0h-1.0zM472,159h1.0v1.0h-1.0zM479,69h1.0v1.0h-1.0zM583,132h1.0v1.0h-1.0zM526,155h1.0v1.0h-1.0zM519,271h1.0v1.0h-1.0zM537,83h1.0v1.0h-1.0zM553,74h1.0v1.0h-1.0zM460,138h1.0v1.0h-1.0zM524,194h1.0v1.0h-1.0zM520,253h1.0v1.0h-1.0zM514,264h1.0v1.0h-1.0zM435,121h1.0v1.0h-1.0zM398,121h1.0v1.0h-1.0zM567,115h1.0v1.0h-1.0zM563,103h1.0v1.0h-1.0zM493,164h1.0v1.0h-1.0zM542,188h1.0v1.0h-1.0zM438,175h1.0v1.0h-1.0zM555,182h1.0v1.0h-1.0zM561,92h1.0v1.0h-1.0zM396,81h1.0v1.0h-1.0zM479,164h1.0v1.0h-1.0zM524,91h1.0v1.0h-1.0zM438,156h1.0v1.0h-1.0zM473,67h1.0v1.0h-1.0zM511,192h1.0v1.0h-1.0zM436,181h1.0v1.0h-1.0zM517,161h1.0v1.0h-1.0zM543,79h1.0v1.0h-1.0zM513,203h1.0v1.0h-1.0zM477,125h1.0v1.0h-1.0zM503,193h1.0v1.0h-1.0zM513,74h1.0v1.0h-1.0zM496,285h1.0v1.0h-1.0zM498,121h1.0v1.0h-1.0zM501,282h1.0v1.0h-1.0zM387,101h1.0v1.0h-1.0zM420,102h1.0v1.0h-1.0zM572,174h1.0v1.0h-1.0zM503,106h1.0v1.0h-1.0zM576,105h1.0v1.0h-1.0zM495,279h1.0v1.0h-1.0zM492,202h1.0v1.0h-1.0zM415,112h1.0v1.0h-1.0zM517,103h1.0v1.0h-1.0zM526,91h1.0v1.0h-1.0zM509,220h1.0v1.0h-1.0zM479,167h1.0v1.0h-1.0zM452,114h1.0v1.0h-1.0zM443,64h1.0v1.0h-1.0zM513,265h1.0v1.0h-1.0zM568,141h1.0v1.0h-1.0zM540,258h1.0v1.0h-1.0zM540,175h1.0v1.0h-1.0zM558,89h1.0v1.0h-1.0zM425,148h1.0v1.0h-1.0zM515,243h1.0v1.0h-1.0zM477,114h1.0v1.0h-1.0zM534,272h1.0v1.0h-1.0zM395,103h1.0v1.0h-1.0zM570,171h1.0v1.0h-1.0zM473,116h1.0v1.0h-1.0zM499,277h1.0v1.0h-1.0zM528,143h1.0v1.0h-1.0zM434,182h1.0v1.0h-1.0zM527,123h1.0v1.0h-1.0zM391,99h1.0v1.0h-1.0zM547,85h1.0v1.0h-1.0zM567,113h1.0v1.0h-1.0zM513,226h1.0v1.0h-1.0zM565,145h1.0v1.0h-1.0zM523,153h1.0v1.0h-1.0zM496,214h1.0v1.0h-1.0zM394,189h1.0v1.0h-1.0zM506,162h1.0v1.0h-1.0zM533,155h1.0v1.0h-1.0zM520,122h1.0v1.0h-1.0zM514,194h1.0v1.0h-1.0zM411,180h1.0v1.0h-1.0zM501,217h1.0v1.0h-1.0zM515,208h1.0v1.0h-1.0zM454,175h1.0v1.0h-1.0zM564,149h1.0v1.0h-1.0zM525,257h1.0v1.0h-1.0zM514,205h1.0v1.0h-1.0zM508,106h1.0v1.0h-1.0zM465,118h1.0v1.0h-1.0zM393,101h1.0v1.0h-1.0zM415,132h1.0v1.0h-1.0zM546,195h1.0v1.0h-1.0zM464,172h1.0v1.0h-1.0zM533,244h1.0v1.0h-1.0zM506,241h1.0v1.0h-1.0zM460,113h1.0v1.0h-1.0zM592,155h1.0v1.0h-1.0zM410,103h1.0v1.0h-1.0zM468,125h1.0v1.0h-1.0zM448,169h1.0v1.0h-1.0zM523,273h1.0v1.0h-1.0zM505,206h1.0v1.0h-1.0zM498,182h1.0v1.0h-1.0zM402,174h1.0v1.0h-1.0zM524,166h1.0v1.0h-1.0zM563,97h1.0v1.0h-1.0zM569,202h1.0v1.0h-1.0zM539,193h1.0v1.0h-1.0zM503,230h1.0v1.0h-1.0zM391,69h1.0v1.0h-1.0zM430,182h1.0v1.0h-1.0zM566,128h1.0v1.0h-1.0zM416,102h1.0v1.0h-1.0zM464,147h1.0v1.0h-1.0zM548,183h1.0v1.0h-1.0zM466,149h1.0v1.0h-1.0zM496,148h1.0v1.0h-1.0zM528,179h1.0v1.0h-1.0zM412,176h1.0v1.0h-1.0zM517,223h1.0v1.0h-1.0zM522,114h1.0v1.0h-1.0zM546,204h1.0v1.0h-1.0zM494,183h1.0v1.0h-1.0zM429,71h1.0v1.0h-1.0zM523,156h1.0v1.0h-1.0zM478,291h1.0v1.0h-1.0zM519,120h1.0v1.0h-1.0zM507,233h1.0v1.0h-1.0zM420,111h1.0v1.0h-1.0zM499,215h1.0v1.0h-1.0zM511,115h1.0v1.0h-1.0zM549,173h1.0v1.0h-1.0zM462,118h1.0v1.0h-1.0zM404,152h1.0v1.0h-1.0zM513,254h1.0v1.0h-1.0zM573,156h1.0v1.0h-1.0zM533,97h1.0v1.0h-1.0zM498,164h1.0v1.0h-1.0zM425,73h1.0v1.0h-1.0zM546,164h1.0v1.0h-1.0zM528,291h1.0v1.0h-1.0zM557,177h1.0v1.0h-1.0zM413,280h1.0v1.0h-1.0zM515,144h1.0v1.0h-1.0zM576,134h1.0v1.0h-1.0zM447,287h1.0v1.0h-1.0zM507,101h1.0v1.0h-1.0zM510,119h1.0v1.0h-1.0zM488,61h1.0v1.0h-1.0zM573,118h1.0v1.0h-1.0zM458,164h1.0v1.0h-1.0zM508,101h1.0v1.0h-1.0zM509,134h1.0v1.0h-1.0zM421,169h1.0v1.0h-1.0zM519,201h1.0v1.0h-1.0zM554,158h1.0v1.0h-1.0zM543,77h1.0v1.0h-1.0zM464,279h1.0v1.0h-1.0zM419,74h1.0v1.0h-1.0zM498,115h1.0v1.0h-1.0zM579,176h1.0v1.0h-1.0zM441,180h1.0v1.0h-1.0zM431,113h1.0v1.0h-1.0zM513,202h1.0v1.0h-1.0zM526,127h1.0v1.0h-1.0zM512,98h1.0v1.0h-1.0zM586,125h1.0v1.0h-1.0zM437,161h1.0v1.0h-1.0zM469,172h1.0v1.0h-1.0zM480,120h1.0v1.0h-1.0zM558,188h1.0v1.0h-1.0zM545,276h1.0v1.0h-1.0zM573,93h1.0v1.0h-1.0zM407,164h1.0v1.0h-1.0zM540,176h1.0v1.0h-1.0zM500,179h1.0v1.0h-1.0zM513,114h1.0v1.0h-1.0zM527,125h1.0v1.0h-1.0zM487,117h1.0v1.0h-1.0zM538,178h1.0v1.0h-1.0zM518,145h1.0v1.0h-1.0zM564,181h1.0v1.0h-1.0zM415,126h1.0v1.0h-1.0zM508,99h1.0v1.0h-1.0zM399,179h1.0v1.0h-1.0zM523,143h1.0v1.0h-1.0zM524,172h1.0v1.0h-1.0zM393,177h1.0v1.0h-1.0zM545,86h1.0v1.0h-1.0zM410,154h1.0v1.0h-1.0zM537,164h1.0v1.0h-1.0zM529,146h1.0v1.0h-1.0zM454,288h1.0v1.0h-1.0zM505,224h1.0v1.0h-1.0zM565,127h1.0v1.0h-1.0zM501,104h1.0v1.0h-1.0zM487,113h1.0v1.0h-1.0zM495,189h1.0v1.0h-1.0zM400,118h1.0v1.0h-1.0zM492,143h1.0v1.0h-1.0zM430,278h1.0v1.0h-1.0zM513,92h1.0v1.0h-1.0zM557,93h1.0v1.0h-1.0zM509,137h1.0v1.0h-1.0zM453,143h1.0v1.0h-1.0zM412,183h1.0v1.0h-1.0zM440,176h1.0v1.0h-1.0zM466,114h1.0v1.0h-1.0zM496,192h1.0v1.0h-1.0zM418,185h1.0v1.0h-1.0zM430,135h1.0v1.0h-1.0zM501,68h1.0v1.0h-1.0zM535,252h1.0v1.0h-1.0zM391,184h1.0v1.0h-1.0zM394,152h1.0v1.0h-1.0zM496,166h1.0v1.0h-1.0zM441,175h1.0v1.0h-1.0zM516,145h1.0v1.0h-1.0zM417,152h1.0v1.0h-1.0zM417,105h1.0v1.0h-1.0zM387,178h1.0v1.0h-1.0zM551,165h1.0v1.0h-1.0zM487,109h1.0v1.0h-1.0zM596,127h1.0v1.0h-1.0zM411,187h1.0v1.0h-1.0zM515,74h1.0v1.0h-1.0zM528,93h1.0v1.0h-1.0zM526,282h1.0v1.0h-1.0zM518,158h1.0v1.0h-1.0zM429,114h1.0v1.0h-1.0zM446,288h1.0v1.0h-1.0zM570,119h1.0v1.0h-1.0zM525,166h1.0v1.0h-1.0zM547,199h1.0v1.0h-1.0zM528,170h1.0v1.0h-1.0zM521,261h1.0v1.0h-1.0zM549,181h1.0v1.0h-1.0zM569,143h1.0v1.0h-1.0zM460,171h1.0v1.0h-1.0zM527,93h1.0v1.0h-1.0zM489,176h1.0v1.0h-1.0zM562,170h1.0v1.0h-1.0zM456,170h1.0v1.0h-1.0zM463,158h1.0v1.0h-1.0zM512,264h1.0v1.0h-1.0zM535,70h1.0v1.0h-1.0zM545,246h1.0v1.0h-1.0zM505,219h1.0v1.0h-1.0zM523,276h1.0v1.0h-1.0zM491,113h1.0v1.0h-1.0zM509,133h1.0v1.0h-1.0zM543,172h1.0v1.0h-1.0zM508,68h1.0v1.0h-1.0zM567,137h1.0v1.0h-1.0zM507,204h1.0v1.0h-1.0zM428,162h1.0v1.0h-1.0zM535,95h1.0v1.0h-1.0zM388,285h1.0v1.0h-1.0zM507,269h1.0v1.0h-1.0zM498,179h1.0v1.0h-1.0zM528,161h1.0v1.0h-1.0zM521,257h1.0v1.0h-1.0zM564,161h1.0v1.0h-1.0zM561,161h1.0v1.0h-1.0zM431,182h1.0v1.0h-1.0zM421,167h1.0v1.0h-1.0zM461,173h1.0v1.0h-1.0zM514,237h1.0v1.0h-1.0zM437,180h1.0v1.0h-1.0zM459,174h1.0v1.0h-1.0zM550,171h1.0v1.0h-1.0zM402,73h1.0v1.0h-1.0zM533,265h1.0v1.0h-1.0zM441,168h1.0v1.0h-1.0zM502,202h1.0v1.0h-1.0zM564,97h1.0v1.0h-1.0zM423,178h1.0v1.0h-1.0zM390,173h1.0v1.0h-1.0zM436,56h1.0v1.0h-1.0zM569,106h1.0v1.0h-1.0zM509,200h1.0v1.0h-1.0zM492,166h1.0v1.0h-1.0zM558,166h1.0v1.0h-1.0zM493,192h1.0v1.0h-1.0zM553,172h1.0v1.0h-1.0zM391,102h1.0v1.0h-1.0zM460,155h1.0v1.0h-1.0zM482,278h1.0v1.0h-1.0zM458,174h1.0v1.0h-1.0zM577,160h1.0v1.0h-1.0zM420,175h1.0v1.0h-1.0zM493,177h1.0v1.0h-1.0zM432,55h1.0v1.0h-1.0zM533,169h1.0v1.0h-1.0zM443,279h1.0v1.0h-1.0zM386,135h1.0v1.0h-1.0zM453,62h1.0v1.0h-1.0zM574,140h1.0v1.0h-1.0zM514,110h1.0v1.0h-1.0zM522,273h1.0v1.0h-1.0zM446,118h1.0v1.0h-1.0zM501,193h1.0v1.0h-1.0zM526,137h1.0v1.0h-1.0zM509,240h1.0v1.0h-1.0zM521,191h1.0v1.0h-1.0zM511,143h1.0v1.0h-1.0zM436,176h1.0v1.0h-1.0zM504,210h1.0v1.0h-1.0zM545,168h1.0v1.0h-1.0zM485,109h1.0v1.0h-1.0zM453,168h1.0v1.0h-1.0zM505,236h1.0v1.0h-1.0zM497,183h1.0v1.0h-1.0zM399,76h1.0v1.0h-1.0zM530,91h1.0v1.0h-1.0zM464,112h1.0v1.0h-1.0zM395,188h1.0v1.0h-1.0zM463,70h1.0v1.0h-1.0zM521,126h1.0v1.0h-1.0zM465,123h1.0v1.0h-1.0zM571,121h1.0v1.0h-1.0zM501,186h1.0v1.0h-1.0zM505,203h1.0v1.0h-1.0zM533,91h1.0v1.0h-1.0zM525,123h1.0v1.0h-1.0zM527,147h1.0v1.0h-1.0zM392,112h1.0v1.0h-1.0zM530,101h1.0v1.0h-1.0zM475,137h1.0v1.0h-1.0zM418,143h1.0v1.0h-1.0zM477,139h1.0v1.0h-1.0zM521,96h1.0v1.0h-1.0zM444,113h1.0v1.0h-1.0zM431,149h1.0v1.0h-1.0zM423,71h1.0v1.0h-1.0zM590,126h1.0v1.0h-1.0zM510,113h1.0v1.0h-1.0zM505,102h1.0v1.0h-1.0zM505,99h1.0v1.0h-1.0zM426,173h1.0v1.0h-1.0zM404,137h1.0v1.0h-1.0zM551,78h1.0v1.0h-1.0zM569,111h1.0v1.0h-1.0zM537,80h1.0v1.0h-1.0zM525,193h1.0v1.0h-1.0zM521,117h1.0v1.0h-1.0zM506,216h1.0v1.0h-1.0zM570,150h1.0v1.0h-1.0zM523,123h1.0v1.0h-1.0zM423,183h1.0v1.0h-1.0zM451,170h1.0v1.0h-1.0zM511,247h1.0v1.0h-1.0zM546,188h1.0v1.0h-1.0zM514,223h1.0v1.0h-1.0zM437,283h1.0v1.0h-1.0zM438,173h1.0v1.0h-1.0zM496,121h1.0v1.0h-1.0zM585,112h1.0v1.0h-1.0zM501,278h1.0v1.0h-1.0zM477,61h1.0v1.0h-1.0zM518,252h1.0v1.0h-1.0zM579,111h1.0v1.0h-1.0zM467,70h1.0v1.0h-1.0zM493,116h1.0v1.0h-1.0zM455,176h1.0v1.0h-1.0zM446,172h1.0v1.0h-1.0zM398,177h1.0v1.0h-1.0zM467,161h1.0v1.0h-1.0zM522,95h1.0v1.0h-1.0zM551,171h1.0v1.0h-1.0zM426,159h1.0v1.0h-1.0zM528,129h1.0v1.0h-1.0zM584,179h1.0v1.0h-1.0zM560,163h1.0v1.0h-1.0zM569,141h1.0v1.0h-1.0zM490,111h1.0v1.0h-1.0zM505,143h1.0v1.0h-1.0zM455,63h1.0v1.0h-1.0zM552,84h1.0v1.0h-1.0zM512,193h1.0v1.0h-1.0zM427,107h1.0v1.0h-1.0zM415,280h1.0v1.0h-1.0zM398,61h1.0v1.0h-1.0zM431,109h1.0v1.0h-1.0zM551,80h1.0v1.0h-1.0zM492,276h1.0v1.0h-1.0zM391,190h1.0v1.0h-1.0zM523,115h1.0v1.0h-1.0zM505,137h1.0v1.0h-1.0zM535,176h1.0v1.0h-1.0zM554,160h1.0v1.0h-1.0zM481,65h1.0v1.0h-1.0zM448,69h1.0v1.0h-1.0zM500,116h1.0v1.0h-1.0zM461,119h1.0v1.0h-1.0zM531,91h1.0v1.0h-1.0zM481,280h1.0v1.0h-1.0zM451,169h1.0v1.0h-1.0zM442,179h1.0v1.0h-1.0zM530,210h1.0v1.0h-1.0zM506,217h1.0v1.0h-1.0zM497,279h1.0v1.0h-1.0zM509,258h1.0v1.0h-1.0zM428,279h1.0v1.0h-1.0zM501,192h1.0v1.0h-1.0zM534,160h1.0v1.0h-1.0zM471,153h1.0v1.0h-1.0zM501,205h1.0v1.0h-1.0zM570,155h1.0v1.0h-1.0zM528,172h1.0v1.0h-1.0zM518,254h1.0v1.0h-1.0zM513,100h1.0v1.0h-1.0zM411,183h1.0v1.0h-1.0zM494,136h1.0v1.0h-1.0zM521,245h1.0v1.0h-1.0zM567,114h1.0v1.0h-1.0zM507,262h1.0v1.0h-1.0zM503,223h1.0v1.0h-1.0zM507,253h1.0v1.0h-1.0zM526,113h1.0v1.0h-1.0zM532,279h1.0v1.0h-1.0zM509,136h1.0v1.0h-1.0zM512,91h1.0v1.0h-1.0zM526,150h1.0v1.0h-1.0zM564,120h1.0v1.0h-1.0zM562,163h1.0v1.0h-1.0zM490,295h1.0v1.0h-1.0zM535,265h1.0v1.0h-1.0zM568,184h1.0v1.0h-1.0zM510,230h1.0v1.0h-1.0zM508,120h1.0v1.0h-1.0zM522,112h1.0v1.0h-1.0zM506,229h1.0v1.0h-1.0zM499,69h1.0v1.0h-1.0zM456,172h1.0v1.0h-1.0zM438,67h1.0v1.0h-1.0zM516,277h1.0v1.0h-1.0zM514,88h1.0v1.0h-1.0zM463,112h1.0v1.0h-1.0zM567,128h1.0v1.0h-1.0zM514,227h1.0v1.0h-1.0zM508,219h1.0v1.0h-1.0zM562,94h1.0v1.0h-1.0zM523,137h1.0v1.0h-1.0zM558,179h1.0v1.0h-1.0zM516,144h1.0v1.0h-1.0zM495,287h1.0v1.0h-1.0zM403,290h1.0v1.0h-1.0zM546,169h1.0v1.0h-1.0zM421,112h1.0v1.0h-1.0zM395,114h1.0v1.0h-1.0zM406,75h1.0v1.0h-1.0zM540,240h1.0v1.0h-1.0zM405,99h1.0v1.0h-1.0zM506,244h1.0v1.0h-1.0zM532,163h1.0v1.0h-1.0zM475,153h1.0v1.0h-1.0zM486,282h1.0v1.0h-1.0zM415,183h1.0v1.0h-1.0zM468,172h1.0v1.0h-1.0zM562,166h1.0v1.0h-1.0zM513,134h1.0v1.0h-1.0zM580,132h1.0v1.0h-1.0zM441,179h1.0v1.0h-1.0zM518,261h1.0v1.0h-1.0zM525,149h1.0v1.0h-1.0zM521,111h1.0v1.0h-1.0zM414,166h1.0v1.0h-1.0zM547,70h1.0v1.0h-1.0zM529,101h1.0v1.0h-1.0zM509,118h1.0v1.0h-1.0zM566,120h1.0v1.0h-1.0zM413,135h1.0v1.0h-1.0zM468,128h1.0v1.0h-1.0zM527,251h1.0v1.0h-1.0zM519,181h1.0v1.0h-1.0zM466,121h1.0v1.0h-1.0zM518,167h1.0v1.0h-1.0zM500,211h1.0v1.0h-1.0zM434,109h1.0v1.0h-1.0zM517,117h1.0v1.0h-1.0zM463,174h1.0v1.0h-1.0zM531,154h1.0v1.0h-1.0zM434,69h1.0v1.0h-1.0zM505,266h1.0v1.0h-1.0zM556,92h1.0v1.0h-1.0zM532,87h1.0v1.0h-1.0zM584,102h1.0v1.0h-1.0zM499,107h1.0v1.0h-1.0zM490,279h1.0v1.0h-1.0zM565,148h1.0v1.0h-1.0zM559,159h1.0v1.0h-1.0zM553,182h1.0v1.0h-1.0zM427,109h1.0v1.0h-1.0zM418,64h1.0v1.0h-1.0zM501,134h1.0v1.0h-1.0zM515,228h1.0v1.0h-1.0zM436,72h1.0v1.0h-1.0zM515,260h1.0v1.0h-1.0zM393,103h1.0v1.0h-1.0zM565,126h1.0v1.0h-1.0zM391,164h1.0v1.0h-1.0zM494,181h1.0v1.0h-1.0zM528,256h1.0v1.0h-1.0zM434,59h1.0v1.0h-1.0zM569,178h1.0v1.0h-1.0zM508,98h1.0v1.0h-1.0zM515,275h1.0v1.0h-1.0zM518,283h1.0v1.0h-1.0zM506,72h1.0v1.0h-1.0zM499,223h1.0v1.0h-1.0zM503,122h1.0v1.0h-1.0zM397,116h1.0v1.0h-1.0zM438,130h1.0v1.0h-1.0zM523,252h1.0v1.0h-1.0zM567,159h1.0v1.0h-1.0zM455,53h1.0v1.0h-1.0zM426,289h1.0v1.0h-1.0zM526,76h1.0v1.0h-1.0zM454,130h1.0v1.0h-1.0zM424,112h1.0v1.0h-1.0zM567,118h1.0v1.0h-1.0zM482,159h1.0v1.0h-1.0zM523,155h1.0v1.0h-1.0zM405,131h1.0v1.0h-1.0zM580,93h1.0v1.0h-1.0zM508,251h1.0v1.0h-1.0zM430,105h1.0v1.0h-1.0zM502,222h1.0v1.0h-1.0zM446,69h1.0v1.0h-1.0zM401,119h1.0v1.0h-1.0zM493,139h1.0v1.0h-1.0zM464,70h1.0v1.0h-1.0zM506,110h1.0v1.0h-1.0zM409,144h1.0v1.0h-1.0zM516,82h1.0v1.0h-1.0zM531,97h1.0v1.0h-1.0zM448,285h1.0v1.0h-1.0zM504,272h1.0v1.0h-1.0zM504,111h1.0v1.0h-1.0zM435,73h1.0v1.0h-1.0zM538,92h1.0v1.0h-1.0zM438,172h1.0v1.0h-1.0zM546,190h1.0v1.0h-1.0zM525,218h1.0v1.0h-1.0zM485,169h1.0v1.0h-1.0zM511,96h1.0v1.0h-1.0zM471,116h1.0v1.0h-1.0zM499,161h1.0v1.0h-1.0zM507,241h1.0v1.0h-1.0zM529,231h1.0v1.0h-1.0zM449,173h1.0v1.0h-1.0zM409,98h1.0v1.0h-1.0zM495,143h1.0v1.0h-1.0zM502,278h1.0v1.0h-1.0zM542,172h1.0v1.0h-1.0zM516,242h1.0v1.0h-1.0zM396,150h1.0v1.0h-1.0zM542,87h1.0v1.0h-1.0zM515,204h1.0v1.0h-1.0zM497,204h1.0v1.0h-1.0zM506,70h1.0v1.0h-1.0zM524,131h1.0v1.0h-1.0zM561,165h1.0v1.0h-1.0zM572,120h1.0v1.0h-1.0zM494,112h1.0v1.0h-1.0zM431,147h1.0v1.0h-1.0zM408,185h1.0v1.0h-1.0zM505,186h1.0v1.0h-1.0zM465,171h1.0v1.0h-1.0zM425,107h1.0v1.0h-1.0zM389,189h1.0v1.0h-1.0zM568,122h1.0v1.0h-1.0zM470,290h1.0v1.0h-1.0zM424,174h1.0v1.0h-1.0zM517,269h1.0v1.0h-1.0zM421,178h1.0v1.0h-1.0zM522,157h1.0v1.0h-1.0zM524,226h1.0v1.0h-1.0zM526,73h1.0v1.0h-1.0zM487,292h1.0v1.0h-1.0zM493,283h1.0v1.0h-1.0zM432,177h1.0v1.0h-1.0zM434,118h1.0v1.0h-1.0zM397,78h1.0v1.0h-1.0zM527,121h1.0v1.0h-1.0zM512,196h1.0v1.0h-1.0zM548,177h1.0v1.0h-1.0zM546,183h1.0v1.0h-1.0zM447,178h1.0v1.0h-1.0zM405,78h1.0v1.0h-1.0zM431,175h1.0v1.0h-1.0zM555,157h1.0v1.0h-1.0zM471,121h1.0v1.0h-1.0zM455,113h1.0v1.0h-1.0zM462,119h1.0v1.0h-1.0zM494,175h1.0v1.0h-1.0zM456,129h1.0v1.0h-1.0zM414,283h1.0v1.0h-1.0zM542,80h1.0v1.0h-1.0zM507,238h1.0v1.0h-1.0zM522,237h1.0v1.0h-1.0zM522,175h1.0v1.0h-1.0zM515,216h1.0v1.0h-1.0zM509,104h1.0v1.0h-1.0zM557,164h1.0v1.0h-1.0zM545,182h1.0v1.0h-1.0zM494,109h1.0v1.0h-1.0zM482,112h1.0v1.0h-1.0zM473,157h1.0v1.0h-1.0zM401,73h1.0v1.0h-1.0zM488,137h1.0v1.0h-1.0zM516,95h1.0v1.0h-1.0zM396,172h1.0v1.0h-1.0zM565,93h1.0v1.0h-1.0zM491,141h1.0v1.0h-1.0zM492,154h1.0v1.0h-1.0zM526,134h1.0v1.0h-1.0zM517,77h1.0v1.0h-1.0zM579,150h1.0v1.0h-1.0zM571,143h1.0v1.0h-1.0zM387,157h1.0v1.0h-1.0zM393,98h1.0v1.0h-1.0zM481,132h1.0v1.0h-1.0zM482,285h1.0v1.0h-1.0zM484,167h1.0v1.0h-1.0zM450,164h1.0v1.0h-1.0zM554,77h1.0v1.0h-1.0zM525,206h1.0v1.0h-1.0zM518,76h1.0v1.0h-1.0zM420,171h1.0v1.0h-1.0zM543,183h1.0v1.0h-1.0zM451,159h1.0v1.0h-1.0zM548,86h1.0v1.0h-1.0zM510,262h1.0v1.0h-1.0zM518,94h1.0v1.0h-1.0zM538,177h1.0v1.0h-1.0zM507,154h1.0v1.0h-1.0zM480,128h1.0v1.0h-1.0zM567,120h1.0v1.0h-1.0zM499,117h1.0v1.0h-1.0zM562,100h1.0v1.0h-1.0zM522,152h1.0v1.0h-1.0zM520,243h1.0v1.0h-1.0zM536,89h1.0v1.0h-1.0zM391,168h1.0v1.0h-1.0zM467,114h1.0v1.0h-1.0zM430,155h1.0v1.0h-1.0zM531,205h1.0v1.0h-1.0zM506,154h1.0v1.0h-1.0zM564,94h1.0v1.0h-1.0zM495,198h1.0v1.0h-1.0zM492,110h1.0v1.0h-1.0zM403,100h1.0v1.0h-1.0zM442,175h1.0v1.0h-1.0zM514,114h1.0v1.0h-1.0zM468,165h1.0v1.0h-1.0zM400,283h1.0v1.0h-1.0zM394,163h1.0v1.0h-1.0zM405,76h1.0v1.0h-1.0zM604,115h1.0v1.0h-1.0zM569,127h1.0v1.0h-1.0zM497,206h1.0v1.0h-1.0zM481,164h1.0v1.0h-1.0zM549,80h1.0v1.0h-1.0zM495,200h1.0v1.0h-1.0zM423,104h1.0v1.0h-1.0zM448,150h1.0v1.0h-1.0zM467,278h1.0v1.0h-1.0zM431,176h1.0v1.0h-1.0zM578,125h1.0v1.0h-1.0zM463,69h1.0v1.0h-1.0zM511,278h1.0v1.0h-1.0zM516,225h1.0v1.0h-1.0zM543,84h1.0v1.0h-1.0zM510,107h1.0v1.0h-1.0zM508,282h1.0v1.0h-1.0zM457,173h1.0v1.0h-1.0zM547,164h1.0v1.0h-1.0zM385,103h1.0v1.0h-1.0zM528,86h1.0v1.0h-1.0zM492,199h1.0v1.0h-1.0zM419,118h1.0v1.0h-1.0zM478,171h1.0v1.0h-1.0zM430,73h1.0v1.0h-1.0zM565,122h1.0v1.0h-1.0zM462,294h1.0v1.0h-1.0zM579,122h1.0v1.0h-1.0zM429,177h1.0v1.0h-1.0zM535,96h1.0v1.0h-1.0zM563,82h1.0v1.0h-1.0zM434,181h1.0v1.0h-1.0zM573,140h1.0v1.0h-1.0zM509,283h1.0v1.0h-1.0zM525,262h1.0v1.0h-1.0zM539,91h1.0v1.0h-1.0zM493,288h1.0v1.0h-1.0zM426,74h1.0v1.0h-1.0zM549,164h1.0v1.0h-1.0zM462,65h1.0v1.0h-1.0zM538,167h1.0v1.0h-1.0zM470,113h1.0v1.0h-1.0zM528,95h1.0v1.0h-1.0zM441,159h1.0v1.0h-1.0zM499,122h1.0v1.0h-1.0zM499,208h1.0v1.0h-1.0zM565,182h1.0v1.0h-1.0zM506,246h1.0v1.0h-1.0zM544,67h1.0v1.0h-1.0zM520,189h1.0v1.0h-1.0zM482,125h1.0v1.0h-1.0zM513,258h1.0v1.0h-1.0zM489,52h1.0v1.0h-1.0zM565,104h1.0v1.0h-1.0zM567,132h1.0v1.0h-1.0zM532,173h1.0v1.0h-1.0zM564,119h1.0v1.0h-1.0zM557,157h1.0v1.0h-1.0zM505,158h1.0v1.0h-1.0zM549,180h1.0v1.0h-1.0zM520,104h1.0v1.0h-1.0zM509,257h1.0v1.0h-1.0zM513,93h1.0v1.0h-1.0zM406,286h1.0v1.0h-1.0zM403,99h1.0v1.0h-1.0zM502,124h1.0v1.0h-1.0zM393,74h1.0v1.0h-1.0zM547,168h1.0v1.0h-1.0zM430,71h1.0v1.0h-1.0zM423,181h1.0v1.0h-1.0zM382,284h1.0v1.0h-1.0zM544,172h1.0v1.0h-1.0zM494,196h1.0v1.0h-1.0zM512,201h1.0v1.0h-1.0zM560,176h1.0v1.0h-1.0zM527,120h1.0v1.0h-1.0zM551,250h1.0v1.0h-1.0zM472,163h1.0v1.0h-1.0zM410,173h1.0v1.0h-1.0zM564,106h1.0v1.0h-1.0zM505,267h1.0v1.0h-1.0zM470,118h1.0v1.0h-1.0zM560,187h1.0v1.0h-1.0zM551,83h1.0v1.0h-1.0zM494,166h1.0v1.0h-1.0zM508,199h1.0v1.0h-1.0zM491,179h1.0v1.0h-1.0zM497,213h1.0v1.0h-1.0zM523,88h1.0v1.0h-1.0zM516,184h1.0v1.0h-1.0zM491,66h1.0v1.0h-1.0zM474,115h1.0v1.0h-1.0zM391,115h1.0v1.0h-1.0zM529,68h1.0v1.0h-1.0zM546,173h1.0v1.0h-1.0zM405,161h1.0v1.0h-1.0zM520,81h1.0v1.0h-1.0zM513,274h1.0v1.0h-1.0zM437,178h1.0v1.0h-1.0zM435,173h1.0v1.0h-1.0zM405,106h1.0v1.0h-1.0zM581,121h1.0v1.0h-1.0zM413,104h1.0v1.0h-1.0zM524,98h1.0v1.0h-1.0zM532,171h1.0v1.0h-1.0zM426,70h1.0v1.0h-1.0zM543,168h1.0v1.0h-1.0zM529,98h1.0v1.0h-1.0zM499,209h1.0v1.0h-1.0zM517,229h1.0v1.0h-1.0zM422,180h1.0v1.0h-1.0zM435,181h1.0v1.0h-1.0zM544,183h1.0v1.0h-1.0zM560,152h1.0v1.0h-1.0zM452,176h1.0v1.0h-1.0zM467,113h1.0v1.0h-1.0zM518,213h1.0v1.0h-1.0zM493,188h1.0v1.0h-1.0zM421,181h1.0v1.0h-1.0zM512,120h1.0v1.0h-1.0zM512,108h1.0v1.0h-1.0zM520,264h1.0v1.0h-1.0zM547,170h1.0v1.0h-1.0zM560,169h1.0v1.0h-1.0zM554,87h1.0v1.0h-1.0zM511,238h1.0v1.0h-1.0zM507,249h1.0v1.0h-1.0zM395,127h1.0v1.0h-1.0zM502,105h1.0v1.0h-1.0zM459,157h1.0v1.0h-1.0zM501,129h1.0v1.0h-1.0zM567,131h1.0v1.0h-1.0zM505,237h1.0v1.0h-1.0zM502,221h1.0v1.0h-1.0zM461,171h1.0v1.0h-1.0zM588,97h1.0v1.0h-1.0zM520,230h1.0v1.0h-1.0zM488,278h1.0v1.0h-1.0zM502,106h1.0v1.0h-1.0zM399,72h1.0v1.0h-1.0zM395,123h1.0v1.0h-1.0zM509,124h1.0v1.0h-1.0zM521,133h1.0v1.0h-1.0zM472,171h1.0v1.0h-1.0zM544,167h1.0v1.0h-1.0zM443,290h1.0v1.0h-1.0zM480,159h1.0v1.0h-1.0zM581,87h1.0v1.0h-1.0zM406,77h1.0v1.0h-1.0zM537,79h1.0v1.0h-1.0zM496,212h1.0v1.0h-1.0zM497,276h1.0v1.0h-1.0zM576,154h1.0v1.0h-1.0zM429,151h1.0v1.0h-1.0zM436,118h1.0v1.0h-1.0zM466,164h1.0v1.0h-1.0zM411,178h1.0v1.0h-1.0zM490,122h1.0v1.0h-1.0zM502,112h1.0v1.0h-1.0zM571,164h1.0v1.0h-1.0zM436,53h1.0v1.0h-1.0zM516,119h1.0v1.0h-1.0zM456,148h1.0v1.0h-1.0zM528,88h1.0v1.0h-1.0zM567,109h1.0v1.0h-1.0zM522,125h1.0v1.0h-1.0zM431,67h1.0v1.0h-1.0zM547,165h1.0v1.0h-1.0zM408,173h1.0v1.0h-1.0zM515,247h1.0v1.0h-1.0zM518,148h1.0v1.0h-1.0zM515,212h1.0v1.0h-1.0zM569,162h1.0v1.0h-1.0zM451,117h1.0v1.0h-1.0zM545,264h1.0v1.0h-1.0zM566,124h1.0v1.0h-1.0zM568,144h1.0v1.0h-1.0zM463,137h1.0v1.0h-1.0zM436,179h1.0v1.0h-1.0zM469,156h1.0v1.0h-1.0zM538,189h1.0v1.0h-1.0zM441,114h1.0v1.0h-1.0zM500,288h1.0v1.0h-1.0zM570,113h1.0v1.0h-1.0zM410,100h1.0v1.0h-1.0zM520,133h1.0v1.0h-1.0zM446,151h1.0v1.0h-1.0zM501,118h1.0v1.0h-1.0zM529,224h1.0v1.0h-1.0zM511,263h1.0v1.0h-1.0zM481,143h1.0v1.0h-1.0zM569,148h1.0v1.0h-1.0zM532,296h1.0v1.0h-1.0zM534,182h1.0v1.0h-1.0zM567,130h1.0v1.0h-1.0zM511,233h1.0v1.0h-1.0zM584,126h1.0v1.0h-1.0zM399,99h1.0v1.0h-1.0zM552,159h1.0v1.0h-1.0zM496,201h1.0v1.0h-1.0zM507,245h1.0v1.0h-1.0zM575,135h1.0v1.0h-1.0zM508,272h1.0v1.0h-1.0zM483,161h1.0v1.0h-1.0zM513,263h1.0v1.0h-1.0zM562,78h1.0v1.0h-1.0zM524,171h1.0v1.0h-1.0zM434,172h1.0v1.0h-1.0zM508,244h1.0v1.0h-1.0zM507,161h1.0v1.0h-1.0zM502,271h1.0v1.0h-1.0zM513,261h1.0v1.0h-1.0zM506,122h1.0v1.0h-1.0zM503,105h1.0v1.0h-1.0zM397,105h1.0v1.0h-1.0zM526,111h1.0v1.0h-1.0zM408,76h1.0v1.0h-1.0zM453,175h1.0v1.0h-1.0zM490,164h1.0v1.0h-1.0zM544,81h1.0v1.0h-1.0zM475,111h1.0v1.0h-1.0zM533,164h1.0v1.0h-1.0zM520,127h1.0v1.0h-1.0zM533,161h1.0v1.0h-1.0zM534,84h1.0v1.0h-1.0zM546,168h1.0v1.0h-1.0zM517,105h1.0v1.0h-1.0zM558,153h1.0v1.0h-1.0zM498,158h1.0v1.0h-1.0zM541,86h1.0v1.0h-1.0zM416,185h1.0v1.0h-1.0zM540,170h1.0v1.0h-1.0zM538,168h1.0v1.0h-1.0zM466,113h1.0v1.0h-1.0zM508,100h1.0v1.0h-1.0zM574,117h1.0v1.0h-1.0zM394,80h1.0v1.0h-1.0zM519,123h1.0v1.0h-1.0zM517,265h1.0v1.0h-1.0zM495,53h1.0v1.0h-1.0zM565,111h1.0v1.0h-1.0zM391,294h1.0v1.0h-1.0zM498,220h1.0v1.0h-1.0zM519,246h1.0v1.0h-1.0zM489,108h1.0v1.0h-1.0zM446,179h1.0v1.0h-1.0zM427,179h1.0v1.0h-1.0zM405,109h1.0v1.0h-1.0zM523,232h1.0v1.0h-1.0zM471,115h1.0v1.0h-1.0zM505,127h1.0v1.0h-1.0zM533,267h1.0v1.0h-1.0zM495,283h1.0v1.0h-1.0zM462,172h1.0v1.0h-1.0zM568,128h1.0v1.0h-1.0zM425,177h1.0v1.0h-1.0zM495,191h1.0v1.0h-1.0zM457,169h1.0v1.0h-1.0zM574,113h1.0v1.0h-1.0zM460,119h1.0v1.0h-1.0zM446,139h1.0v1.0h-1.0zM560,66h1.0v1.0h-1.0zM444,69h1.0v1.0h-1.0zM555,75h1.0v1.0h-1.0zM444,171h1.0v1.0h-1.0zM497,135h1.0v1.0h-1.0zM549,182h1.0v1.0h-1.0zM522,162h1.0v1.0h-1.0zM499,68h1.0v1.0h-1.0zM577,120h1.0v1.0h-1.0zM444,122h1.0v1.0h-1.0zM400,280h1.0v1.0h-1.0zM487,66h1.0v1.0h-1.0zM490,170h1.0v1.0h-1.0zM549,71h1.0v1.0h-1.0zM522,219h1.0v1.0h-1.0zM515,268h1.0v1.0h-1.0zM521,219h1.0v1.0h-1.0zM517,115h1.0v1.0h-1.0zM511,240h1.0v1.0h-1.0zM528,125h1.0v1.0h-1.0zM520,82h1.0v1.0h-1.0zM500,204h1.0v1.0h-1.0zM474,152h1.0v1.0h-1.0zM387,149h1.0v1.0h-1.0zM492,289h1.0v1.0h-1.0zM579,104h1.0v1.0h-1.0zM549,186h1.0v1.0h-1.0zM569,144h1.0v1.0h-1.0zM531,99h1.0v1.0h-1.0zM440,171h1.0v1.0h-1.0zM420,108h1.0v1.0h-1.0zM444,109h1.0v1.0h-1.0zM501,161h1.0v1.0h-1.0zM472,120h1.0v1.0h-1.0zM428,114h1.0v1.0h-1.0zM528,148h1.0v1.0h-1.0zM498,210h1.0v1.0h-1.0zM518,295h1.0v1.0h-1.0zM568,89h1.0v1.0h-1.0zM561,86h1.0v1.0h-1.0zM466,116h1.0v1.0h-1.0zM522,107h1.0v1.0h-1.0zM506,148h1.0v1.0h-1.0zM402,140h1.0v1.0h-1.0zM505,135h1.0v1.0h-1.0zM541,243h1.0v1.0h-1.0zM396,73h1.0v1.0h-1.0zM587,100h1.0v1.0h-1.0zM545,178h1.0v1.0h-1.0zM565,103h1.0v1.0h-1.0zM521,74h1.0v1.0h-1.0zM458,163h1.0v1.0h-1.0zM486,154h1.0v1.0h-1.0zM470,160h1.0v1.0h-1.0zM465,138h1.0v1.0h-1.0zM419,153h1.0v1.0h-1.0zM430,111h1.0v1.0h-1.0zM400,98h1.0v1.0h-1.0zM522,172h1.0v1.0h-1.0zM393,100h1.0v1.0h-1.0zM496,179h1.0v1.0h-1.0zM474,137h1.0v1.0h-1.0zM529,103h1.0v1.0h-1.0zM510,98h1.0v1.0h-1.0zM570,84h1.0v1.0h-1.0zM494,131h1.0v1.0h-1.0zM504,216h1.0v1.0h-1.0zM543,167h1.0v1.0h-1.0zM414,147h1.0v1.0h-1.0zM561,155h1.0v1.0h-1.0zM567,117h1.0v1.0h-1.0zM564,158h1.0v1.0h-1.0zM532,97h1.0v1.0h-1.0zM533,181h1.0v1.0h-1.0zM419,137h1.0v1.0h-1.0zM551,183h1.0v1.0h-1.0zM508,114h1.0v1.0h-1.0zM493,189h1.0v1.0h-1.0zM554,180h1.0v1.0h-1.0zM581,110h1.0v1.0h-1.0zM501,272h1.0v1.0h-1.0zM423,105h1.0v1.0h-1.0zM397,81h1.0v1.0h-1.0zM499,207h1.0v1.0h-1.0zM410,99h1.0v1.0h-1.0zM567,170h1.0v1.0h-1.0zM436,166h1.0v1.0h-1.0zM478,129h1.0v1.0h-1.0zM447,281h1.0v1.0h-1.0zM446,176h1.0v1.0h-1.0zM512,123h1.0v1.0h-1.0zM512,235h1.0v1.0h-1.0zM523,129h1.0v1.0h-1.0zM538,79h1.0v1.0h-1.0zM504,105h1.0v1.0h-1.0zM580,87h1.0v1.0h-1.0zM560,151h1.0v1.0h-1.0zM493,207h1.0v1.0h-1.0zM554,189h1.0v1.0h-1.0zM508,116h1.0v1.0h-1.0zM534,221h1.0v1.0h-1.0zM504,112h1.0v1.0h-1.0zM513,201h1.0v1.0h-1.0zM547,162h1.0v1.0h-1.0zM499,180h1.0v1.0h-1.0zM518,103h1.0v1.0h-1.0zM431,123h1.0v1.0h-1.0zM566,126h1.0v1.0h-1.0zM527,119h1.0v1.0h-1.0zM424,116h1.0v1.0h-1.0zM523,93h1.0v1.0h-1.0zM440,173h1.0v1.0h-1.0zM512,166h1.0v1.0h-1.0zM494,169h1.0v1.0h-1.0zM404,168h1.0v1.0h-1.0zM521,236h1.0v1.0h-1.0zM529,105h1.0v1.0h-1.0zM417,112h1.0v1.0h-1.0zM443,136h1.0v1.0h-1.0zM470,67h1.0v1.0h-1.0zM504,217h1.0v1.0h-1.0zM467,163h1.0v1.0h-1.0zM449,69h1.0v1.0h-1.0zM508,206h1.0v1.0h-1.0zM465,120h1.0v1.0h-1.0zM381,288h1.0v1.0h-1.0zM535,211h1.0v1.0h-1.0zM565,154h1.0v1.0h-1.0zM558,90h1.0v1.0h-1.0zM519,132h1.0v1.0h-1.0zM565,130h1.0v1.0h-1.0zM503,189h1.0v1.0h-1.0zM423,154h1.0v1.0h-1.0zM547,173h1.0v1.0h-1.0zM471,161h1.0v1.0h-1.0zM524,179h1.0v1.0h-1.0zM504,269h1.0v1.0h-1.0zM559,87h1.0v1.0h-1.0zM397,173h1.0v1.0h-1.0zM543,165h1.0v1.0h-1.0zM573,135h1.0v1.0h-1.0zM419,289h1.0v1.0h-1.0zM544,169h1.0v1.0h-1.0zM517,220h1.0v1.0h-1.0zM528,108h1.0v1.0h-1.0zM460,150h1.0v1.0h-1.0zM553,178h1.0v1.0h-1.0zM514,85h1.0v1.0h-1.0zM394,98h1.0v1.0h-1.0zM570,134h1.0v1.0h-1.0zM510,241h1.0v1.0h-1.0zM591,92h1.0v1.0h-1.0zM427,174h1.0v1.0h-1.0zM457,171h1.0v1.0h-1.0zM517,93h1.0v1.0h-1.0zM394,285h1.0v1.0h-1.0zM481,112h1.0v1.0h-1.0zM431,164h1.0v1.0h-1.0zM566,58h1.0v1.0h-1.0zM570,117h1.0v1.0h-1.0zM422,167h1.0v1.0h-1.0zM512,128h1.0v1.0h-1.0zM503,224h1.0v1.0h-1.0zM490,162h1.0v1.0h-1.0zM566,114h1.0v1.0h-1.0zM503,200h1.0v1.0h-1.0zM578,150h1.0v1.0h-1.0zM386,174h1.0v1.0h-1.0zM564,143h1.0v1.0h-1.0zM544,179h1.0v1.0h-1.0zM389,134h1.0v1.0h-1.0zM474,138h1.0v1.0h-1.0zM435,107h1.0v1.0h-1.0zM443,112h1.0v1.0h-1.0zM448,113h1.0v1.0h-1.0zM479,111h1.0v1.0h-1.0zM506,209h1.0v1.0h-1.0zM419,167h1.0v1.0h-1.0zM438,179h1.0v1.0h-1.0zM559,176h1.0v1.0h-1.0zM492,193h1.0v1.0h-1.0zM479,119h1.0v1.0h-1.0zM596,204h1.0v1.0h-1.0zM525,62h1.0v1.0h-1.0zM563,155h1.0v1.0h-1.0zM544,62h1.0v1.0h-1.0zM524,97h1.0v1.0h-1.0zM501,130h1.0v1.0h-1.0zM524,120h1.0v1.0h-1.0zM509,248h1.0v1.0h-1.0zM409,187h1.0v1.0h-1.0zM474,121h1.0v1.0h-1.0zM472,113h1.0v1.0h-1.0zM495,205h1.0v1.0h-1.0zM409,163h1.0v1.0h-1.0zM544,173h1.0v1.0h-1.0zM414,145h1.0v1.0h-1.0zM575,117h1.0v1.0h-1.0zM517,110h1.0v1.0h-1.0zM476,172h1.0v1.0h-1.0zM514,62h1.0v1.0h-1.0zM510,231h1.0v1.0h-1.0zM514,121h1.0v1.0h-1.0zM507,256h1.0v1.0h-1.0zM562,99h1.0v1.0h-1.0zM437,142h1.0v1.0h-1.0zM444,114h1.0v1.0h-1.0zM567,149h1.0v1.0h-1.0zM567,129h1.0v1.0h-1.0zM401,279h1.0v1.0h-1.0zM412,138h1.0v1.0h-1.0zM391,137h1.0v1.0h-1.0zM507,252h1.0v1.0h-1.0zM497,108h1.0v1.0h-1.0zM496,197h1.0v1.0h-1.0zM577,137h1.0v1.0h-1.0zM417,142h1.0v1.0h-1.0zM434,120h1.0v1.0h-1.0zM400,113h1.0v1.0h-1.0zM525,144h1.0v1.0h-1.0zM580,148h1.0v1.0h-1.0zM420,147h1.0v1.0h-1.0zM418,157h1.0v1.0h-1.0zM509,227h1.0v1.0h-1.0zM551,161h1.0v1.0h-1.0zM430,70h1.0v1.0h-1.0zM415,162h1.0v1.0h-1.0zM524,126h1.0v1.0h-1.0zM510,104h1.0v1.0h-1.0zM409,145h1.0v1.0h-1.0zM490,113h1.0v1.0h-1.0zM524,142h1.0v1.0h-1.0zM495,286h1.0v1.0h-1.0zM530,154h1.0v1.0h-1.0zM567,90h1.0v1.0h-1.0zM518,80h1.0v1.0h-1.0zM525,119h1.0v1.0h-1.0zM578,127h1.0v1.0h-1.0zM526,245h1.0v1.0h-1.0zM505,215h1.0v1.0h-1.0zM537,87h1.0v1.0h-1.0zM479,168h1.0v1.0h-1.0zM470,162h1.0v1.0h-1.0zM500,109h1.0v1.0h-1.0zM492,136h1.0v1.0h-1.0zM441,178h1.0v1.0h-1.0zM384,181h1.0v1.0h-1.0zM508,112h1.0v1.0h-1.0zM541,163h1.0v1.0h-1.0zM484,283h1.0v1.0h-1.0zM521,88h1.0v1.0h-1.0zM590,108h1.0v1.0h-1.0zM575,109h1.0v1.0h-1.0zM552,65h1.0v1.0h-1.0zM414,102h1.0v1.0h-1.0zM481,68h1.0v1.0h-1.0zM437,284h1.0v1.0h-1.0zM457,121h1.0v1.0h-1.0zM531,85h1.0v1.0h-1.0zM517,88h1.0v1.0h-1.0zM536,161h1.0v1.0h-1.0zM415,159h1.0v1.0h-1.0zM507,199h1.0v1.0h-1.0zM548,88h1.0v1.0h-1.0zM457,168h1.0v1.0h-1.0zM501,225h1.0v1.0h-1.0zM401,183h1.0v1.0h-1.0zM464,115h1.0v1.0h-1.0zM512,102h1.0v1.0h-1.0zM411,77h1.0v1.0h-1.0zM425,181h1.0v1.0h-1.0zM432,59h1.0v1.0h-1.0zM522,137h1.0v1.0h-1.0zM446,159h1.0v1.0h-1.0zM514,82h1.0v1.0h-1.0zM424,155h1.0v1.0h-1.0zM448,163h1.0v1.0h-1.0zM566,161h1.0v1.0h-1.0zM414,158h1.0v1.0h-1.0zM503,104h1.0v1.0h-1.0zM515,250h1.0v1.0h-1.0zM527,106h1.0v1.0h-1.0zM386,197h1.0v1.0h-1.0zM521,151h1.0v1.0h-1.0zM463,171h1.0v1.0h-1.0zM513,113h1.0v1.0h-1.0zM505,235h1.0v1.0h-1.0zM504,208h1.0v1.0h-1.0zM521,101h1.0v1.0h-1.0zM470,114h1.0v1.0h-1.0zM566,160h1.0v1.0h-1.0zM586,117h1.0v1.0h-1.0zM495,151h1.0v1.0h-1.0zM401,98h1.0v1.0h-1.0zM511,269h1.0v1.0h-1.0zM521,143h1.0v1.0h-1.0zM402,64h1.0v1.0h-1.0zM538,241h1.0v1.0h-1.0zM564,118h1.0v1.0h-1.0zM558,154h1.0v1.0h-1.0zM561,89h1.0v1.0h-1.0zM530,231h1.0v1.0h-1.0zM526,117h1.0v1.0h-1.0zM533,156h1.0v1.0h-1.0zM489,150h1.0v1.0h-1.0zM433,179h1.0v1.0h-1.0zM552,170h1.0v1.0h-1.0zM529,155h1.0v1.0h-1.0zM392,190h1.0v1.0h-1.0zM507,194h1.0v1.0h-1.0zM427,168h1.0v1.0h-1.0zM550,85h1.0v1.0h-1.0zM516,84h1.0v1.0h-1.0zM510,256h1.0v1.0h-1.0zM395,79h1.0v1.0h-1.0zM418,180h1.0v1.0h-1.0zM508,123h1.0v1.0h-1.0zM508,276h1.0v1.0h-1.0zM523,131h1.0v1.0h-1.0zM466,169h1.0v1.0h-1.0zM499,280h1.0v1.0h-1.0zM497,168h1.0v1.0h-1.0zM443,292h1.0v1.0h-1.0zM566,138h1.0v1.0h-1.0zM543,182h1.0v1.0h-1.0zM401,101h1.0v1.0h-1.0zM507,115h1.0v1.0h-1.0zM572,159h1.0v1.0h-1.0zM562,87h1.0v1.0h-1.0zM492,113h1.0v1.0h-1.0zM503,132h1.0v1.0h-1.0zM494,163h1.0v1.0h-1.0zM551,86h1.0v1.0h-1.0zM536,168h1.0v1.0h-1.0zM514,117h1.0v1.0h-1.0zM527,127h1.0v1.0h-1.0zM531,178h1.0v1.0h-1.0zM420,72h1.0v1.0h-1.0zM565,146h1.0v1.0h-1.0zM476,173h1.0v1.0h-1.0zM394,151h1.0v1.0h-1.0zM526,107h1.0v1.0h-1.0zM421,108h1.0v1.0h-1.0zM571,148h1.0v1.0h-1.0zM529,75h1.0v1.0h-1.0zM410,111h1.0v1.0h-1.0zM576,161h1.0v1.0h-1.0zM519,85h1.0v1.0h-1.0zM563,106h1.0v1.0h-1.0zM480,169h1.0v1.0h-1.0zM427,108h1.0v1.0h-1.0zM514,207h1.0v1.0h-1.0zM509,106h1.0v1.0h-1.0zM504,232h1.0v1.0h-1.0zM430,137h1.0v1.0h-1.0zM417,183h1.0v1.0h-1.0zM447,110h1.0v1.0h-1.0zM415,114h1.0v1.0h-1.0zM582,100h1.0v1.0h-1.0zM471,125h1.0v1.0h-1.0zM471,68h1.0v1.0h-1.0zM550,189h1.0v1.0h-1.0zM553,78h1.0v1.0h-1.0zM413,165h1.0v1.0h-1.0zM533,67h1.0v1.0h-1.0zM496,210h1.0v1.0h-1.0zM496,291h1.0v1.0h-1.0zM438,283h1.0v1.0h-1.0zM572,92h1.0v1.0h-1.0zM430,133h1.0v1.0h-1.0zM530,152h1.0v1.0h-1.0zM411,170h1.0v1.0h-1.0zM550,164h1.0v1.0h-1.0zM457,293h1.0v1.0h-1.0zM551,159h1.0v1.0h-1.0zM408,136h1.0v1.0h-1.0zM526,220h1.0v1.0h-1.0zM502,195h1.0v1.0h-1.0zM508,262h1.0v1.0h-1.0zM508,283h1.0v1.0h-1.0zM418,103h1.0v1.0h-1.0zM558,174h1.0v1.0h-1.0zM524,124h1.0v1.0h-1.0zM460,112h1.0v1.0h-1.0zM570,131h1.0v1.0h-1.0zM521,181h1.0v1.0h-1.0zM414,103h1.0v1.0h-1.0zM511,267h1.0v1.0h-1.0zM496,190h1.0v1.0h-1.0zM498,131h1.0v1.0h-1.0zM564,99h1.0v1.0h-1.0zM559,151h1.0v1.0h-1.0zM506,199h1.0v1.0h-1.0zM470,165h1.0v1.0h-1.0zM446,177h1.0v1.0h-1.0zM518,270h1.0v1.0h-1.0zM450,113h1.0v1.0h-1.0zM514,247h1.0v1.0h-1.0zM474,160h1.0v1.0h-1.0zM556,162h1.0v1.0h-1.0zM525,154h1.0v1.0h-1.0zM430,178h1.0v1.0h-1.0zM526,164h1.0v1.0h-1.0zM514,100h1.0v1.0h-1.0zM495,188h1.0v1.0h-1.0zM457,154h1.0v1.0h-1.0zM435,165h1.0v1.0h-1.0zM521,94h1.0v1.0h-1.0zM502,183h1.0v1.0h-1.0zM498,189h1.0v1.0h-1.0zM387,75h1.0v1.0h-1.0zM551,185h1.0v1.0h-1.0zM411,182h1.0v1.0h-1.0zM500,62h1.0v1.0h-1.0zM467,126h1.0v1.0h-1.0zM419,184h1.0v1.0h-1.0zM551,166h1.0v1.0h-1.0zM576,156h1.0v1.0h-1.0zM444,144h1.0v1.0h-1.0zM509,107h1.0v1.0h-1.0zM559,164h1.0v1.0h-1.0zM501,154h1.0v1.0h-1.0zM519,173h1.0v1.0h-1.0zM400,117h1.0v1.0h-1.0zM507,188h1.0v1.0h-1.0zM536,246h1.0v1.0h-1.0zM517,213h1.0v1.0h-1.0zM531,150h1.0v1.0h-1.0zM542,171h1.0v1.0h-1.0zM463,170h1.0v1.0h-1.0zM508,239h1.0v1.0h-1.0zM526,228h1.0v1.0h-1.0zM526,271h1.0v1.0h-1.0zM503,219h1.0v1.0h-1.0zM576,95h1.0v1.0h-1.0zM507,235h1.0v1.0h-1.0zM486,294h1.0v1.0h-1.0zM483,69h1.0v1.0h-1.0zM539,84h1.0v1.0h-1.0z"/>
</g>
<line x1="103.6" y1="49.8" x2="351.0" y2="49.8" stroke="#aaa" stroke-width="1.2"/>
<line x1="351.0" y1="49.8" x2="351.0" y2="297.8" stroke="#aaa" stroke-width="1.2"/>
<line x1="103.6" y1="49.199999999999996" x2="103.6" y2="298.40000000000003" stroke="#222" stroke-width="1.4"/>
<line x1="103.0" y1="297.8" x2="351.6" y2="297.8" stroke="#222" stroke-width="1.4"/>
<path d="M97.1,244.7H103.6M97.1,185.0H103.6M97.1,127.3H103.6M97.1,71.4H103.6M101.4,226.7H103.6M101.4,216.2H103.6M101.4,208.8H103.6M99.6,203.0H103.6M101.4,198.2H103.6M101.4,194.2H103.6M101.4,190.8H103.6M101.4,187.7H103.6M101.4,167.6H103.6M101.4,157.5H103.6M101.4,150.3H103.6M99.6,144.7H103.6M101.4,140.1H103.6M101.4,136.2H103.6M101.4,132.9H103.6M101.4,129.9H103.6M101.4,110.5H103.6M101.4,100.6H103.6M101.4,93.6H103.6M99.6,88.2H103.6M101.4,83.8H103.6M101.4,80.1H103.6M101.4,76.8H103.6M101.4,74.0H103.6M101.4,54.6H103.6M97.1,272.0H103.6M101.4,258.5H103.6M101.4,285.0H103.6M101.4,292.0H103.6M101.4,265.0H103.6M101.4,279.0H103.6M156.0,297.8V304.3M215.4,297.8V304.3M273.0,297.8V304.3M328.6,297.8V304.3M173.9,297.8V300.0M184.3,297.8V300.0M191.8,297.8V300.0M197.5,297.8V301.8M202.2,297.8V300.0M206.2,297.8V300.0M209.6,297.8V300.0M212.7,297.8V300.0M232.7,297.8V300.0M242.9,297.8V300.0M250.1,297.8V300.0M255.7,297.8V301.8M260.2,297.8V300.0M264.1,297.8V300.0M267.4,297.8V300.0M270.4,297.8V300.0M289.7,297.8V300.0M299.5,297.8V300.0M306.5,297.8V300.0M311.9,297.8V301.8M316.3,297.8V300.0M320.0,297.8V300.0M323.2,297.8V300.0M326.1,297.8V300.0M345.3,297.8V300.0M128.7,297.8V304.3M105.5,297.8V304.3M112.0,297.8V300.0M120.0,297.8V300.0M137.0,297.8V300.0M145.0,297.8V300.0" stroke="#333" stroke-width="1.1" fill="none"/>
<line x1="374.5" y1="49.8" x2="621.5" y2="49.8" stroke="#aaa" stroke-width="1.2"/>
<line x1="621.5" y1="49.8" x2="621.5" y2="297.8" stroke="#aaa" stroke-width="1.2"/>
<line x1="374.5" y1="49.199999999999996" x2="374.5" y2="298.40000000000003" stroke="#222" stroke-width="1.4"/>
<line x1="373.9" y1="297.8" x2="622.1" y2="297.8" stroke="#222" stroke-width="1.4"/>
<path d="M368.0,244.7H374.5M368.0,185.0H374.5M368.0,127.3H374.5M368.0,71.4H374.5M372.3,226.7H374.5M372.3,216.2H374.5M372.3,208.8H374.5M370.5,203.0H374.5M372.3,198.2H374.5M372.3,194.2H374.5M372.3,190.8H374.5M372.3,187.7H374.5M372.3,167.6H374.5M372.3,157.5H374.5M372.3,150.3H374.5M370.5,144.7H374.5M372.3,140.1H374.5M372.3,136.2H374.5M372.3,132.9H374.5M372.3,129.9H374.5M372.3,110.5H374.5M372.3,100.6H374.5M372.3,93.6H374.5M370.5,88.2H374.5M372.3,83.8H374.5M372.3,80.1H374.5M372.3,76.8H374.5M372.3,74.0H374.5M372.3,54.6H374.5M368.0,272.0H374.5M372.3,258.5H374.5M372.3,285.0H374.5M372.3,292.0H374.5M372.3,265.0H374.5M372.3,279.0H374.5M426.9,297.8V304.3M486.3,297.8V304.3M543.9,297.8V304.3M599.5,297.8V304.3M444.8,297.8V300.0M455.2,297.8V300.0M462.7,297.8V300.0M468.4,297.8V301.8M473.1,297.8V300.0M477.1,297.8V300.0M480.5,297.8V300.0M483.6,297.8V300.0M503.6,297.8V300.0M513.8,297.8V300.0M521.0,297.8V300.0M526.6,297.8V301.8M531.1,297.8V300.0M535.0,297.8V300.0M538.3,297.8V300.0M541.3,297.8V300.0M560.6,297.8V300.0M570.4,297.8V300.0M577.4,297.8V300.0M582.8,297.8V301.8M587.2,297.8V300.0M590.9,297.8V300.0M594.1,297.8V300.0M597.0,297.8V300.0M616.2,297.8V300.0M399.6,297.8V304.3M376.4,297.8V304.3M382.9,297.8V300.0M390.9,297.8V300.0M407.9,297.8V300.0M415.9,297.8V300.0" stroke="#333" stroke-width="1.1" fill="none"/>
<text x="59.90" y="76.90" font-size="18.5" >10</text><text x="80.47" y="70.70" font-size="14.5" >5</text>
<text x="59.90" y="132.80" font-size="18.5" >10</text><text x="80.47" y="126.60" font-size="14.5" >4</text>
<text x="59.90" y="185.00" font-size="18.5" >10</text><text x="80.47" y="178.80" font-size="14.5" >3</text>
<text x="59.90" y="251.80" font-size="18.5" >10</text><text x="80.47" y="245.60" font-size="14.5" >2</text>
<text x="69.90" y="273.20" font-size="18.5" >0</text>
<text x="125.00" y="332.70" font-size="18.5" >0</text>
<text x="143.60" y="332.70" font-size="18.5" >10</text><text x="164.17" y="326.50" font-size="14.5" >2</text>
<text x="202.50" y="332.70" font-size="18.5" >10</text><text x="223.07" y="326.50" font-size="14.5" >3</text>
<text x="261.10" y="332.70" font-size="18.5" >10</text><text x="281.67" y="326.50" font-size="14.5" >4</text>
<text x="312.30" y="332.70" font-size="18.5" >10</text><text x="332.87" y="326.50" font-size="14.5" >5</text>
<text x="395.90" y="332.70" font-size="18.5" >0</text>
<text x="414.50" y="332.70" font-size="18.5" >10</text><text x="435.07" y="326.50" font-size="14.5" >2</text>
<text x="473.40" y="332.70" font-size="18.5" >10</text><text x="493.97" y="326.50" font-size="14.5" >3</text>
<text x="532.00" y="332.70" font-size="18.5" >10</text><text x="552.57" y="326.50" font-size="14.5" >4</text>
<text x="583.20" y="332.70" font-size="18.5" >10</text><text x="603.77" y="326.50" font-size="14.5" >5</text>
<text x="113.80" y="133.10" font-size="28" >10.6%</text>
<text x="261.30" y="237.40" font-size="28" >1.85%</text>
<text x="384.50" y="146.30" font-size="28" >21.8%</text>
<text x="516.70" y="216.10" font-size="28" >5.9%</text>
<path d="M147.9,66.9L171.2,64.2L198.5,62.8L228.6,64.2L246.4,69.6L249.2,80.6L242.3,91.5L224.5,102.5L190.3,105.2L160.2,99.7L139.7,92.9L138.3,76.5Z" fill="none" stroke="#08cc08" stroke-width="2.0" stroke-linejoin="round"/>
<path d="M275.7,98.5L287.4,103.6L291.3,109.4L295.1,127.8L295.6,157.9L293.2,173.4L285.4,197.7L277.7,205.4L268.0,211.2L257.3,203.5L246.6,179.2L245.2,156.9L245.7,136.6L254.4,113.3L263.1,102.6Z" fill="none" stroke="#08cc08" stroke-width="1.5" stroke-linejoin="round"/>
<path d="M419.3,66.9L452.1,63.6L484.9,63.3L517.8,69.6L520.5,80.6L512.3,94.3L495.9,105.2L474.0,112.9L452.1,114.8L430.2,107.9L413.8,95.6L411.0,77.8Z" fill="none" stroke="#08cc08" stroke-width="2.0" stroke-linejoin="round"/>
<path d="M542.4,79.2L552.0,82.0L560.0,92.0L564.3,110.7L563.0,140.0L558.0,165.0L548.0,183.0L537.0,191.5L527.0,185.0L518.0,165.0L513.7,140.0L513.7,118.9L520.0,100.0L530.0,86.0Z" fill="none" stroke="#08cc08" stroke-width="2.0" stroke-linejoin="round"/>
<text x="-1.20" y="22.60" font-size="40" text-anchor="start" font-weight="bold" font-style="normal" >a</text>
<text x="-1.40" y="865.50" font-size="41.5" text-anchor="start" font-weight="bold" font-style="normal" >b</text>
<text x="189.00" y="43.30" font-size="33.5" text-anchor="start" font-weight="normal" font-style="normal" >PBS</text>
<text x="458.00" y="42.70" font-size="33.5" text-anchor="start" font-weight="normal" font-style="normal" >IL-25</text>
<line x1="157.00" y1="419.00" x2="157.00" y2="778.10" stroke="#000" stroke-width="3.0" stroke-linecap="butt"/>
<line x1="142.00" y1="776.60" x2="393.40" y2="776.60" stroke="#000" stroke-width="3.0" stroke-linecap="butt"/>
<line x1="142.00" y1="776.60" x2="157.00" y2="776.60" stroke="#000" stroke-width="3.0" stroke-linecap="butt"/>
<text x="131.00" y="788.60" font-size="34" text-anchor="end" font-weight="normal" font-style="normal" >0</text>
<line x1="142.00" y1="657.90" x2="157.00" y2="657.90" stroke="#000" stroke-width="3.0" stroke-linecap="butt"/>
<text x="131.00" y="669.90" font-size="34" text-anchor="end" font-weight="normal" font-style="normal" >5</text>
<line x1="142.00" y1="539.20" x2="157.00" y2="539.20" stroke="#000" stroke-width="3.0" stroke-linecap="butt"/>
<text x="131.00" y="551.20" font-size="34" text-anchor="end" font-weight="normal" font-style="normal" >10</text>
<line x1="142.00" y1="420.50" x2="157.00" y2="420.50" stroke="#000" stroke-width="3.0" stroke-linecap="butt"/>
<text x="131.00" y="432.50" font-size="34" text-anchor="end" font-weight="normal" font-style="normal" >15</text>
<rect x="191.70" y="712.70" width="65.90" height="63.90" fill="none" stroke="#000" stroke-width="3.0"/>
<line x1="224.65" y1="776.60" x2="224.65" y2="791.30" stroke="#000" stroke-width="3.0" stroke-linecap="butt"/>
<rect x="293.60" y="598.00" width="65.80" height="178.60" fill="none" stroke="#000" stroke-width="3.0"/>
<line x1="326.50" y1="776.60" x2="326.50" y2="791.30" stroke="#000" stroke-width="3.0" stroke-linecap="butt"/>
<line x1="225.00" y1="708.20" x2="225.00" y2="712.70" stroke="#000" stroke-width="3.0" stroke-linecap="butt"/>
<line x1="207.50" y1="708.20" x2="242.70" y2="708.20" stroke="#000" stroke-width="3.0" stroke-linecap="butt"/>
<line x1="326.40" y1="580.50" x2="326.40" y2="613.70" stroke="#000" stroke-width="3.0" stroke-linecap="butt"/>
<line x1="308.20" y1="580.50" x2="344.80" y2="580.50" stroke="#000" stroke-width="3.0" stroke-linecap="butt"/>
<line x1="308.20" y1="613.70" x2="344.80" y2="613.70" stroke="#000" stroke-width="3.0" stroke-linecap="butt"/>
<circle cx="196.10" cy="698.70" r="5.3" fill="#000"/>
<circle cx="210.30" cy="694.90" r="5.3" fill="#000"/>
<circle cx="196.10" cy="710.50" r="5.3" fill="#000"/>
<circle cx="210.30" cy="706.00" r="5.3" fill="#000"/>
<circle cx="210.30" cy="717.40" r="5.3" fill="#000"/>
<circle cx="224.50" cy="715.50" r="5.3" fill="#000"/>
<circle cx="238.70" cy="718.40" r="5.3" fill="#000"/>
<circle cx="252.90" cy="716.50" r="5.3" fill="#000"/>
<circle cx="224.50" cy="729.10" r="5.3" fill="#000"/>
<circle cx="315.60" cy="537.50" r="5.4" fill="#021892"/>
<circle cx="337.10" cy="535.10" r="5.4" fill="#021892"/>
<circle cx="315.60" cy="569.10" r="5.4" fill="#021892"/>
<circle cx="337.10" cy="561.40" r="5.4" fill="#021892"/>
<circle cx="315.60" cy="586.80" r="5.4" fill="#021892"/>
<circle cx="337.10" cy="586.50" r="5.4" fill="#021892"/>
<circle cx="326.40" cy="600.40" r="5.4" fill="#021892"/>
<circle cx="326.40" cy="630.50" r="5.4" fill="#021892"/>
<circle cx="315.60" cy="682.90" r="5.4" fill="#021892"/>
<circle cx="337.10" cy="679.30" r="5.4" fill="#021892"/>
<line x1="222.00" y1="472.80" x2="333.50" y2="472.80" stroke="#000" stroke-width="2.3" stroke-linecap="butt"/>
<text x="252.40" y="473.10" font-size="28" text-anchor="start" font-weight="normal" font-style="normal" letter-spacing="1.4">****</text>
<line x1="624.80" y1="415.20" x2="624.80" y2="774.00" stroke="#000" stroke-width="3.0" stroke-linecap="butt"/>
<line x1="610.50" y1="772.50" x2="862.30" y2="772.50" stroke="#000" stroke-width="3.0" stroke-linecap="butt"/>
<line x1="610.50" y1="772.50" x2="624.80" y2="772.50" stroke="#000" stroke-width="3.0" stroke-linecap="butt"/>
<text x="599.00" y="784.50" font-size="34" text-anchor="end" font-weight="normal" font-style="normal" >0</text>
<line x1="610.50" y1="653.90" x2="624.80" y2="653.90" stroke="#000" stroke-width="3.0" stroke-linecap="butt"/>
<text x="599.00" y="665.90" font-size="34" text-anchor="end" font-weight="normal" font-style="normal" >10</text>
<line x1="610.50" y1="535.30" x2="624.80" y2="535.30" stroke="#000" stroke-width="3.0" stroke-linecap="butt"/>
<text x="599.00" y="547.30" font-size="34" text-anchor="end" font-weight="normal" font-style="normal" >20</text>
<line x1="610.50" y1="416.70" x2="624.80" y2="416.70" stroke="#000" stroke-width="3.0" stroke-linecap="butt"/>
<text x="599.00" y="428.70" font-size="34" text-anchor="end" font-weight="normal" font-style="normal" >30</text>
<rect x="660.00" y="664.50" width="65.30" height="108.00" fill="none" stroke="#000" stroke-width="3.0"/>
<line x1="692.65" y1="772.50" x2="692.65" y2="786.70" stroke="#000" stroke-width="3.0" stroke-linecap="butt"/>
<rect x="761.50" y="571.00" width="65.70" height="201.50" fill="none" stroke="#000" stroke-width="3.0"/>
<line x1="794.35" y1="772.50" x2="794.35" y2="786.70" stroke="#000" stroke-width="3.0" stroke-linecap="butt"/>
<line x1="692.40" y1="647.40" x2="692.40" y2="679.00" stroke="#000" stroke-width="3.0" stroke-linecap="butt"/>
<line x1="674.00" y1="647.40" x2="711.00" y2="647.40" stroke="#000" stroke-width="3.0" stroke-linecap="butt"/>
<line x1="674.00" y1="679.00" x2="711.00" y2="679.00" stroke="#000" stroke-width="3.0" stroke-linecap="butt"/>
<line x1="794.10" y1="546.30" x2="794.10" y2="593.00" stroke="#000" stroke-width="3.0" stroke-linecap="butt"/>
<line x1="775.80" y1="546.30" x2="813.00" y2="546.30" stroke="#000" stroke-width="3.0" stroke-linecap="butt"/>
<line x1="775.80" y1="593.00" x2="813.00" y2="593.00" stroke="#000" stroke-width="3.0" stroke-linecap="butt"/>
<circle cx="692.60" cy="557.90" r="5.5" fill="#000"/>
<circle cx="681.70" cy="642.10" r="5.5" fill="#000"/>
<circle cx="703.20" cy="642.10" r="5.5" fill="#000"/>
<circle cx="703.20" cy="661.70" r="5.5" fill="#000"/>
<circle cx="681.70" cy="671.00" r="5.5" fill="#000"/>
<circle cx="703.20" cy="674.70" r="5.5" fill="#000"/>
<circle cx="681.70" cy="683.80" r="5.5" fill="#000"/>
<circle cx="692.60" cy="705.30" r="5.5" fill="#000"/>
<circle cx="692.60" cy="728.00" r="5.5" fill="#000"/>
<circle cx="783.60" cy="466.90" r="5.5" fill="#021892"/>
<circle cx="804.60" cy="474.10" r="5.5" fill="#021892"/>
<circle cx="794.10" cy="515.80" r="5.5" fill="#021892"/>
<circle cx="783.60" cy="547.40" r="5.5" fill="#021892"/>
<circle cx="804.60" cy="548.80" r="5.5" fill="#021892"/>
<circle cx="794.10" cy="593.70" r="5.5" fill="#021892"/>
<circle cx="794.10" cy="605.70" r="5.5" fill="#021892"/>
<circle cx="783.60" cy="617.30" r="5.5" fill="#021892"/>
<circle cx="804.60" cy="623.60" r="5.5" fill="#021892"/>
<circle cx="794.10" cy="704.20" r="5.5" fill="#021892"/>
<line x1="688.00" y1="433.40" x2="799.40" y2="433.40" stroke="#000" stroke-width="2.3" stroke-linecap="butt"/>
<text x="728.20" y="434.00" font-size="28" text-anchor="start" font-weight="normal" font-style="normal" letter-spacing="1.4">**</text>
<circle cx="857.30" cy="397.20" r="7.5" fill="#000"/>
<circle cx="857.30" cy="432.20" r="7.5" fill="#2e3192"/>
<text x="874.80" y="408.90" font-size="33.5" text-anchor="start" font-weight="normal" font-style="normal" >PBS</text>
<text x="874.50" y="444.10" font-size="33.5" text-anchor="start" font-weight="normal" font-style="normal" >IL-25</text>
<circle cx="831.60" cy="870.80" r="7.6" fill="#000"/>
<circle cx="831.60" cy="905.50" r="7.6" fill="#2e3192"/>
<text x="847.50" y="882.60" font-size="33.5" text-anchor="start" font-weight="normal" font-style="normal" >PBS</text>
<text x="847.20" y="917.70" font-size="33.5" text-anchor="start" font-weight="normal" font-style="normal" >IL-25</text>
<line x1="157.40" y1="927.10" x2="157.40" y2="1285.50" stroke="#000" stroke-width="2.6" stroke-linecap="butt"/>
<line x1="147.30" y1="1284.20" x2="320.30" y2="1284.20" stroke="#000" stroke-width="2.6" stroke-linecap="butt"/>
<line x1="147.30" y1="1284.20" x2="157.40" y2="1284.20" stroke="#000" stroke-width="2.6" stroke-linecap="butt"/>
<text x="134.20" y="1296.20" font-size="34" text-anchor="end" font-weight="normal" font-style="normal" >0</text>
<line x1="147.30" y1="1165.60" x2="157.40" y2="1165.60" stroke="#000" stroke-width="2.6" stroke-linecap="butt"/>
<text x="134.20" y="1177.60" font-size="34" text-anchor="end" font-weight="normal" font-style="normal" >2</text>
<line x1="147.30" y1="1047.00" x2="157.40" y2="1047.00" stroke="#000" stroke-width="2.6" stroke-linecap="butt"/>
<text x="134.20" y="1059.00" font-size="34" text-anchor="end" font-weight="normal" font-style="normal" >4</text>
<line x1="147.30" y1="928.40" x2="157.40" y2="928.40" stroke="#000" stroke-width="2.6" stroke-linecap="butt"/>
<text x="134.20" y="940.40" font-size="34" text-anchor="end" font-weight="normal" font-style="normal" >6</text>
<rect x="170.60" y="1223.20" width="55.30" height="61.00" fill="none" stroke="#000" stroke-width="2.6"/>
<line x1="198.25" y1="1284.20" x2="198.25" y2="1295.00" stroke="#000" stroke-width="2.6" stroke-linecap="butt"/>
<rect x="253.30" y="1051.00" width="54.20" height="233.20" fill="none" stroke="#000" stroke-width="2.6"/>
<line x1="280.40" y1="1284.20" x2="280.40" y2="1295.00" stroke="#000" stroke-width="2.6" stroke-linecap="butt"/>
<line x1="198.20" y1="1214.40" x2="198.20" y2="1223.20" stroke="#000" stroke-width="2.6" stroke-linecap="butt"/>
<line x1="183.50" y1="1214.40" x2="212.80" y2="1214.40" stroke="#000" stroke-width="2.6" stroke-linecap="butt"/>
<line x1="280.40" y1="1032.10" x2="280.40" y2="1051.00" stroke="#000" stroke-width="2.6" stroke-linecap="butt"/>
<line x1="271.30" y1="1032.10" x2="294.50" y2="1032.10" stroke="#000" stroke-width="2.6" stroke-linecap="butt"/>
<circle cx="187.60" cy="1202.60" r="7.0" fill="#000"/>
<circle cx="219.60" cy="1215.50" r="7.0" fill="#000"/>
<circle cx="208.90" cy="1232.70" r="7.0" fill="#000"/>
<circle cx="187.60" cy="1242.30" r="7.0" fill="#000"/>
<circle cx="263.70" cy="1032.60" r="7.2" fill="#021892"/>
<circle cx="280.10" cy="1038.20" r="7.2" fill="#021892"/>
<circle cx="297.10" cy="1025.60" r="7.2" fill="#021892"/>
<circle cx="280.10" cy="1107.40" r="7.2" fill="#021892"/>
<text x="132.90" y="1332.00" font-size="33.5" text-anchor="start" font-weight="normal" font-style="normal" >Bone</text>
<text x="235.50" y="1332.00" font-size="33.5" text-anchor="start" font-weight="normal" font-style="normal" >Marrow</text>
<line x1="462.00" y1="926.00" x2="462.00" y2="1285.10" stroke="#000" stroke-width="2.6" stroke-linecap="butt"/>
<line x1="452.50" y1="1283.80" x2="625.80" y2="1283.80" stroke="#000" stroke-width="2.6" stroke-linecap="butt"/>
<line x1="452.50" y1="1283.80" x2="462.00" y2="1283.80" stroke="#000" stroke-width="2.6" stroke-linecap="butt"/>
<text x="440.50" y="1295.80" font-size="34" text-anchor="end" font-weight="normal" font-style="normal" >0</text>
<line x1="452.50" y1="1212.50" x2="462.00" y2="1212.50" stroke="#000" stroke-width="2.6" stroke-linecap="butt"/>
<text x="440.50" y="1224.50" font-size="34" text-anchor="end" font-weight="normal" font-style="normal" >50</text>
<line x1="452.50" y1="1141.20" x2="462.00" y2="1141.20" stroke="#000" stroke-width="2.6" stroke-linecap="butt"/>
<text x="440.50" y="1153.20" font-size="34" text-anchor="end" font-weight="normal" font-style="normal" >100</text>
<line x1="452.50" y1="1069.90" x2="462.00" y2="1069.90" stroke="#000" stroke-width="2.6" stroke-linecap="butt"/>
<text x="440.50" y="1081.90" font-size="34" text-anchor="end" font-weight="normal" font-style="normal" >150</text>
<line x1="452.50" y1="998.60" x2="462.00" y2="998.60" stroke="#000" stroke-width="2.6" stroke-linecap="butt"/>
<text x="440.50" y="1010.60" font-size="34" text-anchor="end" font-weight="normal" font-style="normal" >200</text>
<line x1="452.50" y1="927.30" x2="462.00" y2="927.30" stroke="#000" stroke-width="2.6" stroke-linecap="butt"/>
<text x="440.50" y="939.30" font-size="34" text-anchor="end" font-weight="normal" font-style="normal" >250</text>
<rect x="476.00" y="1283.00" width="54.50" height="0.80" fill="none" stroke="#000" stroke-width="2.6"/>
<line x1="503.25" y1="1283.80" x2="503.25" y2="1294.30" stroke="#000" stroke-width="2.6" stroke-linecap="butt"/>
<rect x="558.10" y="1072.40" width="54.30" height="211.40" fill="none" stroke="#000" stroke-width="2.6"/>
<line x1="585.25" y1="1283.80" x2="585.25" y2="1294.30" stroke="#000" stroke-width="2.6" stroke-linecap="butt"/>
<line x1="585.10" y1="1023.70" x2="585.10" y2="1072.40" stroke="#000" stroke-width="2.6" stroke-linecap="butt"/>
<line x1="570.50" y1="1023.70" x2="599.80" y2="1023.70" stroke="#000" stroke-width="2.6" stroke-linecap="butt"/>
<circle cx="492.00" cy="1282.40" r="7.0" fill="#000"/>
<circle cx="496.00" cy="1282.30" r="7.0" fill="#000"/>
<circle cx="510.50" cy="1282.00" r="7.0" fill="#000"/>
<circle cx="514.50" cy="1282.00" r="7.0" fill="#000"/>
<circle cx="574.30" cy="1157.40" r="7.2" fill="#021892"/>
<circle cx="595.70" cy="1145.70" r="7.2" fill="#021892"/>
<circle cx="585.10" cy="1033.90" r="7.2" fill="#021892"/>
<circle cx="585.10" cy="952.00" r="7.2" fill="#021892"/>
<text x="496.20" y="1331.20" font-size="33.5" text-anchor="start" font-weight="normal" font-style="normal" >Spleen</text>
<line x1="778.20" y1="927.60" x2="778.20" y2="1285.90" stroke="#000" stroke-width="2.6" stroke-linecap="butt"/>
<line x1="768.40" y1="1284.60" x2="939.30" y2="1284.60" stroke="#000" stroke-width="2.6" stroke-linecap="butt"/>
<line x1="768.40" y1="1284.60" x2="778.20" y2="1284.60" stroke="#000" stroke-width="2.6" stroke-linecap="butt"/>
<text x="752.00" y="1296.60" font-size="34" text-anchor="end" font-weight="normal" font-style="normal" >0</text>
<line x1="768.40" y1="1195.67" x2="778.20" y2="1195.67" stroke="#000" stroke-width="2.6" stroke-linecap="butt"/>
<text x="752.00" y="1207.67" font-size="34" text-anchor="end" font-weight="normal" font-style="normal" >500</text>
<line x1="768.40" y1="1106.75" x2="778.20" y2="1106.75" stroke="#000" stroke-width="2.6" stroke-linecap="butt"/>
<text x="752.00" y="1118.75" font-size="34" text-anchor="end" font-weight="normal" font-style="normal" >1000</text>
<line x1="768.40" y1="1017.82" x2="778.20" y2="1017.82" stroke="#000" stroke-width="2.6" stroke-linecap="butt"/>
<text x="752.00" y="1029.82" font-size="34" text-anchor="end" font-weight="normal" font-style="normal" >1500</text>
<line x1="768.40" y1="928.90" x2="778.20" y2="928.90" stroke="#000" stroke-width="2.6" stroke-linecap="butt"/>
<text x="752.00" y="940.90" font-size="34" text-anchor="end" font-weight="normal" font-style="normal" >2000</text>
<rect x="792.00" y="1284.40" width="54.00" height="0.20" fill="none" stroke="#000" stroke-width="2.6"/>
<line x1="819.00" y1="1284.60" x2="819.00" y2="1294.10" stroke="#000" stroke-width="2.6" stroke-linecap="butt"/>
<rect x="874.30" y="1140.40" width="54.30" height="144.20" fill="none" stroke="#000" stroke-width="2.6"/>
<line x1="901.45" y1="1284.60" x2="901.45" y2="1294.10" stroke="#000" stroke-width="2.6" stroke-linecap="butt"/>
<line x1="901.10" y1="1125.20" x2="901.10" y2="1140.40" stroke="#000" stroke-width="2.6" stroke-linecap="butt"/>
<line x1="890.50" y1="1125.20" x2="914.90" y2="1125.20" stroke="#000" stroke-width="2.6" stroke-linecap="butt"/>
<circle cx="808.50" cy="1284.50" r="7.0" fill="#000"/>
<circle cx="812.50" cy="1284.50" r="7.0" fill="#000"/>
<circle cx="826.00" cy="1284.50" r="7.0" fill="#000"/>
<circle cx="830.50" cy="1284.50" r="7.0" fill="#000"/>
<circle cx="901.10" cy="1109.90" r="7.2" fill="#021892"/>
<circle cx="890.50" cy="1128.20" r="7.2" fill="#021892"/>
<circle cx="911.80" cy="1139.50" r="7.2" fill="#021892"/>
<circle cx="901.10" cy="1183.80" r="7.2" fill="#021892"/>
<text x="823.70" y="1331.00" font-size="33.5" text-anchor="start" font-weight="normal" font-style="normal" >Lung</text>
<text transform="translate(27.20,566.00) rotate(-90)" x="0" y="0" font-size="33.5" text-anchor="middle">Lung Ly6G<tspan font-size="19.5" dy="-12.3">int</tspan><tspan dy="12.3">SiglecF</tspan><tspan font-size="19.5" dy="-13">+</tspan></text>
<text transform="translate(67.50,567.20) rotate(-90)" x="0" y="0" font-size="33.5" text-anchor="middle">cells (%)</text>
<text transform="translate(492.50,572.80) rotate(-90)" x="0" y="0" font-size="33.5" text-anchor="middle">Lung Ly6G<tspan font-size="19.5" dy="-13.3">high</tspan><tspan dy="13.3">SiglecF</tspan><tspan font-size="19.5" dy="-13">−</tspan></text>
<text transform="translate(532.40,573.60) rotate(-90)" x="0" y="0" font-size="33.5" text-anchor="middle">cells (%)</text>
<text transform="translate(55.20,1092.60) rotate(-90)" x="0" y="0" font-size="33.5" text-anchor="middle"><tspan font-style="italic">Ear11</tspan> fold change relative to</text>
<text transform="translate(95.40,1093.40) rotate(-90)" x="0" y="0" font-size="33.5" text-anchor="middle">PBS-treated</text>
<text transform="translate(43.50,124.30) rotate(-90)" x="0" y="0" font-size="34.0" text-anchor="middle">Ly6G</text>
<text x="224.50" y="371.60" font-size="33.5" text-anchor="start" font-weight="normal" font-style="normal" >SiglecF</text>
<line x1="32.50" y1="275.00" x2="32.50" y2="181.00" stroke="#000" stroke-width="4.0" stroke-linecap="butt"/>
<path d="M26,182.7 L32.5,170.6 L39,182.7 Z" fill="#000"/>
<line x1="131.50" y1="360.00" x2="207.00" y2="360.00" stroke="#000" stroke-width="4.0" stroke-linecap="butt"/>
<path d="M206,353.6 L217.5,360 L206,366.4 Z" fill="#000"/>
</svg>
</body></html>
